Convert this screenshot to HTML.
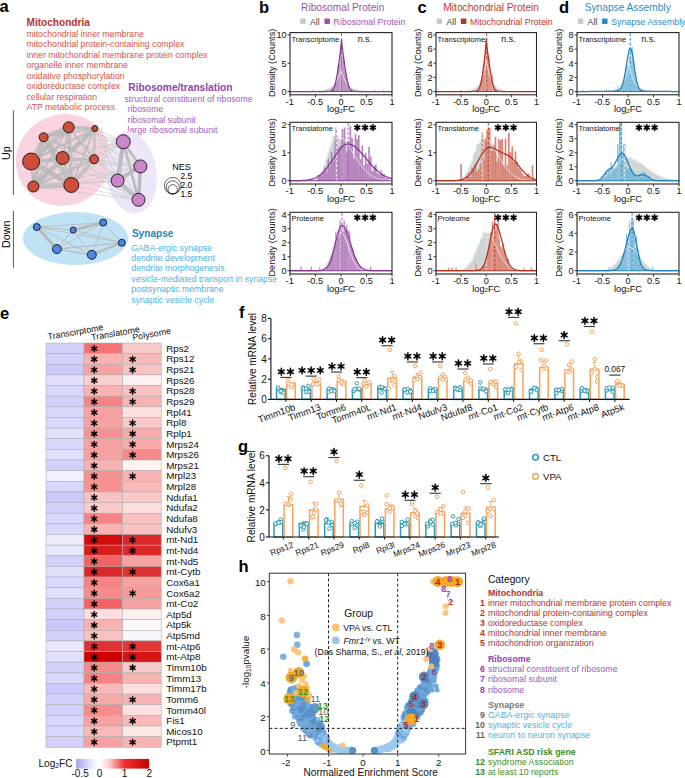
<!DOCTYPE html><html><head><meta charset="utf-8"><style>html,body{margin:0;padding:0;background:#fff;}svg{display:block;font-family:"Liberation Sans",sans-serif;}</style></head><body>
<svg width="685" height="778" viewBox="0 0 685 778">
<text x="-0.50" y="12.30" font-size="16.5" fill="#000" font-weight="bold" text-anchor="start" >a</text>
<text x="26.50" y="26.00" font-size="10.1" fill="#b5352a" font-weight="bold" text-anchor="start" >Mitochondria</text>
<text x="26.50" y="37.00" font-size="8.7" fill="#d4553f" font-weight="normal" text-anchor="start" >mitochondrial inner membrane</text>
<text x="26.50" y="47.47" font-size="8.7" fill="#d4553f" font-weight="normal" text-anchor="start" >mitochondrial protein-containing complex</text>
<text x="26.50" y="57.94" font-size="8.7" fill="#d4553f" font-weight="normal" text-anchor="start" >inner mitochondrial membrane protein complex</text>
<text x="26.50" y="68.41" font-size="8.7" fill="#d4553f" font-weight="normal" text-anchor="start" >organelle inner membrane</text>
<text x="26.50" y="78.88" font-size="8.7" fill="#d4553f" font-weight="normal" text-anchor="start" >oxidative phosphorylation</text>
<text x="26.50" y="89.35" font-size="8.7" fill="#d4553f" font-weight="normal" text-anchor="start" >oxidoreductase complex</text>
<text x="26.50" y="99.82" font-size="8.7" fill="#d4553f" font-weight="normal" text-anchor="start" >cellular respiration</text>
<text x="26.50" y="110.29" font-size="8.7" fill="#d4553f" font-weight="normal" text-anchor="start" >ATP metabolic process</text>
<text x="128.30" y="91.00" font-size="10.2" fill="#8e44a8" font-weight="bold" text-anchor="start" >Ribosome/translation</text>
<text x="124.50" y="101.70" font-size="8.7" fill="#a35bbf" font-weight="normal" text-anchor="start" >structural constituent of ribosome</text>
<text x="127.50" y="112.17" font-size="8.7" fill="#a35bbf" font-weight="normal" text-anchor="start" >ribosome</text>
<text x="127.50" y="122.64" font-size="8.7" fill="#a35bbf" font-weight="normal" text-anchor="start" >ribosomal subunit</text>
<text x="127.50" y="133.11" font-size="8.7" fill="#a35bbf" font-weight="normal" text-anchor="start" >large ribosomal subunit</text>
<text x="0.00" y="0.00" font-size="10.7" fill="#000" font-weight="normal" text-anchor="middle" transform="translate(10.3,153.2) rotate(-90)">Up</text>
<line x1="13.40" y1="110.40" x2="13.40" y2="194.90" stroke="#444" stroke-width="0.9" />
<text x="0.00" y="0.00" font-size="10.7" fill="#000" font-weight="normal" text-anchor="middle" transform="translate(10.3,234.3) rotate(-90)">Down</text>
<line x1="13.40" y1="211.00" x2="13.40" y2="267.80" stroke="#444" stroke-width="0.9" />
<ellipse cx="63.50" cy="160.00" rx="48.00" ry="45.50" fill="#f9d3e0" transform="rotate(-25 63.5 160)"/>
<ellipse cx="131.00" cy="172.50" rx="25.50" ry="41.50" fill="#ede6f9" transform="rotate(-8 131 172.5)"/>
<ellipse cx="75.50" cy="238.50" rx="52.50" ry="26.50" fill="#c0e2f5" />
<line x1="68.70" y1="127.30" x2="43.60" y2="137.20" stroke="#b9b9b9" stroke-width="4" stroke-opacity="0.85"/>
<line x1="68.70" y1="127.30" x2="94.90" y2="128.50" stroke="#b9b9b9" stroke-width="3" stroke-opacity="0.85"/>
<line x1="68.70" y1="127.30" x2="31.10" y2="161.50" stroke="#b9b9b9" stroke-width="5" stroke-opacity="0.85"/>
<line x1="68.70" y1="127.30" x2="62.60" y2="158.00" stroke="#b9b9b9" stroke-width="2" stroke-opacity="0.85"/>
<line x1="68.70" y1="127.30" x2="94.10" y2="159.20" stroke="#b9b9b9" stroke-width="2" stroke-opacity="0.85"/>
<line x1="68.70" y1="127.30" x2="33.40" y2="186.50" stroke="#b9b9b9" stroke-width="2" stroke-opacity="0.85"/>
<line x1="68.70" y1="127.30" x2="71.30" y2="185.00" stroke="#b9b9b9" stroke-width="4" stroke-opacity="0.85"/>
<line x1="43.60" y1="137.20" x2="94.90" y2="128.50" stroke="#b9b9b9" stroke-width="2" stroke-opacity="0.85"/>
<line x1="43.60" y1="137.20" x2="31.10" y2="161.50" stroke="#b9b9b9" stroke-width="3" stroke-opacity="0.85"/>
<line x1="43.60" y1="137.20" x2="62.60" y2="158.00" stroke="#b9b9b9" stroke-width="2" stroke-opacity="0.85"/>
<line x1="43.60" y1="137.20" x2="94.10" y2="159.20" stroke="#b9b9b9" stroke-width="2" stroke-opacity="0.85"/>
<line x1="43.60" y1="137.20" x2="33.40" y2="186.50" stroke="#b9b9b9" stroke-width="5" stroke-opacity="0.85"/>
<line x1="43.60" y1="137.20" x2="71.30" y2="185.00" stroke="#b9b9b9" stroke-width="5" stroke-opacity="0.85"/>
<line x1="94.90" y1="128.50" x2="31.10" y2="161.50" stroke="#b9b9b9" stroke-width="2" stroke-opacity="0.85"/>
<line x1="94.90" y1="128.50" x2="62.60" y2="158.00" stroke="#b9b9b9" stroke-width="3" stroke-opacity="0.85"/>
<line x1="94.90" y1="128.50" x2="94.10" y2="159.20" stroke="#b9b9b9" stroke-width="2" stroke-opacity="0.85"/>
<line x1="94.90" y1="128.50" x2="33.40" y2="186.50" stroke="#b9b9b9" stroke-width="5" stroke-opacity="0.85"/>
<line x1="94.90" y1="128.50" x2="71.30" y2="185.00" stroke="#b9b9b9" stroke-width="2" stroke-opacity="0.85"/>
<line x1="31.10" y1="161.50" x2="62.60" y2="158.00" stroke="#b9b9b9" stroke-width="2" stroke-opacity="0.85"/>
<line x1="31.10" y1="161.50" x2="94.10" y2="159.20" stroke="#b9b9b9" stroke-width="3" stroke-opacity="0.85"/>
<line x1="31.10" y1="161.50" x2="33.40" y2="186.50" stroke="#b9b9b9" stroke-width="2" stroke-opacity="0.85"/>
<line x1="31.10" y1="161.50" x2="71.30" y2="185.00" stroke="#b9b9b9" stroke-width="5" stroke-opacity="0.85"/>
<line x1="62.60" y1="158.00" x2="94.10" y2="159.20" stroke="#b9b9b9" stroke-width="2" stroke-opacity="0.85"/>
<line x1="62.60" y1="158.00" x2="33.40" y2="186.50" stroke="#b9b9b9" stroke-width="3" stroke-opacity="0.85"/>
<line x1="62.60" y1="158.00" x2="71.30" y2="185.00" stroke="#b9b9b9" stroke-width="2" stroke-opacity="0.85"/>
<line x1="94.10" y1="159.20" x2="33.40" y2="186.50" stroke="#b9b9b9" stroke-width="3" stroke-opacity="0.85"/>
<line x1="94.10" y1="159.20" x2="71.30" y2="185.00" stroke="#b9b9b9" stroke-width="4" stroke-opacity="0.85"/>
<line x1="33.40" y1="186.50" x2="71.30" y2="185.00" stroke="#b9b9b9" stroke-width="5" stroke-opacity="0.85"/>
<line x1="123.30" y1="141.70" x2="140.40" y2="166.40" stroke="#b9b9b9" stroke-width="2.5" />
<line x1="123.30" y1="141.70" x2="117.60" y2="180.50" stroke="#b9b9b9" stroke-width="4" />
<line x1="123.30" y1="141.70" x2="138.50" y2="199.80" stroke="#b9b9b9" stroke-width="2.5" />
<line x1="140.40" y1="166.40" x2="117.60" y2="180.50" stroke="#b9b9b9" stroke-width="4" />
<line x1="140.40" y1="166.40" x2="138.50" y2="199.80" stroke="#b9b9b9" stroke-width="3.5" />
<line x1="117.60" y1="180.50" x2="138.50" y2="199.80" stroke="#b9b9b9" stroke-width="4" />
<line x1="68.70" y1="127.30" x2="123.30" y2="141.70" stroke="#c8c8c8" stroke-width="0.7" />
<line x1="68.70" y1="127.30" x2="140.40" y2="166.40" stroke="#c8c8c8" stroke-width="0.7" />
<line x1="68.70" y1="127.30" x2="117.60" y2="180.50" stroke="#c8c8c8" stroke-width="0.7" />
<line x1="68.70" y1="127.30" x2="138.50" y2="199.80" stroke="#c8c8c8" stroke-width="0.7" />
<line x1="43.60" y1="137.20" x2="123.30" y2="141.70" stroke="#c8c8c8" stroke-width="0.7" />
<line x1="43.60" y1="137.20" x2="140.40" y2="166.40" stroke="#c8c8c8" stroke-width="0.7" />
<line x1="43.60" y1="137.20" x2="117.60" y2="180.50" stroke="#c8c8c8" stroke-width="0.7" />
<line x1="43.60" y1="137.20" x2="138.50" y2="199.80" stroke="#c8c8c8" stroke-width="0.7" />
<line x1="94.90" y1="128.50" x2="123.30" y2="141.70" stroke="#c8c8c8" stroke-width="0.7" />
<line x1="94.90" y1="128.50" x2="140.40" y2="166.40" stroke="#c8c8c8" stroke-width="0.7" />
<line x1="94.90" y1="128.50" x2="117.60" y2="180.50" stroke="#c8c8c8" stroke-width="0.7" />
<line x1="94.90" y1="128.50" x2="138.50" y2="199.80" stroke="#c8c8c8" stroke-width="0.7" />
<line x1="31.10" y1="161.50" x2="123.30" y2="141.70" stroke="#c8c8c8" stroke-width="0.7" />
<line x1="31.10" y1="161.50" x2="140.40" y2="166.40" stroke="#c8c8c8" stroke-width="0.7" />
<line x1="31.10" y1="161.50" x2="117.60" y2="180.50" stroke="#c8c8c8" stroke-width="0.7" />
<line x1="31.10" y1="161.50" x2="138.50" y2="199.80" stroke="#c8c8c8" stroke-width="0.7" />
<line x1="62.60" y1="158.00" x2="123.30" y2="141.70" stroke="#c8c8c8" stroke-width="0.7" />
<line x1="62.60" y1="158.00" x2="140.40" y2="166.40" stroke="#c8c8c8" stroke-width="0.7" />
<line x1="62.60" y1="158.00" x2="117.60" y2="180.50" stroke="#c8c8c8" stroke-width="0.7" />
<line x1="62.60" y1="158.00" x2="138.50" y2="199.80" stroke="#c8c8c8" stroke-width="0.7" />
<line x1="94.10" y1="159.20" x2="123.30" y2="141.70" stroke="#c8c8c8" stroke-width="0.7" />
<line x1="94.10" y1="159.20" x2="140.40" y2="166.40" stroke="#c8c8c8" stroke-width="0.7" />
<line x1="94.10" y1="159.20" x2="117.60" y2="180.50" stroke="#c8c8c8" stroke-width="0.7" />
<line x1="94.10" y1="159.20" x2="138.50" y2="199.80" stroke="#c8c8c8" stroke-width="0.7" />
<line x1="33.40" y1="186.50" x2="123.30" y2="141.70" stroke="#c8c8c8" stroke-width="0.7" />
<line x1="33.40" y1="186.50" x2="140.40" y2="166.40" stroke="#c8c8c8" stroke-width="0.7" />
<line x1="33.40" y1="186.50" x2="117.60" y2="180.50" stroke="#c8c8c8" stroke-width="0.7" />
<line x1="33.40" y1="186.50" x2="138.50" y2="199.80" stroke="#c8c8c8" stroke-width="0.7" />
<line x1="71.30" y1="185.00" x2="123.30" y2="141.70" stroke="#c8c8c8" stroke-width="0.7" />
<line x1="71.30" y1="185.00" x2="140.40" y2="166.40" stroke="#c8c8c8" stroke-width="0.7" />
<line x1="71.30" y1="185.00" x2="117.60" y2="180.50" stroke="#c8c8c8" stroke-width="0.7" />
<line x1="71.30" y1="185.00" x2="138.50" y2="199.80" stroke="#c8c8c8" stroke-width="0.7" />
<circle cx="68.70" cy="127.30" r="5.50" fill="#cd4f39" stroke="#000" stroke-width="0.8" />
<circle cx="43.60" cy="137.20" r="4.50" fill="#cd4f39" stroke="#000" stroke-width="0.8" />
<circle cx="94.90" cy="128.50" r="3.00" fill="#cd4f39" stroke="#000" stroke-width="0.8" />
<circle cx="31.10" cy="161.50" r="8.50" fill="#cd4f39" stroke="#000" stroke-width="0.8" />
<circle cx="62.60" cy="158.00" r="6.50" fill="#cd4f39" stroke="#000" stroke-width="0.8" />
<circle cx="94.10" cy="159.20" r="4.50" fill="#cd4f39" stroke="#000" stroke-width="0.8" />
<circle cx="33.40" cy="186.50" r="5.50" fill="#cd4f39" stroke="#000" stroke-width="0.8" />
<circle cx="71.30" cy="185.00" r="7.50" fill="#cd4f39" stroke="#000" stroke-width="0.8" />
<circle cx="123.30" cy="141.70" r="7.00" fill="#cc85c8" stroke="#000" stroke-width="0.8" />
<circle cx="140.40" cy="166.40" r="6.50" fill="#cc85c8" stroke="#000" stroke-width="0.8" />
<circle cx="117.60" cy="180.50" r="6.50" fill="#cc85c8" stroke="#000" stroke-width="0.8" />
<circle cx="138.50" cy="199.80" r="6.50" fill="#cc85c8" stroke="#000" stroke-width="0.8" />
<line x1="36.80" y1="227.00" x2="73.20" y2="230.00" stroke="#bababa" stroke-width="1.02" />
<line x1="36.80" y1="227.00" x2="103.20" y2="222.60" stroke="#bababa" stroke-width="0.85" />
<line x1="36.80" y1="227.00" x2="121.80" y2="242.70" stroke="#bababa" stroke-width="0.85" />
<line x1="36.80" y1="227.00" x2="56.90" y2="249.10" stroke="#bababa" stroke-width="2.975" />
<line x1="73.20" y1="230.00" x2="103.20" y2="222.60" stroke="#bababa" stroke-width="2.975" />
<line x1="73.20" y1="230.00" x2="121.80" y2="242.70" stroke="#bababa" stroke-width="0.85" />
<line x1="73.20" y1="230.00" x2="56.90" y2="249.10" stroke="#bababa" stroke-width="0.85" />
<line x1="103.20" y1="222.60" x2="121.80" y2="242.70" stroke="#bababa" stroke-width="0.85" />
<line x1="103.20" y1="222.60" x2="56.90" y2="249.10" stroke="#bababa" stroke-width="0.85" />
<line x1="121.80" y1="242.70" x2="56.90" y2="249.10" stroke="#bababa" stroke-width="1.275" />
<line x1="56.90" y1="249.10" x2="91.80" y2="254.80" stroke="#bababa" stroke-width="1.275" />
<line x1="73.20" y1="230.00" x2="91.80" y2="254.80" stroke="#bababa" stroke-width="0.85" />
<line x1="103.20" y1="222.60" x2="91.80" y2="254.80" stroke="#bababa" stroke-width="0.85" />
<line x1="36.80" y1="227.00" x2="91.80" y2="254.80" stroke="#bababa" stroke-width="0.85" />
<line x1="121.80" y1="242.70" x2="91.80" y2="254.80" stroke="#bababa" stroke-width="2.125" />
<circle cx="36.80" cy="227.00" r="3.50" fill="#4f86e6" stroke="#000" stroke-width="0.8" />
<circle cx="73.20" cy="230.00" r="3.00" fill="#4f86e6" stroke="#000" stroke-width="0.8" />
<circle cx="103.20" cy="222.60" r="3.50" fill="#4f86e6" stroke="#000" stroke-width="0.8" />
<circle cx="121.80" cy="242.70" r="3.50" fill="#4f86e6" stroke="#000" stroke-width="0.8" />
<circle cx="56.90" cy="249.10" r="4.50" fill="#4f86e6" stroke="#000" stroke-width="0.8" />
<circle cx="91.80" cy="254.80" r="4.50" fill="#4f86e6" stroke="#000" stroke-width="0.8" />
<text x="181.50" y="169.50" font-size="9" fill="#000" font-weight="normal" text-anchor="middle" >NES</text>
<circle cx="172.70" cy="185.70" r="8.30" fill="none" stroke="#000" stroke-width="0.6" />
<circle cx="172.70" cy="187.40" r="6.60" fill="none" stroke="#000" stroke-width="0.6" />
<circle cx="172.70" cy="189.30" r="4.70" fill="none" stroke="#000" stroke-width="0.6" />
<text x="180.50" y="178.50" font-size="8.5" fill="#000" font-weight="normal" text-anchor="start" >2.5</text>
<text x="180.50" y="187.50" font-size="8.5" fill="#000" font-weight="normal" text-anchor="start" >2.0</text>
<text x="180.50" y="196.50" font-size="8.5" fill="#000" font-weight="normal" text-anchor="start" >1.5</text>
<text x="131.90" y="236.50" font-size="10.1" fill="#2b86b3" font-weight="bold" text-anchor="start" >Synapse</text>
<text x="131.30" y="250.50" font-size="8.7" fill="#4cb2e3" font-weight="normal" text-anchor="start" >GABA-ergic synapse</text>
<text x="131.30" y="260.97" font-size="8.7" fill="#4cb2e3" font-weight="normal" text-anchor="start" >dendrite development</text>
<text x="131.30" y="271.44" font-size="8.7" fill="#4cb2e3" font-weight="normal" text-anchor="start" >dendrite morphogenesis</text>
<text x="131.30" y="281.91" font-size="8.7" fill="#4cb2e3" font-weight="normal" text-anchor="start" >vesicle-mediated transport in synapse</text>
<text x="131.30" y="292.38" font-size="8.7" fill="#4cb2e3" font-weight="normal" text-anchor="start" >postsynaptic membrane</text>
<text x="131.30" y="302.85" font-size="8.7" fill="#4cb2e3" font-weight="normal" text-anchor="start" >synaptic vesicle cycle</text>
<path d="M290.00,91.50h0.85V91.28h-0.85ZM290.85,91.50h0.85V91.27h-0.85ZM291.70,91.50h0.85V91.27h-0.85ZM292.55,91.50h0.85V91.28h-0.85ZM293.40,91.50h0.85V91.27h-0.85ZM294.25,91.50h0.85V91.28h-0.85ZM295.10,91.50h0.85V91.27h-0.85ZM295.95,91.50h0.85V91.27h-0.85ZM296.80,91.50h0.85V91.28h-0.85ZM297.65,91.50h0.85V91.28h-0.85ZM298.50,91.50h0.85V91.27h-0.85ZM299.35,91.50h0.85V91.28h-0.85ZM300.20,91.50h0.85V91.27h-0.85ZM301.05,91.50h0.85V91.29h-0.85ZM301.90,91.50h0.85V91.28h-0.85ZM302.75,91.50h0.85V91.27h-0.85ZM303.60,91.50h0.85V91.28h-0.85ZM304.45,91.50h0.85V91.26h-0.85ZM305.30,91.50h0.85V91.26h-0.85ZM306.15,91.50h0.85V91.28h-0.85ZM307.00,91.50h0.85V91.28h-0.85ZM307.85,91.50h0.85V91.27h-0.85ZM308.70,91.50h0.85V91.26h-0.85ZM309.55,91.50h0.85V91.28h-0.85ZM310.40,91.50h0.85V91.28h-0.85ZM311.25,91.50h0.85V91.28h-0.85ZM312.10,91.50h0.85V91.28h-0.85ZM312.95,91.50h0.85V91.28h-0.85ZM313.80,91.50h0.85V91.28h-0.85ZM314.65,91.50h0.85V91.27h-0.85ZM315.50,91.50h0.85V91.28h-0.85ZM316.35,91.50h0.85V91.28h-0.85ZM317.20,91.50h0.85V90.95h-0.85ZM318.05,91.50h0.85V90.86h-0.85ZM318.90,91.50h0.85V90.78h-0.85ZM319.75,91.50h0.85V90.70h-0.85ZM320.60,91.50h0.85V90.51h-0.85ZM321.45,91.50h0.85V90.41h-0.85ZM322.30,91.50h0.85V90.24h-0.85ZM323.15,91.50h0.85V90.13h-0.85ZM324.00,91.50h0.85V89.82h-0.85ZM324.85,91.50h0.85V89.61h-0.85ZM325.70,91.50h0.85V89.50h-0.85ZM326.55,91.50h0.85V89.17h-0.85ZM327.40,91.50h0.85V88.74h-0.85ZM328.25,91.50h0.85V88.36h-0.85ZM329.10,91.50h0.85V87.84h-0.85ZM329.95,91.50h0.85V87.54h-0.85ZM330.80,91.50h0.85V86.80h-0.85ZM331.65,91.50h0.85V86.23h-0.85ZM332.50,91.50h0.85V85.71h-0.85ZM333.35,91.50h0.85V84.72h-0.85ZM334.20,91.50h0.85V83.55h-0.85ZM335.05,91.50h0.85V82.47h-0.85ZM335.90,91.50h0.85V81.56h-0.85ZM336.75,91.50h0.85V80.08h-0.85ZM337.60,91.50h0.85V79.20h-0.85ZM338.45,91.50h0.85V77.19h-0.85ZM339.30,91.50h0.85V74.27h-0.85ZM340.15,91.50h0.85V72.61h-0.85ZM341.00,91.50h0.85V73.07h-0.85ZM341.85,91.50h0.85V74.69h-0.85ZM342.70,91.50h0.85V76.51h-0.85ZM343.55,91.50h0.85V78.38h-0.85ZM344.40,91.50h0.85V80.32h-0.85ZM345.25,91.50h0.85V81.62h-0.85ZM346.10,91.50h0.85V82.77h-0.85ZM346.95,91.50h0.85V83.63h-0.85ZM347.80,91.50h0.85V84.76h-0.85ZM348.65,91.50h0.85V85.66h-0.85ZM349.50,91.50h0.85V86.32h-0.85ZM350.35,91.50h0.85V87.16h-0.85ZM351.20,91.50h0.85V87.69h-0.85ZM352.05,91.50h0.85V87.92h-0.85ZM352.90,91.50h0.85V88.27h-0.85ZM353.75,91.50h0.85V88.77h-0.85ZM354.60,91.50h0.85V89.15h-0.85ZM355.45,91.50h0.85V89.49h-0.85ZM356.30,91.50h0.85V89.67h-0.85ZM357.15,91.50h0.85V89.82h-0.85ZM358.00,91.50h0.85V90.05h-0.85ZM358.85,91.50h0.85V90.26h-0.85ZM359.70,91.50h0.85V90.37h-0.85ZM360.55,91.50h0.85V90.57h-0.85ZM361.40,91.50h0.85V90.66h-0.85ZM362.25,91.50h0.85V90.73h-0.85ZM363.10,91.50h0.85V90.85h-0.85ZM363.95,91.50h0.85V90.94h-0.85ZM364.80,91.50h0.85V91.28h-0.85ZM365.65,91.50h0.85V91.27h-0.85ZM366.50,91.50h0.85V91.26h-0.85ZM367.35,91.50h0.85V91.29h-0.85ZM368.20,91.50h0.85V91.27h-0.85ZM369.05,91.50h0.85V91.27h-0.85ZM369.90,91.50h0.85V91.27h-0.85ZM370.75,91.50h0.85V91.27h-0.85ZM371.60,91.50h0.85V91.27h-0.85ZM372.45,91.50h0.85V91.27h-0.85ZM373.30,91.50h0.85V91.27h-0.85ZM374.15,91.50h0.85V91.28h-0.85ZM375.00,91.50h0.85V91.28h-0.85ZM375.85,91.50h0.85V91.27h-0.85ZM376.70,91.50h0.85V91.27h-0.85ZM377.55,91.50h0.85V91.28h-0.85ZM378.40,91.50h0.85V91.27h-0.85ZM379.25,91.50h0.85V91.27h-0.85ZM380.10,91.50h0.85V91.28h-0.85ZM380.95,91.50h0.85V91.28h-0.85ZM381.80,91.50h0.85V91.27h-0.85ZM382.65,91.50h0.85V91.27h-0.85ZM383.50,91.50h0.85V91.27h-0.85ZM384.35,91.50h0.85V91.27h-0.85ZM385.20,91.50h0.85V91.28h-0.85ZM386.05,91.50h0.85V91.28h-0.85ZM386.90,91.50h0.85V91.28h-0.85ZM387.75,91.50h0.85V91.27h-0.85ZM388.60,91.50h0.85V91.27h-0.85ZM389.45,91.50h0.85V91.27h-0.85ZM390.30,91.50h0.85V91.27h-0.85ZM391.15,91.50h0.85V91.27h-0.85Z" fill="#cad2d2" stroke="#ffffff" stroke-width="0.08" />
<path d="M332.50,91.50h0.85V89.63h-0.85ZM333.35,91.50h0.85V87.15h-0.85ZM334.20,91.50h0.85V85.07h-0.85ZM335.05,91.50h0.85V84.62h-0.85ZM335.90,91.50h0.85V82.03h-0.85ZM336.75,91.50h0.85V78.48h-0.85ZM337.60,91.50h0.85V64.80h-0.85ZM338.45,91.50h0.85V66.12h-0.85ZM339.30,91.50h0.85V63.33h-0.85ZM340.15,91.50h0.85V45.28h-0.85ZM341.00,91.50h0.85V43.33h-0.85ZM341.85,91.50h0.85V56.86h-0.85ZM342.70,91.50h0.85V60.24h-0.85ZM343.55,91.50h0.85V58.66h-0.85ZM344.40,91.50h0.85V69.96h-0.85ZM345.25,91.50h0.85V73.42h-0.85ZM346.10,91.50h0.85V74.22h-0.85ZM346.95,91.50h0.85V80.76h-0.85ZM347.80,91.50h0.85V84.78h-0.85ZM348.65,91.50h0.85V86.78h-0.85ZM349.50,91.50h0.85V89.35h-0.85ZM312.52,91.50h0.85V89.52h-0.85ZM360.97,91.50h0.85V90.09h-0.85ZM374.75,91.50h0.85V89.81h-0.85ZM382.90,91.50h0.85V89.81h-0.85ZM331.39,91.50h0.85V88.11h-0.85Z" fill="#a866b2" stroke="#ffffff" stroke-width="0.12" fill-opacity="0.85"/>
<line x1="341.00" y1="33.40" x2="341.00" y2="91.50" stroke="#eef2f2" stroke-width="1.0" stroke-dasharray="2.6,2"/>
<line x1="341.51" y1="33.40" x2="341.51" y2="91.50" stroke="#9b59a8" stroke-width="1.0" stroke-dasharray="2.6,2"/>
<path d="M290.00,91.49 L290.51,91.49 L291.02,91.49 L291.53,91.49 L292.04,91.49 L292.55,91.49 L293.06,91.49 L293.57,91.49 L294.08,91.48 L294.59,91.48 L295.10,91.48 L295.61,91.48 L296.12,91.48 L296.63,91.48 L297.14,91.48 L297.65,91.47 L298.16,91.47 L298.67,91.47 L299.18,91.47 L299.69,91.46 L300.20,91.46 L300.71,91.46 L301.22,91.45 L301.73,91.45 L302.24,91.45 L302.75,91.44 L303.26,91.44 L303.77,91.43 L304.28,91.43 L304.79,91.42 L305.30,91.41 L305.81,91.41 L306.32,91.40 L306.83,91.39 L307.34,91.38 L307.85,91.37 L308.36,91.36 L308.87,91.35 L309.38,91.34 L309.89,91.33 L310.40,91.31 L310.91,91.30 L311.42,91.28 L311.93,91.26 L312.44,91.24 L312.95,91.22 L313.46,91.20 L313.97,91.18 L314.48,91.15 L314.99,91.12 L315.50,91.09 L316.01,91.06 L316.52,91.02 L317.03,90.98 L317.54,90.94 L318.05,90.90 L318.56,90.85 L319.07,90.79 L319.58,90.74 L320.09,90.67 L320.60,90.61 L321.11,90.53 L321.62,90.46 L322.13,90.37 L322.64,90.28 L323.15,90.18 L323.66,90.07 L324.17,89.96 L324.68,89.83 L325.19,89.69 L325.70,89.55 L326.21,89.39 L326.72,89.22 L327.23,89.03 L327.74,88.83 L328.25,88.62 L328.76,88.38 L329.27,88.13 L329.78,87.85 L330.29,87.56 L330.80,87.24 L331.31,86.89 L331.82,86.52 L332.33,86.11 L332.84,85.67 L333.35,85.20 L333.86,84.69 L334.37,84.13 L334.88,83.53 L335.39,82.89 L335.90,82.19 L336.41,81.43 L336.92,80.61 L337.43,79.73 L337.94,78.77 L338.45,77.74 L338.96,76.62 L339.47,75.41 L339.98,74.10 L340.49,72.69 L341.00,71.16 L341.51,72.69 L342.02,74.10 L342.53,75.41 L343.04,76.62 L343.55,77.74 L344.06,78.77 L344.57,79.73 L345.08,80.61 L345.59,81.43 L346.10,82.19 L346.61,82.89 L347.12,83.53 L347.63,84.13 L348.14,84.69 L348.65,85.20 L349.16,85.67 L349.67,86.11 L350.18,86.52 L350.69,86.89 L351.20,87.24 L351.71,87.56 L352.22,87.85 L352.73,88.13 L353.24,88.38 L353.75,88.62 L354.26,88.83 L354.77,89.03 L355.28,89.22 L355.79,89.39 L356.30,89.55 L356.81,89.69 L357.32,89.83 L357.83,89.96 L358.34,90.07 L358.85,90.18 L359.36,90.28 L359.87,90.37 L360.38,90.46 L360.89,90.53 L361.40,90.61 L361.91,90.67 L362.42,90.74 L362.93,90.79 L363.44,90.85 L363.95,90.90 L364.46,90.94 L364.97,90.98 L365.48,91.02 L365.99,91.06 L366.50,91.09 L367.01,91.12 L367.52,91.15 L368.03,91.18 L368.54,91.20 L369.05,91.22 L369.56,91.24 L370.07,91.26 L370.58,91.28 L371.09,91.30 L371.60,91.31 L372.11,91.33 L372.62,91.34 L373.13,91.35 L373.64,91.36 L374.15,91.37 L374.66,91.38 L375.17,91.39 L375.68,91.40 L376.19,91.41 L376.70,91.41 L377.21,91.42 L377.72,91.43 L378.23,91.43 L378.74,91.44 L379.25,91.44 L379.76,91.45 L380.27,91.45 L380.78,91.45 L381.29,91.46 L381.80,91.46 L382.31,91.46 L382.82,91.47 L383.33,91.47 L383.84,91.47 L384.35,91.47 L384.86,91.48 L385.37,91.48 L385.88,91.48 L386.39,91.48 L386.90,91.48 L387.41,91.48 L387.92,91.48 L388.43,91.49 L388.94,91.49 L389.45,91.49 L389.96,91.49 L390.47,91.49 L390.98,91.49 L391.49,91.49 L392.00,91.49" fill="none" stroke="#e6eaea" stroke-width="0.9" />
<path d="M290.00,91.50 L290.51,91.50 L291.02,91.50 L291.53,91.50 L292.04,91.50 L292.55,91.50 L293.06,91.50 L293.57,91.50 L294.08,91.50 L294.59,91.50 L295.10,91.50 L295.61,91.50 L296.12,91.50 L296.63,91.50 L297.14,91.50 L297.65,91.50 L298.16,91.50 L298.67,91.50 L299.18,91.50 L299.69,91.50 L300.20,91.50 L300.71,91.50 L301.22,91.50 L301.73,91.50 L302.24,91.50 L302.75,91.50 L303.26,91.50 L303.77,91.50 L304.28,91.50 L304.79,91.50 L305.30,91.50 L305.81,91.50 L306.32,91.50 L306.83,91.50 L307.34,91.50 L307.85,91.50 L308.36,91.50 L308.87,91.50 L309.38,91.50 L309.89,91.50 L310.40,91.50 L310.91,91.50 L311.42,91.50 L311.93,91.50 L312.44,91.50 L312.95,91.50 L313.46,91.50 L313.97,91.50 L314.48,91.50 L314.99,91.50 L315.50,91.50 L316.01,91.50 L316.52,91.50 L317.03,91.50 L317.54,91.50 L318.05,91.50 L318.56,91.50 L319.07,91.50 L319.58,91.50 L320.09,91.50 L320.60,91.50 L321.11,91.50 L321.62,91.50 L322.13,91.50 L322.64,91.50 L323.15,91.50 L323.66,91.50 L324.17,91.50 L324.68,91.50 L325.19,91.50 L325.70,91.50 L326.21,91.49 L326.72,91.49 L327.23,91.48 L327.74,91.47 L328.25,91.46 L328.76,91.43 L329.27,91.38 L329.78,91.31 L330.29,91.21 L330.80,91.06 L331.31,90.84 L331.82,90.53 L332.33,90.10 L332.84,89.53 L333.35,88.77 L333.86,87.79 L334.37,86.56 L334.88,85.05 L335.39,83.22 L335.90,81.07 L336.41,78.60 L336.92,75.83 L337.43,72.78 L337.94,69.52 L338.45,66.07 L338.96,62.49 L339.47,58.77 L339.98,54.86 L340.49,50.60 L341.00,45.67 L341.51,39.55 L342.02,45.27 L342.53,49.82 L343.04,53.74 L343.55,57.38 L344.06,60.90 L344.57,64.36 L345.08,67.75 L345.59,71.04 L346.10,74.16 L346.61,77.05 L347.12,79.68 L347.63,82.01 L348.14,84.01 L348.65,85.71 L349.16,87.10 L349.67,88.22 L350.18,89.10 L350.69,89.78 L351.20,90.29 L351.71,90.66 L352.22,90.93 L352.73,91.12 L353.24,91.26 L353.75,91.34 L354.26,91.40 L354.77,91.44 L355.28,91.46 L355.79,91.48 L356.30,91.49 L356.81,91.49 L357.32,91.50 L357.83,91.50 L358.34,91.50 L358.85,91.50 L359.36,91.50 L359.87,91.50 L360.38,91.50 L360.89,91.50 L361.40,91.50 L361.91,91.50 L362.42,91.50 L362.93,91.50 L363.44,91.50 L363.95,91.50 L364.46,91.50 L364.97,91.50 L365.48,91.50 L365.99,91.50 L366.50,91.50 L367.01,91.50 L367.52,91.50 L368.03,91.50 L368.54,91.50 L369.05,91.50 L369.56,91.50 L370.07,91.50 L370.58,91.50 L371.09,91.50 L371.60,91.50 L372.11,91.50 L372.62,91.50 L373.13,91.50 L373.64,91.50 L374.15,91.50 L374.66,91.50 L375.17,91.50 L375.68,91.50 L376.19,91.50 L376.70,91.50 L377.21,91.50 L377.72,91.50 L378.23,91.50 L378.74,91.50 L379.25,91.50 L379.76,91.50 L380.27,91.50 L380.78,91.50 L381.29,91.50 L381.80,91.50 L382.31,91.50 L382.82,91.50 L383.33,91.50 L383.84,91.50 L384.35,91.50 L384.86,91.50 L385.37,91.50 L385.88,91.50 L386.39,91.50 L386.90,91.50 L387.41,91.50 L387.92,91.50 L388.43,91.50 L388.94,91.50 L389.45,91.50 L389.96,91.50 L390.47,91.50 L390.98,91.50 L391.49,91.50 L392.00,91.50" fill="none" stroke="#84378e" stroke-width="1.25" />
<line x1="290.00" y1="91.50" x2="392.00" y2="91.50" stroke="#84378e" stroke-width="1.1" />
<rect x="290.00" y="32.60" width="102.00" height="62.20" fill="none" stroke="#262626" stroke-width="1.1" />
<line x1="287.50" y1="91.50" x2="290.00" y2="91.50" stroke="#222" stroke-width="0.9" />
<text x="286.70" y="94.80" font-size="9.2" fill="#111" font-weight="normal" text-anchor="end" >0</text>
<line x1="287.50" y1="63.25" x2="290.00" y2="63.25" stroke="#222" stroke-width="0.9" />
<text x="286.70" y="66.55" font-size="9.2" fill="#111" font-weight="normal" text-anchor="end" >5</text>
<line x1="287.50" y1="35.00" x2="290.00" y2="35.00" stroke="#222" stroke-width="0.9" />
<text x="286.70" y="38.30" font-size="9.2" fill="#111" font-weight="normal" text-anchor="end" >10</text>
<line x1="290.00" y1="94.80" x2="290.00" y2="97.30" stroke="#222" stroke-width="0.9" />
<text x="289.70" y="104.80" font-size="9.2" fill="#111" font-weight="normal" text-anchor="middle" >-1</text>
<line x1="315.50" y1="94.80" x2="315.50" y2="97.30" stroke="#222" stroke-width="0.9" />
<text x="315.20" y="104.80" font-size="9.2" fill="#111" font-weight="normal" text-anchor="middle" >-0.5</text>
<line x1="341.00" y1="94.80" x2="341.00" y2="97.30" stroke="#222" stroke-width="0.9" />
<text x="341.00" y="104.80" font-size="9.2" fill="#111" font-weight="normal" text-anchor="middle" >0</text>
<line x1="366.50" y1="94.80" x2="366.50" y2="97.30" stroke="#222" stroke-width="0.9" />
<text x="366.50" y="104.80" font-size="9.2" fill="#111" font-weight="normal" text-anchor="middle" >0.5</text>
<line x1="392.00" y1="94.80" x2="392.00" y2="97.30" stroke="#222" stroke-width="0.9" />
<text x="392.00" y="104.80" font-size="9.2" fill="#111" font-weight="normal" text-anchor="middle" >1</text>
<text x="341.00" y="112.40" font-size="9.4" fill="#111" font-weight="normal" text-anchor="middle" >log<tspan font-size="5.8" dy="0.8">2</tspan><tspan dy="-0.8">FC</tspan></text>
<text x="0.00" y="0.00" font-size="9.2" fill="#111" font-weight="normal" text-anchor="middle" transform="translate(275.2,62.900000000000006) rotate(-90)">Density (Counts)</text>
<text x="291.50" y="41.60" font-size="7.5" fill="#111" font-weight="normal" text-anchor="start" >Transcriptome</text>
<text x="357.70" y="42.40" font-size="8.8" fill="#111" font-weight="normal" text-anchor="start" >n.s.</text>
<path d="M290.00,180.70h1.70V180.46h-1.70ZM291.70,180.70h1.70V180.46h-1.70ZM293.40,180.70h1.70V180.49h-1.70ZM295.10,180.70h1.70V180.49h-1.70ZM296.80,180.70h1.70V180.46h-1.70ZM298.50,180.70h1.70V180.47h-1.70ZM300.20,180.70h1.70V180.47h-1.70ZM301.90,180.70h1.70V180.48h-1.70ZM303.60,180.70h1.70V180.47h-1.70ZM305.30,180.70h1.70V180.47h-1.70ZM307.00,180.70h1.70V180.47h-1.70ZM308.70,180.70h1.70V180.49h-1.70ZM310.40,180.70h1.70V180.48h-1.70ZM312.10,180.70h1.70V179.93h-1.70ZM313.80,180.70h1.70V179.27h-1.70ZM315.50,180.70h1.70V178.18h-1.70ZM317.20,180.70h1.70V176.63h-1.70ZM318.90,180.70h1.70V174.72h-1.70ZM320.60,180.70h1.70V171.93h-1.70ZM322.30,180.70h1.70V168.53h-1.70ZM324.00,180.70h1.70V164.68h-1.70ZM325.70,180.70h1.70V159.77h-1.70ZM327.40,180.70h1.70V152.65h-1.70ZM329.10,180.70h1.70V147.81h-1.70ZM330.80,180.70h1.70V142.59h-1.70ZM332.50,180.70h1.70V135.53h-1.70ZM334.20,180.70h1.70V135.62h-1.70ZM335.90,180.70h1.70V134.95h-1.70ZM337.60,180.70h1.70V137.52h-1.70ZM339.30,180.70h1.70V139.72h-1.70ZM341.00,180.70h1.70V138.94h-1.70ZM342.70,180.70h1.70V141.71h-1.70ZM344.40,180.70h1.70V141.38h-1.70ZM346.10,180.70h1.70V140.93h-1.70ZM347.80,180.70h1.70V145.29h-1.70ZM349.50,180.70h1.70V150.36h-1.70ZM351.20,180.70h1.70V149.86h-1.70ZM352.90,180.70h1.70V153.18h-1.70ZM354.60,180.70h1.70V156.28h-1.70ZM356.30,180.70h1.70V158.51h-1.70ZM358.00,180.70h1.70V161.63h-1.70ZM359.70,180.70h1.70V164.07h-1.70ZM361.40,180.70h1.70V167.30h-1.70ZM363.10,180.70h1.70V168.20h-1.70ZM364.80,180.70h1.70V170.20h-1.70ZM366.50,180.70h1.70V172.93h-1.70ZM368.20,180.70h1.70V173.69h-1.70ZM369.90,180.70h1.70V175.00h-1.70ZM371.60,180.70h1.70V176.26h-1.70ZM373.30,180.70h1.70V177.11h-1.70ZM375.00,180.70h1.70V177.87h-1.70ZM376.70,180.70h1.70V178.34h-1.70ZM378.40,180.70h1.70V178.98h-1.70ZM380.10,180.70h1.70V179.31h-1.70ZM381.80,180.70h1.70V179.72h-1.70ZM383.50,180.70h1.70V179.90h-1.70ZM385.20,180.70h1.70V180.10h-1.70ZM386.90,180.70h1.70V180.48h-1.70ZM388.60,180.70h1.70V180.47h-1.70ZM390.30,180.70h1.70V180.46h-1.70Z" fill="#cad2d2" stroke="#ffffff" stroke-width="0.08" />
<path d="M317.20,180.70h1.70V175.12h-1.70ZM318.90,180.70h1.70V174.95h-1.70ZM320.60,180.70h1.70V175.37h-1.70ZM322.30,180.70h1.70V173.22h-1.70ZM324.00,180.70h1.70V167.61h-1.70ZM325.70,180.70h1.70V171.79h-1.70ZM327.40,180.70h1.70V158.94h-1.70ZM329.10,180.70h1.70V166.60h-1.70ZM330.80,180.70h1.70V151.42h-1.70ZM332.50,180.70h1.70V161.34h-1.70ZM334.20,180.70h1.70V142.36h-1.70ZM335.90,180.70h1.70V145.55h-1.70ZM337.60,180.70h1.70V148.72h-1.70ZM339.30,180.70h1.70V145.98h-1.70ZM341.00,180.70h1.70V139.33h-1.70ZM342.70,180.70h1.70V139.90h-1.70ZM344.40,180.70h1.70V149.13h-1.70ZM346.10,180.70h1.70V152.67h-1.70ZM347.80,180.70h1.70V141.15h-1.70ZM349.50,180.70h1.70V125.67h-1.70ZM351.20,180.70h1.70V138.12h-1.70ZM352.90,180.70h1.70V158.91h-1.70ZM354.60,180.70h1.70V133.83h-1.70ZM356.30,180.70h1.70V138.97h-1.70ZM358.00,180.70h1.70V135.37h-1.70ZM359.70,180.70h1.70V159.28h-1.70ZM361.40,180.70h1.70V145.41h-1.70ZM363.10,180.70h1.70V165.61h-1.70ZM364.80,180.70h1.70V152.92h-1.70ZM366.50,180.70h1.70V163.55h-1.70ZM368.20,180.70h1.70V166.13h-1.70ZM369.90,180.70h1.70V156.53h-1.70ZM371.60,180.70h1.70V170.99h-1.70ZM373.30,180.70h1.70V166.61h-1.70ZM375.00,180.70h1.70V164.56h-1.70ZM376.70,180.70h1.70V172.89h-1.70ZM378.40,180.70h1.70V174.31h-1.70ZM380.10,180.70h1.70V170.37h-1.70ZM381.80,180.70h1.70V174.82h-1.70ZM383.50,180.70h1.70V174.29h-1.70ZM385.20,180.70h1.70V178.31h-1.70ZM386.90,180.70h1.70V177.58h-1.70ZM335.36,180.70h1.70V127.50h-1.70ZM341.68,180.70h1.70V128.90h-1.70ZM343.72,180.70h1.70V127.50h-1.70ZM368.20,180.70h1.70V147.10h-1.70Z" fill="#a866b2" stroke="#ffffff" stroke-width="0.12" fill-opacity="0.85"/>
<line x1="336.56" y1="123.10" x2="336.56" y2="180.70" stroke="#eef2f2" stroke-width="1.0" stroke-dasharray="2.6,2"/>
<line x1="348.14" y1="123.10" x2="348.14" y2="180.70" stroke="#9b59a8" stroke-width="1.0" stroke-dasharray="2.6,2"/>
<path d="M290.00,180.70 L290.51,180.70 L291.02,180.70 L291.53,180.70 L292.04,180.70 L292.55,180.70 L293.06,180.70 L293.57,180.70 L294.08,180.70 L294.59,180.70 L295.10,180.70 L295.61,180.70 L296.12,180.70 L296.63,180.70 L297.14,180.70 L297.65,180.70 L298.16,180.70 L298.67,180.70 L299.18,180.70 L299.69,180.70 L300.20,180.70 L300.71,180.70 L301.22,180.70 L301.73,180.69 L302.24,180.69 L302.75,180.69 L303.26,180.69 L303.77,180.68 L304.28,180.68 L304.79,180.67 L305.30,180.67 L305.81,180.66 L306.32,180.64 L306.83,180.63 L307.34,180.61 L307.85,180.59 L308.36,180.57 L308.87,180.53 L309.38,180.50 L309.89,180.45 L310.40,180.39 L310.91,180.33 L311.42,180.25 L311.93,180.16 L312.44,180.05 L312.95,179.92 L313.46,179.77 L313.97,179.59 L314.48,179.39 L314.99,179.16 L315.50,178.89 L316.01,178.58 L316.52,178.23 L317.03,177.83 L317.54,177.39 L318.05,176.88 L318.56,176.32 L319.07,175.70 L319.58,175.01 L320.09,174.25 L320.60,173.42 L321.11,172.51 L321.62,171.52 L322.13,170.45 L322.64,169.31 L323.15,168.09 L323.66,166.79 L324.17,165.42 L324.68,163.97 L325.19,162.46 L325.70,160.90 L326.21,159.28 L326.72,157.62 L327.23,155.93 L327.74,154.22 L328.25,152.50 L328.76,150.79 L329.27,149.09 L329.78,147.43 L330.29,145.82 L330.80,144.28 L331.31,142.81 L331.82,141.44 L332.33,140.18 L332.84,139.04 L333.35,138.03 L333.86,137.18 L334.37,136.47 L334.88,135.93 L335.39,135.57 L335.90,135.37 L336.41,135.34 L336.92,135.38 L337.43,135.46 L337.94,135.58 L338.45,135.74 L338.96,135.94 L339.47,136.19 L339.98,136.47 L340.49,136.79 L341.00,137.14 L341.51,137.54 L342.02,137.97 L342.53,138.43 L343.04,138.93 L343.55,139.46 L344.06,140.02 L344.57,140.61 L345.08,141.23 L345.59,141.87 L346.10,142.54 L346.61,143.23 L347.12,143.94 L347.63,144.67 L348.14,145.42 L348.65,146.19 L349.16,146.97 L349.67,147.76 L350.18,148.57 L350.69,149.38 L351.20,150.20 L351.71,151.02 L352.22,151.85 L352.73,152.69 L353.24,153.52 L353.75,154.35 L354.26,155.19 L354.77,156.01 L355.28,156.84 L355.79,157.65 L356.30,158.46 L356.81,159.26 L357.32,160.05 L357.83,160.83 L358.34,161.60 L358.85,162.35 L359.36,163.09 L359.87,163.82 L360.38,164.53 L360.89,165.23 L361.40,165.91 L361.91,166.57 L362.42,167.21 L362.93,167.84 L363.44,168.45 L363.95,169.04 L364.46,169.62 L364.97,170.17 L365.48,170.71 L365.99,171.22 L366.50,171.72 L367.01,172.20 L367.52,172.67 L368.03,173.11 L368.54,173.54 L369.05,173.94 L369.56,174.33 L370.07,174.71 L370.58,175.07 L371.09,175.41 L371.60,175.73 L372.11,176.04 L372.62,176.33 L373.13,176.61 L373.64,176.88 L374.15,177.13 L374.66,177.37 L375.17,177.59 L375.68,177.80 L376.19,178.00 L376.70,178.19 L377.21,178.37 L377.72,178.54 L378.23,178.69 L378.74,178.84 L379.25,178.98 L379.76,179.11 L380.27,179.23 L380.78,179.34 L381.29,179.45 L381.80,179.54 L382.31,179.64 L382.82,179.72 L383.33,179.80 L383.84,179.87 L384.35,179.94 L384.86,180.01 L385.37,180.06 L385.88,180.12 L386.39,180.17 L386.90,180.21 L387.41,180.26 L387.92,180.30 L388.43,180.33 L388.94,180.37 L389.45,180.40 L389.96,180.42 L390.47,180.45 L390.98,180.47 L391.49,180.49 L392.00,180.51" fill="none" stroke="#e6eaea" stroke-width="0.9" />
<path d="M290.00,180.69 L290.51,180.69 L291.02,180.69 L291.53,180.68 L292.04,180.68 L292.55,180.68 L293.06,180.68 L293.57,180.67 L294.08,180.67 L294.59,180.66 L295.10,180.66 L295.61,180.65 L296.12,180.65 L296.63,180.64 L297.14,180.63 L297.65,180.62 L298.16,180.61 L298.67,180.60 L299.18,180.58 L299.69,180.57 L300.20,180.55 L300.71,180.53 L301.22,180.51 L301.73,180.49 L302.24,180.47 L302.75,180.44 L303.26,180.41 L303.77,180.37 L304.28,180.33 L304.79,180.29 L305.30,180.25 L305.81,180.20 L306.32,180.14 L306.83,180.08 L307.34,180.01 L307.85,179.94 L308.36,179.86 L308.87,179.78 L309.38,179.69 L309.89,179.58 L310.40,179.47 L310.91,179.36 L311.42,179.23 L311.93,179.09 L312.44,178.94 L312.95,178.78 L313.46,178.61 L313.97,178.42 L314.48,178.22 L314.99,178.01 L315.50,177.78 L316.01,177.54 L316.52,177.28 L317.03,177.01 L317.54,176.72 L318.05,176.41 L318.56,176.08 L319.07,175.74 L319.58,175.37 L320.09,174.99 L320.60,174.58 L321.11,174.16 L321.62,173.72 L322.13,173.25 L322.64,172.77 L323.15,172.26 L323.66,171.73 L324.17,171.19 L324.68,170.62 L325.19,170.03 L325.70,169.42 L326.21,168.79 L326.72,168.14 L327.23,167.48 L327.74,166.80 L328.25,166.10 L328.76,165.38 L329.27,164.65 L329.78,163.91 L330.29,163.15 L330.80,162.39 L331.31,161.61 L331.82,160.83 L332.33,160.04 L332.84,159.25 L333.35,158.45 L333.86,157.66 L334.37,156.87 L334.88,156.08 L335.39,155.30 L335.90,154.52 L336.41,153.76 L336.92,153.01 L337.43,152.28 L337.94,151.56 L338.45,150.87 L338.96,150.19 L339.47,149.55 L339.98,148.92 L340.49,148.33 L341.00,147.77 L341.51,147.24 L342.02,146.74 L342.53,146.29 L343.04,145.87 L343.55,145.49 L344.06,145.15 L344.57,144.85 L345.08,144.60 L345.59,144.39 L346.10,144.23 L346.61,144.11 L347.12,144.04 L347.63,144.02 L348.14,144.03 L348.65,144.08 L349.16,144.15 L349.67,144.25 L350.18,144.37 L350.69,144.53 L351.20,144.71 L351.71,144.91 L352.22,145.15 L352.73,145.41 L353.24,145.69 L353.75,146.00 L354.26,146.34 L354.77,146.69 L355.28,147.07 L355.79,147.47 L356.30,147.89 L356.81,148.33 L357.32,148.79 L357.83,149.27 L358.34,149.76 L358.85,150.27 L359.36,150.79 L359.87,151.33 L360.38,151.88 L360.89,152.44 L361.40,153.01 L361.91,153.59 L362.42,154.18 L362.93,154.78 L363.44,155.38 L363.95,155.99 L364.46,156.60 L364.97,157.22 L365.48,157.83 L365.99,158.45 L366.50,159.07 L367.01,159.69 L367.52,160.30 L368.03,160.91 L368.54,161.52 L369.05,162.13 L369.56,162.73 L370.07,163.32 L370.58,163.91 L371.09,164.49 L371.60,165.06 L372.11,165.62 L372.62,166.17 L373.13,166.72 L373.64,167.25 L374.15,167.78 L374.66,168.29 L375.17,168.79 L375.68,169.28 L376.19,169.76 L376.70,170.23 L377.21,170.68 L377.72,171.12 L378.23,171.55 L378.74,171.97 L379.25,172.38 L379.76,172.77 L380.27,173.15 L380.78,173.51 L381.29,173.87 L381.80,174.21 L382.31,174.54 L382.82,174.86 L383.33,175.16 L383.84,175.45 L384.35,175.74 L384.86,176.01 L385.37,176.26 L385.88,176.51 L386.39,176.75 L386.90,176.98 L387.41,177.19 L387.92,177.40 L388.43,177.59 L388.94,177.78 L389.45,177.96 L389.96,178.13 L390.47,178.29 L390.98,178.44 L391.49,178.59 L392.00,178.72" fill="none" stroke="#84378e" stroke-width="1.25" />
<line x1="290.00" y1="180.70" x2="392.00" y2="180.70" stroke="#84378e" stroke-width="1.1" />
<rect x="290.00" y="122.30" width="102.00" height="61.70" fill="none" stroke="#262626" stroke-width="1.1" />
<line x1="287.50" y1="180.70" x2="290.00" y2="180.70" stroke="#222" stroke-width="0.9" />
<text x="286.70" y="184.00" font-size="9.2" fill="#111" font-weight="normal" text-anchor="end" >0</text>
<line x1="287.50" y1="152.70" x2="290.00" y2="152.70" stroke="#222" stroke-width="0.9" />
<text x="286.70" y="156.00" font-size="9.2" fill="#111" font-weight="normal" text-anchor="end" >1</text>
<line x1="287.50" y1="124.70" x2="290.00" y2="124.70" stroke="#222" stroke-width="0.9" />
<text x="286.70" y="128.00" font-size="9.2" fill="#111" font-weight="normal" text-anchor="end" >2</text>
<line x1="290.00" y1="184.00" x2="290.00" y2="186.50" stroke="#222" stroke-width="0.9" />
<text x="289.70" y="194.00" font-size="9.2" fill="#111" font-weight="normal" text-anchor="middle" >-1</text>
<line x1="315.50" y1="184.00" x2="315.50" y2="186.50" stroke="#222" stroke-width="0.9" />
<text x="315.20" y="194.00" font-size="9.2" fill="#111" font-weight="normal" text-anchor="middle" >-0.5</text>
<line x1="341.00" y1="184.00" x2="341.00" y2="186.50" stroke="#222" stroke-width="0.9" />
<text x="341.00" y="194.00" font-size="9.2" fill="#111" font-weight="normal" text-anchor="middle" >0</text>
<line x1="366.50" y1="184.00" x2="366.50" y2="186.50" stroke="#222" stroke-width="0.9" />
<text x="366.50" y="194.00" font-size="9.2" fill="#111" font-weight="normal" text-anchor="middle" >0.5</text>
<line x1="392.00" y1="184.00" x2="392.00" y2="186.50" stroke="#222" stroke-width="0.9" />
<text x="392.00" y="194.00" font-size="9.2" fill="#111" font-weight="normal" text-anchor="middle" >1</text>
<text x="341.00" y="201.60" font-size="9.4" fill="#111" font-weight="normal" text-anchor="middle" >log<tspan font-size="5.8" dy="0.8">2</tspan><tspan dy="-0.8">FC</tspan></text>
<text x="0.00" y="0.00" font-size="9.2" fill="#111" font-weight="normal" text-anchor="middle" transform="translate(275.2,152.35) rotate(-90)">Density (Counts)</text>
<text x="291.50" y="131.30" font-size="7.5" fill="#111" font-weight="normal" text-anchor="start" >Translatome</text>
<path d="M358.23,127.60 L357.93,124.20 L356.67,124.20 L356.37,127.60ZM357.76,128.41 L360.56,126.45 L359.93,125.35 L356.84,126.79ZM356.84,128.41 L359.93,129.85 L360.56,128.75 L357.76,126.79ZM356.37,127.60 L356.67,131.00 L357.93,131.00 L358.23,127.60ZM356.84,126.79 L354.04,128.75 L354.67,129.85 L357.76,128.41ZM357.76,126.79 L354.67,125.35 L354.04,126.45 L356.84,128.41Z" fill="#000" stroke="#000" stroke-width="0.25" />
<path d="M366.03,127.60 L365.73,124.20 L364.47,124.20 L364.17,127.60ZM365.56,128.41 L368.36,126.45 L367.73,125.35 L364.64,126.79ZM364.64,128.41 L367.73,129.85 L368.36,128.75 L365.56,126.79ZM364.17,127.60 L364.47,131.00 L365.73,131.00 L366.03,127.60ZM364.64,126.79 L361.84,128.75 L362.47,129.85 L365.56,128.41ZM365.56,126.79 L362.47,125.35 L361.84,126.45 L364.64,128.41Z" fill="#000" stroke="#000" stroke-width="0.25" />
<path d="M373.83,127.60 L373.53,124.20 L372.27,124.20 L371.97,127.60ZM373.37,128.41 L376.16,126.45 L375.53,125.35 L372.44,126.79ZM372.44,128.41 L375.53,129.85 L376.16,128.75 L373.37,126.79ZM371.97,127.60 L372.27,131.00 L373.53,131.00 L373.83,127.60ZM372.44,126.79 L369.64,128.75 L370.27,129.85 L373.37,128.41ZM373.37,126.79 L370.27,125.35 L369.64,126.45 L372.44,128.41Z" fill="#000" stroke="#000" stroke-width="0.25" />
<path d="M290.00,270.70h1.27V270.48h-1.27ZM291.28,270.70h1.27V270.47h-1.27ZM292.55,270.70h1.27V270.48h-1.27ZM293.82,270.70h1.27V270.47h-1.27ZM295.10,270.70h1.27V270.47h-1.27ZM296.38,270.70h1.27V270.49h-1.27ZM297.65,270.70h1.27V270.49h-1.27ZM298.93,270.70h1.27V270.46h-1.27ZM300.20,270.70h1.27V270.48h-1.27ZM301.48,270.70h1.27V270.48h-1.27ZM302.75,270.70h1.27V270.46h-1.27ZM304.03,270.70h1.27V270.48h-1.27ZM305.30,270.70h1.27V270.46h-1.27ZM306.57,270.70h1.27V270.48h-1.27ZM307.85,270.70h1.27V270.47h-1.27ZM309.12,270.70h1.27V270.49h-1.27ZM310.40,270.70h1.27V270.47h-1.27ZM311.68,270.70h1.27V270.46h-1.27ZM312.95,270.70h1.27V270.48h-1.27ZM314.23,270.70h1.27V270.47h-1.27ZM315.50,270.70h1.27V270.47h-1.27ZM316.78,270.70h1.27V270.49h-1.27ZM318.05,270.70h1.27V270.47h-1.27ZM319.32,270.70h1.27V269.83h-1.27ZM320.60,270.70h1.27V269.40h-1.27ZM321.88,270.70h1.27V268.80h-1.27ZM323.15,270.70h1.27V267.53h-1.27ZM324.43,270.70h1.27V266.40h-1.27ZM325.70,270.70h1.27V264.48h-1.27ZM326.98,270.70h1.27V262.06h-1.27ZM328.25,270.70h1.27V259.56h-1.27ZM329.53,270.70h1.27V255.97h-1.27ZM330.80,270.70h1.27V253.67h-1.27ZM332.07,270.70h1.27V248.73h-1.27ZM333.35,270.70h1.27V246.07h-1.27ZM334.62,270.70h1.27V240.30h-1.27ZM335.90,270.70h1.27V237.00h-1.27ZM337.18,270.70h1.27V238.14h-1.27ZM338.45,270.70h1.27V236.06h-1.27ZM339.73,270.70h1.27V234.63h-1.27ZM341.00,270.70h1.27V230.40h-1.27ZM342.28,270.70h1.27V234.41h-1.27ZM343.55,270.70h1.27V235.38h-1.27ZM344.82,270.70h1.27V239.77h-1.27ZM346.10,270.70h1.27V242.14h-1.27ZM347.38,270.70h1.27V246.29h-1.27ZM348.65,270.70h1.27V250.15h-1.27ZM349.93,270.70h1.27V253.17h-1.27ZM351.20,270.70h1.27V256.67h-1.27ZM352.48,270.70h1.27V259.25h-1.27ZM353.75,270.70h1.27V262.30h-1.27ZM355.03,270.70h1.27V264.29h-1.27ZM356.30,270.70h1.27V266.15h-1.27ZM357.57,270.70h1.27V267.47h-1.27ZM358.85,270.70h1.27V268.61h-1.27ZM360.12,270.70h1.27V269.42h-1.27ZM361.40,270.70h1.27V269.79h-1.27ZM362.68,270.70h1.27V270.46h-1.27ZM363.95,270.70h1.27V270.46h-1.27ZM365.23,270.70h1.27V270.47h-1.27ZM366.50,270.70h1.27V270.47h-1.27ZM367.78,270.70h1.27V270.49h-1.27ZM369.05,270.70h1.27V270.46h-1.27ZM370.32,270.70h1.27V270.47h-1.27ZM371.60,270.70h1.27V270.48h-1.27ZM372.88,270.70h1.27V270.49h-1.27ZM374.15,270.70h1.27V270.46h-1.27ZM375.43,270.70h1.27V270.46h-1.27ZM376.70,270.70h1.27V270.49h-1.27ZM377.98,270.70h1.27V270.47h-1.27ZM379.25,270.70h1.27V270.48h-1.27ZM380.53,270.70h1.27V270.49h-1.27ZM381.80,270.70h1.27V270.48h-1.27ZM383.07,270.70h1.27V270.47h-1.27ZM384.35,270.70h1.27V270.46h-1.27ZM385.62,270.70h1.27V270.49h-1.27ZM386.90,270.70h1.27V270.47h-1.27ZM388.18,270.70h1.27V270.49h-1.27ZM389.45,270.70h1.27V270.47h-1.27ZM390.73,270.70h1.27V270.48h-1.27Z" fill="#cad2d2" stroke="#ffffff" stroke-width="0.08" />
<path d="M326.98,270.70h1.27V265.78h-1.27ZM328.25,270.70h1.27V263.14h-1.27ZM329.53,270.70h1.27V261.34h-1.27ZM330.80,270.70h1.27V255.59h-1.27ZM332.07,270.70h1.27V254.55h-1.27ZM333.35,270.70h1.27V251.67h-1.27ZM334.62,270.70h1.27V242.27h-1.27ZM335.90,270.70h1.27V243.05h-1.27ZM337.18,270.70h1.27V236.76h-1.27ZM338.45,270.70h1.27V230.07h-1.27ZM339.73,270.70h1.27V224.21h-1.27ZM341.00,270.70h1.27V229.89h-1.27ZM342.28,270.70h1.27V231.82h-1.27ZM343.55,270.70h1.27V220.42h-1.27ZM344.82,270.70h1.27V230.85h-1.27ZM346.10,270.70h1.27V225.07h-1.27ZM347.38,270.70h1.27V230.02h-1.27ZM348.65,270.70h1.27V240.17h-1.27ZM349.93,270.70h1.27V243.45h-1.27ZM351.20,270.70h1.27V247.13h-1.27ZM352.48,270.70h1.27V250.36h-1.27ZM353.75,270.70h1.27V254.49h-1.27ZM355.03,270.70h1.27V258.03h-1.27ZM356.30,270.70h1.27V260.70h-1.27ZM357.57,270.70h1.27V262.36h-1.27ZM358.85,270.70h1.27V265.32h-1.27ZM360.12,270.70h1.27V266.92h-1.27ZM300.58,270.70h1.27V266.78h-1.27ZM310.78,270.70h1.27V266.78h-1.27ZM318.94,270.70h1.27V267.20h-1.27ZM369.94,270.70h1.27V266.78h-1.27ZM339.34,270.70h1.27V220.30h-1.27ZM335.26,270.70h1.27V231.50h-1.27ZM349.03,270.70h1.27V231.50h-1.27ZM355.66,270.70h1.27V258.10h-1.27Z" fill="#a866b2" stroke="#ffffff" stroke-width="0.12" fill-opacity="0.85"/>
<line x1="341.00" y1="213.10" x2="341.00" y2="270.70" stroke="#eef2f2" stroke-width="1.0" stroke-dasharray="2.6,2"/>
<line x1="342.02" y1="213.10" x2="342.02" y2="270.70" stroke="#9b59a8" stroke-width="1.0" stroke-dasharray="2.6,2"/>
<path d="M290.00,270.70 L290.51,270.70 L291.02,270.70 L291.53,270.70 L292.04,270.70 L292.55,270.70 L293.06,270.70 L293.57,270.70 L294.08,270.70 L294.59,270.70 L295.10,270.70 L295.61,270.70 L296.12,270.70 L296.63,270.70 L297.14,270.70 L297.65,270.70 L298.16,270.70 L298.67,270.70 L299.18,270.70 L299.69,270.70 L300.20,270.70 L300.71,270.70 L301.22,270.70 L301.73,270.70 L302.24,270.70 L302.75,270.70 L303.26,270.70 L303.77,270.70 L304.28,270.70 L304.79,270.70 L305.30,270.70 L305.81,270.70 L306.32,270.70 L306.83,270.70 L307.34,270.70 L307.85,270.70 L308.36,270.70 L308.87,270.69 L309.38,270.69 L309.89,270.69 L310.40,270.69 L310.91,270.68 L311.42,270.68 L311.93,270.67 L312.44,270.66 L312.95,270.65 L313.46,270.64 L313.97,270.63 L314.48,270.61 L314.99,270.58 L315.50,270.55 L316.01,270.52 L316.52,270.47 L317.03,270.42 L317.54,270.36 L318.05,270.28 L318.56,270.19 L319.07,270.08 L319.58,269.95 L320.09,269.80 L320.60,269.62 L321.11,269.41 L321.62,269.17 L322.13,268.90 L322.64,268.58 L323.15,268.22 L323.66,267.80 L324.17,267.34 L324.68,266.82 L325.19,266.23 L325.70,265.58 L326.21,264.87 L326.72,264.08 L327.23,263.22 L327.74,262.28 L328.25,261.27 L328.76,260.19 L329.27,259.03 L329.78,257.81 L330.29,256.51 L330.80,255.16 L331.31,253.75 L331.82,252.30 L332.33,250.81 L332.84,249.30 L333.35,247.77 L333.86,246.25 L334.37,244.73 L334.88,243.25 L335.39,241.81 L335.90,240.43 L336.41,239.13 L336.92,237.91 L337.43,236.80 L337.94,235.81 L338.45,234.94 L338.96,234.22 L339.47,233.65 L339.98,233.23 L340.49,232.98 L341.00,232.90 L341.51,232.98 L342.02,233.23 L342.53,233.65 L343.04,234.22 L343.55,234.94 L344.06,235.81 L344.57,236.80 L345.08,237.91 L345.59,239.13 L346.10,240.43 L346.61,241.81 L347.12,243.25 L347.63,244.73 L348.14,246.25 L348.65,247.77 L349.16,249.30 L349.67,250.81 L350.18,252.30 L350.69,253.75 L351.20,255.16 L351.71,256.51 L352.22,257.81 L352.73,259.03 L353.24,260.19 L353.75,261.27 L354.26,262.28 L354.77,263.22 L355.28,264.08 L355.79,264.87 L356.30,265.58 L356.81,266.23 L357.32,266.82 L357.83,267.34 L358.34,267.80 L358.85,268.22 L359.36,268.58 L359.87,268.90 L360.38,269.17 L360.89,269.41 L361.40,269.62 L361.91,269.80 L362.42,269.95 L362.93,270.08 L363.44,270.19 L363.95,270.28 L364.46,270.36 L364.97,270.42 L365.48,270.47 L365.99,270.52 L366.50,270.55 L367.01,270.58 L367.52,270.61 L368.03,270.63 L368.54,270.64 L369.05,270.65 L369.56,270.66 L370.07,270.67 L370.58,270.68 L371.09,270.68 L371.60,270.69 L372.11,270.69 L372.62,270.69 L373.13,270.69 L373.64,270.70 L374.15,270.70 L374.66,270.70 L375.17,270.70 L375.68,270.70 L376.19,270.70 L376.70,270.70 L377.21,270.70 L377.72,270.70 L378.23,270.70 L378.74,270.70 L379.25,270.70 L379.76,270.70 L380.27,270.70 L380.78,270.70 L381.29,270.70 L381.80,270.70 L382.31,270.70 L382.82,270.70 L383.33,270.70 L383.84,270.70 L384.35,270.70 L384.86,270.70 L385.37,270.70 L385.88,270.70 L386.39,270.70 L386.90,270.70 L387.41,270.70 L387.92,270.70 L388.43,270.70 L388.94,270.70 L389.45,270.70 L389.96,270.70 L390.47,270.70 L390.98,270.70 L391.49,270.70 L392.00,270.70" fill="none" stroke="#e6eaea" stroke-width="0.9" />
<path d="M290.00,270.70 L290.51,270.70 L291.02,270.70 L291.53,270.70 L292.04,270.70 L292.55,270.70 L293.06,270.70 L293.57,270.70 L294.08,270.70 L294.59,270.70 L295.10,270.70 L295.61,270.70 L296.12,270.70 L296.63,270.70 L297.14,270.70 L297.65,270.70 L298.16,270.70 L298.67,270.70 L299.18,270.70 L299.69,270.70 L300.20,270.70 L300.71,270.70 L301.22,270.70 L301.73,270.70 L302.24,270.70 L302.75,270.70 L303.26,270.70 L303.77,270.70 L304.28,270.70 L304.79,270.70 L305.30,270.70 L305.81,270.70 L306.32,270.70 L306.83,270.70 L307.34,270.70 L307.85,270.70 L308.36,270.70 L308.87,270.70 L309.38,270.70 L309.89,270.70 L310.40,270.70 L310.91,270.70 L311.42,270.70 L311.93,270.70 L312.44,270.70 L312.95,270.70 L313.46,270.70 L313.97,270.69 L314.48,270.69 L314.99,270.69 L315.50,270.68 L316.01,270.68 L316.52,270.67 L317.03,270.66 L317.54,270.65 L318.05,270.63 L318.56,270.61 L319.07,270.59 L319.58,270.55 L320.09,270.51 L320.60,270.46 L321.11,270.39 L321.62,270.30 L322.13,270.20 L322.64,270.07 L323.15,269.91 L323.66,269.72 L324.17,269.49 L324.68,269.22 L325.19,268.90 L325.70,268.51 L326.21,268.07 L326.72,267.55 L327.23,266.94 L327.74,266.25 L328.25,265.47 L328.76,264.58 L329.27,263.58 L329.78,262.47 L330.29,261.25 L330.80,259.90 L331.31,258.43 L331.82,256.85 L332.33,255.16 L332.84,253.36 L333.35,251.47 L333.86,249.50 L334.37,247.46 L334.88,245.38 L335.39,243.27 L335.90,241.17 L336.41,239.09 L336.92,237.06 L337.43,235.12 L337.94,233.28 L338.45,231.58 L338.96,230.05 L339.47,228.70 L339.98,227.57 L340.49,226.67 L341.00,226.01 L341.51,225.61 L342.02,225.48 L342.53,225.56 L343.04,225.81 L343.55,226.22 L344.06,226.79 L344.57,227.51 L345.08,228.37 L345.59,229.37 L346.10,230.49 L346.61,231.73 L347.12,233.07 L347.63,234.49 L348.14,235.99 L348.65,237.55 L349.16,239.15 L349.67,240.79 L350.18,242.44 L350.69,244.10 L351.20,245.76 L351.71,247.40 L352.22,249.01 L352.73,250.58 L353.24,252.11 L353.75,253.58 L354.26,255.00 L354.77,256.35 L355.28,257.63 L355.79,258.85 L356.30,259.98 L356.81,261.05 L357.32,262.04 L357.83,262.96 L358.34,263.80 L358.85,264.58 L359.36,265.29 L359.87,265.93 L360.38,266.52 L360.89,267.04 L361.40,267.51 L361.91,267.93 L362.42,268.31 L362.93,268.64 L363.44,268.93 L363.95,269.18 L364.46,269.41 L364.97,269.60 L365.48,269.77 L365.99,269.92 L366.50,270.04 L367.01,270.15 L367.52,270.24 L368.03,270.32 L368.54,270.38 L369.05,270.44 L369.56,270.49 L370.07,270.53 L370.58,270.56 L371.09,270.58 L371.60,270.61 L372.11,270.62 L372.62,270.64 L373.13,270.65 L373.64,270.66 L374.15,270.67 L374.66,270.68 L375.17,270.68 L375.68,270.68 L376.19,270.69 L376.70,270.69 L377.21,270.69 L377.72,270.69 L378.23,270.70 L378.74,270.70 L379.25,270.70 L379.76,270.70 L380.27,270.70 L380.78,270.70 L381.29,270.70 L381.80,270.70 L382.31,270.70 L382.82,270.70 L383.33,270.70 L383.84,270.70 L384.35,270.70 L384.86,270.70 L385.37,270.70 L385.88,270.70 L386.39,270.70 L386.90,270.70 L387.41,270.70 L387.92,270.70 L388.43,270.70 L388.94,270.70 L389.45,270.70 L389.96,270.70 L390.47,270.70 L390.98,270.70 L391.49,270.70 L392.00,270.70" fill="none" stroke="#84378e" stroke-width="1.25" />
<line x1="290.00" y1="270.70" x2="392.00" y2="270.70" stroke="#84378e" stroke-width="1.1" />
<rect x="290.00" y="212.30" width="102.00" height="61.70" fill="none" stroke="#262626" stroke-width="1.1" />
<line x1="287.50" y1="270.70" x2="290.00" y2="270.70" stroke="#222" stroke-width="0.9" />
<text x="286.70" y="274.00" font-size="9.2" fill="#111" font-weight="normal" text-anchor="end" >0</text>
<line x1="287.50" y1="256.70" x2="290.00" y2="256.70" stroke="#222" stroke-width="0.9" />
<text x="286.70" y="260.00" font-size="9.2" fill="#111" font-weight="normal" text-anchor="end" >1</text>
<line x1="287.50" y1="242.70" x2="290.00" y2="242.70" stroke="#222" stroke-width="0.9" />
<text x="286.70" y="246.00" font-size="9.2" fill="#111" font-weight="normal" text-anchor="end" >2</text>
<line x1="287.50" y1="228.70" x2="290.00" y2="228.70" stroke="#222" stroke-width="0.9" />
<text x="286.70" y="232.00" font-size="9.2" fill="#111" font-weight="normal" text-anchor="end" >3</text>
<line x1="287.50" y1="214.70" x2="290.00" y2="214.70" stroke="#222" stroke-width="0.9" />
<text x="286.70" y="218.00" font-size="9.2" fill="#111" font-weight="normal" text-anchor="end" >4</text>
<line x1="290.00" y1="274.00" x2="290.00" y2="276.50" stroke="#222" stroke-width="0.9" />
<text x="289.70" y="284.00" font-size="9.2" fill="#111" font-weight="normal" text-anchor="middle" >-1</text>
<line x1="315.50" y1="274.00" x2="315.50" y2="276.50" stroke="#222" stroke-width="0.9" />
<text x="315.20" y="284.00" font-size="9.2" fill="#111" font-weight="normal" text-anchor="middle" >-0.5</text>
<line x1="341.00" y1="274.00" x2="341.00" y2="276.50" stroke="#222" stroke-width="0.9" />
<text x="341.00" y="284.00" font-size="9.2" fill="#111" font-weight="normal" text-anchor="middle" >0</text>
<line x1="366.50" y1="274.00" x2="366.50" y2="276.50" stroke="#222" stroke-width="0.9" />
<text x="366.50" y="284.00" font-size="9.2" fill="#111" font-weight="normal" text-anchor="middle" >0.5</text>
<line x1="392.00" y1="274.00" x2="392.00" y2="276.50" stroke="#222" stroke-width="0.9" />
<text x="392.00" y="284.00" font-size="9.2" fill="#111" font-weight="normal" text-anchor="middle" >1</text>
<text x="341.00" y="291.60" font-size="9.4" fill="#111" font-weight="normal" text-anchor="middle" >log<tspan font-size="5.8" dy="0.8">2</tspan><tspan dy="-0.8">FC</tspan></text>
<text x="0.00" y="0.00" font-size="9.2" fill="#111" font-weight="normal" text-anchor="middle" transform="translate(275.2,242.35) rotate(-90)">Density (Counts)</text>
<text x="291.50" y="221.30" font-size="7.5" fill="#111" font-weight="normal" text-anchor="start" >Proteome</text>
<path d="M358.23,217.60 L357.93,214.20 L356.67,214.20 L356.37,217.60ZM357.76,218.41 L360.56,216.45 L359.93,215.35 L356.84,216.79ZM356.84,218.41 L359.93,219.85 L360.56,218.75 L357.76,216.79ZM356.37,217.60 L356.67,221.00 L357.93,221.00 L358.23,217.60ZM356.84,216.79 L354.04,218.75 L354.67,219.85 L357.76,218.41ZM357.76,216.79 L354.67,215.35 L354.04,216.45 L356.84,218.41Z" fill="#000" stroke="#000" stroke-width="0.25" />
<path d="M366.03,217.60 L365.73,214.20 L364.47,214.20 L364.17,217.60ZM365.56,218.41 L368.36,216.45 L367.73,215.35 L364.64,216.79ZM364.64,218.41 L367.73,219.85 L368.36,218.75 L365.56,216.79ZM364.17,217.60 L364.47,221.00 L365.73,221.00 L366.03,217.60ZM364.64,216.79 L361.84,218.75 L362.47,219.85 L365.56,218.41ZM365.56,216.79 L362.47,215.35 L361.84,216.45 L364.64,218.41Z" fill="#000" stroke="#000" stroke-width="0.25" />
<path d="M373.83,217.60 L373.53,214.20 L372.27,214.20 L371.97,217.60ZM373.37,218.41 L376.16,216.45 L375.53,215.35 L372.44,216.79ZM372.44,218.41 L375.53,219.85 L376.16,218.75 L373.37,216.79ZM371.97,217.60 L372.27,221.00 L373.53,221.00 L373.83,217.60ZM372.44,216.79 L369.64,218.75 L370.27,219.85 L373.37,218.41ZM373.37,216.79 L370.27,215.35 L369.64,216.45 L372.44,218.41Z" fill="#000" stroke="#000" stroke-width="0.25" />
<path d="M436.00,91.50h0.84V91.28h-0.84ZM436.84,91.50h0.84V91.28h-0.84ZM437.68,91.50h0.84V91.28h-0.84ZM438.51,91.50h0.84V91.28h-0.84ZM439.35,91.50h0.84V91.28h-0.84ZM440.19,91.50h0.84V91.28h-0.84ZM441.03,91.50h0.84V91.26h-0.84ZM441.86,91.50h0.84V91.27h-0.84ZM442.70,91.50h0.84V91.27h-0.84ZM443.54,91.50h0.84V91.28h-0.84ZM444.38,91.50h0.84V91.27h-0.84ZM445.21,91.50h0.84V91.28h-0.84ZM446.05,91.50h0.84V91.28h-0.84ZM446.89,91.50h0.84V91.28h-0.84ZM447.73,91.50h0.84V91.28h-0.84ZM448.56,91.50h0.84V91.26h-0.84ZM449.40,91.50h0.84V91.27h-0.84ZM450.24,91.50h0.84V91.27h-0.84ZM451.07,91.50h0.84V91.27h-0.84ZM451.91,91.50h0.84V91.28h-0.84ZM452.75,91.50h0.84V91.28h-0.84ZM453.59,91.50h0.84V91.27h-0.84ZM454.43,91.50h0.84V91.27h-0.84ZM455.26,91.50h0.84V91.27h-0.84ZM456.10,91.50h0.84V91.27h-0.84ZM456.94,91.50h0.84V91.28h-0.84ZM457.78,91.50h0.84V91.27h-0.84ZM458.61,91.50h0.84V91.27h-0.84ZM459.45,91.50h0.84V91.27h-0.84ZM460.29,91.50h0.84V91.28h-0.84ZM461.12,91.50h0.84V91.27h-0.84ZM461.96,91.50h0.84V91.28h-0.84ZM462.80,91.50h0.84V91.26h-0.84ZM463.64,91.50h0.84V91.27h-0.84ZM464.48,91.50h0.84V91.27h-0.84ZM465.31,91.50h0.84V90.88h-0.84ZM466.15,91.50h0.84V90.73h-0.84ZM466.99,91.50h0.84V90.63h-0.84ZM467.82,91.50h0.84V90.45h-0.84ZM468.66,91.50h0.84V90.27h-0.84ZM469.50,91.50h0.84V90.11h-0.84ZM470.34,91.50h0.84V89.88h-0.84ZM471.18,91.50h0.84V89.57h-0.84ZM472.01,91.50h0.84V89.28h-0.84ZM472.85,91.50h0.84V88.96h-0.84ZM473.69,91.50h0.84V88.48h-0.84ZM474.53,91.50h0.84V87.78h-0.84ZM475.36,91.50h0.84V87.47h-0.84ZM476.20,91.50h0.84V86.77h-0.84ZM477.04,91.50h0.84V85.62h-0.84ZM477.88,91.50h0.84V84.85h-0.84ZM478.71,91.50h0.84V83.50h-0.84ZM479.55,91.50h0.84V82.19h-0.84ZM480.39,91.50h0.84V80.72h-0.84ZM481.23,91.50h0.84V78.03h-0.84ZM482.06,91.50h0.84V76.92h-0.84ZM482.90,91.50h0.84V74.03h-0.84ZM483.74,91.50h0.84V71.46h-0.84ZM484.57,91.50h0.84V66.97h-0.84ZM485.41,91.50h0.84V63.76h-0.84ZM486.25,91.50h0.84V63.53h-0.84ZM487.09,91.50h0.84V66.69h-0.84ZM487.93,91.50h0.84V71.21h-0.84ZM488.76,91.50h0.84V73.77h-0.84ZM489.60,91.50h0.84V75.85h-0.84ZM490.44,91.50h0.84V79.18h-0.84ZM491.28,91.50h0.84V81.03h-0.84ZM492.11,91.50h0.84V82.41h-0.84ZM492.95,91.50h0.84V83.32h-0.84ZM493.79,91.50h0.84V84.62h-0.84ZM494.62,91.50h0.84V85.85h-0.84ZM495.46,91.50h0.84V86.63h-0.84ZM496.30,91.50h0.84V87.41h-0.84ZM497.14,91.50h0.84V87.91h-0.84ZM497.98,91.50h0.84V88.57h-0.84ZM498.81,91.50h0.84V88.82h-0.84ZM499.65,91.50h0.84V89.17h-0.84ZM500.49,91.50h0.84V89.50h-0.84ZM501.32,91.50h0.84V89.83h-0.84ZM502.16,91.50h0.84V90.05h-0.84ZM503.00,91.50h0.84V90.37h-0.84ZM503.84,91.50h0.84V90.51h-0.84ZM504.68,91.50h0.84V90.60h-0.84ZM505.51,91.50h0.84V90.74h-0.84ZM506.35,91.50h0.84V90.88h-0.84ZM507.19,91.50h0.84V91.26h-0.84ZM508.03,91.50h0.84V91.27h-0.84ZM508.86,91.50h0.84V91.27h-0.84ZM509.70,91.50h0.84V91.28h-0.84ZM510.54,91.50h0.84V91.28h-0.84ZM511.38,91.50h0.84V91.28h-0.84ZM512.21,91.50h0.84V91.28h-0.84ZM513.05,91.50h0.84V91.28h-0.84ZM513.89,91.50h0.84V91.26h-0.84ZM514.72,91.50h0.84V91.28h-0.84ZM515.56,91.50h0.84V91.29h-0.84ZM516.40,91.50h0.84V91.28h-0.84ZM517.24,91.50h0.84V91.28h-0.84ZM518.07,91.50h0.84V91.27h-0.84ZM518.91,91.50h0.84V91.28h-0.84ZM519.75,91.50h0.84V91.28h-0.84ZM520.59,91.50h0.84V91.28h-0.84ZM521.42,91.50h0.84V91.26h-0.84ZM522.26,91.50h0.84V91.28h-0.84ZM523.10,91.50h0.84V91.28h-0.84ZM523.94,91.50h0.84V91.28h-0.84ZM524.77,91.50h0.84V91.28h-0.84ZM525.61,91.50h0.84V91.28h-0.84ZM526.45,91.50h0.84V91.27h-0.84ZM527.29,91.50h0.84V91.28h-0.84ZM528.12,91.50h0.84V91.28h-0.84ZM528.96,91.50h0.84V91.27h-0.84ZM529.80,91.50h0.84V91.28h-0.84ZM530.64,91.50h0.84V91.26h-0.84ZM531.47,91.50h0.84V91.28h-0.84ZM532.31,91.50h0.84V91.27h-0.84ZM533.15,91.50h0.84V91.27h-0.84ZM533.99,91.50h0.84V91.28h-0.84ZM534.82,91.50h0.84V91.26h-0.84ZM535.66,91.50h0.84V91.27h-0.84Z" fill="#cad2d2" stroke="#ffffff" stroke-width="0.08" />
<path d="M477.88,91.50h0.84V89.79h-0.84ZM478.71,91.50h0.84V88.31h-0.84ZM479.55,91.50h0.84V87.19h-0.84ZM480.39,91.50h0.84V83.36h-0.84ZM481.23,91.50h0.84V80.47h-0.84ZM482.06,91.50h0.84V71.01h-0.84ZM482.90,91.50h0.84V64.58h-0.84ZM483.74,91.50h0.84V61.15h-0.84ZM484.57,91.50h0.84V61.15h-0.84ZM485.41,91.50h0.84V48.62h-0.84ZM486.25,91.50h0.84V47.91h-0.84ZM487.09,91.50h0.84V55.43h-0.84ZM487.93,91.50h0.84V60.70h-0.84ZM488.76,91.50h0.84V57.81h-0.84ZM489.60,91.50h0.84V72.13h-0.84ZM490.44,91.50h0.84V77.43h-0.84ZM491.28,91.50h0.84V76.26h-0.84ZM492.11,91.50h0.84V82.41h-0.84ZM492.95,91.50h0.84V84.46h-0.84ZM493.79,91.50h0.84V88.08h-0.84ZM494.62,91.50h0.84V89.03h-0.84ZM459.70,91.50h0.84V90.09h-0.84ZM461.21,91.50h0.84V90.23h-0.84ZM504.93,91.50h0.84V90.65h-0.84ZM508.44,91.50h0.84V90.65h-0.84ZM491.86,91.50h0.84V74.55h-0.84Z" fill="#d16a56" stroke="#ffffff" stroke-width="0.12" fill-opacity="0.85"/>
<line x1="486.25" y1="33.40" x2="486.25" y2="91.50" stroke="#eef2f2" stroke-width="1.0" stroke-dasharray="2.6,2"/>
<line x1="486.75" y1="33.40" x2="486.75" y2="91.50" stroke="#c0392b" stroke-width="1.0" stroke-dasharray="2.6,2"/>
<path d="M436.00,91.50 L436.50,91.50 L437.00,91.50 L437.51,91.50 L438.01,91.50 L438.51,91.50 L439.01,91.50 L439.52,91.50 L440.02,91.50 L440.52,91.49 L441.02,91.49 L441.53,91.49 L442.03,91.49 L442.53,91.49 L443.04,91.49 L443.54,91.49 L444.04,91.49 L444.54,91.49 L445.05,91.49 L445.55,91.49 L446.05,91.48 L446.55,91.48 L447.06,91.48 L447.56,91.48 L448.06,91.48 L448.56,91.48 L449.06,91.47 L449.57,91.47 L450.07,91.47 L450.57,91.46 L451.07,91.46 L451.58,91.46 L452.08,91.45 L452.58,91.45 L453.08,91.44 L453.59,91.44 L454.09,91.43 L454.59,91.42 L455.10,91.42 L455.60,91.41 L456.10,91.40 L456.60,91.39 L457.11,91.38 L457.61,91.37 L458.11,91.35 L458.61,91.34 L459.12,91.32 L459.62,91.30 L460.12,91.28 L460.62,91.26 L461.12,91.24 L461.63,91.21 L462.13,91.18 L462.63,91.15 L463.13,91.12 L463.64,91.08 L464.14,91.03 L464.64,90.99 L465.14,90.94 L465.65,90.88 L466.15,90.82 L466.65,90.75 L467.15,90.68 L467.66,90.59 L468.16,90.50 L468.66,90.40 L469.17,90.29 L469.67,90.17 L470.17,90.04 L470.67,89.90 L471.18,89.74 L471.68,89.56 L472.18,89.37 L472.68,89.15 L473.19,88.92 L473.69,88.66 L474.19,88.38 L474.69,88.06 L475.19,87.72 L475.70,87.34 L476.20,86.93 L476.70,86.47 L477.20,85.97 L477.71,85.41 L478.21,84.81 L478.71,84.14 L479.21,83.40 L479.72,82.59 L480.22,81.70 L480.72,80.72 L481.23,79.65 L481.73,78.46 L482.23,77.16 L482.73,75.73 L483.24,74.15 L483.74,72.42 L484.24,70.51 L484.74,68.41 L485.25,66.11 L485.75,63.57 L486.25,60.78 L486.75,63.57 L487.25,66.11 L487.76,68.41 L488.26,70.51 L488.76,72.42 L489.26,74.15 L489.77,75.73 L490.27,77.16 L490.77,78.46 L491.27,79.65 L491.78,80.72 L492.28,81.70 L492.78,82.59 L493.28,83.40 L493.79,84.14 L494.29,84.81 L494.79,85.41 L495.30,85.97 L495.80,86.47 L496.30,86.93 L496.80,87.34 L497.31,87.72 L497.81,88.06 L498.31,88.38 L498.81,88.66 L499.31,88.92 L499.82,89.15 L500.32,89.37 L500.82,89.56 L501.32,89.74 L501.83,89.90 L502.33,90.04 L502.83,90.17 L503.34,90.29 L503.84,90.40 L504.34,90.50 L504.84,90.59 L505.35,90.68 L505.85,90.75 L506.35,90.82 L506.85,90.88 L507.36,90.94 L507.86,90.99 L508.36,91.03 L508.86,91.08 L509.37,91.12 L509.87,91.15 L510.37,91.18 L510.87,91.21 L511.38,91.24 L511.88,91.26 L512.38,91.28 L512.88,91.30 L513.38,91.32 L513.89,91.34 L514.39,91.35 L514.89,91.37 L515.39,91.38 L515.90,91.39 L516.40,91.40 L516.90,91.41 L517.40,91.42 L517.91,91.42 L518.41,91.43 L518.91,91.44 L519.41,91.44 L519.92,91.45 L520.42,91.45 L520.92,91.46 L521.42,91.46 L521.93,91.46 L522.43,91.47 L522.93,91.47 L523.43,91.47 L523.94,91.48 L524.44,91.48 L524.94,91.48 L525.45,91.48 L525.95,91.48 L526.45,91.48 L526.95,91.49 L527.46,91.49 L527.96,91.49 L528.46,91.49 L528.96,91.49 L529.47,91.49 L529.97,91.49 L530.47,91.49 L530.97,91.49 L531.48,91.49 L531.98,91.49 L532.48,91.50 L532.98,91.50 L533.49,91.50 L533.99,91.50 L534.49,91.50 L534.99,91.50 L535.50,91.50 L536.00,91.50 L536.50,91.50" fill="none" stroke="#e6eaea" stroke-width="0.9" />
<path d="M436.00,91.50 L436.50,91.50 L437.00,91.50 L437.51,91.50 L438.01,91.50 L438.51,91.50 L439.01,91.50 L439.52,91.50 L440.02,91.50 L440.52,91.50 L441.02,91.50 L441.53,91.50 L442.03,91.50 L442.53,91.50 L443.04,91.50 L443.54,91.50 L444.04,91.50 L444.54,91.50 L445.05,91.50 L445.55,91.50 L446.05,91.50 L446.55,91.50 L447.06,91.50 L447.56,91.50 L448.06,91.50 L448.56,91.50 L449.06,91.50 L449.57,91.50 L450.07,91.50 L450.57,91.50 L451.07,91.50 L451.58,91.50 L452.08,91.50 L452.58,91.50 L453.08,91.50 L453.59,91.50 L454.09,91.50 L454.59,91.50 L455.10,91.50 L455.60,91.50 L456.10,91.50 L456.60,91.50 L457.11,91.50 L457.61,91.50 L458.11,91.50 L458.61,91.50 L459.12,91.50 L459.62,91.50 L460.12,91.50 L460.62,91.50 L461.12,91.50 L461.63,91.50 L462.13,91.50 L462.63,91.50 L463.13,91.50 L463.64,91.50 L464.14,91.50 L464.64,91.50 L465.14,91.50 L465.65,91.50 L466.15,91.50 L466.65,91.50 L467.15,91.50 L467.66,91.50 L468.16,91.50 L468.66,91.50 L469.17,91.50 L469.67,91.50 L470.17,91.50 L470.67,91.50 L471.18,91.50 L471.68,91.50 L472.18,91.49 L472.68,91.49 L473.19,91.48 L473.69,91.46 L474.19,91.44 L474.69,91.40 L475.19,91.34 L475.70,91.25 L476.20,91.12 L476.70,90.93 L477.20,90.65 L477.71,90.26 L478.21,89.73 L478.71,89.03 L479.21,88.10 L479.72,86.92 L480.22,85.45 L480.72,83.65 L481.23,81.50 L481.73,78.99 L482.23,76.12 L482.73,72.90 L483.24,69.36 L483.74,65.49 L484.24,61.29 L484.74,56.71 L485.25,51.63 L485.75,45.81 L486.25,38.85 L486.75,44.54 L487.25,49.16 L487.76,53.20 L488.26,56.92 L488.76,60.50 L489.26,64.01 L489.77,67.43 L490.27,70.75 L490.77,73.90 L491.27,76.84 L491.78,79.50 L492.28,81.87 L492.78,83.91 L493.28,85.64 L493.79,87.06 L494.29,88.20 L494.79,89.09 L495.30,89.78 L495.80,90.30 L496.30,90.67 L496.80,90.94 L497.31,91.13 L497.81,91.26 L498.31,91.35 L498.81,91.41 L499.31,91.44 L499.82,91.47 L500.32,91.48 L500.82,91.49 L501.32,91.49 L501.83,91.50 L502.33,91.50 L502.83,91.50 L503.34,91.50 L503.84,91.50 L504.34,91.50 L504.84,91.50 L505.35,91.50 L505.85,91.50 L506.35,91.50 L506.85,91.50 L507.36,91.50 L507.86,91.50 L508.36,91.50 L508.86,91.50 L509.37,91.50 L509.87,91.50 L510.37,91.50 L510.87,91.50 L511.38,91.50 L511.88,91.50 L512.38,91.50 L512.88,91.50 L513.38,91.50 L513.89,91.50 L514.39,91.50 L514.89,91.50 L515.39,91.50 L515.90,91.50 L516.40,91.50 L516.90,91.50 L517.40,91.50 L517.91,91.50 L518.41,91.50 L518.91,91.50 L519.41,91.50 L519.92,91.50 L520.42,91.50 L520.92,91.50 L521.42,91.50 L521.93,91.50 L522.43,91.50 L522.93,91.50 L523.43,91.50 L523.94,91.50 L524.44,91.50 L524.94,91.50 L525.45,91.50 L525.95,91.50 L526.45,91.50 L526.95,91.50 L527.46,91.50 L527.96,91.50 L528.46,91.50 L528.96,91.50 L529.47,91.50 L529.97,91.50 L530.47,91.50 L530.97,91.50 L531.48,91.50 L531.98,91.50 L532.48,91.50 L532.98,91.50 L533.49,91.50 L533.99,91.50 L534.49,91.50 L534.99,91.50 L535.50,91.50 L536.00,91.50 L536.50,91.50" fill="none" stroke="#b3301e" stroke-width="1.25" />
<line x1="436.00" y1="91.50" x2="536.50" y2="91.50" stroke="#b3301e" stroke-width="1.1" />
<rect x="436.00" y="32.60" width="100.50" height="62.20" fill="none" stroke="#262626" stroke-width="1.1" />
<line x1="433.50" y1="91.50" x2="436.00" y2="91.50" stroke="#222" stroke-width="0.9" />
<text x="432.70" y="94.80" font-size="9.2" fill="#111" font-weight="normal" text-anchor="end" >0</text>
<line x1="433.50" y1="77.38" x2="436.00" y2="77.38" stroke="#222" stroke-width="0.9" />
<text x="432.70" y="80.67" font-size="9.2" fill="#111" font-weight="normal" text-anchor="end" >2</text>
<line x1="433.50" y1="63.25" x2="436.00" y2="63.25" stroke="#222" stroke-width="0.9" />
<text x="432.70" y="66.55" font-size="9.2" fill="#111" font-weight="normal" text-anchor="end" >4</text>
<line x1="433.50" y1="49.12" x2="436.00" y2="49.12" stroke="#222" stroke-width="0.9" />
<text x="432.70" y="52.42" font-size="9.2" fill="#111" font-weight="normal" text-anchor="end" >6</text>
<line x1="433.50" y1="35.00" x2="436.00" y2="35.00" stroke="#222" stroke-width="0.9" />
<text x="432.70" y="38.30" font-size="9.2" fill="#111" font-weight="normal" text-anchor="end" >8</text>
<line x1="436.00" y1="94.80" x2="436.00" y2="97.30" stroke="#222" stroke-width="0.9" />
<text x="435.70" y="104.80" font-size="9.2" fill="#111" font-weight="normal" text-anchor="middle" >-1</text>
<line x1="461.12" y1="94.80" x2="461.12" y2="97.30" stroke="#222" stroke-width="0.9" />
<text x="460.82" y="104.80" font-size="9.2" fill="#111" font-weight="normal" text-anchor="middle" >-0.5</text>
<line x1="486.25" y1="94.80" x2="486.25" y2="97.30" stroke="#222" stroke-width="0.9" />
<text x="486.25" y="104.80" font-size="9.2" fill="#111" font-weight="normal" text-anchor="middle" >0</text>
<line x1="511.38" y1="94.80" x2="511.38" y2="97.30" stroke="#222" stroke-width="0.9" />
<text x="511.38" y="104.80" font-size="9.2" fill="#111" font-weight="normal" text-anchor="middle" >0.5</text>
<line x1="536.50" y1="94.80" x2="536.50" y2="97.30" stroke="#222" stroke-width="0.9" />
<text x="536.50" y="104.80" font-size="9.2" fill="#111" font-weight="normal" text-anchor="middle" >1</text>
<text x="486.25" y="112.40" font-size="9.4" fill="#111" font-weight="normal" text-anchor="middle" >log<tspan font-size="5.8" dy="0.8">2</tspan><tspan dy="-0.8">FC</tspan></text>
<text x="0.00" y="0.00" font-size="9.2" fill="#111" font-weight="normal" text-anchor="middle" transform="translate(421.2,62.900000000000006) rotate(-90)">Density (Counts)</text>
<text x="437.50" y="41.60" font-size="7.5" fill="#111" font-weight="normal" text-anchor="start" >Transcriptome</text>
<text x="501.30" y="42.40" font-size="8.8" fill="#111" font-weight="normal" text-anchor="start" >n.s.</text>
<path d="M436.00,180.70h1.68V180.47h-1.68ZM437.68,180.70h1.68V180.47h-1.68ZM439.35,180.70h1.68V180.47h-1.68ZM441.03,180.70h1.68V180.46h-1.68ZM442.70,180.70h1.68V180.47h-1.68ZM444.38,180.70h1.68V180.46h-1.68ZM446.05,180.70h1.68V180.49h-1.68ZM447.73,180.70h1.68V180.48h-1.68ZM449.40,180.70h1.68V180.46h-1.68ZM451.08,180.70h1.68V180.47h-1.68ZM452.75,180.70h1.68V180.46h-1.68ZM454.43,180.70h1.68V180.49h-1.68ZM456.10,180.70h1.68V180.48h-1.68ZM457.78,180.70h1.68V179.86h-1.68ZM459.45,180.70h1.68V179.21h-1.68ZM461.12,180.70h1.68V178.26h-1.68ZM462.80,180.70h1.68V177.19h-1.68ZM464.48,180.70h1.68V175.22h-1.68ZM466.15,180.70h1.68V172.65h-1.68ZM467.83,180.70h1.68V168.32h-1.68ZM469.50,180.70h1.68V164.38h-1.68ZM471.18,180.70h1.68V161.39h-1.68ZM472.85,180.70h1.68V154.18h-1.68ZM474.53,180.70h1.68V151.88h-1.68ZM476.20,180.70h1.68V144.88h-1.68ZM477.88,180.70h1.68V143.77h-1.68ZM479.55,180.70h1.68V141.98h-1.68ZM481.23,180.70h1.68V135.23h-1.68ZM482.90,180.70h1.68V139.60h-1.68ZM484.58,180.70h1.68V140.19h-1.68ZM486.25,180.70h1.68V136.57h-1.68ZM487.93,180.70h1.68V138.96h-1.68ZM489.60,180.70h1.68V144.37h-1.68ZM491.28,180.70h1.68V143.11h-1.68ZM492.95,180.70h1.68V147.96h-1.68ZM494.62,180.70h1.68V150.14h-1.68ZM496.30,180.70h1.68V155.01h-1.68ZM497.98,180.70h1.68V155.13h-1.68ZM499.65,180.70h1.68V158.97h-1.68ZM501.33,180.70h1.68V161.02h-1.68ZM503.00,180.70h1.68V163.96h-1.68ZM504.68,180.70h1.68V167.68h-1.68ZM506.35,180.70h1.68V169.68h-1.68ZM508.03,180.70h1.68V171.84h-1.68ZM509.70,180.70h1.68V173.48h-1.68ZM511.38,180.70h1.68V174.94h-1.68ZM513.05,180.70h1.68V175.92h-1.68ZM514.73,180.70h1.68V176.76h-1.68ZM516.40,180.70h1.68V177.90h-1.68ZM518.08,180.70h1.68V178.31h-1.68ZM519.75,180.70h1.68V178.98h-1.68ZM521.43,180.70h1.68V179.41h-1.68ZM523.10,180.70h1.68V179.67h-1.68ZM524.77,180.70h1.68V179.98h-1.68ZM526.45,180.70h1.68V180.48h-1.68ZM528.12,180.70h1.68V180.48h-1.68ZM529.80,180.70h1.68V180.47h-1.68ZM531.48,180.70h1.68V180.49h-1.68ZM533.15,180.70h1.68V180.46h-1.68ZM534.83,180.70h1.68V180.49h-1.68Z" fill="#cad2d2" stroke="#ffffff" stroke-width="0.08" />
<path d="M466.15,180.70h1.68V175.44h-1.68ZM467.83,180.70h1.68V172.84h-1.68ZM469.50,180.70h1.68V176.96h-1.68ZM471.18,180.70h1.68V167.50h-1.68ZM472.85,180.70h1.68V169.69h-1.68ZM474.53,180.70h1.68V163.43h-1.68ZM476.20,180.70h1.68V171.57h-1.68ZM477.88,180.70h1.68V169.06h-1.68ZM479.55,180.70h1.68V163.66h-1.68ZM481.23,180.70h1.68V137.73h-1.68ZM482.90,180.70h1.68V159.43h-1.68ZM484.58,180.70h1.68V137.97h-1.68ZM486.25,180.70h1.68V129.65h-1.68ZM487.93,180.70h1.68V128.05h-1.68ZM489.60,180.70h1.68V150.77h-1.68ZM491.28,180.70h1.68V150.65h-1.68ZM492.95,180.70h1.68V144.93h-1.68ZM494.62,180.70h1.68V136.80h-1.68ZM496.30,180.70h1.68V161.61h-1.68ZM497.98,180.70h1.68V140.39h-1.68ZM499.65,180.70h1.68V139.97h-1.68ZM501.33,180.70h1.68V139.08h-1.68ZM503.00,180.70h1.68V165.94h-1.68ZM504.68,180.70h1.68V138.62h-1.68ZM506.35,180.70h1.68V165.15h-1.68ZM508.03,180.70h1.68V158.62h-1.68ZM509.70,180.70h1.68V152.32h-1.68ZM511.38,180.70h1.68V146.15h-1.68ZM513.05,180.70h1.68V162.37h-1.68ZM514.73,180.70h1.68V151.42h-1.68ZM516.40,180.70h1.68V161.84h-1.68ZM518.08,180.70h1.68V168.11h-1.68ZM519.75,180.70h1.68V169.84h-1.68ZM521.43,180.70h1.68V173.28h-1.68ZM523.10,180.70h1.68V175.59h-1.68ZM524.77,180.70h1.68V176.03h-1.68ZM526.45,180.70h1.68V173.65h-1.68ZM528.12,180.70h1.68V173.81h-1.68ZM529.80,180.70h1.68V178.55h-1.68ZM460.29,180.70h1.68V163.90h-1.68ZM531.64,180.70h1.68V165.30h-1.68ZM481.64,180.70h1.68V131.98h-1.68ZM488.93,180.70h1.68V127.50h-1.68ZM497.98,180.70h1.68V138.70h-1.68ZM508.03,180.70h1.68V133.10h-1.68Z" fill="#d16a56" stroke="#ffffff" stroke-width="0.12" fill-opacity="0.85"/>
<line x1="482.23" y1="123.10" x2="482.23" y2="180.70" stroke="#eef2f2" stroke-width="1.0" stroke-dasharray="2.6,2"/>
<line x1="488.26" y1="123.10" x2="488.26" y2="180.70" stroke="#c0392b" stroke-width="1.0" stroke-dasharray="2.6,2"/>
<path d="M436.00,180.70 L436.50,180.70 L437.00,180.70 L437.51,180.70 L438.01,180.70 L438.51,180.70 L439.01,180.70 L439.52,180.70 L440.02,180.70 L440.52,180.70 L441.02,180.70 L441.53,180.70 L442.03,180.70 L442.53,180.70 L443.04,180.70 L443.54,180.70 L444.04,180.70 L444.54,180.70 L445.05,180.70 L445.55,180.70 L446.05,180.70 L446.55,180.69 L447.06,180.69 L447.56,180.69 L448.06,180.69 L448.56,180.68 L449.06,180.68 L449.57,180.67 L450.07,180.67 L450.57,180.66 L451.07,180.65 L451.58,180.64 L452.08,180.62 L452.58,180.61 L453.08,180.58 L453.59,180.56 L454.09,180.53 L454.59,180.49 L455.10,180.45 L455.60,180.40 L456.10,180.33 L456.60,180.26 L457.11,180.18 L457.61,180.08 L458.11,179.96 L458.61,179.83 L459.12,179.68 L459.62,179.50 L460.12,179.30 L460.62,179.07 L461.12,178.81 L461.63,178.51 L462.13,178.18 L462.63,177.80 L463.13,177.38 L463.64,176.92 L464.14,176.40 L464.64,175.83 L465.14,175.20 L465.65,174.51 L466.15,173.77 L466.65,172.95 L467.15,172.08 L467.66,171.13 L468.16,170.12 L468.66,169.05 L469.17,167.91 L469.67,166.70 L470.17,165.44 L470.67,164.11 L471.18,162.74 L471.68,161.32 L472.18,159.86 L472.68,158.37 L473.19,156.85 L473.69,155.32 L474.19,153.78 L474.69,152.24 L475.19,150.73 L475.70,149.24 L476.20,147.79 L476.70,146.40 L477.20,145.07 L477.71,143.81 L478.21,142.65 L478.71,141.58 L479.21,140.62 L479.72,139.78 L480.22,139.06 L480.72,138.48 L481.23,138.04 L481.73,137.75 L482.23,137.60 L482.73,137.59 L483.24,137.63 L483.74,137.73 L484.24,137.87 L484.74,138.06 L485.25,138.30 L485.75,138.58 L486.25,138.91 L486.75,139.28 L487.25,139.69 L487.76,140.14 L488.26,140.63 L488.76,141.17 L489.26,141.73 L489.77,142.33 L490.27,142.97 L490.77,143.63 L491.27,144.33 L491.78,145.05 L492.28,145.79 L492.78,146.56 L493.28,147.35 L493.79,148.15 L494.29,148.97 L494.79,149.81 L495.30,150.65 L495.80,151.51 L496.30,152.37 L496.80,153.24 L497.31,154.11 L497.81,154.98 L498.31,155.85 L498.81,156.72 L499.31,157.58 L499.82,158.44 L500.32,159.29 L500.82,160.13 L501.32,160.96 L501.83,161.77 L502.33,162.58 L502.83,163.36 L503.34,164.14 L503.84,164.89 L504.34,165.63 L504.84,166.35 L505.35,167.05 L505.85,167.73 L506.35,168.39 L506.85,169.03 L507.36,169.65 L507.86,170.24 L508.36,170.82 L508.86,171.37 L509.37,171.91 L509.87,172.42 L510.37,172.91 L510.87,173.38 L511.38,173.83 L511.88,174.26 L512.38,174.67 L512.88,175.06 L513.38,175.43 L513.89,175.78 L514.39,176.11 L514.89,176.43 L515.39,176.72 L515.90,177.00 L516.40,177.27 L516.90,177.52 L517.40,177.75 L517.91,177.97 L518.41,178.18 L518.91,178.37 L519.41,178.56 L519.92,178.73 L520.42,178.88 L520.92,179.03 L521.42,179.17 L521.93,179.29 L522.43,179.41 L522.93,179.52 L523.43,179.62 L523.94,179.72 L524.44,179.80 L524.94,179.88 L525.45,179.96 L525.95,180.02 L526.45,180.09 L526.95,180.14 L527.46,180.20 L527.96,180.24 L528.46,180.29 L528.96,180.33 L529.47,180.36 L529.97,180.40 L530.47,180.43 L530.97,180.46 L531.48,180.48 L531.98,180.50 L532.48,180.52 L532.98,180.54 L533.49,180.56 L533.99,180.57 L534.49,180.59 L534.99,180.60 L535.50,180.61 L536.00,180.62 L536.50,180.63" fill="none" stroke="#e6eaea" stroke-width="0.9" />
<path d="M436.00,180.70 L436.50,180.70 L437.00,180.70 L437.51,180.70 L438.01,180.70 L438.51,180.70 L439.01,180.70 L439.52,180.70 L440.02,180.70 L440.52,180.70 L441.02,180.70 L441.53,180.70 L442.03,180.70 L442.53,180.70 L443.04,180.70 L443.54,180.70 L444.04,180.70 L444.54,180.70 L445.05,180.70 L445.55,180.69 L446.05,180.69 L446.55,180.69 L447.06,180.69 L447.56,180.69 L448.06,180.69 L448.56,180.68 L449.06,180.68 L449.57,180.67 L450.07,180.67 L450.57,180.66 L451.07,180.65 L451.58,180.65 L452.08,180.64 L452.58,180.62 L453.08,180.61 L453.59,180.59 L454.09,180.57 L454.59,180.55 L455.10,180.52 L455.60,180.49 L456.10,180.46 L456.60,180.42 L457.11,180.37 L457.61,180.32 L458.11,180.26 L458.61,180.19 L459.12,180.12 L459.62,180.03 L460.12,179.93 L460.62,179.82 L461.12,179.70 L461.63,179.56 L462.13,179.41 L462.63,179.23 L463.13,179.05 L463.64,178.84 L464.14,178.61 L464.64,178.35 L465.14,178.08 L465.65,177.77 L466.15,177.45 L466.65,177.09 L467.15,176.70 L467.66,176.29 L468.16,175.84 L468.66,175.36 L469.17,174.85 L469.67,174.30 L470.17,173.72 L470.67,173.11 L471.18,172.46 L471.68,171.78 L472.18,171.07 L472.68,170.32 L473.19,169.55 L473.69,168.74 L474.19,167.91 L474.69,167.06 L475.19,166.18 L475.70,165.28 L476.20,164.37 L476.70,163.44 L477.20,162.51 L477.71,161.57 L478.21,160.62 L478.71,159.68 L479.21,158.75 L479.72,157.83 L480.22,156.93 L480.72,156.04 L481.23,155.18 L481.73,154.35 L482.23,153.56 L482.73,152.79 L483.24,152.07 L483.74,151.40 L484.24,150.77 L484.74,150.18 L485.25,149.65 L485.75,149.17 L486.25,148.75 L486.75,148.38 L487.25,148.07 L487.76,147.81 L488.26,147.60 L488.76,147.45 L489.26,147.34 L489.77,147.29 L490.27,147.28 L490.77,147.32 L491.27,147.40 L491.78,147.51 L492.28,147.66 L492.78,147.84 L493.28,148.05 L493.79,148.28 L494.29,148.53 L494.79,148.79 L495.30,149.07 L495.80,149.35 L496.30,149.64 L496.80,149.93 L497.31,150.22 L497.81,150.51 L498.31,150.80 L498.81,151.08 L499.31,151.35 L499.82,151.61 L500.32,151.87 L500.82,152.12 L501.32,152.36 L501.83,152.59 L502.33,152.81 L502.83,153.03 L503.34,153.25 L503.84,153.47 L504.34,153.68 L504.84,153.90 L505.35,154.12 L505.85,154.35 L506.35,154.58 L506.85,154.83 L507.36,155.08 L507.86,155.35 L508.36,155.64 L508.86,155.95 L509.37,156.27 L509.87,156.61 L510.37,156.97 L510.87,157.36 L511.38,157.77 L511.88,158.20 L512.38,158.65 L512.88,159.12 L513.38,159.61 L513.89,160.13 L514.39,160.66 L514.89,161.21 L515.39,161.78 L515.90,162.36 L516.40,162.95 L516.90,163.56 L517.40,164.17 L517.91,164.79 L518.41,165.42 L518.91,166.05 L519.41,166.68 L519.92,167.30 L520.42,167.93 L520.92,168.55 L521.42,169.16 L521.93,169.76 L522.43,170.35 L522.93,170.93 L523.43,171.49 L523.94,172.04 L524.44,172.58 L524.94,173.09 L525.45,173.59 L525.95,174.07 L526.45,174.52 L526.95,174.96 L527.46,175.38 L527.96,175.78 L528.46,176.16 L528.96,176.51 L529.47,176.85 L529.97,177.17 L530.47,177.46 L530.97,177.74 L531.48,178.00 L531.98,178.24 L532.48,178.47 L532.98,178.68 L533.49,178.87 L533.99,179.05 L534.49,179.21 L534.99,179.36 L535.50,179.50 L536.00,179.63 L536.50,179.74" fill="none" stroke="#b3301e" stroke-width="1.25" />
<line x1="436.00" y1="180.70" x2="536.50" y2="180.70" stroke="#b3301e" stroke-width="1.1" />
<rect x="436.00" y="122.30" width="100.50" height="61.70" fill="none" stroke="#262626" stroke-width="1.1" />
<line x1="433.50" y1="180.70" x2="436.00" y2="180.70" stroke="#222" stroke-width="0.9" />
<text x="432.70" y="184.00" font-size="9.2" fill="#111" font-weight="normal" text-anchor="end" >0</text>
<line x1="433.50" y1="152.70" x2="436.00" y2="152.70" stroke="#222" stroke-width="0.9" />
<text x="432.70" y="156.00" font-size="9.2" fill="#111" font-weight="normal" text-anchor="end" >1</text>
<line x1="433.50" y1="124.70" x2="436.00" y2="124.70" stroke="#222" stroke-width="0.9" />
<text x="432.70" y="128.00" font-size="9.2" fill="#111" font-weight="normal" text-anchor="end" >2</text>
<line x1="436.00" y1="184.00" x2="436.00" y2="186.50" stroke="#222" stroke-width="0.9" />
<text x="435.70" y="194.00" font-size="9.2" fill="#111" font-weight="normal" text-anchor="middle" >-1</text>
<line x1="461.12" y1="184.00" x2="461.12" y2="186.50" stroke="#222" stroke-width="0.9" />
<text x="460.82" y="194.00" font-size="9.2" fill="#111" font-weight="normal" text-anchor="middle" >-0.5</text>
<line x1="486.25" y1="184.00" x2="486.25" y2="186.50" stroke="#222" stroke-width="0.9" />
<text x="486.25" y="194.00" font-size="9.2" fill="#111" font-weight="normal" text-anchor="middle" >0</text>
<line x1="511.38" y1="184.00" x2="511.38" y2="186.50" stroke="#222" stroke-width="0.9" />
<text x="511.38" y="194.00" font-size="9.2" fill="#111" font-weight="normal" text-anchor="middle" >0.5</text>
<line x1="536.50" y1="184.00" x2="536.50" y2="186.50" stroke="#222" stroke-width="0.9" />
<text x="536.50" y="194.00" font-size="9.2" fill="#111" font-weight="normal" text-anchor="middle" >1</text>
<text x="486.25" y="201.60" font-size="9.4" fill="#111" font-weight="normal" text-anchor="middle" >log<tspan font-size="5.8" dy="0.8">2</tspan><tspan dy="-0.8">FC</tspan></text>
<text x="0.00" y="0.00" font-size="9.2" fill="#111" font-weight="normal" text-anchor="middle" transform="translate(421.2,152.35) rotate(-90)">Density (Counts)</text>
<text x="437.50" y="131.30" font-size="7.5" fill="#111" font-weight="normal" text-anchor="start" >Translatome</text>
<path d="M498.93,127.60 L498.63,124.20 L497.37,124.20 L497.07,127.60ZM498.46,128.41 L501.26,126.45 L500.63,125.35 L497.54,126.79ZM497.54,128.41 L500.63,129.85 L501.26,128.75 L498.46,126.79ZM497.07,127.60 L497.37,131.00 L498.63,131.00 L498.93,127.60ZM497.54,126.79 L494.74,128.75 L495.37,129.85 L498.46,128.41ZM498.46,126.79 L495.37,125.35 L494.74,126.45 L497.54,128.41Z" fill="#000" stroke="#000" stroke-width="0.25" />
<path d="M506.73,127.60 L506.43,124.20 L505.17,124.20 L504.87,127.60ZM506.26,128.41 L509.06,126.45 L508.43,125.35 L505.34,126.79ZM505.34,128.41 L508.43,129.85 L509.06,128.75 L506.26,126.79ZM504.87,127.60 L505.17,131.00 L506.43,131.00 L506.73,127.60ZM505.34,126.79 L502.54,128.75 L503.17,129.85 L506.26,128.41ZM506.26,126.79 L503.17,125.35 L502.54,126.45 L505.34,128.41Z" fill="#000" stroke="#000" stroke-width="0.25" />
<path d="M514.53,127.60 L514.23,124.20 L512.97,124.20 L512.67,127.60ZM514.07,128.41 L516.86,126.45 L516.23,125.35 L513.13,126.79ZM513.13,128.41 L516.23,129.85 L516.86,128.75 L514.07,126.79ZM512.67,127.60 L512.97,131.00 L514.23,131.00 L514.53,127.60ZM513.13,126.79 L510.34,128.75 L510.97,129.85 L514.07,128.41ZM514.07,126.79 L510.97,125.35 L510.34,126.45 L513.13,128.41Z" fill="#000" stroke="#000" stroke-width="0.25" />
<path d="M436.00,270.70h1.26V270.47h-1.26ZM437.26,270.70h1.26V270.47h-1.26ZM438.51,270.70h1.26V270.48h-1.26ZM439.77,270.70h1.26V270.48h-1.26ZM441.02,270.70h1.26V270.49h-1.26ZM442.28,270.70h1.26V270.47h-1.26ZM443.54,270.70h1.26V270.48h-1.26ZM444.79,270.70h1.26V270.47h-1.26ZM446.05,270.70h1.26V270.48h-1.26ZM447.31,270.70h1.26V270.47h-1.26ZM448.56,270.70h1.26V270.48h-1.26ZM449.82,270.70h1.26V270.47h-1.26ZM451.07,270.70h1.26V270.47h-1.26ZM452.33,270.70h1.26V270.48h-1.26ZM453.59,270.70h1.26V270.47h-1.26ZM454.84,270.70h1.26V270.47h-1.26ZM456.10,270.70h1.26V270.49h-1.26ZM457.36,270.70h1.26V270.47h-1.26ZM458.61,270.70h1.26V270.47h-1.26ZM459.87,270.70h1.26V270.07h-1.26ZM461.12,270.70h1.26V269.70h-1.26ZM462.38,270.70h1.26V269.28h-1.26ZM463.64,270.70h1.26V268.65h-1.26ZM464.89,270.70h1.26V268.06h-1.26ZM466.15,270.70h1.26V267.24h-1.26ZM467.41,270.70h1.26V265.56h-1.26ZM468.66,270.70h1.26V263.96h-1.26ZM469.92,270.70h1.26V262.49h-1.26ZM471.18,270.70h1.26V260.90h-1.26ZM472.43,270.70h1.26V258.38h-1.26ZM473.69,270.70h1.26V254.73h-1.26ZM474.94,270.70h1.26V252.66h-1.26ZM476.20,270.70h1.26V247.50h-1.26ZM477.46,270.70h1.26V245.50h-1.26ZM478.71,270.70h1.26V244.03h-1.26ZM479.97,270.70h1.26V239.24h-1.26ZM481.22,270.70h1.26V238.18h-1.26ZM482.48,270.70h1.26V233.22h-1.26ZM483.74,270.70h1.26V231.88h-1.26ZM484.99,270.70h1.26V233.33h-1.26ZM486.25,270.70h1.26V232.58h-1.26ZM487.51,270.70h1.26V232.82h-1.26ZM488.76,270.70h1.26V233.30h-1.26ZM490.02,270.70h1.26V233.98h-1.26ZM491.27,270.70h1.26V240.61h-1.26ZM492.53,270.70h1.26V241.16h-1.26ZM493.79,270.70h1.26V242.57h-1.26ZM495.04,270.70h1.26V246.34h-1.26ZM496.30,270.70h1.26V248.00h-1.26ZM497.56,270.70h1.26V252.19h-1.26ZM498.81,270.70h1.26V252.61h-1.26ZM500.07,270.70h1.26V256.00h-1.26ZM501.32,270.70h1.26V259.06h-1.26ZM502.58,270.70h1.26V260.17h-1.26ZM503.84,270.70h1.26V262.51h-1.26ZM505.09,270.70h1.26V264.20h-1.26ZM506.35,270.70h1.26V265.28h-1.26ZM507.61,270.70h1.26V266.66h-1.26ZM508.86,270.70h1.26V267.54h-1.26ZM510.12,270.70h1.26V268.04h-1.26ZM511.37,270.70h1.26V268.74h-1.26ZM512.63,270.70h1.26V269.39h-1.26ZM513.89,270.70h1.26V269.62h-1.26ZM515.14,270.70h1.26V270.01h-1.26ZM516.40,270.70h1.26V270.48h-1.26ZM517.66,270.70h1.26V270.46h-1.26ZM518.91,270.70h1.26V270.47h-1.26ZM520.17,270.70h1.26V270.48h-1.26ZM521.43,270.70h1.26V270.48h-1.26ZM522.68,270.70h1.26V270.48h-1.26ZM523.94,270.70h1.26V270.49h-1.26ZM525.19,270.70h1.26V270.46h-1.26ZM526.45,270.70h1.26V270.49h-1.26ZM527.71,270.70h1.26V270.48h-1.26ZM528.96,270.70h1.26V270.47h-1.26ZM530.22,270.70h1.26V270.48h-1.26ZM531.48,270.70h1.26V270.46h-1.26ZM532.73,270.70h1.26V270.48h-1.26ZM533.99,270.70h1.26V270.46h-1.26ZM535.24,270.70h1.26V270.46h-1.26Z" fill="#cad2d2" stroke="#ffffff" stroke-width="0.08" />
<path d="M481.22,270.70h1.26V267.64h-1.26ZM482.48,270.70h1.26V265.06h-1.26ZM483.74,270.70h1.26V263.89h-1.26ZM484.99,270.70h1.26V257.75h-1.26ZM486.25,270.70h1.26V252.45h-1.26ZM487.51,270.70h1.26V249.56h-1.26ZM488.76,270.70h1.26V243.97h-1.26ZM490.02,270.70h1.26V232.30h-1.26ZM491.27,270.70h1.26V233.21h-1.26ZM492.53,270.70h1.26V238.18h-1.26ZM493.79,270.70h1.26V215.13h-1.26ZM495.04,270.70h1.26V229.60h-1.26ZM496.30,270.70h1.26V223.64h-1.26ZM497.56,270.70h1.26V217.73h-1.26ZM498.81,270.70h1.26V238.83h-1.26ZM500.07,270.70h1.26V246.08h-1.26ZM501.32,270.70h1.26V247.51h-1.26ZM502.58,270.70h1.26V243.52h-1.26ZM503.84,270.70h1.26V251.90h-1.26ZM505.09,270.70h1.26V257.12h-1.26ZM506.35,270.70h1.26V258.81h-1.26ZM507.61,270.70h1.26V259.10h-1.26ZM508.86,270.70h1.26V265.27h-1.26ZM510.12,270.70h1.26V266.46h-1.26ZM511.37,270.70h1.26V266.88h-1.26ZM447.93,270.70h1.26V267.62h-1.26ZM451.45,270.70h1.26V267.62h-1.26ZM455.47,270.70h1.26V267.62h-1.26ZM523.31,270.70h1.26V267.62h-1.26ZM530.85,270.70h1.26V267.62h-1.26ZM491.65,270.70h1.26V221.70h-1.26ZM475.57,270.70h1.26V263.70h-1.26Z" fill="#d16a56" stroke="#ffffff" stroke-width="0.12" fill-opacity="0.85"/>
<line x1="486.25" y1="213.10" x2="486.25" y2="270.70" stroke="#eef2f2" stroke-width="1.0" stroke-dasharray="2.6,2"/>
<line x1="494.79" y1="213.10" x2="494.79" y2="270.70" stroke="#c0392b" stroke-width="1.0" stroke-dasharray="2.6,2"/>
<path d="M436.00,270.70 L436.50,270.70 L437.00,270.70 L437.51,270.70 L438.01,270.70 L438.51,270.70 L439.01,270.70 L439.52,270.70 L440.02,270.70 L440.52,270.70 L441.02,270.70 L441.53,270.70 L442.03,270.70 L442.53,270.70 L443.04,270.70 L443.54,270.70 L444.04,270.70 L444.54,270.70 L445.05,270.70 L445.55,270.70 L446.05,270.70 L446.55,270.70 L447.06,270.70 L447.56,270.70 L448.06,270.69 L448.56,270.69 L449.06,270.69 L449.57,270.69 L450.07,270.69 L450.57,270.68 L451.07,270.68 L451.58,270.68 L452.08,270.67 L452.58,270.66 L453.08,270.65 L453.59,270.64 L454.09,270.63 L454.59,270.62 L455.10,270.60 L455.60,270.58 L456.10,270.56 L456.60,270.53 L457.11,270.49 L457.61,270.45 L458.11,270.40 L458.61,270.35 L459.12,270.28 L459.62,270.21 L460.12,270.12 L460.62,270.02 L461.12,269.91 L461.63,269.78 L462.13,269.63 L462.63,269.46 L463.13,269.27 L463.64,269.06 L464.14,268.82 L464.64,268.55 L465.14,268.24 L465.65,267.91 L466.15,267.54 L466.65,267.13 L467.15,266.67 L467.66,266.18 L468.16,265.64 L468.66,265.06 L469.17,264.42 L469.67,263.74 L470.17,263.00 L470.67,262.22 L471.18,261.38 L471.68,260.49 L472.18,259.55 L472.68,258.56 L473.19,257.53 L473.69,256.45 L474.19,255.33 L474.69,254.18 L475.19,252.99 L475.70,251.77 L476.20,250.54 L476.70,249.29 L477.20,248.03 L477.71,246.77 L478.21,245.52 L478.71,244.29 L479.21,243.08 L479.72,241.90 L480.22,240.77 L480.72,239.69 L481.23,238.67 L481.73,237.71 L482.23,236.84 L482.73,236.04 L483.24,235.34 L483.74,234.73 L484.24,234.23 L484.74,233.84 L485.25,233.55 L485.75,233.38 L486.25,233.32 L486.75,233.36 L487.25,233.49 L487.76,233.70 L488.26,233.99 L488.76,234.36 L489.26,234.81 L489.77,235.34 L490.27,235.94 L490.77,236.60 L491.27,237.33 L491.78,238.11 L492.28,238.95 L492.78,239.84 L493.28,240.77 L493.79,241.74 L494.29,242.74 L494.79,243.76 L495.30,244.81 L495.80,245.88 L496.30,246.95 L496.80,248.03 L497.31,249.11 L497.81,250.18 L498.31,251.25 L498.81,252.30 L499.31,253.33 L499.82,254.34 L500.32,255.33 L500.82,256.29 L501.32,257.23 L501.83,258.13 L502.33,258.99 L502.83,259.83 L503.34,260.62 L503.84,261.38 L504.34,262.10 L504.84,262.78 L505.35,263.43 L505.85,264.04 L506.35,264.61 L506.85,265.14 L507.36,265.64 L507.86,266.11 L508.36,266.54 L508.86,266.94 L509.37,267.31 L509.87,267.65 L510.37,267.96 L510.87,268.24 L511.38,268.50 L511.88,268.74 L512.38,268.96 L512.88,269.15 L513.38,269.33 L513.89,269.49 L514.39,269.63 L514.89,269.76 L515.39,269.88 L515.90,269.98 L516.40,270.07 L516.90,270.15 L517.40,270.22 L517.91,270.28 L518.41,270.34 L518.91,270.39 L519.41,270.43 L519.92,270.47 L520.42,270.50 L520.92,270.53 L521.42,270.56 L521.93,270.58 L522.43,270.60 L522.93,270.61 L523.43,270.62 L523.94,270.64 L524.44,270.65 L524.94,270.65 L525.45,270.66 L525.95,270.67 L526.45,270.67 L526.95,270.68 L527.46,270.68 L527.96,270.68 L528.46,270.69 L528.96,270.69 L529.47,270.69 L529.97,270.69 L530.47,270.69 L530.97,270.70 L531.48,270.70 L531.98,270.70 L532.48,270.70 L532.98,270.70 L533.49,270.70 L533.99,270.70 L534.49,270.70 L534.99,270.70 L535.50,270.70 L536.00,270.70 L536.50,270.70" fill="none" stroke="#e6eaea" stroke-width="0.9" />
<path d="M436.00,270.70 L436.50,270.70 L437.00,270.70 L437.51,270.70 L438.01,270.70 L438.51,270.70 L439.01,270.70 L439.52,270.70 L440.02,270.70 L440.52,270.70 L441.02,270.70 L441.53,270.70 L442.03,270.70 L442.53,270.70 L443.04,270.70 L443.54,270.70 L444.04,270.70 L444.54,270.70 L445.05,270.70 L445.55,270.70 L446.05,270.70 L446.55,270.70 L447.06,270.70 L447.56,270.70 L448.06,270.70 L448.56,270.70 L449.06,270.70 L449.57,270.70 L450.07,270.70 L450.57,270.70 L451.07,270.69 L451.58,270.69 L452.08,270.69 L452.58,270.69 L453.08,270.69 L453.59,270.69 L454.09,270.69 L454.59,270.69 L455.10,270.69 L455.60,270.69 L456.10,270.69 L456.60,270.69 L457.11,270.69 L457.61,270.69 L458.11,270.69 L458.61,270.69 L459.12,270.68 L459.62,270.68 L460.12,270.68 L460.62,270.68 L461.12,270.68 L461.63,270.68 L462.13,270.68 L462.63,270.68 L463.13,270.67 L463.64,270.67 L464.14,270.67 L464.64,270.67 L465.14,270.67 L465.65,270.66 L466.15,270.66 L466.65,270.66 L467.15,270.66 L467.66,270.65 L468.16,270.65 L468.66,270.65 L469.17,270.64 L469.67,270.64 L470.17,270.63 L470.67,270.63 L471.18,270.62 L471.68,270.62 L472.18,270.61 L472.68,270.60 L473.19,270.59 L473.69,270.57 L474.19,270.56 L474.69,270.54 L475.19,270.51 L475.70,270.48 L476.20,270.44 L476.70,270.39 L477.20,270.32 L477.71,270.24 L478.21,270.13 L478.71,270.00 L479.21,269.83 L479.72,269.63 L480.22,269.37 L480.72,269.05 L481.23,268.67 L481.73,268.20 L482.23,267.64 L482.73,266.98 L483.24,266.20 L483.74,265.28 L484.24,264.23 L484.74,263.03 L485.25,261.66 L485.75,260.13 L486.25,258.44 L486.75,256.58 L487.25,254.56 L487.76,252.40 L488.26,250.11 L488.76,247.71 L489.26,245.24 L489.77,242.73 L490.27,240.21 L490.77,237.74 L491.27,235.34 L491.78,233.07 L492.28,230.98 L492.78,229.11 L493.28,227.49 L493.79,226.17 L494.29,225.16 L494.79,224.50 L495.30,224.20 L495.80,224.19 L496.30,224.39 L496.80,225.09 L497.31,225.99 L497.81,227.08 L498.31,228.35 L498.81,229.78 L499.31,231.36 L499.82,233.06 L500.32,234.86 L500.82,236.75 L501.32,238.69 L501.83,240.67 L502.33,242.67 L502.83,244.66 L503.34,246.63 L503.84,248.56 L504.34,250.44 L504.84,252.24 L505.35,253.97 L505.85,255.61 L506.35,257.15 L506.85,258.60 L507.36,259.94 L507.86,261.18 L508.36,262.31 L508.86,263.35 L509.37,264.28 L509.87,265.13 L510.37,265.88 L510.87,266.55 L511.38,267.14 L511.88,267.66 L512.38,268.11 L512.88,268.51 L513.38,268.85 L513.89,269.14 L514.39,269.39 L514.89,269.60 L515.39,269.78 L515.90,269.93 L516.40,270.06 L516.90,270.16 L517.40,270.25 L517.91,270.33 L518.41,270.39 L518.91,270.44 L519.41,270.48 L519.92,270.51 L520.42,270.54 L520.92,270.56 L521.42,270.58 L521.93,270.60 L522.43,270.61 L522.93,270.62 L523.43,270.63 L523.94,270.64 L524.44,270.64 L524.94,270.65 L525.45,270.65 L525.95,270.66 L526.45,270.66 L526.95,270.66 L527.46,270.67 L527.96,270.67 L528.46,270.67 L528.96,270.67 L529.47,270.67 L529.97,270.68 L530.47,270.68 L530.97,270.68 L531.48,270.68 L531.98,270.68 L532.48,270.68 L532.98,270.68 L533.49,270.68 L533.99,270.69 L534.49,270.69 L534.99,270.69 L535.50,270.69 L536.00,270.69 L536.50,270.69" fill="none" stroke="#b3301e" stroke-width="1.25" />
<line x1="436.00" y1="270.70" x2="536.50" y2="270.70" stroke="#b3301e" stroke-width="1.1" />
<rect x="436.00" y="212.30" width="100.50" height="61.70" fill="none" stroke="#262626" stroke-width="1.1" />
<line x1="433.50" y1="270.70" x2="436.00" y2="270.70" stroke="#222" stroke-width="0.9" />
<text x="432.70" y="274.00" font-size="9.2" fill="#111" font-weight="normal" text-anchor="end" >0</text>
<line x1="433.50" y1="256.70" x2="436.00" y2="256.70" stroke="#222" stroke-width="0.9" />
<text x="432.70" y="260.00" font-size="9.2" fill="#111" font-weight="normal" text-anchor="end" >1</text>
<line x1="433.50" y1="242.70" x2="436.00" y2="242.70" stroke="#222" stroke-width="0.9" />
<text x="432.70" y="246.00" font-size="9.2" fill="#111" font-weight="normal" text-anchor="end" >2</text>
<line x1="433.50" y1="228.70" x2="436.00" y2="228.70" stroke="#222" stroke-width="0.9" />
<text x="432.70" y="232.00" font-size="9.2" fill="#111" font-weight="normal" text-anchor="end" >3</text>
<line x1="433.50" y1="214.70" x2="436.00" y2="214.70" stroke="#222" stroke-width="0.9" />
<text x="432.70" y="218.00" font-size="9.2" fill="#111" font-weight="normal" text-anchor="end" >4</text>
<line x1="436.00" y1="274.00" x2="436.00" y2="276.50" stroke="#222" stroke-width="0.9" />
<text x="435.70" y="284.00" font-size="9.2" fill="#111" font-weight="normal" text-anchor="middle" >-1</text>
<line x1="461.12" y1="274.00" x2="461.12" y2="276.50" stroke="#222" stroke-width="0.9" />
<text x="460.82" y="284.00" font-size="9.2" fill="#111" font-weight="normal" text-anchor="middle" >-0.5</text>
<line x1="486.25" y1="274.00" x2="486.25" y2="276.50" stroke="#222" stroke-width="0.9" />
<text x="486.25" y="284.00" font-size="9.2" fill="#111" font-weight="normal" text-anchor="middle" >0</text>
<line x1="511.38" y1="274.00" x2="511.38" y2="276.50" stroke="#222" stroke-width="0.9" />
<text x="511.38" y="284.00" font-size="9.2" fill="#111" font-weight="normal" text-anchor="middle" >0.5</text>
<line x1="536.50" y1="274.00" x2="536.50" y2="276.50" stroke="#222" stroke-width="0.9" />
<text x="536.50" y="284.00" font-size="9.2" fill="#111" font-weight="normal" text-anchor="middle" >1</text>
<text x="486.25" y="291.60" font-size="9.4" fill="#111" font-weight="normal" text-anchor="middle" >log<tspan font-size="5.8" dy="0.8">2</tspan><tspan dy="-0.8">FC</tspan></text>
<text x="0.00" y="0.00" font-size="9.2" fill="#111" font-weight="normal" text-anchor="middle" transform="translate(421.2,242.35) rotate(-90)">Density (Counts)</text>
<text x="437.50" y="221.30" font-size="7.5" fill="#111" font-weight="normal" text-anchor="start" >Proteome</text>
<path d="M498.93,217.60 L498.63,214.20 L497.37,214.20 L497.07,217.60ZM498.46,218.41 L501.26,216.45 L500.63,215.35 L497.54,216.79ZM497.54,218.41 L500.63,219.85 L501.26,218.75 L498.46,216.79ZM497.07,217.60 L497.37,221.00 L498.63,221.00 L498.93,217.60ZM497.54,216.79 L494.74,218.75 L495.37,219.85 L498.46,218.41ZM498.46,216.79 L495.37,215.35 L494.74,216.45 L497.54,218.41Z" fill="#000" stroke="#000" stroke-width="0.25" />
<path d="M506.73,217.60 L506.43,214.20 L505.17,214.20 L504.87,217.60ZM506.26,218.41 L509.06,216.45 L508.43,215.35 L505.34,216.79ZM505.34,218.41 L508.43,219.85 L509.06,218.75 L506.26,216.79ZM504.87,217.60 L505.17,221.00 L506.43,221.00 L506.73,217.60ZM505.34,216.79 L502.54,218.75 L503.17,219.85 L506.26,218.41ZM506.26,216.79 L503.17,215.35 L502.54,216.45 L505.34,218.41Z" fill="#000" stroke="#000" stroke-width="0.25" />
<path d="M514.53,217.60 L514.23,214.20 L512.97,214.20 L512.67,217.60ZM514.07,218.41 L516.86,216.45 L516.23,215.35 L513.13,216.79ZM513.13,218.41 L516.23,219.85 L516.86,218.75 L514.07,216.79ZM512.67,217.60 L512.97,221.00 L514.23,221.00 L514.53,217.60ZM513.13,216.79 L510.34,218.75 L510.97,219.85 L514.07,218.41ZM514.07,216.79 L510.97,215.35 L510.34,216.45 L513.13,218.41Z" fill="#000" stroke="#000" stroke-width="0.25" />
<path d="M577.00,91.50h0.85V91.28h-0.85ZM577.85,91.50h0.85V91.28h-0.85ZM578.70,91.50h0.85V91.27h-0.85ZM579.55,91.50h0.85V91.28h-0.85ZM580.40,91.50h0.85V91.27h-0.85ZM581.25,91.50h0.85V91.28h-0.85ZM582.10,91.50h0.85V91.28h-0.85ZM582.95,91.50h0.85V91.27h-0.85ZM583.80,91.50h0.85V91.28h-0.85ZM584.65,91.50h0.85V91.28h-0.85ZM585.50,91.50h0.85V91.28h-0.85ZM586.35,91.50h0.85V91.28h-0.85ZM587.20,91.50h0.85V91.28h-0.85ZM588.05,91.50h0.85V91.27h-0.85ZM588.90,91.50h0.85V91.28h-0.85ZM589.75,91.50h0.85V91.28h-0.85ZM590.60,91.50h0.85V91.27h-0.85ZM591.45,91.50h0.85V91.26h-0.85ZM592.30,91.50h0.85V91.27h-0.85ZM593.15,91.50h0.85V91.28h-0.85ZM594.00,91.50h0.85V91.26h-0.85ZM594.85,91.50h0.85V91.28h-0.85ZM595.70,91.50h0.85V91.27h-0.85ZM596.55,91.50h0.85V91.28h-0.85ZM597.40,91.50h0.85V91.28h-0.85ZM598.25,91.50h0.85V91.28h-0.85ZM599.10,91.50h0.85V91.28h-0.85ZM599.95,91.50h0.85V91.27h-0.85ZM600.80,91.50h0.85V91.28h-0.85ZM601.65,91.50h0.85V91.27h-0.85ZM602.50,91.50h0.85V91.27h-0.85ZM603.35,91.50h0.85V91.28h-0.85ZM604.20,91.50h0.85V91.27h-0.85ZM605.05,91.50h0.85V91.28h-0.85ZM605.90,91.50h0.85V91.28h-0.85ZM606.75,91.50h0.85V91.28h-0.85ZM607.60,91.50h0.85V91.27h-0.85ZM608.45,91.50h0.85V91.28h-0.85ZM609.30,91.50h0.85V90.87h-0.85ZM610.15,91.50h0.85V90.73h-0.85ZM611.00,91.50h0.85V90.61h-0.85ZM611.85,91.50h0.85V90.46h-0.85ZM612.70,91.50h0.85V90.21h-0.85ZM613.55,91.50h0.85V89.99h-0.85ZM614.40,91.50h0.85V89.80h-0.85ZM615.25,91.50h0.85V89.42h-0.85ZM616.10,91.50h0.85V89.06h-0.85ZM616.95,91.50h0.85V88.51h-0.85ZM617.80,91.50h0.85V88.02h-0.85ZM618.65,91.50h0.85V87.57h-0.85ZM619.50,91.50h0.85V86.52h-0.85ZM620.35,91.50h0.85V86.10h-0.85ZM621.20,91.50h0.85V84.93h-0.85ZM622.05,91.50h0.85V83.47h-0.85ZM622.90,91.50h0.85V82.57h-0.85ZM623.75,91.50h0.85V80.59h-0.85ZM624.60,91.50h0.85V79.19h-0.85ZM625.45,91.50h0.85V76.00h-0.85ZM626.30,91.50h0.85V73.01h-0.85ZM627.15,91.50h0.85V70.06h-0.85ZM628.00,91.50h0.85V65.42h-0.85ZM628.85,91.50h0.85V65.13h-0.85ZM629.70,91.50h0.85V68.31h-0.85ZM630.55,91.50h0.85V72.06h-0.85ZM631.40,91.50h0.85V75.07h-0.85ZM632.25,91.50h0.85V77.76h-0.85ZM633.10,91.50h0.85V79.42h-0.85ZM633.95,91.50h0.85V81.17h-0.85ZM634.80,91.50h0.85V83.15h-0.85ZM635.65,91.50h0.85V84.30h-0.85ZM636.50,91.50h0.85V85.77h-0.85ZM637.35,91.50h0.85V86.32h-0.85ZM638.20,91.50h0.85V87.14h-0.85ZM639.05,91.50h0.85V87.68h-0.85ZM639.90,91.50h0.85V88.32h-0.85ZM640.75,91.50h0.85V88.95h-0.85ZM641.60,91.50h0.85V89.32h-0.85ZM642.45,91.50h0.85V89.60h-0.85ZM643.30,91.50h0.85V89.99h-0.85ZM644.15,91.50h0.85V90.17h-0.85ZM645.00,91.50h0.85V90.41h-0.85ZM645.85,91.50h0.85V90.58h-0.85ZM646.70,91.50h0.85V90.72h-0.85ZM647.55,91.50h0.85V90.79h-0.85ZM648.40,91.50h0.85V90.94h-0.85ZM649.25,91.50h0.85V91.28h-0.85ZM650.10,91.50h0.85V91.28h-0.85ZM650.95,91.50h0.85V91.27h-0.85ZM651.80,91.50h0.85V91.28h-0.85ZM652.65,91.50h0.85V91.28h-0.85ZM653.50,91.50h0.85V91.27h-0.85ZM654.35,91.50h0.85V91.27h-0.85ZM655.20,91.50h0.85V91.27h-0.85ZM656.05,91.50h0.85V91.27h-0.85ZM656.90,91.50h0.85V91.28h-0.85ZM657.75,91.50h0.85V91.28h-0.85ZM658.60,91.50h0.85V91.28h-0.85ZM659.45,91.50h0.85V91.27h-0.85ZM660.30,91.50h0.85V91.26h-0.85ZM661.15,91.50h0.85V91.28h-0.85ZM662.00,91.50h0.85V91.28h-0.85ZM662.85,91.50h0.85V91.28h-0.85ZM663.70,91.50h0.85V91.28h-0.85ZM664.55,91.50h0.85V91.27h-0.85ZM665.40,91.50h0.85V91.27h-0.85ZM666.25,91.50h0.85V91.28h-0.85ZM667.10,91.50h0.85V91.29h-0.85ZM667.95,91.50h0.85V91.28h-0.85ZM668.80,91.50h0.85V91.28h-0.85ZM669.65,91.50h0.85V91.27h-0.85ZM670.50,91.50h0.85V91.26h-0.85ZM671.35,91.50h0.85V91.27h-0.85ZM672.20,91.50h0.85V91.27h-0.85ZM673.05,91.50h0.85V91.27h-0.85ZM673.90,91.50h0.85V91.27h-0.85ZM674.75,91.50h0.85V91.28h-0.85ZM675.60,91.50h0.85V91.26h-0.85ZM676.45,91.50h0.85V91.27h-0.85ZM677.30,91.50h0.85V91.27h-0.85ZM678.15,91.50h0.85V91.27h-0.85Z" fill="#cad2d2" stroke="#ffffff" stroke-width="0.08" />
<path d="M619.50,91.50h0.85V89.34h-0.85ZM620.35,91.50h0.85V88.31h-0.85ZM621.20,91.50h0.85V87.63h-0.85ZM622.05,91.50h0.85V83.79h-0.85ZM622.90,91.50h0.85V83.81h-0.85ZM623.75,91.50h0.85V80.90h-0.85ZM624.60,91.50h0.85V75.98h-0.85ZM625.45,91.50h0.85V72.23h-0.85ZM626.30,91.50h0.85V64.87h-0.85ZM627.15,91.50h0.85V65.44h-0.85ZM628.00,91.50h0.85V62.94h-0.85ZM628.85,91.50h0.85V56.57h-0.85ZM629.70,91.50h0.85V56.60h-0.85ZM630.55,91.50h0.85V50.63h-0.85ZM631.40,91.50h0.85V60.90h-0.85ZM632.25,91.50h0.85V46.82h-0.85ZM633.10,91.50h0.85V58.24h-0.85ZM633.95,91.50h0.85V71.28h-0.85ZM634.80,91.50h0.85V74.99h-0.85ZM635.65,91.50h0.85V78.78h-0.85ZM636.50,91.50h0.85V82.58h-0.85ZM637.35,91.50h0.85V86.41h-0.85ZM638.20,91.50h0.85V86.52h-0.85ZM639.05,91.50h0.85V88.10h-0.85ZM582.70,91.50h0.85V89.03h-0.85ZM606.16,91.50h0.85V89.03h-0.85ZM608.20,91.50h0.85V89.38h-0.85ZM617.38,91.50h0.85V85.85h-0.85ZM641.35,91.50h0.85V88.32h-0.85ZM649.00,91.50h0.85V89.38h-0.85ZM637.78,91.50h0.85V87.26h-0.85ZM630.12,91.50h0.85V49.12h-0.85Z" fill="#52a9d8" stroke="#ffffff" stroke-width="0.12" fill-opacity="0.85"/>
<line x1="630.04" y1="33.40" x2="630.04" y2="91.50" stroke="#eef2f2" stroke-width="1.0" stroke-dasharray="2.6,2"/>
<line x1="630.29" y1="33.40" x2="630.29" y2="91.50" stroke="#2b8cc4" stroke-width="1.0" stroke-dasharray="2.6,2"/>
<path d="M577.00,91.50 L577.51,91.50 L578.02,91.50 L578.53,91.50 L579.04,91.50 L579.55,91.50 L580.06,91.50 L580.57,91.50 L581.08,91.50 L581.59,91.50 L582.10,91.50 L582.61,91.50 L583.12,91.50 L583.63,91.50 L584.14,91.50 L584.65,91.50 L585.16,91.49 L585.67,91.49 L586.18,91.49 L586.69,91.49 L587.20,91.49 L587.71,91.49 L588.22,91.49 L588.73,91.49 L589.24,91.49 L589.75,91.49 L590.26,91.49 L590.77,91.48 L591.28,91.48 L591.79,91.48 L592.30,91.48 L592.81,91.48 L593.32,91.47 L593.83,91.47 L594.34,91.47 L594.85,91.47 L595.36,91.46 L595.87,91.46 L596.38,91.45 L596.89,91.45 L597.40,91.44 L597.91,91.44 L598.42,91.43 L598.93,91.42 L599.44,91.41 L599.95,91.41 L600.46,91.40 L600.97,91.38 L601.48,91.37 L601.99,91.36 L602.50,91.34 L603.01,91.33 L603.52,91.31 L604.03,91.29 L604.54,91.27 L605.05,91.24 L605.56,91.22 L606.07,91.19 L606.58,91.15 L607.09,91.12 L607.60,91.08 L608.11,91.03 L608.62,90.98 L609.13,90.93 L609.64,90.87 L610.15,90.80 L610.66,90.73 L611.17,90.65 L611.68,90.56 L612.19,90.46 L612.70,90.35 L613.21,90.23 L613.72,90.09 L614.23,89.95 L614.74,89.78 L615.25,89.60 L615.76,89.40 L616.27,89.18 L616.78,88.94 L617.29,88.67 L617.80,88.37 L618.31,88.04 L618.82,87.68 L619.33,87.27 L619.84,86.83 L620.35,86.34 L620.86,85.80 L621.37,85.20 L621.88,84.53 L622.39,83.80 L622.90,82.99 L623.41,82.10 L623.92,81.11 L624.43,80.01 L624.94,78.81 L625.45,77.47 L625.96,76.00 L626.47,74.37 L626.98,72.56 L627.49,70.57 L628.00,68.37 L628.51,65.94 L629.02,63.25 L629.53,65.94 L630.04,68.37 L630.55,70.57 L631.06,72.56 L631.57,74.37 L632.08,76.00 L632.59,77.47 L633.10,78.81 L633.61,80.01 L634.12,81.11 L634.63,82.10 L635.14,82.99 L635.65,83.80 L636.16,84.53 L636.67,85.20 L637.18,85.80 L637.69,86.34 L638.20,86.83 L638.71,87.27 L639.22,87.68 L639.73,88.04 L640.24,88.37 L640.75,88.67 L641.26,88.94 L641.77,89.18 L642.28,89.40 L642.79,89.60 L643.30,89.78 L643.81,89.95 L644.32,90.09 L644.83,90.23 L645.34,90.35 L645.85,90.46 L646.36,90.56 L646.87,90.65 L647.38,90.73 L647.89,90.80 L648.40,90.87 L648.91,90.93 L649.42,90.98 L649.93,91.03 L650.44,91.08 L650.95,91.12 L651.46,91.15 L651.97,91.19 L652.48,91.22 L652.99,91.24 L653.50,91.27 L654.01,91.29 L654.52,91.31 L655.03,91.33 L655.54,91.34 L656.05,91.36 L656.56,91.37 L657.07,91.38 L657.58,91.40 L658.09,91.41 L658.60,91.41 L659.11,91.42 L659.62,91.43 L660.13,91.44 L660.64,91.44 L661.15,91.45 L661.66,91.45 L662.17,91.46 L662.68,91.46 L663.19,91.47 L663.70,91.47 L664.21,91.47 L664.72,91.47 L665.23,91.48 L665.74,91.48 L666.25,91.48 L666.76,91.48 L667.27,91.48 L667.78,91.49 L668.29,91.49 L668.80,91.49 L669.31,91.49 L669.82,91.49 L670.33,91.49 L670.84,91.49 L671.35,91.49 L671.86,91.49 L672.37,91.49 L672.88,91.49 L673.39,91.50 L673.90,91.50 L674.41,91.50 L674.92,91.50 L675.43,91.50 L675.94,91.50 L676.45,91.50 L676.96,91.50 L677.47,91.50 L677.98,91.50 L678.49,91.50 L679.00,91.50" fill="none" stroke="#e6eaea" stroke-width="0.9" />
<path d="M577.00,91.50 L577.51,91.50 L578.02,91.50 L578.53,91.50 L579.04,91.50 L579.55,91.50 L580.06,91.50 L580.57,91.50 L581.08,91.50 L581.59,91.50 L582.10,91.50 L582.61,91.50 L583.12,91.50 L583.63,91.50 L584.14,91.50 L584.65,91.50 L585.16,91.50 L585.67,91.50 L586.18,91.50 L586.69,91.50 L587.20,91.50 L587.71,91.50 L588.22,91.50 L588.73,91.49 L589.24,91.49 L589.75,91.49 L590.26,91.49 L590.77,91.49 L591.28,91.49 L591.79,91.49 L592.30,91.49 L592.81,91.49 L593.32,91.49 L593.83,91.49 L594.34,91.49 L594.85,91.49 L595.36,91.48 L595.87,91.48 L596.38,91.48 L596.89,91.48 L597.40,91.48 L597.91,91.48 L598.42,91.47 L598.93,91.47 L599.44,91.47 L599.95,91.47 L600.46,91.46 L600.97,91.46 L601.48,91.46 L601.99,91.45 L602.50,91.45 L603.01,91.44 L603.52,91.44 L604.03,91.43 L604.54,91.43 L605.05,91.42 L605.56,91.42 L606.07,91.41 L606.58,91.40 L607.09,91.39 L607.60,91.38 L608.11,91.37 L608.62,91.36 L609.13,91.35 L609.64,91.34 L610.15,91.32 L610.66,91.31 L611.17,91.29 L611.68,91.27 L612.19,91.25 L612.70,91.23 L613.21,91.20 L613.72,91.17 L614.23,91.14 L614.74,91.10 L615.25,91.05 L615.76,91.00 L616.27,90.93 L616.78,90.84 L617.29,90.73 L617.80,90.58 L618.31,90.38 L618.82,90.13 L619.33,89.80 L619.84,89.37 L620.35,88.82 L620.86,88.12 L621.37,87.24 L621.88,86.15 L622.39,84.83 L622.90,83.25 L623.41,81.39 L623.92,79.24 L624.43,76.82 L624.94,74.13 L625.45,71.22 L625.96,68.13 L626.47,64.94 L626.98,61.74 L627.49,58.61 L628.00,55.67 L628.51,53.01 L629.02,50.74 L629.53,48.93 L630.04,48.36 L630.55,48.36 L631.06,49.05 L631.57,50.50 L632.08,52.63 L632.59,55.34 L633.10,58.49 L633.61,61.93 L634.12,65.51 L634.63,69.07 L635.14,72.50 L635.65,75.69 L636.16,78.56 L636.67,81.08 L637.18,83.24 L637.69,85.03 L638.20,86.49 L638.71,87.65 L639.22,88.56 L639.73,89.25 L640.24,89.77 L640.75,90.15 L641.26,90.44 L641.77,90.64 L642.28,90.79 L642.79,90.90 L643.30,90.99 L643.81,91.05 L644.32,91.10 L644.83,91.14 L645.34,91.17 L645.85,91.20 L646.36,91.23 L646.87,91.25 L647.38,91.27 L647.89,91.29 L648.40,91.31 L648.91,91.32 L649.42,91.34 L649.93,91.35 L650.44,91.36 L650.95,91.37 L651.46,91.38 L651.97,91.39 L652.48,91.40 L652.99,91.41 L653.50,91.42 L654.01,91.42 L654.52,91.43 L655.03,91.43 L655.54,91.44 L656.05,91.44 L656.56,91.45 L657.07,91.45 L657.58,91.46 L658.09,91.46 L658.60,91.46 L659.11,91.47 L659.62,91.47 L660.13,91.47 L660.64,91.47 L661.15,91.48 L661.66,91.48 L662.17,91.48 L662.68,91.48 L663.19,91.48 L663.70,91.48 L664.21,91.49 L664.72,91.49 L665.23,91.49 L665.74,91.49 L666.25,91.49 L666.76,91.49 L667.27,91.49 L667.78,91.49 L668.29,91.49 L668.80,91.49 L669.31,91.49 L669.82,91.49 L670.33,91.49 L670.84,91.50 L671.35,91.50 L671.86,91.50 L672.37,91.50 L672.88,91.50 L673.39,91.50 L673.90,91.50 L674.41,91.50 L674.92,91.50 L675.43,91.50 L675.94,91.50 L676.45,91.50 L676.96,91.50 L677.47,91.50 L677.98,91.50 L678.49,91.50 L679.00,91.50" fill="none" stroke="#1d7fb6" stroke-width="1.25" />
<line x1="577.00" y1="91.50" x2="679.00" y2="91.50" stroke="#1d7fb6" stroke-width="1.1" />
<rect x="577.00" y="32.60" width="102.00" height="62.20" fill="none" stroke="#262626" stroke-width="1.1" />
<line x1="574.50" y1="91.50" x2="577.00" y2="91.50" stroke="#222" stroke-width="0.9" />
<text x="573.70" y="94.80" font-size="9.2" fill="#111" font-weight="normal" text-anchor="end" >0</text>
<line x1="574.50" y1="77.38" x2="577.00" y2="77.38" stroke="#222" stroke-width="0.9" />
<text x="573.70" y="80.67" font-size="9.2" fill="#111" font-weight="normal" text-anchor="end" >2</text>
<line x1="574.50" y1="63.25" x2="577.00" y2="63.25" stroke="#222" stroke-width="0.9" />
<text x="573.70" y="66.55" font-size="9.2" fill="#111" font-weight="normal" text-anchor="end" >4</text>
<line x1="574.50" y1="49.12" x2="577.00" y2="49.12" stroke="#222" stroke-width="0.9" />
<text x="573.70" y="52.42" font-size="9.2" fill="#111" font-weight="normal" text-anchor="end" >6</text>
<line x1="574.50" y1="35.00" x2="577.00" y2="35.00" stroke="#222" stroke-width="0.9" />
<text x="573.70" y="38.30" font-size="9.2" fill="#111" font-weight="normal" text-anchor="end" >8</text>
<line x1="577.00" y1="94.80" x2="577.00" y2="97.30" stroke="#222" stroke-width="0.9" />
<text x="576.70" y="104.80" font-size="9.2" fill="#111" font-weight="normal" text-anchor="middle" >-1</text>
<line x1="602.50" y1="94.80" x2="602.50" y2="97.30" stroke="#222" stroke-width="0.9" />
<text x="602.20" y="104.80" font-size="9.2" fill="#111" font-weight="normal" text-anchor="middle" >-0.5</text>
<line x1="628.00" y1="94.80" x2="628.00" y2="97.30" stroke="#222" stroke-width="0.9" />
<text x="628.00" y="104.80" font-size="9.2" fill="#111" font-weight="normal" text-anchor="middle" >0</text>
<line x1="653.50" y1="94.80" x2="653.50" y2="97.30" stroke="#222" stroke-width="0.9" />
<text x="653.50" y="104.80" font-size="9.2" fill="#111" font-weight="normal" text-anchor="middle" >0.5</text>
<line x1="679.00" y1="94.80" x2="679.00" y2="97.30" stroke="#222" stroke-width="0.9" />
<text x="679.00" y="104.80" font-size="9.2" fill="#111" font-weight="normal" text-anchor="middle" >1</text>
<text x="628.00" y="112.40" font-size="9.4" fill="#111" font-weight="normal" text-anchor="middle" >log<tspan font-size="5.8" dy="0.8">2</tspan><tspan dy="-0.8">FC</tspan></text>
<text x="0.00" y="0.00" font-size="9.2" fill="#111" font-weight="normal" text-anchor="middle" transform="translate(562.2,62.900000000000006) rotate(-90)">Density (Counts)</text>
<text x="578.50" y="41.60" font-size="7.5" fill="#111" font-weight="normal" text-anchor="start" >Transcriptome</text>
<text x="641.30" y="42.40" font-size="8.8" fill="#111" font-weight="normal" text-anchor="start" >n.s.</text>
<path d="M577.00,180.70h1.27V180.48h-1.27ZM578.27,180.70h1.27V180.46h-1.27ZM579.55,180.70h1.27V180.49h-1.27ZM580.82,180.70h1.27V180.47h-1.27ZM582.10,180.70h1.27V180.49h-1.27ZM583.38,180.70h1.27V180.48h-1.27ZM584.65,180.70h1.27V180.46h-1.27ZM585.92,180.70h1.27V180.48h-1.27ZM587.20,180.70h1.27V180.47h-1.27ZM588.47,180.70h1.27V180.48h-1.27ZM589.75,180.70h1.27V180.48h-1.27ZM591.02,180.70h1.27V180.48h-1.27ZM592.30,180.70h1.27V180.48h-1.27ZM593.57,180.70h1.27V180.47h-1.27ZM594.85,180.70h1.27V180.14h-1.27ZM596.12,180.70h1.27V179.94h-1.27ZM597.40,180.70h1.27V179.73h-1.27ZM598.67,180.70h1.27V179.40h-1.27ZM599.95,180.70h1.27V178.99h-1.27ZM601.22,180.70h1.27V178.39h-1.27ZM602.50,180.70h1.27V177.97h-1.27ZM603.77,180.70h1.27V177.42h-1.27ZM605.05,180.70h1.27V176.60h-1.27ZM606.32,180.70h1.27V175.27h-1.27ZM607.60,180.70h1.27V174.87h-1.27ZM608.88,180.70h1.27V173.31h-1.27ZM610.15,180.70h1.27V172.29h-1.27ZM611.42,180.70h1.27V170.62h-1.27ZM612.70,180.70h1.27V169.61h-1.27ZM613.97,180.70h1.27V167.62h-1.27ZM615.25,180.70h1.27V166.41h-1.27ZM616.52,180.70h1.27V164.63h-1.27ZM617.80,180.70h1.27V162.64h-1.27ZM619.07,180.70h1.27V161.94h-1.27ZM620.35,180.70h1.27V161.75h-1.27ZM621.62,180.70h1.27V160.93h-1.27ZM622.90,180.70h1.27V157.82h-1.27ZM624.17,180.70h1.27V158.39h-1.27ZM625.45,180.70h1.27V158.82h-1.27ZM626.72,180.70h1.27V156.66h-1.27ZM628.00,180.70h1.27V157.73h-1.27ZM629.27,180.70h1.27V157.50h-1.27ZM630.55,180.70h1.27V157.38h-1.27ZM631.82,180.70h1.27V159.35h-1.27ZM633.10,180.70h1.27V159.64h-1.27ZM634.38,180.70h1.27V158.89h-1.27ZM635.65,180.70h1.27V161.38h-1.27ZM636.92,180.70h1.27V160.60h-1.27ZM638.20,180.70h1.27V162.91h-1.27ZM639.47,180.70h1.27V162.45h-1.27ZM640.75,180.70h1.27V163.33h-1.27ZM642.02,180.70h1.27V163.80h-1.27ZM643.30,180.70h1.27V164.99h-1.27ZM644.57,180.70h1.27V166.56h-1.27ZM645.85,180.70h1.27V168.01h-1.27ZM647.12,180.70h1.27V169.00h-1.27ZM648.40,180.70h1.27V169.39h-1.27ZM649.67,180.70h1.27V170.33h-1.27ZM650.95,180.70h1.27V171.72h-1.27ZM652.22,180.70h1.27V171.67h-1.27ZM653.50,180.70h1.27V172.89h-1.27ZM654.77,180.70h1.27V173.50h-1.27ZM656.05,180.70h1.27V174.61h-1.27ZM657.32,180.70h1.27V175.25h-1.27ZM658.60,180.70h1.27V176.00h-1.27ZM659.88,180.70h1.27V176.37h-1.27ZM661.15,180.70h1.27V176.92h-1.27ZM662.42,180.70h1.27V177.33h-1.27ZM663.70,180.70h1.27V177.78h-1.27ZM664.97,180.70h1.27V178.03h-1.27ZM666.25,180.70h1.27V178.38h-1.27ZM667.52,180.70h1.27V178.87h-1.27ZM668.80,180.70h1.27V179.09h-1.27ZM670.07,180.70h1.27V179.37h-1.27ZM671.35,180.70h1.27V179.51h-1.27ZM672.62,180.70h1.27V179.66h-1.27ZM673.90,180.70h1.27V179.90h-1.27ZM675.17,180.70h1.27V179.99h-1.27ZM676.45,180.70h1.27V180.14h-1.27ZM677.72,180.70h1.27V180.49h-1.27Z" fill="#cad2d2" stroke="#ffffff" stroke-width="0.08" />
<path d="M601.22,180.70h1.27V176.59h-1.27ZM602.50,180.70h1.27V176.37h-1.27ZM603.77,180.70h1.27V175.76h-1.27ZM605.05,180.70h1.27V172.41h-1.27ZM606.32,180.70h1.27V172.75h-1.27ZM607.60,180.70h1.27V170.05h-1.27ZM608.88,180.70h1.27V168.89h-1.27ZM610.15,180.70h1.27V168.48h-1.27ZM611.42,180.70h1.27V165.46h-1.27ZM612.70,180.70h1.27V167.92h-1.27ZM613.97,180.70h1.27V169.20h-1.27ZM615.25,180.70h1.27V167.73h-1.27ZM616.52,180.70h1.27V165.56h-1.27ZM617.80,180.70h1.27V154.71h-1.27ZM619.07,180.70h1.27V156.51h-1.27ZM620.35,180.70h1.27V144.32h-1.27ZM621.62,180.70h1.27V151.67h-1.27ZM622.90,180.70h1.27V147.58h-1.27ZM624.17,180.70h1.27V143.51h-1.27ZM625.45,180.70h1.27V166.00h-1.27ZM626.72,180.70h1.27V168.73h-1.27ZM628.00,180.70h1.27V168.79h-1.27ZM629.27,180.70h1.27V168.00h-1.27ZM630.55,180.70h1.27V168.81h-1.27ZM631.82,180.70h1.27V170.10h-1.27ZM633.10,180.70h1.27V174.67h-1.27ZM634.38,180.70h1.27V172.65h-1.27ZM635.65,180.70h1.27V177.77h-1.27ZM636.92,180.70h1.27V174.15h-1.27ZM638.20,180.70h1.27V176.70h-1.27ZM639.47,180.70h1.27V173.03h-1.27ZM640.75,180.70h1.27V177.02h-1.27ZM642.02,180.70h1.27V171.72h-1.27ZM643.30,180.70h1.27V172.98h-1.27ZM644.57,180.70h1.27V172.33h-1.27ZM645.85,180.70h1.27V175.19h-1.27ZM647.12,180.70h1.27V177.63h-1.27ZM648.40,180.70h1.27V176.03h-1.27ZM649.67,180.70h1.27V178.40h-1.27ZM618.95,180.70h1.27V121.90h-1.27ZM620.22,180.70h1.27V121.90h-1.27ZM617.16,180.70h1.27V144.30h-1.27ZM622.77,180.70h1.27V144.30h-1.27ZM610.53,180.70h1.27V162.50h-1.27Z" fill="#52a9d8" stroke="#ffffff" stroke-width="0.12" fill-opacity="0.85"/>
<line x1="624.43" y1="123.10" x2="624.43" y2="180.70" stroke="#eef2f2" stroke-width="1.0" stroke-dasharray="2.6,2"/>
<line x1="621.37" y1="123.10" x2="621.37" y2="180.70" stroke="#2b8cc4" stroke-width="1.0" stroke-dasharray="2.6,2"/>
<path d="M577.00,180.70 L577.51,180.70 L578.02,180.70 L578.53,180.70 L579.04,180.70 L579.55,180.69 L580.06,180.69 L580.57,180.69 L581.08,180.69 L581.59,180.69 L582.10,180.69 L582.61,180.68 L583.12,180.68 L583.63,180.68 L584.14,180.67 L584.65,180.67 L585.16,180.66 L585.67,180.66 L586.18,180.65 L586.69,180.64 L587.20,180.63 L587.71,180.62 L588.22,180.61 L588.73,180.60 L589.24,180.58 L589.75,180.56 L590.26,180.54 L590.77,180.52 L591.28,180.49 L591.79,180.46 L592.30,180.43 L592.81,180.39 L593.32,180.35 L593.83,180.30 L594.34,180.25 L594.85,180.20 L595.36,180.13 L595.87,180.06 L596.38,179.98 L596.89,179.90 L597.40,179.80 L597.91,179.70 L598.42,179.58 L598.93,179.46 L599.44,179.32 L599.95,179.17 L600.46,179.01 L600.97,178.84 L601.48,178.65 L601.99,178.45 L602.50,178.23 L603.01,178.00 L603.52,177.74 L604.03,177.48 L604.54,177.19 L605.05,176.88 L605.56,176.56 L606.07,176.22 L606.58,175.86 L607.09,175.48 L607.60,175.08 L608.11,174.66 L608.62,174.22 L609.13,173.77 L609.64,173.29 L610.15,172.80 L610.66,172.29 L611.17,171.77 L611.68,171.23 L612.19,170.67 L612.70,170.11 L613.21,169.53 L613.72,168.95 L614.23,168.36 L614.74,167.76 L615.25,167.16 L615.76,166.56 L616.27,165.96 L616.78,165.36 L617.29,164.77 L617.80,164.19 L618.31,163.62 L618.82,163.06 L619.33,162.52 L619.84,161.99 L620.35,161.49 L620.86,161.01 L621.37,160.56 L621.88,160.14 L622.39,159.75 L622.90,159.39 L623.41,159.06 L623.92,158.77 L624.43,158.52 L624.94,158.31 L625.45,158.14 L625.96,158.01 L626.47,157.93 L626.98,157.89 L627.49,157.88 L628.00,157.90 L628.51,157.93 L629.02,157.99 L629.53,158.06 L630.04,158.14 L630.55,158.25 L631.06,158.37 L631.57,158.51 L632.08,158.66 L632.59,158.83 L633.10,159.02 L633.61,159.21 L634.12,159.43 L634.63,159.66 L635.14,159.90 L635.65,160.16 L636.16,160.42 L636.67,160.70 L637.18,160.99 L637.69,161.30 L638.20,161.61 L638.71,161.93 L639.22,162.26 L639.73,162.60 L640.24,162.94 L640.75,163.30 L641.26,163.65 L641.77,164.02 L642.28,164.39 L642.79,164.76 L643.30,165.14 L643.81,165.52 L644.32,165.90 L644.83,166.28 L645.34,166.67 L645.85,167.05 L646.36,167.44 L646.87,167.82 L647.38,168.20 L647.89,168.58 L648.40,168.96 L648.91,169.33 L649.42,169.70 L649.93,170.07 L650.44,170.43 L650.95,170.79 L651.46,171.14 L651.97,171.49 L652.48,171.83 L652.99,172.17 L653.50,172.50 L654.01,172.82 L654.52,173.14 L655.03,173.44 L655.54,173.75 L656.05,174.04 L656.56,174.33 L657.07,174.61 L657.58,174.88 L658.09,175.14 L658.60,175.40 L659.11,175.64 L659.62,175.88 L660.13,176.12 L660.64,176.34 L661.15,176.56 L661.66,176.77 L662.17,176.97 L662.68,177.16 L663.19,177.35 L663.70,177.52 L664.21,177.70 L664.72,177.86 L665.23,178.02 L665.74,178.17 L666.25,178.31 L666.76,178.45 L667.27,178.58 L667.78,178.71 L668.29,178.83 L668.80,178.94 L669.31,179.05 L669.82,179.15 L670.33,179.25 L670.84,179.34 L671.35,179.43 L671.86,179.51 L672.37,179.59 L672.88,179.66 L673.39,179.73 L673.90,179.80 L674.41,179.86 L674.92,179.92 L675.43,179.97 L675.94,180.02 L676.45,180.07 L676.96,180.12 L677.47,180.16 L677.98,180.20 L678.49,180.24 L679.00,180.27" fill="none" stroke="#e6eaea" stroke-width="0.9" />
<path d="M577.00,180.70 L577.51,180.70 L578.02,180.70 L578.53,180.70 L579.04,180.70 L579.55,180.70 L580.06,180.70 L580.57,180.70 L581.08,180.70 L581.59,180.70 L582.10,180.70 L582.61,180.70 L583.12,180.70 L583.63,180.70 L584.14,180.70 L584.65,180.70 L585.16,180.70 L585.67,180.70 L586.18,180.70 L586.69,180.70 L587.20,180.70 L587.71,180.70 L588.22,180.70 L588.73,180.70 L589.24,180.70 L589.75,180.70 L590.26,180.70 L590.77,180.70 L591.28,180.70 L591.79,180.69 L592.30,180.69 L592.81,180.69 L593.32,180.68 L593.83,180.67 L594.34,180.66 L594.85,180.63 L595.36,180.61 L595.87,180.56 L596.38,180.51 L596.89,180.43 L597.40,180.33 L597.91,180.20 L598.42,180.04 L598.93,179.83 L599.44,179.57 L599.95,179.26 L600.46,178.89 L600.97,178.45 L601.48,177.96 L601.99,177.40 L602.50,176.79 L603.01,176.14 L603.52,175.44 L604.03,174.72 L604.54,173.99 L605.05,173.28 L605.56,172.59 L606.07,171.93 L606.58,171.33 L607.09,170.79 L607.60,170.32 L608.11,169.90 L608.62,169.54 L609.13,169.23 L609.64,168.94 L610.15,168.66 L610.66,168.37 L611.17,168.04 L611.68,167.67 L612.19,167.23 L612.70,166.71 L613.21,166.10 L613.72,165.40 L614.23,164.61 L614.74,163.75 L615.25,162.81 L615.76,161.83 L616.27,160.81 L616.78,159.78 L617.29,158.76 L617.80,157.77 L618.31,156.84 L618.82,155.98 L619.33,155.22 L619.84,154.58 L620.35,154.06 L620.86,153.68 L621.37,153.45 L621.88,153.38 L622.39,153.47 L622.90,153.71 L623.41,154.11 L623.92,154.66 L624.43,155.34 L624.94,156.15 L625.45,157.07 L625.96,158.09 L626.47,159.19 L626.98,160.36 L627.49,161.57 L628.00,162.81 L628.51,164.05 L629.02,165.30 L629.53,166.52 L630.04,167.70 L630.55,168.83 L631.06,169.90 L631.57,170.90 L632.08,171.82 L632.59,172.65 L633.10,173.38 L633.61,174.03 L634.12,174.57 L634.63,175.02 L635.14,175.37 L635.65,175.63 L636.16,175.81 L636.67,175.91 L637.18,175.93 L637.69,175.90 L638.20,175.81 L638.71,175.69 L639.22,175.54 L639.73,175.37 L640.24,175.20 L640.75,175.04 L641.26,174.89 L641.77,174.78 L642.28,174.70 L642.79,174.66 L643.30,174.67 L643.81,174.73 L644.32,174.85 L644.83,175.01 L645.34,175.22 L645.85,175.47 L646.36,175.76 L646.87,176.08 L647.38,176.41 L647.89,176.77 L648.40,177.12 L648.91,177.48 L649.42,177.83 L649.93,178.17 L650.44,178.49 L650.95,178.79 L651.46,179.06 L651.97,179.31 L652.48,179.54 L652.99,179.73 L653.50,179.90 L654.01,180.05 L654.52,180.18 L655.03,180.28 L655.54,180.37 L656.05,180.44 L656.56,180.50 L657.07,180.55 L657.58,180.58 L658.09,180.61 L658.60,180.63 L659.11,180.65 L659.62,180.66 L660.13,180.67 L660.64,180.68 L661.15,180.69 L661.66,180.69 L662.17,180.69 L662.68,180.70 L663.19,180.70 L663.70,180.70 L664.21,180.70 L664.72,180.70 L665.23,180.70 L665.74,180.70 L666.25,180.70 L666.76,180.70 L667.27,180.70 L667.78,180.70 L668.29,180.70 L668.80,180.70 L669.31,180.70 L669.82,180.70 L670.33,180.70 L670.84,180.70 L671.35,180.70 L671.86,180.70 L672.37,180.70 L672.88,180.70 L673.39,180.70 L673.90,180.70 L674.41,180.70 L674.92,180.70 L675.43,180.70 L675.94,180.70 L676.45,180.70 L676.96,180.70 L677.47,180.70 L677.98,180.70 L678.49,180.70 L679.00,180.70" fill="none" stroke="#1d7fb6" stroke-width="1.25" />
<line x1="577.00" y1="180.70" x2="679.00" y2="180.70" stroke="#1d7fb6" stroke-width="1.1" />
<rect x="577.00" y="122.30" width="102.00" height="61.70" fill="none" stroke="#262626" stroke-width="1.1" />
<line x1="574.50" y1="180.70" x2="577.00" y2="180.70" stroke="#222" stroke-width="0.9" />
<text x="573.70" y="184.00" font-size="9.2" fill="#111" font-weight="normal" text-anchor="end" >0</text>
<line x1="574.50" y1="166.70" x2="577.00" y2="166.70" stroke="#222" stroke-width="0.9" />
<text x="573.70" y="170.00" font-size="9.2" fill="#111" font-weight="normal" text-anchor="end" >1</text>
<line x1="574.50" y1="152.70" x2="577.00" y2="152.70" stroke="#222" stroke-width="0.9" />
<text x="573.70" y="156.00" font-size="9.2" fill="#111" font-weight="normal" text-anchor="end" >2</text>
<line x1="574.50" y1="138.70" x2="577.00" y2="138.70" stroke="#222" stroke-width="0.9" />
<text x="573.70" y="142.00" font-size="9.2" fill="#111" font-weight="normal" text-anchor="end" >3</text>
<line x1="574.50" y1="124.70" x2="577.00" y2="124.70" stroke="#222" stroke-width="0.9" />
<text x="573.70" y="128.00" font-size="9.2" fill="#111" font-weight="normal" text-anchor="end" >4</text>
<line x1="577.00" y1="184.00" x2="577.00" y2="186.50" stroke="#222" stroke-width="0.9" />
<text x="576.70" y="194.00" font-size="9.2" fill="#111" font-weight="normal" text-anchor="middle" >-1</text>
<line x1="602.50" y1="184.00" x2="602.50" y2="186.50" stroke="#222" stroke-width="0.9" />
<text x="602.20" y="194.00" font-size="9.2" fill="#111" font-weight="normal" text-anchor="middle" >-0.5</text>
<line x1="628.00" y1="184.00" x2="628.00" y2="186.50" stroke="#222" stroke-width="0.9" />
<text x="628.00" y="194.00" font-size="9.2" fill="#111" font-weight="normal" text-anchor="middle" >0</text>
<line x1="653.50" y1="184.00" x2="653.50" y2="186.50" stroke="#222" stroke-width="0.9" />
<text x="653.50" y="194.00" font-size="9.2" fill="#111" font-weight="normal" text-anchor="middle" >0.5</text>
<line x1="679.00" y1="184.00" x2="679.00" y2="186.50" stroke="#222" stroke-width="0.9" />
<text x="679.00" y="194.00" font-size="9.2" fill="#111" font-weight="normal" text-anchor="middle" >1</text>
<text x="628.00" y="201.60" font-size="9.4" fill="#111" font-weight="normal" text-anchor="middle" >log<tspan font-size="5.8" dy="0.8">2</tspan><tspan dy="-0.8">FC</tspan></text>
<text x="0.00" y="0.00" font-size="9.2" fill="#111" font-weight="normal" text-anchor="middle" transform="translate(562.2,152.35) rotate(-90)">Density (Counts)</text>
<text x="578.50" y="131.30" font-size="7.5" fill="#111" font-weight="normal" text-anchor="start" >Translatome</text>
<path d="M639.93,127.60 L639.63,124.20 L638.37,124.20 L638.07,127.60ZM639.47,128.41 L642.26,126.45 L641.63,125.35 L638.53,126.79ZM638.53,128.41 L641.63,129.85 L642.26,128.75 L639.47,126.79ZM638.07,127.60 L638.37,131.00 L639.63,131.00 L639.93,127.60ZM638.53,126.79 L635.74,128.75 L636.37,129.85 L639.47,128.41ZM639.47,126.79 L636.37,125.35 L635.74,126.45 L638.53,128.41Z" fill="#000" stroke="#000" stroke-width="0.25" />
<path d="M647.73,127.60 L647.43,124.20 L646.17,124.20 L645.87,127.60ZM647.26,128.41 L650.06,126.45 L649.43,125.35 L646.33,126.79ZM646.33,128.41 L649.43,129.85 L650.06,128.75 L647.26,126.79ZM645.87,127.60 L646.17,131.00 L647.43,131.00 L647.73,127.60ZM646.33,126.79 L643.54,128.75 L644.17,129.85 L647.26,128.41ZM647.26,126.79 L644.17,125.35 L643.54,126.45 L646.33,128.41Z" fill="#000" stroke="#000" stroke-width="0.25" />
<path d="M655.53,127.60 L655.23,124.20 L653.97,124.20 L653.67,127.60ZM655.07,128.41 L657.86,126.45 L657.23,125.35 L654.13,126.79ZM654.13,128.41 L657.23,129.85 L657.86,128.75 L655.07,126.79ZM653.67,127.60 L653.97,131.00 L655.23,131.00 L655.53,127.60ZM654.13,126.79 L651.34,128.75 L651.97,129.85 L655.07,128.41ZM655.07,126.79 L651.97,125.35 L651.34,126.45 L654.13,128.41Z" fill="#000" stroke="#000" stroke-width="0.25" />
<path d="M577.00,270.70h1.02V270.48h-1.02ZM578.02,270.70h1.02V270.48h-1.02ZM579.04,270.70h1.02V270.49h-1.02ZM580.06,270.70h1.02V270.47h-1.02ZM581.08,270.70h1.02V270.49h-1.02ZM582.10,270.70h1.02V270.48h-1.02ZM583.12,270.70h1.02V270.47h-1.02ZM584.14,270.70h1.02V270.49h-1.02ZM585.16,270.70h1.02V270.47h-1.02ZM586.18,270.70h1.02V270.47h-1.02ZM587.20,270.70h1.02V270.49h-1.02ZM588.22,270.70h1.02V270.48h-1.02ZM589.24,270.70h1.02V270.47h-1.02ZM590.26,270.70h1.02V270.48h-1.02ZM591.28,270.70h1.02V270.47h-1.02ZM592.30,270.70h1.02V270.49h-1.02ZM593.32,270.70h1.02V270.48h-1.02ZM594.34,270.70h1.02V270.49h-1.02ZM595.36,270.70h1.02V270.48h-1.02ZM596.38,270.70h1.02V270.46h-1.02ZM597.40,270.70h1.02V270.47h-1.02ZM598.42,270.70h1.02V270.47h-1.02ZM599.44,270.70h1.02V270.48h-1.02ZM600.46,270.70h1.02V270.47h-1.02ZM601.48,270.70h1.02V270.49h-1.02ZM602.50,270.70h1.02V270.48h-1.02ZM603.52,270.70h1.02V270.06h-1.02ZM604.54,270.70h1.02V269.85h-1.02ZM605.56,270.70h1.02V269.62h-1.02ZM606.58,270.70h1.02V269.37h-1.02ZM607.60,270.70h1.02V268.96h-1.02ZM608.62,270.70h1.02V268.52h-1.02ZM609.64,270.70h1.02V267.96h-1.02ZM610.66,270.70h1.02V267.10h-1.02ZM611.68,270.70h1.02V266.61h-1.02ZM612.70,270.70h1.02V265.34h-1.02ZM613.72,270.70h1.02V264.31h-1.02ZM614.74,270.70h1.02V263.86h-1.02ZM615.76,270.70h1.02V262.39h-1.02ZM616.78,270.70h1.02V260.97h-1.02ZM617.80,270.70h1.02V260.21h-1.02ZM618.82,270.70h1.02V258.25h-1.02ZM619.84,270.70h1.02V255.98h-1.02ZM620.86,270.70h1.02V255.91h-1.02ZM621.88,270.70h1.02V253.55h-1.02ZM622.90,270.70h1.02V253.22h-1.02ZM623.92,270.70h1.02V250.94h-1.02ZM624.94,270.70h1.02V249.03h-1.02ZM625.96,270.70h1.02V249.84h-1.02ZM626.98,270.70h1.02V249.66h-1.02ZM628.00,270.70h1.02V248.98h-1.02ZM629.02,270.70h1.02V247.48h-1.02ZM630.04,270.70h1.02V248.92h-1.02ZM631.06,270.70h1.02V248.98h-1.02ZM632.08,270.70h1.02V248.35h-1.02ZM633.10,270.70h1.02V247.98h-1.02ZM634.12,270.70h1.02V250.21h-1.02ZM635.14,270.70h1.02V251.36h-1.02ZM636.16,270.70h1.02V252.08h-1.02ZM637.18,270.70h1.02V254.58h-1.02ZM638.20,270.70h1.02V255.04h-1.02ZM639.22,270.70h1.02V257.21h-1.02ZM640.24,270.70h1.02V257.97h-1.02ZM641.26,270.70h1.02V258.96h-1.02ZM642.28,270.70h1.02V261.48h-1.02ZM643.30,270.70h1.02V262.21h-1.02ZM644.32,270.70h1.02V263.39h-1.02ZM645.34,270.70h1.02V264.84h-1.02ZM646.36,270.70h1.02V265.72h-1.02ZM647.38,270.70h1.02V266.21h-1.02ZM648.40,270.70h1.02V267.02h-1.02ZM649.42,270.70h1.02V268.01h-1.02ZM650.44,270.70h1.02V268.39h-1.02ZM651.46,270.70h1.02V268.82h-1.02ZM652.48,270.70h1.02V269.34h-1.02ZM653.50,270.70h1.02V269.60h-1.02ZM654.52,270.70h1.02V269.91h-1.02ZM655.54,270.70h1.02V270.08h-1.02ZM656.56,270.70h1.02V270.47h-1.02ZM657.58,270.70h1.02V270.47h-1.02ZM658.60,270.70h1.02V270.47h-1.02ZM659.62,270.70h1.02V270.49h-1.02ZM660.64,270.70h1.02V270.48h-1.02ZM661.66,270.70h1.02V270.47h-1.02ZM662.68,270.70h1.02V270.47h-1.02ZM663.70,270.70h1.02V270.48h-1.02ZM664.72,270.70h1.02V270.48h-1.02ZM665.74,270.70h1.02V270.46h-1.02ZM666.76,270.70h1.02V270.47h-1.02ZM667.78,270.70h1.02V270.49h-1.02ZM668.80,270.70h1.02V270.47h-1.02ZM669.82,270.70h1.02V270.48h-1.02ZM670.84,270.70h1.02V270.48h-1.02ZM671.86,270.70h1.02V270.48h-1.02ZM672.88,270.70h1.02V270.48h-1.02ZM673.90,270.70h1.02V270.48h-1.02ZM674.92,270.70h1.02V270.49h-1.02ZM675.94,270.70h1.02V270.47h-1.02ZM676.96,270.70h1.02V270.49h-1.02ZM677.98,270.70h1.02V270.47h-1.02Z" fill="#cad2d2" stroke="#ffffff" stroke-width="0.08" />
<path d="M616.78,270.70h1.02V268.96h-1.02ZM617.80,270.70h1.02V266.39h-1.02ZM618.82,270.70h1.02V264.54h-1.02ZM619.84,270.70h1.02V263.67h-1.02ZM620.86,270.70h1.02V259.94h-1.02ZM621.88,270.70h1.02V260.37h-1.02ZM622.90,270.70h1.02V252.40h-1.02ZM623.92,270.70h1.02V251.98h-1.02ZM624.94,270.70h1.02V251.06h-1.02ZM625.96,270.70h1.02V233.84h-1.02ZM626.98,270.70h1.02V240.35h-1.02ZM628.00,270.70h1.02V237.35h-1.02ZM629.02,270.70h1.02V221.48h-1.02ZM630.04,270.70h1.02V231.99h-1.02ZM631.06,270.70h1.02V221.81h-1.02ZM632.08,270.70h1.02V236.32h-1.02ZM633.10,270.70h1.02V219.89h-1.02ZM634.12,270.70h1.02V239.30h-1.02ZM635.14,270.70h1.02V248.08h-1.02ZM636.16,270.70h1.02V235.95h-1.02ZM637.18,270.70h1.02V254.41h-1.02ZM638.20,270.70h1.02V250.48h-1.02ZM639.22,270.70h1.02V255.86h-1.02ZM640.24,270.70h1.02V262.39h-1.02ZM641.26,270.70h1.02V267.20h-1.02ZM642.28,270.70h1.02V268.32h-1.02ZM643.30,270.70h1.02V268.99h-1.02ZM608.62,270.70h1.02V266.97h-1.02ZM651.97,270.70h1.02V266.50h-1.02ZM631.57,270.70h1.02V217.50h-1.02ZM632.59,270.70h1.02V225.90h-1.02ZM625.96,270.70h1.02V242.70h-1.02Z" fill="#52a9d8" stroke="#ffffff" stroke-width="0.12" fill-opacity="0.85"/>
<line x1="628.76" y1="213.10" x2="628.76" y2="270.70" stroke="#eef2f2" stroke-width="1.0" stroke-dasharray="2.6,2"/>
<line x1="632.08" y1="213.10" x2="632.08" y2="270.70" stroke="#2b8cc4" stroke-width="1.0" stroke-dasharray="2.6,2"/>
<path d="M577.00,270.70 L577.51,270.70 L578.02,270.70 L578.53,270.70 L579.04,270.70 L579.55,270.70 L580.06,270.70 L580.57,270.70 L581.08,270.70 L581.59,270.70 L582.10,270.70 L582.61,270.70 L583.12,270.70 L583.63,270.70 L584.14,270.70 L584.65,270.70 L585.16,270.70 L585.67,270.70 L586.18,270.70 L586.69,270.70 L587.20,270.70 L587.71,270.70 L588.22,270.70 L588.73,270.70 L589.24,270.70 L589.75,270.70 L590.26,270.69 L590.77,270.69 L591.28,270.69 L591.79,270.69 L592.30,270.69 L592.81,270.69 L593.32,270.68 L593.83,270.68 L594.34,270.67 L594.85,270.67 L595.36,270.66 L595.87,270.65 L596.38,270.64 L596.89,270.63 L597.40,270.62 L597.91,270.61 L598.42,270.59 L598.93,270.57 L599.44,270.54 L599.95,270.51 L600.46,270.48 L600.97,270.44 L601.48,270.40 L601.99,270.35 L602.50,270.29 L603.01,270.23 L603.52,270.15 L604.03,270.07 L604.54,269.97 L605.05,269.87 L605.56,269.75 L606.07,269.61 L606.58,269.46 L607.09,269.30 L607.60,269.12 L608.11,268.91 L608.62,268.69 L609.13,268.44 L609.64,268.18 L610.15,267.88 L610.66,267.57 L611.17,267.22 L611.68,266.85 L612.19,266.46 L612.70,266.03 L613.21,265.58 L613.72,265.10 L614.23,264.58 L614.74,264.05 L615.25,263.48 L615.76,262.89 L616.27,262.27 L616.78,261.62 L617.29,260.96 L617.80,260.28 L618.31,259.58 L618.82,258.86 L619.33,258.13 L619.84,257.40 L620.35,256.66 L620.86,255.92 L621.37,255.19 L621.88,254.46 L622.39,253.75 L622.90,253.06 L623.41,252.38 L623.92,251.74 L624.43,251.12 L624.94,250.55 L625.45,250.01 L625.96,249.52 L626.47,249.07 L626.98,248.68 L627.49,248.34 L628.00,248.06 L628.51,247.84 L629.02,247.68 L629.53,247.59 L630.04,247.55 L630.55,247.59 L631.06,247.68 L631.57,247.84 L632.08,248.06 L632.59,248.34 L633.10,248.68 L633.61,249.07 L634.12,249.52 L634.63,250.01 L635.14,250.55 L635.65,251.12 L636.16,251.74 L636.67,252.38 L637.18,253.06 L637.69,253.75 L638.20,254.46 L638.71,255.19 L639.22,255.92 L639.73,256.66 L640.24,257.40 L640.75,258.13 L641.26,258.86 L641.77,259.58 L642.28,260.28 L642.79,260.96 L643.30,261.62 L643.81,262.27 L644.32,262.89 L644.83,263.48 L645.34,264.05 L645.85,264.58 L646.36,265.10 L646.87,265.58 L647.38,266.03 L647.89,266.46 L648.40,266.85 L648.91,267.22 L649.42,267.57 L649.93,267.88 L650.44,268.18 L650.95,268.44 L651.46,268.69 L651.97,268.91 L652.48,269.12 L652.99,269.30 L653.50,269.46 L654.01,269.61 L654.52,269.75 L655.03,269.87 L655.54,269.97 L656.05,270.07 L656.56,270.15 L657.07,270.23 L657.58,270.29 L658.09,270.35 L658.60,270.40 L659.11,270.44 L659.62,270.48 L660.13,270.51 L660.64,270.54 L661.15,270.57 L661.66,270.59 L662.17,270.61 L662.68,270.62 L663.19,270.63 L663.70,270.64 L664.21,270.65 L664.72,270.66 L665.23,270.67 L665.74,270.67 L666.25,270.68 L666.76,270.68 L667.27,270.69 L667.78,270.69 L668.29,270.69 L668.80,270.69 L669.31,270.69 L669.82,270.69 L670.33,270.70 L670.84,270.70 L671.35,270.70 L671.86,270.70 L672.37,270.70 L672.88,270.70 L673.39,270.70 L673.90,270.70 L674.41,270.70 L674.92,270.70 L675.43,270.70 L675.94,270.70 L676.45,270.70 L676.96,270.70 L677.47,270.70 L677.98,270.70 L678.49,270.70 L679.00,270.70" fill="none" stroke="#e6eaea" stroke-width="0.9" />
<path d="M577.00,270.70 L577.51,270.70 L578.02,270.70 L578.53,270.70 L579.04,270.70 L579.55,270.70 L580.06,270.70 L580.57,270.70 L581.08,270.70 L581.59,270.70 L582.10,270.70 L582.61,270.70 L583.12,270.70 L583.63,270.70 L584.14,270.70 L584.65,270.70 L585.16,270.70 L585.67,270.70 L586.18,270.70 L586.69,270.70 L587.20,270.70 L587.71,270.70 L588.22,270.70 L588.73,270.70 L589.24,270.70 L589.75,270.70 L590.26,270.70 L590.77,270.70 L591.28,270.70 L591.79,270.69 L592.30,270.69 L592.81,270.69 L593.32,270.69 L593.83,270.69 L594.34,270.69 L594.85,270.69 L595.36,270.69 L595.87,270.69 L596.38,270.69 L596.89,270.69 L597.40,270.69 L597.91,270.69 L598.42,270.68 L598.93,270.68 L599.44,270.68 L599.95,270.68 L600.46,270.68 L600.97,270.68 L601.48,270.67 L601.99,270.67 L602.50,270.67 L603.01,270.67 L603.52,270.66 L604.03,270.66 L604.54,270.66 L605.05,270.65 L605.56,270.65 L606.07,270.64 L606.58,270.64 L607.09,270.63 L607.60,270.62 L608.11,270.61 L608.62,270.59 L609.13,270.58 L609.64,270.56 L610.15,270.53 L610.66,270.50 L611.17,270.46 L611.68,270.42 L612.19,270.36 L612.70,270.28 L613.21,270.19 L613.72,270.08 L614.23,269.95 L614.74,269.78 L615.25,269.58 L615.76,269.33 L616.27,269.04 L616.78,268.69 L617.29,268.27 L617.80,267.79 L618.31,267.22 L618.82,266.56 L619.33,265.80 L619.84,264.94 L620.35,263.96 L620.86,262.87 L621.37,261.65 L621.88,260.31 L622.39,258.85 L622.90,257.26 L623.41,255.56 L623.92,253.75 L624.43,251.85 L624.94,249.88 L625.45,247.84 L625.96,245.78 L626.47,243.70 L626.98,241.64 L627.49,239.63 L628.00,237.69 L628.51,235.86 L629.02,234.17 L629.53,232.64 L630.04,231.30 L630.55,230.16 L631.06,229.25 L631.57,228.57 L632.08,228.14 L632.59,228.68 L633.10,229.66 L633.61,231.06 L634.12,232.85 L634.63,234.96 L635.14,237.35 L635.65,239.92 L636.16,242.63 L636.67,245.39 L637.18,248.13 L637.69,250.81 L638.20,253.36 L638.71,255.76 L639.22,257.96 L639.73,259.95 L640.24,261.72 L640.75,263.27 L641.26,264.61 L641.77,265.75 L642.28,266.71 L642.79,267.50 L643.30,268.15 L643.81,268.67 L644.32,269.09 L644.83,269.42 L645.34,269.67 L645.85,269.88 L646.36,270.03 L646.87,270.15 L647.38,270.24 L647.89,270.32 L648.40,270.37 L648.91,270.41 L649.42,270.45 L649.93,270.48 L650.44,270.50 L650.95,270.52 L651.46,270.54 L651.97,270.55 L652.48,270.56 L652.99,270.58 L653.50,270.59 L654.01,270.60 L654.52,270.60 L655.03,270.61 L655.54,270.62 L656.05,270.63 L656.56,270.63 L657.07,270.64 L657.58,270.64 L658.09,270.65 L658.60,270.65 L659.11,270.65 L659.62,270.66 L660.13,270.66 L660.64,270.66 L661.15,270.67 L661.66,270.67 L662.17,270.67 L662.68,270.67 L663.19,270.68 L663.70,270.68 L664.21,270.68 L664.72,270.68 L665.23,270.68 L665.74,270.68 L666.25,270.69 L666.76,270.69 L667.27,270.69 L667.78,270.69 L668.29,270.69 L668.80,270.69 L669.31,270.69 L669.82,270.69 L670.33,270.69 L670.84,270.69 L671.35,270.69 L671.86,270.69 L672.37,270.69 L672.88,270.70 L673.39,270.70 L673.90,270.70 L674.41,270.70 L674.92,270.70 L675.43,270.70 L675.94,270.70 L676.45,270.70 L676.96,270.70 L677.47,270.70 L677.98,270.70 L678.49,270.70 L679.00,270.70" fill="none" stroke="#1d7fb6" stroke-width="1.25" />
<line x1="577.00" y1="270.70" x2="679.00" y2="270.70" stroke="#1d7fb6" stroke-width="1.1" />
<rect x="577.00" y="212.30" width="102.00" height="61.70" fill="none" stroke="#262626" stroke-width="1.1" />
<line x1="574.50" y1="270.70" x2="577.00" y2="270.70" stroke="#222" stroke-width="0.9" />
<text x="573.70" y="274.00" font-size="9.2" fill="#111" font-weight="normal" text-anchor="end" >0</text>
<line x1="574.50" y1="252.03" x2="577.00" y2="252.03" stroke="#222" stroke-width="0.9" />
<text x="573.70" y="255.33" font-size="9.2" fill="#111" font-weight="normal" text-anchor="end" >2</text>
<line x1="574.50" y1="233.37" x2="577.00" y2="233.37" stroke="#222" stroke-width="0.9" />
<text x="573.70" y="236.67" font-size="9.2" fill="#111" font-weight="normal" text-anchor="end" >4</text>
<line x1="574.50" y1="214.70" x2="577.00" y2="214.70" stroke="#222" stroke-width="0.9" />
<text x="573.70" y="218.00" font-size="9.2" fill="#111" font-weight="normal" text-anchor="end" >6</text>
<line x1="577.00" y1="274.00" x2="577.00" y2="276.50" stroke="#222" stroke-width="0.9" />
<text x="576.70" y="284.00" font-size="9.2" fill="#111" font-weight="normal" text-anchor="middle" >-1</text>
<line x1="602.50" y1="274.00" x2="602.50" y2="276.50" stroke="#222" stroke-width="0.9" />
<text x="602.20" y="284.00" font-size="9.2" fill="#111" font-weight="normal" text-anchor="middle" >-0.5</text>
<line x1="628.00" y1="274.00" x2="628.00" y2="276.50" stroke="#222" stroke-width="0.9" />
<text x="628.00" y="284.00" font-size="9.2" fill="#111" font-weight="normal" text-anchor="middle" >0</text>
<line x1="653.50" y1="274.00" x2="653.50" y2="276.50" stroke="#222" stroke-width="0.9" />
<text x="653.50" y="284.00" font-size="9.2" fill="#111" font-weight="normal" text-anchor="middle" >0.5</text>
<line x1="679.00" y1="274.00" x2="679.00" y2="276.50" stroke="#222" stroke-width="0.9" />
<text x="679.00" y="284.00" font-size="9.2" fill="#111" font-weight="normal" text-anchor="middle" >1</text>
<text x="628.00" y="291.60" font-size="9.4" fill="#111" font-weight="normal" text-anchor="middle" >log<tspan font-size="5.8" dy="0.8">2</tspan><tspan dy="-0.8">FC</tspan></text>
<text x="0.00" y="0.00" font-size="9.2" fill="#111" font-weight="normal" text-anchor="middle" transform="translate(562.2,242.35) rotate(-90)">Density (Counts)</text>
<text x="578.50" y="221.30" font-size="7.5" fill="#111" font-weight="normal" text-anchor="start" >Proteome</text>
<path d="M639.93,217.60 L639.63,214.20 L638.37,214.20 L638.07,217.60ZM639.47,218.41 L642.26,216.45 L641.63,215.35 L638.53,216.79ZM638.53,218.41 L641.63,219.85 L642.26,218.75 L639.47,216.79ZM638.07,217.60 L638.37,221.00 L639.63,221.00 L639.93,217.60ZM638.53,216.79 L635.74,218.75 L636.37,219.85 L639.47,218.41ZM639.47,216.79 L636.37,215.35 L635.74,216.45 L638.53,218.41Z" fill="#000" stroke="#000" stroke-width="0.25" />
<path d="M647.73,217.60 L647.43,214.20 L646.17,214.20 L645.87,217.60ZM647.26,218.41 L650.06,216.45 L649.43,215.35 L646.33,216.79ZM646.33,218.41 L649.43,219.85 L650.06,218.75 L647.26,216.79ZM645.87,217.60 L646.17,221.00 L647.43,221.00 L647.73,217.60ZM646.33,216.79 L643.54,218.75 L644.17,219.85 L647.26,218.41ZM647.26,216.79 L644.17,215.35 L643.54,216.45 L646.33,218.41Z" fill="#000" stroke="#000" stroke-width="0.25" />
<path d="M655.53,217.60 L655.23,214.20 L653.97,214.20 L653.67,217.60ZM655.07,218.41 L657.86,216.45 L657.23,215.35 L654.13,216.79ZM654.13,218.41 L657.23,219.85 L657.86,218.75 L655.07,216.79ZM653.67,217.60 L653.97,221.00 L655.23,221.00 L655.53,217.60ZM654.13,216.79 L651.34,218.75 L651.97,219.85 L655.07,218.41ZM655.07,216.79 L651.97,215.35 L651.34,216.45 L654.13,218.41Z" fill="#000" stroke="#000" stroke-width="0.25" />
<text x="259.00" y="12.80" font-size="16.5" fill="#000" font-weight="bold" text-anchor="start" >b</text>
<text x="417.50" y="12.80" font-size="16.5" fill="#000" font-weight="bold" text-anchor="start" >c</text>
<text x="559.00" y="12.80" font-size="16.5" fill="#000" font-weight="bold" text-anchor="start" >d</text>
<text x="342.70" y="10.80" font-size="10.2" fill="#9b4fb0" font-weight="normal" text-anchor="middle" >Ribosomal Protein</text>
<text x="491.20" y="11.00" font-size="10.2" fill="#c0392b" font-weight="normal" text-anchor="middle" >Mitochondrial Protein</text>
<text x="627.70" y="10.80" font-size="10.2" fill="#2b8cc4" font-weight="normal" text-anchor="middle" >Synapse Assembly</text>
<rect x="300.20" y="18.60" width="5.60" height="5.40" fill="#c4cccc" stroke="none" stroke-width="0" rx="0.8"/>
<text x="310.00" y="24.60" font-size="8.8" fill="#444" font-weight="normal" text-anchor="start" >All</text>
<rect x="324.40" y="18.60" width="5.60" height="5.40" fill="#a050a8" stroke="none" stroke-width="0" rx="0.8"/>
<text x="333.60" y="24.60" font-size="8.8" fill="#a455b5" font-weight="normal" text-anchor="start" >Ribosomal Protein</text>
<rect x="436.60" y="18.60" width="5.60" height="5.40" fill="#c4cccc" stroke="none" stroke-width="0" rx="0.8"/>
<text x="446.40" y="24.60" font-size="8.8" fill="#444" font-weight="normal" text-anchor="start" >All</text>
<rect x="460.80" y="18.60" width="5.60" height="5.40" fill="#b8342a" stroke="none" stroke-width="0" rx="0.8"/>
<text x="470.00" y="24.60" font-size="8.8" fill="#c0392b" font-weight="normal" text-anchor="start" >Mitochondrial Protein</text>
<rect x="577.80" y="18.60" width="5.60" height="5.40" fill="#c4cccc" stroke="none" stroke-width="0" rx="0.8"/>
<text x="587.60" y="24.60" font-size="8.8" fill="#444" font-weight="normal" text-anchor="start" >All</text>
<rect x="602.00" y="18.60" width="5.60" height="5.40" fill="#2b8cc4" stroke="none" stroke-width="0" rx="0.8"/>
<text x="611.20" y="24.60" font-size="8.8" fill="#2b8cc4" font-weight="normal" text-anchor="start" >Synapse Assembly</text>
<text x="0.00" y="319.00" font-size="16.5" fill="#000" font-weight="bold" text-anchor="start" >e</text>
<rect x="46.00" y="343.00" width="38.00" height="10.64" fill="#d1d1fc" stroke="#adadad" stroke-width="0.55" />
<rect x="84.00" y="343.00" width="38.60" height="10.64" fill="#f37474" stroke="#adadad" stroke-width="0.55" />
<rect x="122.60" y="343.00" width="38.60" height="10.64" fill="#fac9c9" stroke="#adadad" stroke-width="0.55" />
<text x="166.20" y="351.82" font-size="9.8" fill="#111" font-weight="normal" text-anchor="start" >Rps2</text>
<rect x="46.00" y="353.64" width="38.00" height="10.64" fill="#d1d1fc" stroke="#adadad" stroke-width="0.55" />
<rect x="84.00" y="353.64" width="38.60" height="10.64" fill="#f8b2b2" stroke="#adadad" stroke-width="0.55" />
<rect x="122.60" y="353.64" width="38.60" height="10.64" fill="#f9b9b9" stroke="#adadad" stroke-width="0.55" />
<text x="166.20" y="362.46" font-size="9.8" fill="#111" font-weight="normal" text-anchor="start" >Rps12</text>
<rect x="46.00" y="364.28" width="38.00" height="10.64" fill="#c9c9fc" stroke="#adadad" stroke-width="0.55" />
<rect x="84.00" y="364.28" width="38.60" height="10.64" fill="#f7a2a2" stroke="#adadad" stroke-width="0.55" />
<rect x="122.60" y="364.28" width="38.60" height="10.64" fill="#fac1c1" stroke="#adadad" stroke-width="0.55" />
<text x="166.20" y="373.10" font-size="9.8" fill="#111" font-weight="normal" text-anchor="start" >Rps21</text>
<rect x="46.00" y="374.92" width="38.00" height="10.64" fill="#e0e0fd" stroke="#adadad" stroke-width="0.55" />
<rect x="84.00" y="374.92" width="38.60" height="10.64" fill="#fbd0d0" stroke="#adadad" stroke-width="0.55" />
<rect x="122.60" y="374.92" width="38.60" height="10.64" fill="#fef0f0" stroke="#adadad" stroke-width="0.55" />
<text x="166.20" y="383.74" font-size="9.8" fill="#111" font-weight="normal" text-anchor="start" >Rps26</text>
<rect x="46.00" y="385.56" width="38.00" height="10.64" fill="#d8d8fc" stroke="#adadad" stroke-width="0.55" />
<rect x="84.00" y="385.56" width="38.60" height="10.64" fill="#f8b2b2" stroke="#adadad" stroke-width="0.55" />
<rect x="122.60" y="385.56" width="38.60" height="10.64" fill="#fac1c1" stroke="#adadad" stroke-width="0.55" />
<text x="166.20" y="394.38" font-size="9.8" fill="#111" font-weight="normal" text-anchor="start" >Rps28</text>
<rect x="46.00" y="396.20" width="38.00" height="10.64" fill="#d1d1fc" stroke="#adadad" stroke-width="0.55" />
<rect x="84.00" y="396.20" width="38.60" height="10.64" fill="#f58383" stroke="#adadad" stroke-width="0.55" />
<rect x="122.60" y="396.20" width="38.60" height="10.64" fill="#f8b2b2" stroke="#adadad" stroke-width="0.55" />
<text x="166.20" y="405.02" font-size="9.8" fill="#111" font-weight="normal" text-anchor="start" >Rps29</text>
<rect x="46.00" y="406.84" width="38.00" height="10.64" fill="#d8d8fc" stroke="#adadad" stroke-width="0.55" />
<rect x="84.00" y="406.84" width="38.60" height="10.64" fill="#f7a2a2" stroke="#adadad" stroke-width="0.55" />
<rect x="122.60" y="406.84" width="38.60" height="10.64" fill="#fce0e0" stroke="#adadad" stroke-width="0.55" />
<text x="166.20" y="415.66" font-size="9.8" fill="#111" font-weight="normal" text-anchor="start" >Rpl41</text>
<rect x="46.00" y="417.48" width="38.00" height="10.64" fill="#d8d8fc" stroke="#adadad" stroke-width="0.55" />
<rect x="84.00" y="417.48" width="38.60" height="10.64" fill="#f7a2a2" stroke="#adadad" stroke-width="0.55" />
<rect x="122.60" y="417.48" width="38.60" height="10.64" fill="#fac9c9" stroke="#adadad" stroke-width="0.55" />
<text x="166.20" y="426.30" font-size="9.8" fill="#111" font-weight="normal" text-anchor="start" >Rpl8</text>
<rect x="46.00" y="428.12" width="38.00" height="10.64" fill="#e0e0fd" stroke="#adadad" stroke-width="0.55" />
<rect x="84.00" y="428.12" width="38.60" height="10.64" fill="#f69292" stroke="#adadad" stroke-width="0.55" />
<rect x="122.60" y="428.12" width="38.60" height="10.64" fill="#f8aaaa" stroke="#adadad" stroke-width="0.55" />
<text x="166.20" y="436.94" font-size="9.8" fill="#111" font-weight="normal" text-anchor="start" >Rplp1</text>
<rect x="46.00" y="438.76" width="38.00" height="10.64" fill="#d8d8fc" stroke="#adadad" stroke-width="0.55" />
<rect x="84.00" y="438.76" width="38.60" height="10.64" fill="#f7a2a2" stroke="#adadad" stroke-width="0.55" />
<rect x="122.60" y="438.76" width="38.60" height="10.64" fill="#f8aaaa" stroke="#adadad" stroke-width="0.55" />
<text x="166.20" y="447.57" font-size="9.8" fill="#111" font-weight="normal" text-anchor="start" >Mrps24</text>
<rect x="46.00" y="449.39" width="38.00" height="10.64" fill="#e0e0fd" stroke="#adadad" stroke-width="0.55" />
<rect x="84.00" y="449.39" width="38.60" height="10.64" fill="#f7a2a2" stroke="#adadad" stroke-width="0.55" />
<rect x="122.60" y="449.39" width="38.60" height="10.64" fill="#f58b8b" stroke="#adadad" stroke-width="0.55" />
<text x="166.20" y="458.21" font-size="9.8" fill="#111" font-weight="normal" text-anchor="start" >Mrps26</text>
<rect x="46.00" y="460.03" width="38.00" height="10.64" fill="#d1d1fc" stroke="#adadad" stroke-width="0.55" />
<rect x="84.00" y="460.03" width="38.60" height="10.64" fill="#f8b2b2" stroke="#adadad" stroke-width="0.55" />
<rect x="122.60" y="460.03" width="38.60" height="10.64" fill="#fef3f3" stroke="#adadad" stroke-width="0.55" />
<text x="166.20" y="468.85" font-size="9.8" fill="#111" font-weight="normal" text-anchor="start" >Mrps21</text>
<rect x="46.00" y="470.67" width="38.00" height="10.64" fill="#f0f0fe" stroke="#adadad" stroke-width="0.55" />
<rect x="84.00" y="470.67" width="38.60" height="10.64" fill="#f69292" stroke="#adadad" stroke-width="0.55" />
<rect x="122.60" y="470.67" width="38.60" height="10.64" fill="#f8b2b2" stroke="#adadad" stroke-width="0.55" />
<text x="166.20" y="479.49" font-size="9.8" fill="#111" font-weight="normal" text-anchor="start" >Mrpl23</text>
<rect x="46.00" y="481.31" width="38.00" height="10.64" fill="#d8d8fc" stroke="#adadad" stroke-width="0.55" />
<rect x="84.00" y="481.31" width="38.60" height="10.64" fill="#f69292" stroke="#adadad" stroke-width="0.55" />
<rect x="122.60" y="481.31" width="38.60" height="10.64" fill="#f9b9b9" stroke="#adadad" stroke-width="0.55" />
<text x="166.20" y="490.13" font-size="9.8" fill="#111" font-weight="normal" text-anchor="start" >Mrpl28</text>
<rect x="46.00" y="491.95" width="38.00" height="10.64" fill="#c9c9fc" stroke="#adadad" stroke-width="0.55" />
<rect x="84.00" y="491.95" width="38.60" height="10.64" fill="#fac1c1" stroke="#adadad" stroke-width="0.55" />
<rect x="122.60" y="491.95" width="38.60" height="10.64" fill="#fac9c9" stroke="#adadad" stroke-width="0.55" />
<text x="166.20" y="500.77" font-size="9.8" fill="#111" font-weight="normal" text-anchor="start" >Ndufa1</text>
<rect x="46.00" y="502.59" width="38.00" height="10.64" fill="#d1d1fc" stroke="#adadad" stroke-width="0.55" />
<rect x="84.00" y="502.59" width="38.60" height="10.64" fill="#fac9c9" stroke="#adadad" stroke-width="0.55" />
<rect x="122.60" y="502.59" width="38.60" height="10.64" fill="#fce0e0" stroke="#adadad" stroke-width="0.55" />
<text x="166.20" y="511.41" font-size="9.8" fill="#111" font-weight="normal" text-anchor="start" >Ndufa2</text>
<rect x="46.00" y="513.23" width="38.00" height="10.64" fill="#d8d8fc" stroke="#adadad" stroke-width="0.55" />
<rect x="84.00" y="513.23" width="38.60" height="10.64" fill="#f58383" stroke="#adadad" stroke-width="0.55" />
<rect x="122.60" y="513.23" width="38.60" height="10.64" fill="#fac1c1" stroke="#adadad" stroke-width="0.55" />
<text x="166.20" y="522.05" font-size="9.8" fill="#111" font-weight="normal" text-anchor="start" >Ndufa8</text>
<rect x="46.00" y="523.87" width="38.00" height="10.64" fill="#d8d8fc" stroke="#adadad" stroke-width="0.55" />
<rect x="84.00" y="523.87" width="38.60" height="10.64" fill="#f8b2b2" stroke="#adadad" stroke-width="0.55" />
<rect x="122.60" y="523.87" width="38.60" height="10.64" fill="#fac1c1" stroke="#adadad" stroke-width="0.55" />
<text x="166.20" y="532.69" font-size="9.8" fill="#111" font-weight="normal" text-anchor="start" >Ndufv3</text>
<rect x="46.00" y="534.51" width="38.00" height="10.64" fill="#ededfe" stroke="#adadad" stroke-width="0.55" />
<rect x="84.00" y="534.51" width="38.60" height="10.64" fill="#d20a0a" stroke="#adadad" stroke-width="0.55" />
<rect x="122.60" y="534.51" width="38.60" height="10.64" fill="#dc2828" stroke="#adadad" stroke-width="0.55" />
<text x="166.20" y="543.33" font-size="9.8" fill="#111" font-weight="normal" text-anchor="start" >mt-Nd1</text>
<rect x="46.00" y="545.15" width="38.00" height="10.64" fill="#e8e8fe" stroke="#adadad" stroke-width="0.55" />
<rect x="84.00" y="545.15" width="38.60" height="10.64" fill="#d91e1e" stroke="#adadad" stroke-width="0.55" />
<rect x="122.60" y="545.15" width="38.60" height="10.64" fill="#dc2828" stroke="#adadad" stroke-width="0.55" />
<text x="166.20" y="553.97" font-size="9.8" fill="#111" font-weight="normal" text-anchor="start" >mt-Nd4</text>
<rect x="46.00" y="555.79" width="38.00" height="10.64" fill="#d1d1fc" stroke="#adadad" stroke-width="0.55" />
<rect x="84.00" y="555.79" width="38.60" height="10.64" fill="#f26464" stroke="#adadad" stroke-width="0.55" />
<rect x="122.60" y="555.79" width="38.60" height="10.64" fill="#f7a2a2" stroke="#adadad" stroke-width="0.55" />
<text x="166.20" y="564.61" font-size="9.8" fill="#111" font-weight="normal" text-anchor="start" >mt-Nd5</text>
<rect x="46.00" y="566.43" width="38.00" height="10.64" fill="#e0e0fd" stroke="#adadad" stroke-width="0.55" />
<rect x="84.00" y="566.43" width="38.60" height="10.64" fill="#dc2828" stroke="#adadad" stroke-width="0.55" />
<rect x="122.60" y="566.43" width="38.60" height="10.64" fill="#e03232" stroke="#adadad" stroke-width="0.55" />
<text x="166.20" y="575.25" font-size="9.8" fill="#111" font-weight="normal" text-anchor="start" >mt-Cytb</text>
<rect x="46.00" y="577.07" width="38.00" height="10.64" fill="#d8d8fc" stroke="#adadad" stroke-width="0.55" />
<rect x="84.00" y="577.07" width="38.60" height="10.64" fill="#f58383" stroke="#adadad" stroke-width="0.55" />
<rect x="122.60" y="577.07" width="38.60" height="10.64" fill="#f7a2a2" stroke="#adadad" stroke-width="0.55" />
<text x="166.20" y="585.89" font-size="9.8" fill="#111" font-weight="normal" text-anchor="start" >Cox6a1</text>
<rect x="46.00" y="587.71" width="38.00" height="10.64" fill="#e0e0fd" stroke="#adadad" stroke-width="0.55" />
<rect x="84.00" y="587.71" width="38.60" height="10.64" fill="#f58b8b" stroke="#adadad" stroke-width="0.55" />
<rect x="122.60" y="587.71" width="38.60" height="10.64" fill="#f79a9a" stroke="#adadad" stroke-width="0.55" />
<text x="166.20" y="596.53" font-size="9.8" fill="#111" font-weight="normal" text-anchor="start" >Cox6a2</text>
<rect x="46.00" y="598.35" width="38.00" height="10.64" fill="#d1d1fc" stroke="#adadad" stroke-width="0.55" />
<rect x="84.00" y="598.35" width="38.60" height="10.64" fill="#f26464" stroke="#adadad" stroke-width="0.55" />
<rect x="122.60" y="598.35" width="38.60" height="10.64" fill="#f7a2a2" stroke="#adadad" stroke-width="0.55" />
<text x="166.20" y="607.17" font-size="9.8" fill="#111" font-weight="normal" text-anchor="start" >mt-Co2</text>
<rect x="46.00" y="608.99" width="38.00" height="10.64" fill="#d1d1fc" stroke="#adadad" stroke-width="0.55" />
<rect x="84.00" y="608.99" width="38.60" height="10.64" fill="#fce0e0" stroke="#adadad" stroke-width="0.55" />
<rect x="122.60" y="608.99" width="38.60" height="10.64" fill="#fef0f0" stroke="#adadad" stroke-width="0.55" />
<text x="166.20" y="617.81" font-size="9.8" fill="#111" font-weight="normal" text-anchor="start" >Atp5d</text>
<rect x="46.00" y="619.63" width="38.00" height="10.64" fill="#c9c9fc" stroke="#adadad" stroke-width="0.55" />
<rect x="84.00" y="619.63" width="38.60" height="10.64" fill="#f8b2b2" stroke="#adadad" stroke-width="0.55" />
<rect x="122.60" y="619.63" width="38.60" height="10.64" fill="#fef7f7" stroke="#adadad" stroke-width="0.55" />
<text x="166.20" y="628.45" font-size="9.8" fill="#111" font-weight="normal" text-anchor="start" >Atp5k</text>
<rect x="46.00" y="630.27" width="38.00" height="10.64" fill="#d1d1fc" stroke="#adadad" stroke-width="0.55" />
<rect x="84.00" y="630.27" width="38.60" height="10.64" fill="#fac1c1" stroke="#adadad" stroke-width="0.55" />
<rect x="122.60" y="630.27" width="38.60" height="10.64" fill="#f7f7fe" stroke="#adadad" stroke-width="0.55" />
<text x="166.20" y="639.09" font-size="9.8" fill="#111" font-weight="normal" text-anchor="start" >Atp5md</text>
<rect x="46.00" y="640.91" width="38.00" height="10.64" fill="#e8e8fe" stroke="#adadad" stroke-width="0.55" />
<rect x="84.00" y="640.91" width="38.60" height="10.64" fill="#e03232" stroke="#adadad" stroke-width="0.55" />
<rect x="122.60" y="640.91" width="38.60" height="10.64" fill="#e23737" stroke="#adadad" stroke-width="0.55" />
<text x="166.20" y="649.73" font-size="9.8" fill="#111" font-weight="normal" text-anchor="start" >mt-Atp6</text>
<rect x="46.00" y="651.54" width="38.00" height="10.64" fill="#e0e0fd" stroke="#adadad" stroke-width="0.55" />
<rect x="84.00" y="651.54" width="38.60" height="10.64" fill="#ce0000" stroke="#adadad" stroke-width="0.55" />
<rect x="122.60" y="651.54" width="38.60" height="10.64" fill="#d51414" stroke="#adadad" stroke-width="0.55" />
<text x="166.20" y="660.36" font-size="9.8" fill="#111" font-weight="normal" text-anchor="start" >mt-Atp8</text>
<rect x="46.00" y="662.18" width="38.00" height="10.64" fill="#d1d1fc" stroke="#adadad" stroke-width="0.55" />
<rect x="84.00" y="662.18" width="38.60" height="10.64" fill="#f58b8b" stroke="#adadad" stroke-width="0.55" />
<rect x="122.60" y="662.18" width="38.60" height="10.64" fill="#fac9c9" stroke="#adadad" stroke-width="0.55" />
<text x="166.20" y="671.00" font-size="9.8" fill="#111" font-weight="normal" text-anchor="start" >Timm10b</text>
<rect x="46.00" y="672.82" width="38.00" height="10.64" fill="#d8d8fc" stroke="#adadad" stroke-width="0.55" />
<rect x="84.00" y="672.82" width="38.60" height="10.64" fill="#f58383" stroke="#adadad" stroke-width="0.55" />
<rect x="122.60" y="672.82" width="38.60" height="10.64" fill="#f8b2b2" stroke="#adadad" stroke-width="0.55" />
<text x="166.20" y="681.64" font-size="9.8" fill="#111" font-weight="normal" text-anchor="start" >Timm13</text>
<rect x="46.00" y="683.46" width="38.00" height="10.64" fill="#c9c9fc" stroke="#adadad" stroke-width="0.55" />
<rect x="84.00" y="683.46" width="38.60" height="10.64" fill="#f9b9b9" stroke="#adadad" stroke-width="0.55" />
<rect x="122.60" y="683.46" width="38.60" height="10.64" fill="#fce0e0" stroke="#adadad" stroke-width="0.55" />
<text x="166.20" y="692.28" font-size="9.8" fill="#111" font-weight="normal" text-anchor="start" >Timm17b</text>
<rect x="46.00" y="694.10" width="38.00" height="10.64" fill="#d1d1fc" stroke="#adadad" stroke-width="0.55" />
<rect x="84.00" y="694.10" width="38.60" height="10.64" fill="#f8aaaa" stroke="#adadad" stroke-width="0.55" />
<rect x="122.60" y="694.10" width="38.60" height="10.64" fill="#f8b2b2" stroke="#adadad" stroke-width="0.55" />
<text x="166.20" y="702.92" font-size="9.8" fill="#111" font-weight="normal" text-anchor="start" >Tomm6</text>
<rect x="46.00" y="704.74" width="38.00" height="10.64" fill="#d1d1fc" stroke="#adadad" stroke-width="0.55" />
<rect x="84.00" y="704.74" width="38.60" height="10.64" fill="#f58b8b" stroke="#adadad" stroke-width="0.55" />
<rect x="122.60" y="704.74" width="38.60" height="10.64" fill="#fce0e0" stroke="#adadad" stroke-width="0.55" />
<text x="166.20" y="713.56" font-size="9.8" fill="#111" font-weight="normal" text-anchor="start" >Tomm40l</text>
<rect x="46.00" y="715.38" width="38.00" height="10.64" fill="#d8d8fc" stroke="#adadad" stroke-width="0.55" />
<rect x="84.00" y="715.38" width="38.60" height="10.64" fill="#f7a2a2" stroke="#adadad" stroke-width="0.55" />
<rect x="122.60" y="715.38" width="38.60" height="10.64" fill="#f9b9b9" stroke="#adadad" stroke-width="0.55" />
<text x="166.20" y="724.20" font-size="9.8" fill="#111" font-weight="normal" text-anchor="start" >Fis1</text>
<rect x="46.00" y="726.02" width="38.00" height="10.64" fill="#d8d8fc" stroke="#adadad" stroke-width="0.55" />
<rect x="84.00" y="726.02" width="38.60" height="10.64" fill="#f9b9b9" stroke="#adadad" stroke-width="0.55" />
<rect x="122.60" y="726.02" width="38.60" height="10.64" fill="#fde8e8" stroke="#adadad" stroke-width="0.55" />
<text x="166.20" y="734.84" font-size="9.8" fill="#111" font-weight="normal" text-anchor="start" >Micos10</text>
<rect x="46.00" y="736.66" width="38.00" height="10.64" fill="#d1d1fc" stroke="#adadad" stroke-width="0.55" />
<rect x="84.00" y="736.66" width="38.60" height="10.64" fill="#f7a2a2" stroke="#adadad" stroke-width="0.55" />
<rect x="122.60" y="736.66" width="38.60" height="10.64" fill="#f8b2b2" stroke="#adadad" stroke-width="0.55" />
<text x="166.20" y="745.48" font-size="9.8" fill="#111" font-weight="normal" text-anchor="start" >Ptpmt1</text>
<path d="M94.94,348.62 L94.70,345.12 L93.70,345.12 L93.46,348.62ZM94.57,349.26 L97.48,347.31 L96.98,346.43 L93.83,347.98ZM93.83,349.26 L96.98,350.81 L97.48,349.93 L94.57,347.98ZM93.46,348.62 L93.70,352.12 L94.70,352.12 L94.94,348.62ZM93.83,347.98 L90.92,349.93 L91.42,350.81 L94.57,349.26ZM94.57,347.98 L91.42,346.43 L90.92,347.31 L93.83,349.26Z" fill="#000" stroke="#000" stroke-width="0.25" />
<path d="M94.94,359.26 L94.70,355.76 L93.70,355.76 L93.46,359.26ZM94.57,359.90 L97.48,357.95 L96.98,357.07 L93.83,358.61ZM93.83,359.90 L96.98,361.45 L97.48,360.57 L94.57,358.61ZM93.46,359.26 L93.70,362.76 L94.70,362.76 L94.94,359.26ZM93.83,358.61 L90.92,360.57 L91.42,361.45 L94.57,359.90ZM94.57,358.61 L91.42,357.07 L90.92,357.95 L93.83,359.90Z" fill="#000" stroke="#000" stroke-width="0.25" />
<path d="M133.34,359.26 L133.10,355.76 L132.10,355.76 L131.86,359.26ZM132.97,359.90 L135.88,357.95 L135.38,357.07 L132.23,358.61ZM132.23,359.90 L135.38,361.45 L135.88,360.57 L132.97,358.61ZM131.86,359.26 L132.10,362.76 L133.10,362.76 L133.34,359.26ZM132.23,358.61 L129.32,360.57 L129.82,361.45 L132.97,359.90ZM132.97,358.61 L129.82,357.07 L129.32,357.95 L132.23,359.90Z" fill="#000" stroke="#000" stroke-width="0.25" />
<path d="M94.94,369.90 L94.70,366.40 L93.70,366.40 L93.46,369.90ZM94.57,370.54 L97.48,368.59 L96.98,367.71 L93.83,369.25ZM93.83,370.54 L96.98,372.09 L97.48,371.21 L94.57,369.25ZM93.46,369.90 L93.70,373.40 L94.70,373.40 L94.94,369.90ZM93.83,369.25 L90.92,371.21 L91.42,372.09 L94.57,370.54ZM94.57,369.25 L91.42,367.71 L90.92,368.59 L93.83,370.54Z" fill="#000" stroke="#000" stroke-width="0.25" />
<path d="M133.34,369.90 L133.10,366.40 L132.10,366.40 L131.86,369.90ZM132.97,370.54 L135.88,368.59 L135.38,367.71 L132.23,369.25ZM132.23,370.54 L135.38,372.09 L135.88,371.21 L132.97,369.25ZM131.86,369.90 L132.10,373.40 L133.10,373.40 L133.34,369.90ZM132.23,369.25 L129.32,371.21 L129.82,372.09 L132.97,370.54ZM132.97,369.25 L129.82,367.71 L129.32,368.59 L132.23,370.54Z" fill="#000" stroke="#000" stroke-width="0.25" />
<path d="M94.94,380.54 L94.70,377.04 L93.70,377.04 L93.46,380.54ZM94.57,381.18 L97.48,379.22 L96.98,378.35 L93.83,379.89ZM93.83,381.18 L96.98,382.72 L97.48,381.85 L94.57,379.89ZM93.46,380.54 L93.70,384.04 L94.70,384.04 L94.94,380.54ZM93.83,379.89 L90.92,381.85 L91.42,382.72 L94.57,381.18ZM94.57,379.89 L91.42,378.35 L90.92,379.22 L93.83,381.18Z" fill="#000" stroke="#000" stroke-width="0.25" />
<path d="M94.94,391.18 L94.70,387.68 L93.70,387.68 L93.46,391.18ZM94.57,391.82 L97.48,389.86 L96.98,388.99 L93.83,390.53ZM93.83,391.82 L96.98,393.36 L97.48,392.49 L94.57,390.53ZM93.46,391.18 L93.70,394.68 L94.70,394.68 L94.94,391.18ZM93.83,390.53 L90.92,392.49 L91.42,393.36 L94.57,391.82ZM94.57,390.53 L91.42,388.99 L90.92,389.86 L93.83,391.82Z" fill="#000" stroke="#000" stroke-width="0.25" />
<path d="M133.34,391.18 L133.10,387.68 L132.10,387.68 L131.86,391.18ZM132.97,391.82 L135.88,389.86 L135.38,388.99 L132.23,390.53ZM132.23,391.82 L135.38,393.36 L135.88,392.49 L132.97,390.53ZM131.86,391.18 L132.10,394.68 L133.10,394.68 L133.34,391.18ZM132.23,390.53 L129.32,392.49 L129.82,393.36 L132.97,391.82ZM132.97,390.53 L129.82,388.99 L129.32,389.86 L132.23,391.82Z" fill="#000" stroke="#000" stroke-width="0.25" />
<path d="M94.94,401.82 L94.70,398.32 L93.70,398.32 L93.46,401.82ZM94.57,402.46 L97.48,400.50 L96.98,399.63 L93.83,401.17ZM93.83,402.46 L96.98,404.00 L97.48,403.13 L94.57,401.17ZM93.46,401.82 L93.70,405.32 L94.70,405.32 L94.94,401.82ZM93.83,401.17 L90.92,403.13 L91.42,404.00 L94.57,402.46ZM94.57,401.17 L91.42,399.63 L90.92,400.50 L93.83,402.46Z" fill="#000" stroke="#000" stroke-width="0.25" />
<path d="M133.34,401.82 L133.10,398.32 L132.10,398.32 L131.86,401.82ZM132.97,402.46 L135.88,400.50 L135.38,399.63 L132.23,401.17ZM132.23,402.46 L135.38,404.00 L135.88,403.13 L132.97,401.17ZM131.86,401.82 L132.10,405.32 L133.10,405.32 L133.34,401.82ZM132.23,401.17 L129.32,403.13 L129.82,404.00 L132.97,402.46ZM132.97,401.17 L129.82,399.63 L129.32,400.50 L132.23,402.46Z" fill="#000" stroke="#000" stroke-width="0.25" />
<path d="M94.94,412.46 L94.70,408.96 L93.70,408.96 L93.46,412.46ZM94.57,413.10 L97.48,411.14 L96.98,410.27 L93.83,411.81ZM93.83,413.10 L96.98,414.64 L97.48,413.77 L94.57,411.81ZM93.46,412.46 L93.70,415.96 L94.70,415.96 L94.94,412.46ZM93.83,411.81 L90.92,413.77 L91.42,414.64 L94.57,413.10ZM94.57,411.81 L91.42,410.27 L90.92,411.14 L93.83,413.10Z" fill="#000" stroke="#000" stroke-width="0.25" />
<path d="M94.94,423.10 L94.70,419.60 L93.70,419.60 L93.46,423.10ZM94.57,423.74 L97.48,421.78 L96.98,420.91 L93.83,422.45ZM93.83,423.74 L96.98,425.28 L97.48,424.41 L94.57,422.45ZM93.46,423.10 L93.70,426.60 L94.70,426.60 L94.94,423.10ZM93.83,422.45 L90.92,424.41 L91.42,425.28 L94.57,423.74ZM94.57,422.45 L91.42,420.91 L90.92,421.78 L93.83,423.74Z" fill="#000" stroke="#000" stroke-width="0.25" />
<path d="M133.34,423.10 L133.10,419.60 L132.10,419.60 L131.86,423.10ZM132.97,423.74 L135.88,421.78 L135.38,420.91 L132.23,422.45ZM132.23,423.74 L135.38,425.28 L135.88,424.41 L132.97,422.45ZM131.86,423.10 L132.10,426.60 L133.10,426.60 L133.34,423.10ZM132.23,422.45 L129.32,424.41 L129.82,425.28 L132.97,423.74ZM132.97,422.45 L129.82,420.91 L129.32,421.78 L132.23,423.74Z" fill="#000" stroke="#000" stroke-width="0.25" />
<path d="M94.94,433.74 L94.70,430.24 L93.70,430.24 L93.46,433.74ZM94.57,434.38 L97.48,432.42 L96.98,431.55 L93.83,433.09ZM93.83,434.38 L96.98,435.92 L97.48,435.05 L94.57,433.09ZM93.46,433.74 L93.70,437.24 L94.70,437.24 L94.94,433.74ZM93.83,433.09 L90.92,435.05 L91.42,435.92 L94.57,434.38ZM94.57,433.09 L91.42,431.55 L90.92,432.42 L93.83,434.38Z" fill="#000" stroke="#000" stroke-width="0.25" />
<path d="M133.34,433.74 L133.10,430.24 L132.10,430.24 L131.86,433.74ZM132.97,434.38 L135.88,432.42 L135.38,431.55 L132.23,433.09ZM132.23,434.38 L135.38,435.92 L135.88,435.05 L132.97,433.09ZM131.86,433.74 L132.10,437.24 L133.10,437.24 L133.34,433.74ZM132.23,433.09 L129.32,435.05 L129.82,435.92 L132.97,434.38ZM132.97,433.09 L129.82,431.55 L129.32,432.42 L132.23,434.38Z" fill="#000" stroke="#000" stroke-width="0.25" />
<path d="M94.94,444.38 L94.70,440.88 L93.70,440.88 L93.46,444.38ZM94.57,445.02 L97.48,443.06 L96.98,442.19 L93.83,443.73ZM93.83,445.02 L96.98,446.56 L97.48,445.69 L94.57,443.73ZM93.46,444.38 L93.70,447.88 L94.70,447.88 L94.94,444.38ZM93.83,443.73 L90.92,445.69 L91.42,446.56 L94.57,445.02ZM94.57,443.73 L91.42,442.19 L90.92,443.06 L93.83,445.02Z" fill="#000" stroke="#000" stroke-width="0.25" />
<path d="M133.34,444.38 L133.10,440.88 L132.10,440.88 L131.86,444.38ZM132.97,445.02 L135.88,443.06 L135.38,442.19 L132.23,443.73ZM132.23,445.02 L135.38,446.56 L135.88,445.69 L132.97,443.73ZM131.86,444.38 L132.10,447.88 L133.10,447.88 L133.34,444.38ZM132.23,443.73 L129.32,445.69 L129.82,446.56 L132.97,445.02ZM132.97,443.73 L129.82,442.19 L129.32,443.06 L132.23,445.02Z" fill="#000" stroke="#000" stroke-width="0.25" />
<path d="M94.94,455.01 L94.70,451.51 L93.70,451.51 L93.46,455.01ZM94.57,455.66 L97.48,453.70 L96.98,452.83 L93.83,454.37ZM93.83,455.66 L96.98,457.20 L97.48,456.33 L94.57,454.37ZM93.46,455.01 L93.70,458.51 L94.70,458.51 L94.94,455.01ZM93.83,454.37 L90.92,456.33 L91.42,457.20 L94.57,455.66ZM94.57,454.37 L91.42,452.83 L90.92,453.70 L93.83,455.66Z" fill="#000" stroke="#000" stroke-width="0.25" />
<path d="M133.34,455.01 L133.10,451.51 L132.10,451.51 L131.86,455.01ZM132.97,455.66 L135.88,453.70 L135.38,452.83 L132.23,454.37ZM132.23,455.66 L135.38,457.20 L135.88,456.33 L132.97,454.37ZM131.86,455.01 L132.10,458.51 L133.10,458.51 L133.34,455.01ZM132.23,454.37 L129.32,456.33 L129.82,457.20 L132.97,455.66ZM132.97,454.37 L129.82,452.83 L129.32,453.70 L132.23,455.66Z" fill="#000" stroke="#000" stroke-width="0.25" />
<path d="M94.94,465.65 L94.70,462.15 L93.70,462.15 L93.46,465.65ZM94.57,466.30 L97.48,464.34 L96.98,463.47 L93.83,465.01ZM93.83,466.30 L96.98,467.84 L97.48,466.97 L94.57,465.01ZM93.46,465.65 L93.70,469.15 L94.70,469.15 L94.94,465.65ZM93.83,465.01 L90.92,466.97 L91.42,467.84 L94.57,466.30ZM94.57,465.01 L91.42,463.47 L90.92,464.34 L93.83,466.30Z" fill="#000" stroke="#000" stroke-width="0.25" />
<path d="M94.94,476.29 L94.70,472.79 L93.70,472.79 L93.46,476.29ZM94.57,476.94 L97.48,474.98 L96.98,474.11 L93.83,475.65ZM93.83,476.94 L96.98,478.48 L97.48,477.61 L94.57,475.65ZM93.46,476.29 L93.70,479.79 L94.70,479.79 L94.94,476.29ZM93.83,475.65 L90.92,477.61 L91.42,478.48 L94.57,476.94ZM94.57,475.65 L91.42,474.11 L90.92,474.98 L93.83,476.94Z" fill="#000" stroke="#000" stroke-width="0.25" />
<path d="M133.34,476.29 L133.10,472.79 L132.10,472.79 L131.86,476.29ZM132.97,476.94 L135.88,474.98 L135.38,474.11 L132.23,475.65ZM132.23,476.94 L135.38,478.48 L135.88,477.61 L132.97,475.65ZM131.86,476.29 L132.10,479.79 L133.10,479.79 L133.34,476.29ZM132.23,475.65 L129.32,477.61 L129.82,478.48 L132.97,476.94ZM132.97,475.65 L129.82,474.11 L129.32,474.98 L132.23,476.94Z" fill="#000" stroke="#000" stroke-width="0.25" />
<path d="M94.94,486.93 L94.70,483.43 L93.70,483.43 L93.46,486.93ZM94.57,487.58 L97.48,485.62 L96.98,484.75 L93.83,486.29ZM93.83,487.58 L96.98,489.12 L97.48,488.25 L94.57,486.29ZM93.46,486.93 L93.70,490.43 L94.70,490.43 L94.94,486.93ZM93.83,486.29 L90.92,488.25 L91.42,489.12 L94.57,487.58ZM94.57,486.29 L91.42,484.75 L90.92,485.62 L93.83,487.58Z" fill="#000" stroke="#000" stroke-width="0.25" />
<path d="M94.94,497.57 L94.70,494.07 L93.70,494.07 L93.46,497.57ZM94.57,498.22 L97.48,496.26 L96.98,495.39 L93.83,496.93ZM93.83,498.22 L96.98,499.76 L97.48,498.89 L94.57,496.93ZM93.46,497.57 L93.70,501.07 L94.70,501.07 L94.94,497.57ZM93.83,496.93 L90.92,498.89 L91.42,499.76 L94.57,498.22ZM94.57,496.93 L91.42,495.39 L90.92,496.26 L93.83,498.22Z" fill="#000" stroke="#000" stroke-width="0.25" />
<path d="M94.94,508.21 L94.70,504.71 L93.70,504.71 L93.46,508.21ZM94.57,508.86 L97.48,506.90 L96.98,506.03 L93.83,507.57ZM93.83,508.86 L96.98,510.40 L97.48,509.53 L94.57,507.57ZM93.46,508.21 L93.70,511.71 L94.70,511.71 L94.94,508.21ZM93.83,507.57 L90.92,509.53 L91.42,510.40 L94.57,508.86ZM94.57,507.57 L91.42,506.03 L90.92,506.90 L93.83,508.86Z" fill="#000" stroke="#000" stroke-width="0.25" />
<path d="M94.94,518.85 L94.70,515.35 L93.70,515.35 L93.46,518.85ZM94.57,519.50 L97.48,517.54 L96.98,516.66 L93.83,518.21ZM93.83,519.50 L96.98,521.04 L97.48,520.16 L94.57,518.21ZM93.46,518.85 L93.70,522.35 L94.70,522.35 L94.94,518.85ZM93.83,518.21 L90.92,520.16 L91.42,521.04 L94.57,519.50ZM94.57,518.21 L91.42,516.66 L90.92,517.54 L93.83,519.50Z" fill="#000" stroke="#000" stroke-width="0.25" />
<path d="M94.94,529.49 L94.70,525.99 L93.70,525.99 L93.46,529.49ZM94.57,530.14 L97.48,528.18 L96.98,527.30 L93.83,528.85ZM93.83,530.14 L96.98,531.68 L97.48,530.80 L94.57,528.85ZM93.46,529.49 L93.70,532.99 L94.70,532.99 L94.94,529.49ZM93.83,528.85 L90.92,530.80 L91.42,531.68 L94.57,530.14ZM94.57,528.85 L91.42,527.30 L90.92,528.18 L93.83,530.14Z" fill="#000" stroke="#000" stroke-width="0.25" />
<path d="M94.94,540.13 L94.70,536.63 L93.70,536.63 L93.46,540.13ZM94.57,540.77 L97.48,538.82 L96.98,537.94 L93.83,539.49ZM93.83,540.77 L96.98,542.32 L97.48,541.44 L94.57,539.49ZM93.46,540.13 L93.70,543.63 L94.70,543.63 L94.94,540.13ZM93.83,539.49 L90.92,541.44 L91.42,542.32 L94.57,540.77ZM94.57,539.49 L91.42,537.94 L90.92,538.82 L93.83,540.77Z" fill="#000" stroke="#000" stroke-width="0.25" />
<path d="M133.34,540.13 L133.10,536.63 L132.10,536.63 L131.86,540.13ZM132.97,540.77 L135.88,538.82 L135.38,537.94 L132.23,539.49ZM132.23,540.77 L135.38,542.32 L135.88,541.44 L132.97,539.49ZM131.86,540.13 L132.10,543.63 L133.10,543.63 L133.34,540.13ZM132.23,539.49 L129.32,541.44 L129.82,542.32 L132.97,540.77ZM132.97,539.49 L129.82,537.94 L129.32,538.82 L132.23,540.77Z" fill="#000" stroke="#000" stroke-width="0.25" />
<path d="M94.94,550.77 L94.70,547.27 L93.70,547.27 L93.46,550.77ZM94.57,551.41 L97.48,549.46 L96.98,548.58 L93.83,550.13ZM93.83,551.41 L96.98,552.96 L97.48,552.08 L94.57,550.13ZM93.46,550.77 L93.70,554.27 L94.70,554.27 L94.94,550.77ZM93.83,550.13 L90.92,552.08 L91.42,552.96 L94.57,551.41ZM94.57,550.13 L91.42,548.58 L90.92,549.46 L93.83,551.41Z" fill="#000" stroke="#000" stroke-width="0.25" />
<path d="M133.34,550.77 L133.10,547.27 L132.10,547.27 L131.86,550.77ZM132.97,551.41 L135.88,549.46 L135.38,548.58 L132.23,550.13ZM132.23,551.41 L135.38,552.96 L135.88,552.08 L132.97,550.13ZM131.86,550.77 L132.10,554.27 L133.10,554.27 L133.34,550.77ZM132.23,550.13 L129.32,552.08 L129.82,552.96 L132.97,551.41ZM132.97,550.13 L129.82,548.58 L129.32,549.46 L132.23,551.41Z" fill="#000" stroke="#000" stroke-width="0.25" />
<path d="M94.94,561.41 L94.70,557.91 L93.70,557.91 L93.46,561.41ZM94.57,562.05 L97.48,560.10 L96.98,559.22 L93.83,560.76ZM93.83,562.05 L96.98,563.60 L97.48,562.72 L94.57,560.76ZM93.46,561.41 L93.70,564.91 L94.70,564.91 L94.94,561.41ZM93.83,560.76 L90.92,562.72 L91.42,563.60 L94.57,562.05ZM94.57,560.76 L91.42,559.22 L90.92,560.10 L93.83,562.05Z" fill="#000" stroke="#000" stroke-width="0.25" />
<path d="M94.94,572.05 L94.70,568.55 L93.70,568.55 L93.46,572.05ZM94.57,572.69 L97.48,570.74 L96.98,569.86 L93.83,571.40ZM93.83,572.69 L96.98,574.24 L97.48,573.36 L94.57,571.40ZM93.46,572.05 L93.70,575.55 L94.70,575.55 L94.94,572.05ZM93.83,571.40 L90.92,573.36 L91.42,574.24 L94.57,572.69ZM94.57,571.40 L91.42,569.86 L90.92,570.74 L93.83,572.69Z" fill="#000" stroke="#000" stroke-width="0.25" />
<path d="M133.34,572.05 L133.10,568.55 L132.10,568.55 L131.86,572.05ZM132.97,572.69 L135.88,570.74 L135.38,569.86 L132.23,571.40ZM132.23,572.69 L135.38,574.24 L135.88,573.36 L132.97,571.40ZM131.86,572.05 L132.10,575.55 L133.10,575.55 L133.34,572.05ZM132.23,571.40 L129.32,573.36 L129.82,574.24 L132.97,572.69ZM132.97,571.40 L129.82,569.86 L129.32,570.74 L132.23,572.69Z" fill="#000" stroke="#000" stroke-width="0.25" />
<path d="M94.94,582.69 L94.70,579.19 L93.70,579.19 L93.46,582.69ZM94.57,583.33 L97.48,581.37 L96.98,580.50 L93.83,582.04ZM93.83,583.33 L96.98,584.87 L97.48,584.00 L94.57,582.04ZM93.46,582.69 L93.70,586.19 L94.70,586.19 L94.94,582.69ZM93.83,582.04 L90.92,584.00 L91.42,584.87 L94.57,583.33ZM94.57,582.04 L91.42,580.50 L90.92,581.37 L93.83,583.33Z" fill="#000" stroke="#000" stroke-width="0.25" />
<path d="M94.94,593.33 L94.70,589.83 L93.70,589.83 L93.46,593.33ZM94.57,593.97 L97.48,592.01 L96.98,591.14 L93.83,592.68ZM93.83,593.97 L96.98,595.51 L97.48,594.64 L94.57,592.68ZM93.46,593.33 L93.70,596.83 L94.70,596.83 L94.94,593.33ZM93.83,592.68 L90.92,594.64 L91.42,595.51 L94.57,593.97ZM94.57,592.68 L91.42,591.14 L90.92,592.01 L93.83,593.97Z" fill="#000" stroke="#000" stroke-width="0.25" />
<path d="M133.34,593.33 L133.10,589.83 L132.10,589.83 L131.86,593.33ZM132.97,593.97 L135.88,592.01 L135.38,591.14 L132.23,592.68ZM132.23,593.97 L135.38,595.51 L135.88,594.64 L132.97,592.68ZM131.86,593.33 L132.10,596.83 L133.10,596.83 L133.34,593.33ZM132.23,592.68 L129.32,594.64 L129.82,595.51 L132.97,593.97ZM132.97,592.68 L129.82,591.14 L129.32,592.01 L132.23,593.97Z" fill="#000" stroke="#000" stroke-width="0.25" />
<path d="M94.94,603.97 L94.70,600.47 L93.70,600.47 L93.46,603.97ZM94.57,604.61 L97.48,602.65 L96.98,601.78 L93.83,603.32ZM93.83,604.61 L96.98,606.15 L97.48,605.28 L94.57,603.32ZM93.46,603.97 L93.70,607.47 L94.70,607.47 L94.94,603.97ZM93.83,603.32 L90.92,605.28 L91.42,606.15 L94.57,604.61ZM94.57,603.32 L91.42,601.78 L90.92,602.65 L93.83,604.61Z" fill="#000" stroke="#000" stroke-width="0.25" />
<path d="M94.94,614.61 L94.70,611.11 L93.70,611.11 L93.46,614.61ZM94.57,615.25 L97.48,613.29 L96.98,612.42 L93.83,613.96ZM93.83,615.25 L96.98,616.79 L97.48,615.92 L94.57,613.96ZM93.46,614.61 L93.70,618.11 L94.70,618.11 L94.94,614.61ZM93.83,613.96 L90.92,615.92 L91.42,616.79 L94.57,615.25ZM94.57,613.96 L91.42,612.42 L90.92,613.29 L93.83,615.25Z" fill="#000" stroke="#000" stroke-width="0.25" />
<path d="M94.94,625.25 L94.70,621.75 L93.70,621.75 L93.46,625.25ZM94.57,625.89 L97.48,623.93 L96.98,623.06 L93.83,624.60ZM93.83,625.89 L96.98,627.43 L97.48,626.56 L94.57,624.60ZM93.46,625.25 L93.70,628.75 L94.70,628.75 L94.94,625.25ZM93.83,624.60 L90.92,626.56 L91.42,627.43 L94.57,625.89ZM94.57,624.60 L91.42,623.06 L90.92,623.93 L93.83,625.89Z" fill="#000" stroke="#000" stroke-width="0.25" />
<path d="M94.94,635.89 L94.70,632.39 L93.70,632.39 L93.46,635.89ZM94.57,636.53 L97.48,634.57 L96.98,633.70 L93.83,635.24ZM93.83,636.53 L96.98,638.07 L97.48,637.20 L94.57,635.24ZM93.46,635.89 L93.70,639.39 L94.70,639.39 L94.94,635.89ZM93.83,635.24 L90.92,637.20 L91.42,638.07 L94.57,636.53ZM94.57,635.24 L91.42,633.70 L90.92,634.57 L93.83,636.53Z" fill="#000" stroke="#000" stroke-width="0.25" />
<path d="M94.94,646.52 L94.70,643.02 L93.70,643.02 L93.46,646.52ZM94.57,647.17 L97.48,645.21 L96.98,644.34 L93.83,645.88ZM93.83,647.17 L96.98,648.71 L97.48,647.84 L94.57,645.88ZM93.46,646.52 L93.70,650.02 L94.70,650.02 L94.94,646.52ZM93.83,645.88 L90.92,647.84 L91.42,648.71 L94.57,647.17ZM94.57,645.88 L91.42,644.34 L90.92,645.21 L93.83,647.17Z" fill="#000" stroke="#000" stroke-width="0.25" />
<path d="M133.34,646.52 L133.10,643.02 L132.10,643.02 L131.86,646.52ZM132.97,647.17 L135.88,645.21 L135.38,644.34 L132.23,645.88ZM132.23,647.17 L135.38,648.71 L135.88,647.84 L132.97,645.88ZM131.86,646.52 L132.10,650.02 L133.10,650.02 L133.34,646.52ZM132.23,645.88 L129.32,647.84 L129.82,648.71 L132.97,647.17ZM132.97,645.88 L129.82,644.34 L129.32,645.21 L132.23,647.17Z" fill="#000" stroke="#000" stroke-width="0.25" />
<path d="M94.94,657.16 L94.70,653.66 L93.70,653.66 L93.46,657.16ZM94.57,657.81 L97.48,655.85 L96.98,654.98 L93.83,656.52ZM93.83,657.81 L96.98,659.35 L97.48,658.48 L94.57,656.52ZM93.46,657.16 L93.70,660.66 L94.70,660.66 L94.94,657.16ZM93.83,656.52 L90.92,658.48 L91.42,659.35 L94.57,657.81ZM94.57,656.52 L91.42,654.98 L90.92,655.85 L93.83,657.81Z" fill="#000" stroke="#000" stroke-width="0.25" />
<path d="M133.34,657.16 L133.10,653.66 L132.10,653.66 L131.86,657.16ZM132.97,657.81 L135.88,655.85 L135.38,654.98 L132.23,656.52ZM132.23,657.81 L135.38,659.35 L135.88,658.48 L132.97,656.52ZM131.86,657.16 L132.10,660.66 L133.10,660.66 L133.34,657.16ZM132.23,656.52 L129.32,658.48 L129.82,659.35 L132.97,657.81ZM132.97,656.52 L129.82,654.98 L129.32,655.85 L132.23,657.81Z" fill="#000" stroke="#000" stroke-width="0.25" />
<path d="M94.94,667.80 L94.70,664.30 L93.70,664.30 L93.46,667.80ZM94.57,668.45 L97.48,666.49 L96.98,665.62 L93.83,667.16ZM93.83,668.45 L96.98,669.99 L97.48,669.12 L94.57,667.16ZM93.46,667.80 L93.70,671.30 L94.70,671.30 L94.94,667.80ZM93.83,667.16 L90.92,669.12 L91.42,669.99 L94.57,668.45ZM94.57,667.16 L91.42,665.62 L90.92,666.49 L93.83,668.45Z" fill="#000" stroke="#000" stroke-width="0.25" />
<path d="M133.34,667.80 L133.10,664.30 L132.10,664.30 L131.86,667.80ZM132.97,668.45 L135.88,666.49 L135.38,665.62 L132.23,667.16ZM132.23,668.45 L135.38,669.99 L135.88,669.12 L132.97,667.16ZM131.86,667.80 L132.10,671.30 L133.10,671.30 L133.34,667.80ZM132.23,667.16 L129.32,669.12 L129.82,669.99 L132.97,668.45ZM132.97,667.16 L129.82,665.62 L129.32,666.49 L132.23,668.45Z" fill="#000" stroke="#000" stroke-width="0.25" />
<path d="M94.94,678.44 L94.70,674.94 L93.70,674.94 L93.46,678.44ZM94.57,679.09 L97.48,677.13 L96.98,676.26 L93.83,677.80ZM93.83,679.09 L96.98,680.63 L97.48,679.76 L94.57,677.80ZM93.46,678.44 L93.70,681.94 L94.70,681.94 L94.94,678.44ZM93.83,677.80 L90.92,679.76 L91.42,680.63 L94.57,679.09ZM94.57,677.80 L91.42,676.26 L90.92,677.13 L93.83,679.09Z" fill="#000" stroke="#000" stroke-width="0.25" />
<path d="M94.94,689.08 L94.70,685.58 L93.70,685.58 L93.46,689.08ZM94.57,689.73 L97.48,687.77 L96.98,686.90 L93.83,688.44ZM93.83,689.73 L96.98,691.27 L97.48,690.40 L94.57,688.44ZM93.46,689.08 L93.70,692.58 L94.70,692.58 L94.94,689.08ZM93.83,688.44 L90.92,690.40 L91.42,691.27 L94.57,689.73ZM94.57,688.44 L91.42,686.90 L90.92,687.77 L93.83,689.73Z" fill="#000" stroke="#000" stroke-width="0.25" />
<path d="M94.94,699.72 L94.70,696.22 L93.70,696.22 L93.46,699.72ZM94.57,700.37 L97.48,698.41 L96.98,697.54 L93.83,699.08ZM93.83,700.37 L96.98,701.91 L97.48,701.04 L94.57,699.08ZM93.46,699.72 L93.70,703.22 L94.70,703.22 L94.94,699.72ZM93.83,699.08 L90.92,701.04 L91.42,701.91 L94.57,700.37ZM94.57,699.08 L91.42,697.54 L90.92,698.41 L93.83,700.37Z" fill="#000" stroke="#000" stroke-width="0.25" />
<path d="M133.34,699.72 L133.10,696.22 L132.10,696.22 L131.86,699.72ZM132.97,700.37 L135.88,698.41 L135.38,697.54 L132.23,699.08ZM132.23,700.37 L135.38,701.91 L135.88,701.04 L132.97,699.08ZM131.86,699.72 L132.10,703.22 L133.10,703.22 L133.34,699.72ZM132.23,699.08 L129.32,701.04 L129.82,701.91 L132.97,700.37ZM132.97,699.08 L129.82,697.54 L129.32,698.41 L132.23,700.37Z" fill="#000" stroke="#000" stroke-width="0.25" />
<path d="M94.94,710.36 L94.70,706.86 L93.70,706.86 L93.46,710.36ZM94.57,711.01 L97.48,709.05 L96.98,708.18 L93.83,709.72ZM93.83,711.01 L96.98,712.55 L97.48,711.68 L94.57,709.72ZM93.46,710.36 L93.70,713.86 L94.70,713.86 L94.94,710.36ZM93.83,709.72 L90.92,711.68 L91.42,712.55 L94.57,711.01ZM94.57,709.72 L91.42,708.18 L90.92,709.05 L93.83,711.01Z" fill="#000" stroke="#000" stroke-width="0.25" />
<path d="M94.94,721.00 L94.70,717.50 L93.70,717.50 L93.46,721.00ZM94.57,721.65 L97.48,719.69 L96.98,718.81 L93.83,720.36ZM93.83,721.65 L96.98,723.19 L97.48,722.31 L94.57,720.36ZM93.46,721.00 L93.70,724.50 L94.70,724.50 L94.94,721.00ZM93.83,720.36 L90.92,722.31 L91.42,723.19 L94.57,721.65ZM94.57,720.36 L91.42,718.81 L90.92,719.69 L93.83,721.65Z" fill="#000" stroke="#000" stroke-width="0.25" />
<path d="M133.34,721.00 L133.10,717.50 L132.10,717.50 L131.86,721.00ZM132.97,721.65 L135.88,719.69 L135.38,718.81 L132.23,720.36ZM132.23,721.65 L135.38,723.19 L135.88,722.31 L132.97,720.36ZM131.86,721.00 L132.10,724.50 L133.10,724.50 L133.34,721.00ZM132.23,720.36 L129.32,722.31 L129.82,723.19 L132.97,721.65ZM132.97,720.36 L129.82,718.81 L129.32,719.69 L132.23,721.65Z" fill="#000" stroke="#000" stroke-width="0.25" />
<path d="M94.94,731.64 L94.70,728.14 L93.70,728.14 L93.46,731.64ZM94.57,732.29 L97.48,730.33 L96.98,729.45 L93.83,731.00ZM93.83,732.29 L96.98,733.83 L97.48,732.95 L94.57,731.00ZM93.46,731.64 L93.70,735.14 L94.70,735.14 L94.94,731.64ZM93.83,731.00 L90.92,732.95 L91.42,733.83 L94.57,732.29ZM94.57,731.00 L91.42,729.45 L90.92,730.33 L93.83,732.29Z" fill="#000" stroke="#000" stroke-width="0.25" />
<path d="M94.94,742.28 L94.70,738.78 L93.70,738.78 L93.46,742.28ZM94.57,742.92 L97.48,740.97 L96.98,740.09 L93.83,741.64ZM93.83,742.92 L96.98,744.47 L97.48,743.59 L94.57,741.64ZM93.46,742.28 L93.70,745.78 L94.70,745.78 L94.94,742.28ZM93.83,741.64 L90.92,743.59 L91.42,744.47 L94.57,742.92ZM94.57,741.64 L91.42,740.09 L90.92,740.97 L93.83,742.92Z" fill="#000" stroke="#000" stroke-width="0.25" />
<path d="M133.34,742.28 L133.10,738.78 L132.10,738.78 L131.86,742.28ZM132.97,742.92 L135.88,740.97 L135.38,740.09 L132.23,741.64ZM132.23,742.92 L135.38,744.47 L135.88,743.59 L132.97,741.64ZM131.86,742.28 L132.10,745.78 L133.10,745.78 L133.34,742.28ZM132.23,741.64 L129.32,743.59 L129.82,744.47 L132.97,742.92ZM132.97,741.64 L129.82,740.09 L129.32,740.97 L132.23,742.92Z" fill="#000" stroke="#000" stroke-width="0.25" />
<text x="0.00" y="0.00" font-size="8.9" fill="#111" font-weight="normal" text-anchor="start" transform="translate(48.2,339.8) rotate(-10)">Transcirptome</text>
<text x="0.00" y="0.00" font-size="8.9" fill="#111" font-weight="normal" text-anchor="start" transform="translate(91.8,340.5) rotate(-10)">Translatome</text>
<text x="0.00" y="0.00" font-size="8.9" fill="#111" font-weight="normal" text-anchor="start" transform="translate(133,340.5) rotate(-10)">Polysome</text>
<defs><linearGradient id="cb" x1="0" x2="1" y1="0" y2="0"><stop offset="0" stop-color="#a4a4f6"/><stop offset="0.25" stop-color="#f4f4fe"/><stop offset="0.32" stop-color="#ffffff"/><stop offset="0.45" stop-color="#fcd0d0"/><stop offset="0.66" stop-color="#f03232"/><stop offset="1" stop-color="#c60000"/></linearGradient></defs>
<rect x="76.10" y="758.90" width="72.90" height="9.70" fill="url(#cb)" stroke="none" stroke-width="1" />
<text x="38.50" y="766.70" font-size="10.1" fill="#111" font-weight="normal" text-anchor="start" >Log<tspan font-size="6.5" dy="1.5">2</tspan><tspan dy="-1.5">FC</tspan></text>
<text x="80.10" y="776.60" font-size="10" fill="#111" font-weight="normal" text-anchor="middle" >-0.5</text>
<text x="99.50" y="776.60" font-size="10" fill="#111" font-weight="normal" text-anchor="middle" >0</text>
<text x="124.60" y="776.60" font-size="10" fill="#111" font-weight="normal" text-anchor="middle" >1</text>
<text x="149.20" y="776.60" font-size="10" fill="#111" font-weight="normal" text-anchor="middle" >2</text>
<text x="239.00" y="318.00" font-size="16.5" fill="#000" font-weight="bold" text-anchor="start" >f</text>
<rect x="276.55" y="389.28" width="8.60" height="10.12" fill="none" stroke="#2a9cb6" stroke-width="1.5" />
<rect x="286.65" y="384.73" width="8.60" height="14.67" fill="none" stroke="#f5a45c" stroke-width="1.5" />
<line x1="280.85" y1="389.28" x2="280.85" y2="388.27" stroke="#2a9cb6" stroke-width="0.9" />
<line x1="278.65" y1="388.27" x2="283.05" y2="388.27" stroke="#2a9cb6" stroke-width="0.9" />
<line x1="290.95" y1="384.73" x2="290.95" y2="383.21" stroke="#f5a45c" stroke-width="0.9" />
<line x1="288.75" y1="383.21" x2="293.15" y2="383.21" stroke="#f5a45c" stroke-width="0.9" />
<circle cx="278.49" cy="389.18" r="1.80" fill="#fff" stroke="#2a9cb6" stroke-width="1.0" />
<circle cx="283.31" cy="391.18" r="1.80" fill="#fff" stroke="#2a9cb6" stroke-width="1.0" />
<circle cx="280.86" cy="391.92" r="1.80" fill="#fff" stroke="#2a9cb6" stroke-width="1.0" />
<circle cx="277.95" cy="387.49" r="1.80" fill="#fff" stroke="#2a9cb6" stroke-width="1.0" />
<circle cx="283.53" cy="392.73" r="1.80" fill="#fff" stroke="#2a9cb6" stroke-width="1.0" />
<circle cx="280.85" cy="391.27" r="1.80" fill="#fff" stroke="#2a9cb6" stroke-width="1.0" />
<circle cx="287.90" cy="380.17" r="1.80" fill="#fff" stroke="#f5a45c" stroke-width="1.0" />
<circle cx="293.86" cy="384.00" r="1.80" fill="#fff" stroke="#f5a45c" stroke-width="1.0" />
<circle cx="291.18" cy="387.22" r="1.80" fill="#fff" stroke="#f5a45c" stroke-width="1.0" />
<circle cx="288.28" cy="383.62" r="1.80" fill="#fff" stroke="#f5a45c" stroke-width="1.0" />
<circle cx="293.23" cy="385.18" r="1.80" fill="#fff" stroke="#f5a45c" stroke-width="1.0" />
<circle cx="291.38" cy="384.60" r="1.80" fill="#fff" stroke="#f5a45c" stroke-width="1.0" />
<line x1="285.90" y1="399.40" x2="285.90" y2="401.90" stroke="#111" stroke-width="1" />
<text x="0.00" y="0.00" font-size="9.4" fill="#111" font-weight="normal" text-anchor="end" transform="translate(296.00,409.70) rotate(-20)">Timm10b</text>
<line x1="280.30" y1="377.44" x2="291.50" y2="377.44" stroke="#444" stroke-width="1.2" />
<path d="M282.19,371.74 L281.92,367.84 L280.78,367.84 L280.51,371.74ZM281.77,372.46 L285.01,370.28 L284.44,369.30 L280.93,371.01ZM280.93,372.46 L284.44,374.18 L285.01,373.20 L281.77,371.01ZM280.51,371.74 L280.78,375.64 L281.92,375.64 L282.19,371.74ZM280.93,371.01 L277.69,373.20 L278.26,374.18 L281.77,372.46ZM281.77,371.01 L278.26,369.30 L277.69,370.28 L280.93,372.46Z" fill="#000" stroke="#000" stroke-width="0.25" />
<path d="M291.29,371.74 L291.02,367.84 L289.88,367.84 L289.61,371.74ZM290.87,372.46 L294.11,370.28 L293.54,369.30 L290.03,371.01ZM290.03,372.46 L293.54,374.18 L294.11,373.20 L290.87,371.01ZM289.61,371.74 L289.88,375.64 L291.02,375.64 L291.29,371.74ZM290.03,371.01 L286.79,373.20 L287.36,374.18 L290.87,372.46ZM290.87,371.01 L287.36,369.30 L286.79,370.28 L290.03,372.46Z" fill="#000" stroke="#000" stroke-width="0.25" />
<rect x="301.85" y="389.28" width="8.60" height="10.12" fill="none" stroke="#2a9cb6" stroke-width="1.5" />
<rect x="311.95" y="383.21" width="8.60" height="16.19" fill="none" stroke="#f5a45c" stroke-width="1.5" />
<line x1="306.15" y1="389.28" x2="306.15" y2="388.27" stroke="#2a9cb6" stroke-width="0.9" />
<line x1="303.95" y1="388.27" x2="308.35" y2="388.27" stroke="#2a9cb6" stroke-width="0.9" />
<line x1="316.25" y1="383.21" x2="316.25" y2="381.69" stroke="#f5a45c" stroke-width="0.9" />
<line x1="314.05" y1="381.69" x2="318.45" y2="381.69" stroke="#f5a45c" stroke-width="0.9" />
<circle cx="303.08" cy="387.50" r="1.80" fill="#fff" stroke="#2a9cb6" stroke-width="1.0" />
<circle cx="308.61" cy="391.81" r="1.80" fill="#fff" stroke="#2a9cb6" stroke-width="1.0" />
<circle cx="306.15" cy="391.79" r="1.80" fill="#fff" stroke="#2a9cb6" stroke-width="1.0" />
<circle cx="303.74" cy="388.45" r="1.80" fill="#fff" stroke="#2a9cb6" stroke-width="1.0" />
<circle cx="308.44" cy="385.87" r="1.80" fill="#fff" stroke="#2a9cb6" stroke-width="1.0" />
<circle cx="306.08" cy="388.67" r="1.80" fill="#fff" stroke="#2a9cb6" stroke-width="1.0" />
<circle cx="313.63" cy="379.16" r="1.80" fill="#fff" stroke="#f5a45c" stroke-width="1.0" />
<circle cx="319.37" cy="379.51" r="1.80" fill="#fff" stroke="#f5a45c" stroke-width="1.0" />
<circle cx="316.22" cy="383.75" r="1.80" fill="#fff" stroke="#f5a45c" stroke-width="1.0" />
<circle cx="313.27" cy="384.11" r="1.80" fill="#fff" stroke="#f5a45c" stroke-width="1.0" />
<circle cx="318.74" cy="383.58" r="1.80" fill="#fff" stroke="#f5a45c" stroke-width="1.0" />
<circle cx="316.72" cy="384.19" r="1.80" fill="#fff" stroke="#f5a45c" stroke-width="1.0" />
<line x1="311.20" y1="399.40" x2="311.20" y2="401.90" stroke="#111" stroke-width="1" />
<text x="0.00" y="0.00" font-size="9.4" fill="#111" font-weight="normal" text-anchor="end" transform="translate(321.30,409.70) rotate(-20)">Timm13</text>
<line x1="305.60" y1="376.12" x2="316.80" y2="376.12" stroke="#444" stroke-width="1.2" />
<path d="M302.94,370.42 L302.67,366.52 L301.53,366.52 L301.26,370.42ZM302.52,371.15 L305.76,368.97 L305.19,367.98 L301.68,369.70ZM301.68,371.15 L305.19,372.87 L305.76,371.88 L302.52,369.70ZM301.26,370.42 L301.53,374.32 L302.67,374.32 L302.94,370.42ZM301.68,369.70 L298.44,371.88 L299.01,372.87 L302.52,371.15ZM302.52,369.70 L299.01,367.98 L298.44,368.97 L301.68,371.15Z" fill="#000" stroke="#000" stroke-width="0.25" />
<path d="M312.04,370.42 L311.77,366.52 L310.63,366.52 L310.36,370.42ZM311.62,371.15 L314.86,368.97 L314.29,367.98 L310.78,369.70ZM310.78,371.15 L314.29,372.87 L314.86,371.88 L311.62,369.70ZM310.36,370.42 L310.63,374.32 L311.77,374.32 L312.04,370.42ZM310.78,369.70 L307.54,371.88 L308.11,372.87 L311.62,371.15ZM311.62,369.70 L308.11,367.98 L307.54,368.97 L310.78,371.15Z" fill="#000" stroke="#000" stroke-width="0.25" />
<path d="M321.14,370.42 L320.87,366.52 L319.73,366.52 L319.46,370.42ZM320.72,371.15 L323.96,368.97 L323.39,367.98 L319.88,369.70ZM319.88,371.15 L323.39,372.87 L323.96,371.88 L320.72,369.70ZM319.46,370.42 L319.73,374.32 L320.87,374.32 L321.14,370.42ZM319.88,369.70 L316.64,371.88 L317.21,372.87 L320.72,371.15ZM320.72,369.70 L317.21,367.98 L316.64,368.97 L319.88,371.15Z" fill="#000" stroke="#000" stroke-width="0.25" />
<rect x="327.15" y="389.28" width="8.60" height="10.12" fill="none" stroke="#2a9cb6" stroke-width="1.5" />
<rect x="337.25" y="381.69" width="8.60" height="17.71" fill="none" stroke="#f5a45c" stroke-width="1.5" />
<line x1="331.45" y1="389.28" x2="331.45" y2="388.27" stroke="#2a9cb6" stroke-width="0.9" />
<line x1="329.25" y1="388.27" x2="333.65" y2="388.27" stroke="#2a9cb6" stroke-width="0.9" />
<line x1="341.55" y1="381.69" x2="341.55" y2="379.67" stroke="#f5a45c" stroke-width="0.9" />
<line x1="339.35" y1="379.67" x2="343.75" y2="379.67" stroke="#f5a45c" stroke-width="0.9" />
<circle cx="329.21" cy="388.69" r="1.80" fill="#fff" stroke="#2a9cb6" stroke-width="1.0" />
<circle cx="333.73" cy="389.48" r="1.80" fill="#fff" stroke="#2a9cb6" stroke-width="1.0" />
<circle cx="331.79" cy="389.52" r="1.80" fill="#fff" stroke="#2a9cb6" stroke-width="1.0" />
<circle cx="328.56" cy="391.98" r="1.80" fill="#fff" stroke="#2a9cb6" stroke-width="1.0" />
<circle cx="334.26" cy="391.16" r="1.80" fill="#fff" stroke="#2a9cb6" stroke-width="1.0" />
<circle cx="331.11" cy="390.77" r="1.80" fill="#fff" stroke="#2a9cb6" stroke-width="1.0" />
<circle cx="338.50" cy="376.12" r="1.80" fill="#fff" stroke="#f5a45c" stroke-width="1.0" />
<circle cx="344.46" cy="382.43" r="1.80" fill="#fff" stroke="#f5a45c" stroke-width="1.0" />
<circle cx="341.66" cy="383.58" r="1.80" fill="#fff" stroke="#f5a45c" stroke-width="1.0" />
<circle cx="338.92" cy="380.01" r="1.80" fill="#fff" stroke="#f5a45c" stroke-width="1.0" />
<circle cx="343.79" cy="384.18" r="1.80" fill="#fff" stroke="#f5a45c" stroke-width="1.0" />
<circle cx="341.57" cy="382.17" r="1.80" fill="#fff" stroke="#f5a45c" stroke-width="1.0" />
<line x1="336.50" y1="399.40" x2="336.50" y2="401.90" stroke="#111" stroke-width="1" />
<text x="0.00" y="0.00" font-size="9.4" fill="#111" font-weight="normal" text-anchor="end" transform="translate(346.60,409.70) rotate(-20)">Tomm6</text>
<line x1="330.90" y1="372.08" x2="342.10" y2="372.08" stroke="#444" stroke-width="1.2" />
<path d="M332.79,366.38 L332.52,362.48 L331.38,362.48 L331.11,366.38ZM332.37,367.10 L335.61,364.92 L335.04,363.93 L331.53,365.65ZM331.53,367.10 L335.04,368.82 L335.61,367.83 L332.37,365.65ZM331.11,366.38 L331.38,370.28 L332.52,370.28 L332.79,366.38ZM331.53,365.65 L328.29,367.83 L328.86,368.82 L332.37,367.10ZM332.37,365.65 L328.86,363.93 L328.29,364.92 L331.53,367.10Z" fill="#000" stroke="#000" stroke-width="0.25" />
<path d="M341.89,366.38 L341.62,362.48 L340.48,362.48 L340.21,366.38ZM341.47,367.10 L344.71,364.92 L344.14,363.93 L340.63,365.65ZM340.63,367.10 L344.14,368.82 L344.71,367.83 L341.47,365.65ZM340.21,366.38 L340.48,370.28 L341.62,370.28 L341.89,366.38ZM340.63,365.65 L337.39,367.83 L337.96,368.82 L341.47,367.10ZM341.47,365.65 L337.96,363.93 L337.39,364.92 L340.63,367.10Z" fill="#000" stroke="#000" stroke-width="0.25" />
<rect x="352.45" y="389.28" width="8.60" height="10.12" fill="none" stroke="#2a9cb6" stroke-width="1.5" />
<rect x="362.55" y="384.73" width="8.60" height="14.67" fill="none" stroke="#f5a45c" stroke-width="1.5" />
<line x1="356.75" y1="389.28" x2="356.75" y2="388.27" stroke="#2a9cb6" stroke-width="0.9" />
<line x1="354.55" y1="388.27" x2="358.95" y2="388.27" stroke="#2a9cb6" stroke-width="0.9" />
<line x1="366.85" y1="384.73" x2="366.85" y2="383.21" stroke="#f5a45c" stroke-width="0.9" />
<line x1="364.65" y1="383.21" x2="369.05" y2="383.21" stroke="#f5a45c" stroke-width="0.9" />
<circle cx="353.79" cy="390.96" r="1.80" fill="#fff" stroke="#2a9cb6" stroke-width="1.0" />
<circle cx="359.55" cy="389.76" r="1.80" fill="#fff" stroke="#2a9cb6" stroke-width="1.0" />
<circle cx="356.88" cy="389.01" r="1.80" fill="#fff" stroke="#2a9cb6" stroke-width="1.0" />
<circle cx="354.39" cy="389.16" r="1.80" fill="#fff" stroke="#2a9cb6" stroke-width="1.0" />
<circle cx="359.21" cy="388.69" r="1.80" fill="#fff" stroke="#2a9cb6" stroke-width="1.0" />
<circle cx="356.72" cy="383.30" r="1.80" fill="#fff" stroke="#2a9cb6" stroke-width="1.0" />
<circle cx="364.63" cy="380.17" r="1.80" fill="#fff" stroke="#f5a45c" stroke-width="1.0" />
<circle cx="369.78" cy="384.07" r="1.80" fill="#fff" stroke="#f5a45c" stroke-width="1.0" />
<circle cx="366.56" cy="382.91" r="1.80" fill="#fff" stroke="#f5a45c" stroke-width="1.0" />
<circle cx="363.77" cy="383.75" r="1.80" fill="#fff" stroke="#f5a45c" stroke-width="1.0" />
<circle cx="369.43" cy="382.36" r="1.80" fill="#fff" stroke="#f5a45c" stroke-width="1.0" />
<circle cx="366.47" cy="386.69" r="1.80" fill="#fff" stroke="#f5a45c" stroke-width="1.0" />
<line x1="361.80" y1="399.40" x2="361.80" y2="401.90" stroke="#111" stroke-width="1" />
<text x="0.00" y="0.00" font-size="9.4" fill="#111" font-weight="normal" text-anchor="end" transform="translate(371.90,409.70) rotate(-20)">Tomm40L</text>
<line x1="356.20" y1="377.64" x2="367.40" y2="377.64" stroke="#444" stroke-width="1.2" />
<path d="M358.09,371.94 L357.82,368.04 L356.68,368.04 L356.41,371.94ZM357.67,372.67 L360.91,370.48 L360.34,369.50 L356.83,371.22ZM356.83,372.67 L360.34,374.38 L360.91,373.40 L357.67,371.22ZM356.41,371.94 L356.68,375.84 L357.82,375.84 L358.09,371.94ZM356.83,371.22 L353.59,373.40 L354.16,374.38 L357.67,372.67ZM357.67,371.22 L354.16,369.50 L353.59,370.48 L356.83,372.67Z" fill="#000" stroke="#000" stroke-width="0.25" />
<path d="M367.19,371.94 L366.92,368.04 L365.78,368.04 L365.51,371.94ZM366.77,372.67 L370.01,370.48 L369.44,369.50 L365.93,371.22ZM365.93,372.67 L369.44,374.38 L370.01,373.40 L366.77,371.22ZM365.51,371.94 L365.78,375.84 L366.92,375.84 L367.19,371.94ZM365.93,371.22 L362.69,373.40 L363.26,374.38 L366.77,372.67ZM366.77,371.22 L363.26,369.50 L362.69,370.48 L365.93,372.67Z" fill="#000" stroke="#000" stroke-width="0.25" />
<rect x="377.75" y="389.28" width="8.60" height="10.12" fill="none" stroke="#2a9cb6" stroke-width="1.5" />
<rect x="387.85" y="378.15" width="8.60" height="21.25" fill="none" stroke="#f5a45c" stroke-width="1.5" />
<line x1="382.05" y1="389.28" x2="382.05" y2="388.27" stroke="#2a9cb6" stroke-width="0.9" />
<line x1="379.85" y1="388.27" x2="384.25" y2="388.27" stroke="#2a9cb6" stroke-width="0.9" />
<line x1="392.15" y1="378.15" x2="392.15" y2="371.57" stroke="#f5a45c" stroke-width="0.9" />
<line x1="389.95" y1="371.57" x2="394.35" y2="371.57" stroke="#f5a45c" stroke-width="0.9" />
<circle cx="379.09" cy="387.82" r="1.80" fill="#fff" stroke="#2a9cb6" stroke-width="1.0" />
<circle cx="384.40" cy="388.18" r="1.80" fill="#fff" stroke="#2a9cb6" stroke-width="1.0" />
<circle cx="381.62" cy="392.60" r="1.80" fill="#fff" stroke="#2a9cb6" stroke-width="1.0" />
<circle cx="379.65" cy="386.92" r="1.80" fill="#fff" stroke="#2a9cb6" stroke-width="1.0" />
<circle cx="385.02" cy="388.88" r="1.80" fill="#fff" stroke="#2a9cb6" stroke-width="1.0" />
<circle cx="381.83" cy="387.06" r="1.80" fill="#fff" stroke="#2a9cb6" stroke-width="1.0" />
<circle cx="389.91" cy="349.81" r="1.80" fill="#fff" stroke="#f5a45c" stroke-width="1.0" />
<circle cx="394.58" cy="385.07" r="1.80" fill="#fff" stroke="#f5a45c" stroke-width="1.0" />
<circle cx="391.98" cy="380.57" r="1.80" fill="#fff" stroke="#f5a45c" stroke-width="1.0" />
<circle cx="388.97" cy="388.61" r="1.80" fill="#fff" stroke="#f5a45c" stroke-width="1.0" />
<circle cx="394.52" cy="375.80" r="1.80" fill="#fff" stroke="#f5a45c" stroke-width="1.0" />
<circle cx="392.31" cy="379.96" r="1.80" fill="#fff" stroke="#f5a45c" stroke-width="1.0" />
<line x1="387.10" y1="399.40" x2="387.10" y2="401.90" stroke="#111" stroke-width="1" />
<text x="0.00" y="0.00" font-size="9.4" fill="#111" font-weight="normal" text-anchor="end" transform="translate(397.20,409.70) rotate(-20)">mt-Nd1</text>
<line x1="381.50" y1="345.76" x2="392.70" y2="345.76" stroke="#444" stroke-width="1.2" />
<path d="M383.39,340.06 L383.12,336.16 L381.98,336.16 L381.71,340.06ZM382.97,340.79 L386.21,338.61 L385.64,337.62 L382.13,339.34ZM382.13,340.79 L385.64,342.51 L386.21,341.52 L382.97,339.34ZM381.71,340.06 L381.98,343.96 L383.12,343.96 L383.39,340.06ZM382.13,339.34 L378.89,341.52 L379.46,342.51 L382.97,340.79ZM382.97,339.34 L379.46,337.62 L378.89,338.61 L382.13,340.79Z" fill="#000" stroke="#000" stroke-width="0.25" />
<path d="M392.49,340.06 L392.22,336.16 L391.08,336.16 L390.81,340.06ZM392.07,340.79 L395.31,338.61 L394.74,337.62 L391.23,339.34ZM391.23,340.79 L394.74,342.51 L395.31,341.52 L392.07,339.34ZM390.81,340.06 L391.08,343.96 L392.22,343.96 L392.49,340.06ZM391.23,339.34 L387.99,341.52 L388.56,342.51 L392.07,340.79ZM392.07,339.34 L388.56,337.62 L387.99,338.61 L391.23,340.79Z" fill="#000" stroke="#000" stroke-width="0.25" />
<rect x="403.05" y="389.28" width="8.60" height="10.12" fill="none" stroke="#2a9cb6" stroke-width="1.5" />
<rect x="413.15" y="377.14" width="8.60" height="22.26" fill="none" stroke="#f5a45c" stroke-width="1.5" />
<line x1="407.35" y1="389.28" x2="407.35" y2="388.27" stroke="#2a9cb6" stroke-width="0.9" />
<line x1="405.15" y1="388.27" x2="409.55" y2="388.27" stroke="#2a9cb6" stroke-width="0.9" />
<line x1="417.45" y1="377.14" x2="417.45" y2="373.59" stroke="#f5a45c" stroke-width="0.9" />
<line x1="415.25" y1="373.59" x2="419.65" y2="373.59" stroke="#f5a45c" stroke-width="0.9" />
<circle cx="404.77" cy="389.45" r="1.80" fill="#fff" stroke="#2a9cb6" stroke-width="1.0" />
<circle cx="410.49" cy="392.52" r="1.80" fill="#fff" stroke="#2a9cb6" stroke-width="1.0" />
<circle cx="407.59" cy="388.89" r="1.80" fill="#fff" stroke="#2a9cb6" stroke-width="1.0" />
<circle cx="404.62" cy="389.49" r="1.80" fill="#fff" stroke="#2a9cb6" stroke-width="1.0" />
<circle cx="410.49" cy="391.60" r="1.80" fill="#fff" stroke="#2a9cb6" stroke-width="1.0" />
<circle cx="406.96" cy="392.43" r="1.80" fill="#fff" stroke="#2a9cb6" stroke-width="1.0" />
<circle cx="415.13" cy="366.00" r="1.80" fill="#fff" stroke="#f5a45c" stroke-width="1.0" />
<circle cx="420.60" cy="372.56" r="1.80" fill="#fff" stroke="#f5a45c" stroke-width="1.0" />
<circle cx="417.26" cy="376.81" r="1.80" fill="#fff" stroke="#f5a45c" stroke-width="1.0" />
<circle cx="414.41" cy="379.99" r="1.80" fill="#fff" stroke="#f5a45c" stroke-width="1.0" />
<circle cx="420.00" cy="377.12" r="1.80" fill="#fff" stroke="#f5a45c" stroke-width="1.0" />
<circle cx="417.61" cy="378.94" r="1.80" fill="#fff" stroke="#f5a45c" stroke-width="1.0" />
<line x1="412.40" y1="399.40" x2="412.40" y2="401.90" stroke="#111" stroke-width="1" />
<text x="0.00" y="0.00" font-size="9.4" fill="#111" font-weight="normal" text-anchor="end" transform="translate(422.50,409.70) rotate(-20)">mt-Nd4</text>
<line x1="406.80" y1="361.96" x2="418.00" y2="361.96" stroke="#444" stroke-width="1.2" />
<path d="M408.69,356.26 L408.42,352.36 L407.28,352.36 L407.01,356.26ZM408.27,356.98 L411.51,354.80 L410.94,353.81 L407.43,355.53ZM407.43,356.98 L410.94,358.70 L411.51,357.71 L408.27,355.53ZM407.01,356.26 L407.28,360.16 L408.42,360.16 L408.69,356.26ZM407.43,355.53 L404.19,357.71 L404.76,358.70 L408.27,356.98ZM408.27,355.53 L404.76,353.81 L404.19,354.80 L407.43,356.98Z" fill="#000" stroke="#000" stroke-width="0.25" />
<path d="M417.79,356.26 L417.52,352.36 L416.38,352.36 L416.11,356.26ZM417.37,356.98 L420.61,354.80 L420.04,353.81 L416.53,355.53ZM416.53,356.98 L420.04,358.70 L420.61,357.71 L417.37,355.53ZM416.11,356.26 L416.38,360.16 L417.52,360.16 L417.79,356.26ZM416.53,355.53 L413.29,357.71 L413.86,358.70 L417.37,356.98ZM417.37,355.53 L413.86,353.81 L413.29,354.80 L416.53,356.98Z" fill="#000" stroke="#000" stroke-width="0.25" />
<rect x="428.35" y="389.28" width="8.60" height="10.12" fill="none" stroke="#2a9cb6" stroke-width="1.5" />
<rect x="438.45" y="379.16" width="8.60" height="20.24" fill="none" stroke="#f5a45c" stroke-width="1.5" />
<line x1="432.65" y1="389.28" x2="432.65" y2="388.27" stroke="#2a9cb6" stroke-width="0.9" />
<line x1="430.45" y1="388.27" x2="434.85" y2="388.27" stroke="#2a9cb6" stroke-width="0.9" />
<line x1="442.75" y1="379.16" x2="442.75" y2="376.12" stroke="#f5a45c" stroke-width="0.9" />
<line x1="440.55" y1="376.12" x2="444.95" y2="376.12" stroke="#f5a45c" stroke-width="0.9" />
<circle cx="430.24" cy="388.36" r="1.80" fill="#fff" stroke="#2a9cb6" stroke-width="1.0" />
<circle cx="435.11" cy="391.17" r="1.80" fill="#fff" stroke="#2a9cb6" stroke-width="1.0" />
<circle cx="432.15" cy="390.35" r="1.80" fill="#fff" stroke="#2a9cb6" stroke-width="1.0" />
<circle cx="430.21" cy="391.03" r="1.80" fill="#fff" stroke="#2a9cb6" stroke-width="1.0" />
<circle cx="435.22" cy="389.10" r="1.80" fill="#fff" stroke="#2a9cb6" stroke-width="1.0" />
<circle cx="432.95" cy="390.72" r="1.80" fill="#fff" stroke="#2a9cb6" stroke-width="1.0" />
<circle cx="440.26" cy="366.00" r="1.80" fill="#fff" stroke="#f5a45c" stroke-width="1.0" />
<circle cx="445.89" cy="379.45" r="1.80" fill="#fff" stroke="#f5a45c" stroke-width="1.0" />
<circle cx="443.07" cy="374.52" r="1.80" fill="#fff" stroke="#f5a45c" stroke-width="1.0" />
<circle cx="440.35" cy="377.43" r="1.80" fill="#fff" stroke="#f5a45c" stroke-width="1.0" />
<circle cx="445.14" cy="376.60" r="1.80" fill="#fff" stroke="#f5a45c" stroke-width="1.0" />
<circle cx="442.70" cy="379.63" r="1.80" fill="#fff" stroke="#f5a45c" stroke-width="1.0" />
<line x1="437.70" y1="399.40" x2="437.70" y2="401.90" stroke="#111" stroke-width="1" />
<text x="0.00" y="0.00" font-size="9.4" fill="#111" font-weight="normal" text-anchor="end" transform="translate(447.80,409.70) rotate(-20)">Ndufv3</text>
<line x1="432.10" y1="361.96" x2="443.30" y2="361.96" stroke="#444" stroke-width="1.2" />
<path d="M433.99,356.26 L433.72,352.36 L432.58,352.36 L432.31,356.26ZM433.57,356.98 L436.81,354.80 L436.24,353.81 L432.73,355.53ZM432.73,356.98 L436.24,358.70 L436.81,357.71 L433.57,355.53ZM432.31,356.26 L432.58,360.16 L433.72,360.16 L433.99,356.26ZM432.73,355.53 L429.49,357.71 L430.06,358.70 L433.57,356.98ZM433.57,355.53 L430.06,353.81 L429.49,354.80 L432.73,356.98Z" fill="#000" stroke="#000" stroke-width="0.25" />
<path d="M443.09,356.26 L442.82,352.36 L441.68,352.36 L441.41,356.26ZM442.67,356.98 L445.91,354.80 L445.34,353.81 L441.83,355.53ZM441.83,356.98 L445.34,358.70 L445.91,357.71 L442.67,355.53ZM441.41,356.26 L441.68,360.16 L442.82,360.16 L443.09,356.26ZM441.83,355.53 L438.59,357.71 L439.16,358.70 L442.67,356.98ZM442.67,355.53 L439.16,353.81 L438.59,354.80 L441.83,356.98Z" fill="#000" stroke="#000" stroke-width="0.25" />
<rect x="453.65" y="389.28" width="8.60" height="10.12" fill="none" stroke="#2a9cb6" stroke-width="1.5" />
<rect x="463.75" y="380.68" width="8.60" height="18.72" fill="none" stroke="#f5a45c" stroke-width="1.5" />
<line x1="457.95" y1="389.28" x2="457.95" y2="388.27" stroke="#2a9cb6" stroke-width="0.9" />
<line x1="455.75" y1="388.27" x2="460.15" y2="388.27" stroke="#2a9cb6" stroke-width="0.9" />
<line x1="468.05" y1="380.68" x2="468.05" y2="378.15" stroke="#f5a45c" stroke-width="0.9" />
<line x1="465.85" y1="378.15" x2="470.25" y2="378.15" stroke="#f5a45c" stroke-width="0.9" />
<circle cx="455.07" cy="387.74" r="1.80" fill="#fff" stroke="#2a9cb6" stroke-width="1.0" />
<circle cx="460.22" cy="387.13" r="1.80" fill="#fff" stroke="#2a9cb6" stroke-width="1.0" />
<circle cx="457.99" cy="389.70" r="1.80" fill="#fff" stroke="#2a9cb6" stroke-width="1.0" />
<circle cx="455.26" cy="388.81" r="1.80" fill="#fff" stroke="#2a9cb6" stroke-width="1.0" />
<circle cx="460.19" cy="389.91" r="1.80" fill="#fff" stroke="#2a9cb6" stroke-width="1.0" />
<circle cx="457.54" cy="389.00" r="1.80" fill="#fff" stroke="#2a9cb6" stroke-width="1.0" />
<circle cx="465.10" cy="373.09" r="1.80" fill="#fff" stroke="#f5a45c" stroke-width="1.0" />
<circle cx="470.91" cy="383.66" r="1.80" fill="#fff" stroke="#f5a45c" stroke-width="1.0" />
<circle cx="468.03" cy="381.13" r="1.80" fill="#fff" stroke="#f5a45c" stroke-width="1.0" />
<circle cx="465.85" cy="379.52" r="1.80" fill="#fff" stroke="#f5a45c" stroke-width="1.0" />
<circle cx="471.00" cy="380.68" r="1.80" fill="#fff" stroke="#f5a45c" stroke-width="1.0" />
<circle cx="468.26" cy="377.62" r="1.80" fill="#fff" stroke="#f5a45c" stroke-width="1.0" />
<line x1="463.00" y1="399.40" x2="463.00" y2="401.90" stroke="#111" stroke-width="1" />
<text x="0.00" y="0.00" font-size="9.4" fill="#111" font-weight="normal" text-anchor="end" transform="translate(473.10,409.70) rotate(-20)">Ndufaf8</text>
<line x1="457.40" y1="369.04" x2="468.60" y2="369.04" stroke="#444" stroke-width="1.2" />
<path d="M459.29,363.34 L459.02,359.44 L457.88,359.44 L457.61,363.34ZM458.87,364.06 L462.11,361.88 L461.54,360.90 L458.03,362.62ZM458.03,364.06 L461.54,365.78 L462.11,364.80 L458.87,362.62ZM457.61,363.34 L457.88,367.24 L459.02,367.24 L459.29,363.34ZM458.03,362.62 L454.79,364.80 L455.36,365.78 L458.87,364.06ZM458.87,362.62 L455.36,360.90 L454.79,361.88 L458.03,364.06Z" fill="#000" stroke="#000" stroke-width="0.25" />
<path d="M468.39,363.34 L468.12,359.44 L466.98,359.44 L466.71,363.34ZM467.97,364.06 L471.21,361.88 L470.64,360.90 L467.13,362.62ZM467.13,364.06 L470.64,365.78 L471.21,364.80 L467.97,362.62ZM466.71,363.34 L466.98,367.24 L468.12,367.24 L468.39,363.34ZM467.13,362.62 L463.89,364.80 L464.46,365.78 L467.97,364.06ZM467.97,362.62 L464.46,360.90 L463.89,361.88 L467.13,364.06Z" fill="#000" stroke="#000" stroke-width="0.25" />
<rect x="478.95" y="389.28" width="8.60" height="10.12" fill="none" stroke="#2a9cb6" stroke-width="1.5" />
<rect x="489.05" y="382.70" width="8.60" height="16.70" fill="none" stroke="#f5a45c" stroke-width="1.5" />
<line x1="483.25" y1="389.28" x2="483.25" y2="388.27" stroke="#2a9cb6" stroke-width="0.9" />
<line x1="481.05" y1="388.27" x2="485.45" y2="388.27" stroke="#2a9cb6" stroke-width="0.9" />
<line x1="493.35" y1="382.70" x2="493.35" y2="380.17" stroke="#f5a45c" stroke-width="0.9" />
<line x1="491.15" y1="380.17" x2="495.55" y2="380.17" stroke="#f5a45c" stroke-width="0.9" />
<circle cx="480.28" cy="388.36" r="1.80" fill="#fff" stroke="#2a9cb6" stroke-width="1.0" />
<circle cx="486.15" cy="389.50" r="1.80" fill="#fff" stroke="#2a9cb6" stroke-width="1.0" />
<circle cx="482.84" cy="389.17" r="1.80" fill="#fff" stroke="#2a9cb6" stroke-width="1.0" />
<circle cx="480.26" cy="382.44" r="1.80" fill="#fff" stroke="#2a9cb6" stroke-width="1.0" />
<circle cx="486.09" cy="391.22" r="1.80" fill="#fff" stroke="#2a9cb6" stroke-width="1.0" />
<circle cx="483.24" cy="388.77" r="1.80" fill="#fff" stroke="#2a9cb6" stroke-width="1.0" />
<circle cx="490.28" cy="369.04" r="1.80" fill="#fff" stroke="#f5a45c" stroke-width="1.0" />
<circle cx="495.94" cy="387.00" r="1.80" fill="#fff" stroke="#f5a45c" stroke-width="1.0" />
<circle cx="493.13" cy="382.39" r="1.80" fill="#fff" stroke="#f5a45c" stroke-width="1.0" />
<circle cx="490.36" cy="381.82" r="1.80" fill="#fff" stroke="#f5a45c" stroke-width="1.0" />
<circle cx="495.75" cy="381.80" r="1.80" fill="#fff" stroke="#f5a45c" stroke-width="1.0" />
<circle cx="493.04" cy="383.88" r="1.80" fill="#fff" stroke="#f5a45c" stroke-width="1.0" />
<line x1="488.30" y1="399.40" x2="488.30" y2="401.90" stroke="#111" stroke-width="1" />
<text x="0.00" y="0.00" font-size="9.4" fill="#111" font-weight="normal" text-anchor="end" transform="translate(498.40,409.70) rotate(-20)">mt-Co1</text>
<line x1="482.70" y1="363.98" x2="493.90" y2="363.98" stroke="#444" stroke-width="1.2" />
<path d="M484.59,358.28 L484.32,354.38 L483.18,354.38 L482.91,358.28ZM484.17,359.00 L487.41,356.82 L486.84,355.84 L483.33,357.56ZM483.33,359.00 L486.84,360.72 L487.41,359.74 L484.17,357.56ZM482.91,358.28 L483.18,362.18 L484.32,362.18 L484.59,358.28ZM483.33,357.56 L480.09,359.74 L480.66,360.72 L484.17,359.00ZM484.17,357.56 L480.66,355.84 L480.09,356.82 L483.33,359.00Z" fill="#000" stroke="#000" stroke-width="0.25" />
<path d="M493.69,358.28 L493.42,354.38 L492.28,354.38 L492.01,358.28ZM493.27,359.00 L496.51,356.82 L495.94,355.84 L492.43,357.56ZM492.43,359.00 L495.94,360.72 L496.51,359.74 L493.27,357.56ZM492.01,358.28 L492.28,362.18 L493.42,362.18 L493.69,358.28ZM492.43,357.56 L489.19,359.74 L489.76,360.72 L493.27,359.00ZM493.27,357.56 L489.76,355.84 L489.19,356.82 L492.43,359.00Z" fill="#000" stroke="#000" stroke-width="0.25" />
<rect x="504.25" y="389.28" width="8.60" height="10.12" fill="none" stroke="#2a9cb6" stroke-width="1.5" />
<rect x="514.35" y="363.98" width="8.60" height="35.42" fill="none" stroke="#f5a45c" stroke-width="1.5" />
<line x1="508.55" y1="389.28" x2="508.55" y2="388.27" stroke="#2a9cb6" stroke-width="0.9" />
<line x1="506.35" y1="388.27" x2="510.75" y2="388.27" stroke="#2a9cb6" stroke-width="0.9" />
<line x1="518.65" y1="363.98" x2="518.65" y2="354.87" stroke="#f5a45c" stroke-width="0.9" />
<line x1="516.45" y1="354.87" x2="520.85" y2="354.87" stroke="#f5a45c" stroke-width="0.9" />
<circle cx="505.81" cy="389.98" r="1.80" fill="#fff" stroke="#2a9cb6" stroke-width="1.0" />
<circle cx="511.62" cy="388.57" r="1.80" fill="#fff" stroke="#2a9cb6" stroke-width="1.0" />
<circle cx="508.06" cy="393.17" r="1.80" fill="#fff" stroke="#2a9cb6" stroke-width="1.0" />
<circle cx="505.43" cy="389.35" r="1.80" fill="#fff" stroke="#2a9cb6" stroke-width="1.0" />
<circle cx="511.30" cy="389.67" r="1.80" fill="#fff" stroke="#2a9cb6" stroke-width="1.0" />
<circle cx="508.43" cy="389.63" r="1.80" fill="#fff" stroke="#2a9cb6" stroke-width="1.0" />
<circle cx="515.73" cy="323.50" r="1.80" fill="#fff" stroke="#f5a45c" stroke-width="1.0" />
<circle cx="520.95" cy="361.37" r="1.80" fill="#fff" stroke="#f5a45c" stroke-width="1.0" />
<circle cx="518.65" cy="353.83" r="1.80" fill="#fff" stroke="#f5a45c" stroke-width="1.0" />
<circle cx="515.97" cy="366.83" r="1.80" fill="#fff" stroke="#f5a45c" stroke-width="1.0" />
<circle cx="521.64" cy="370.25" r="1.80" fill="#fff" stroke="#f5a45c" stroke-width="1.0" />
<circle cx="518.99" cy="361.99" r="1.80" fill="#fff" stroke="#f5a45c" stroke-width="1.0" />
<line x1="513.60" y1="399.40" x2="513.60" y2="401.90" stroke="#111" stroke-width="1" />
<text x="0.00" y="0.00" font-size="9.4" fill="#111" font-weight="normal" text-anchor="end" transform="translate(523.70,409.70) rotate(-20)">mt-Co2</text>
<line x1="508.00" y1="317.43" x2="519.20" y2="317.43" stroke="#444" stroke-width="1.2" />
<path d="M509.89,311.73 L509.62,307.83 L508.48,307.83 L508.21,311.73ZM509.47,312.45 L512.71,310.27 L512.14,309.29 L508.63,311.00ZM508.63,312.45 L512.14,314.17 L512.71,313.19 L509.47,311.00ZM508.21,311.73 L508.48,315.63 L509.62,315.63 L509.89,311.73ZM508.63,311.00 L505.39,313.19 L505.96,314.17 L509.47,312.45ZM509.47,311.00 L505.96,309.29 L505.39,310.27 L508.63,312.45Z" fill="#000" stroke="#000" stroke-width="0.25" />
<path d="M518.99,311.73 L518.72,307.83 L517.58,307.83 L517.31,311.73ZM518.57,312.45 L521.81,310.27 L521.24,309.29 L517.73,311.00ZM517.73,312.45 L521.24,314.17 L521.81,313.19 L518.57,311.00ZM517.31,311.73 L517.58,315.63 L518.72,315.63 L518.99,311.73ZM517.73,311.00 L514.49,313.19 L515.06,314.17 L518.57,312.45ZM518.57,311.00 L515.06,309.29 L514.49,310.27 L517.73,312.45Z" fill="#000" stroke="#000" stroke-width="0.25" />
<rect x="529.55" y="389.28" width="8.60" height="10.12" fill="none" stroke="#2a9cb6" stroke-width="1.5" />
<rect x="539.65" y="367.52" width="8.60" height="31.88" fill="none" stroke="#f5a45c" stroke-width="1.5" />
<line x1="533.85" y1="389.28" x2="533.85" y2="388.27" stroke="#2a9cb6" stroke-width="0.9" />
<line x1="531.65" y1="388.27" x2="536.05" y2="388.27" stroke="#2a9cb6" stroke-width="0.9" />
<line x1="543.95" y1="367.52" x2="543.95" y2="360.94" stroke="#f5a45c" stroke-width="0.9" />
<line x1="541.75" y1="360.94" x2="546.15" y2="360.94" stroke="#f5a45c" stroke-width="0.9" />
<circle cx="531.22" cy="391.44" r="1.80" fill="#fff" stroke="#2a9cb6" stroke-width="1.0" />
<circle cx="536.26" cy="388.25" r="1.80" fill="#fff" stroke="#2a9cb6" stroke-width="1.0" />
<circle cx="534.16" cy="388.10" r="1.80" fill="#fff" stroke="#2a9cb6" stroke-width="1.0" />
<circle cx="530.81" cy="391.65" r="1.80" fill="#fff" stroke="#2a9cb6" stroke-width="1.0" />
<circle cx="536.57" cy="389.93" r="1.80" fill="#fff" stroke="#2a9cb6" stroke-width="1.0" />
<circle cx="534.30" cy="388.06" r="1.80" fill="#fff" stroke="#2a9cb6" stroke-width="1.0" />
<circle cx="541.68" cy="349.81" r="1.80" fill="#fff" stroke="#f5a45c" stroke-width="1.0" />
<circle cx="546.40" cy="360.41" r="1.80" fill="#fff" stroke="#f5a45c" stroke-width="1.0" />
<circle cx="543.93" cy="368.62" r="1.80" fill="#fff" stroke="#f5a45c" stroke-width="1.0" />
<circle cx="540.82" cy="360.20" r="1.80" fill="#fff" stroke="#f5a45c" stroke-width="1.0" />
<circle cx="546.57" cy="368.20" r="1.80" fill="#fff" stroke="#f5a45c" stroke-width="1.0" />
<circle cx="544.27" cy="365.97" r="1.80" fill="#fff" stroke="#f5a45c" stroke-width="1.0" />
<line x1="538.90" y1="399.40" x2="538.90" y2="401.90" stroke="#111" stroke-width="1" />
<text x="0.00" y="0.00" font-size="9.4" fill="#111" font-weight="normal" text-anchor="end" transform="translate(549.00,409.70) rotate(-20)">mt-Cytb</text>
<line x1="533.30" y1="343.74" x2="544.50" y2="343.74" stroke="#444" stroke-width="1.2" />
<path d="M535.19,338.04 L534.92,334.14 L533.78,334.14 L533.51,338.04ZM534.77,338.76 L538.01,336.58 L537.44,335.60 L533.93,337.32ZM533.93,338.76 L537.44,340.48 L538.01,339.50 L534.77,337.32ZM533.51,338.04 L533.78,341.94 L534.92,341.94 L535.19,338.04ZM533.93,337.32 L530.69,339.50 L531.26,340.48 L534.77,338.76ZM534.77,337.32 L531.26,335.60 L530.69,336.58 L533.93,338.76Z" fill="#000" stroke="#000" stroke-width="0.25" />
<path d="M544.29,338.04 L544.02,334.14 L542.88,334.14 L542.61,338.04ZM543.87,338.76 L547.11,336.58 L546.54,335.60 L543.03,337.32ZM543.03,338.76 L546.54,340.48 L547.11,339.50 L543.87,337.32ZM542.61,338.04 L542.88,341.94 L544.02,341.94 L544.29,338.04ZM543.03,337.32 L539.79,339.50 L540.36,340.48 L543.87,338.76ZM543.87,337.32 L540.36,335.60 L539.79,336.58 L543.03,338.76Z" fill="#000" stroke="#000" stroke-width="0.25" />
<rect x="554.85" y="389.28" width="8.60" height="10.12" fill="none" stroke="#2a9cb6" stroke-width="1.5" />
<rect x="564.95" y="370.05" width="8.60" height="29.35" fill="none" stroke="#f5a45c" stroke-width="1.5" />
<line x1="559.15" y1="389.28" x2="559.15" y2="388.27" stroke="#2a9cb6" stroke-width="0.9" />
<line x1="556.95" y1="388.27" x2="561.35" y2="388.27" stroke="#2a9cb6" stroke-width="0.9" />
<line x1="569.25" y1="370.05" x2="569.25" y2="366.00" stroke="#f5a45c" stroke-width="0.9" />
<line x1="567.05" y1="366.00" x2="571.45" y2="366.00" stroke="#f5a45c" stroke-width="0.9" />
<circle cx="556.40" cy="393.13" r="1.80" fill="#fff" stroke="#2a9cb6" stroke-width="1.0" />
<circle cx="561.82" cy="390.80" r="1.80" fill="#fff" stroke="#2a9cb6" stroke-width="1.0" />
<circle cx="559.16" cy="390.27" r="1.80" fill="#fff" stroke="#2a9cb6" stroke-width="1.0" />
<circle cx="556.46" cy="389.89" r="1.80" fill="#fff" stroke="#2a9cb6" stroke-width="1.0" />
<circle cx="561.98" cy="389.06" r="1.80" fill="#fff" stroke="#2a9cb6" stroke-width="1.0" />
<circle cx="558.95" cy="390.06" r="1.80" fill="#fff" stroke="#2a9cb6" stroke-width="1.0" />
<circle cx="566.88" cy="344.25" r="1.80" fill="#fff" stroke="#f5a45c" stroke-width="1.0" />
<circle cx="571.94" cy="361.58" r="1.80" fill="#fff" stroke="#f5a45c" stroke-width="1.0" />
<circle cx="569.15" cy="371.70" r="1.80" fill="#fff" stroke="#f5a45c" stroke-width="1.0" />
<circle cx="566.24" cy="371.54" r="1.80" fill="#fff" stroke="#f5a45c" stroke-width="1.0" />
<circle cx="571.87" cy="369.36" r="1.80" fill="#fff" stroke="#f5a45c" stroke-width="1.0" />
<circle cx="569.17" cy="364.67" r="1.80" fill="#fff" stroke="#f5a45c" stroke-width="1.0" />
<line x1="564.20" y1="399.40" x2="564.20" y2="401.90" stroke="#111" stroke-width="1" />
<text x="0.00" y="0.00" font-size="9.4" fill="#111" font-weight="normal" text-anchor="end" transform="translate(574.30,409.70) rotate(-20)">mt-Atp6</text>
<line x1="558.60" y1="340.70" x2="569.80" y2="340.70" stroke="#444" stroke-width="1.2" />
<path d="M565.04,335.00 L564.77,331.10 L563.63,331.10 L563.36,335.00ZM564.62,335.73 L567.86,333.55 L567.29,332.56 L563.78,334.28ZM563.78,335.73 L567.29,337.45 L567.86,336.46 L564.62,334.28ZM563.36,335.00 L563.63,338.90 L564.77,338.90 L565.04,335.00ZM563.78,334.28 L560.54,336.46 L561.11,337.45 L564.62,335.73ZM564.62,334.28 L561.11,332.56 L560.54,333.55 L563.78,335.73Z" fill="#000" stroke="#000" stroke-width="0.25" />
<rect x="580.15" y="389.28" width="8.60" height="10.12" fill="none" stroke="#2a9cb6" stroke-width="1.5" />
<rect x="590.25" y="369.34" width="8.60" height="30.06" fill="none" stroke="#f5a45c" stroke-width="1.5" />
<line x1="584.45" y1="389.28" x2="584.45" y2="388.27" stroke="#2a9cb6" stroke-width="0.9" />
<line x1="582.25" y1="388.27" x2="586.65" y2="388.27" stroke="#2a9cb6" stroke-width="0.9" />
<line x1="594.55" y1="369.34" x2="594.55" y2="362.26" stroke="#f5a45c" stroke-width="0.9" />
<line x1="592.35" y1="362.26" x2="596.75" y2="362.26" stroke="#f5a45c" stroke-width="0.9" />
<circle cx="581.72" cy="390.76" r="1.80" fill="#fff" stroke="#2a9cb6" stroke-width="1.0" />
<circle cx="586.79" cy="391.54" r="1.80" fill="#fff" stroke="#2a9cb6" stroke-width="1.0" />
<circle cx="583.96" cy="390.31" r="1.80" fill="#fff" stroke="#2a9cb6" stroke-width="1.0" />
<circle cx="582.06" cy="388.25" r="1.80" fill="#fff" stroke="#2a9cb6" stroke-width="1.0" />
<circle cx="587.34" cy="391.15" r="1.80" fill="#fff" stroke="#2a9cb6" stroke-width="1.0" />
<circle cx="584.61" cy="390.67" r="1.80" fill="#fff" stroke="#2a9cb6" stroke-width="1.0" />
<circle cx="591.83" cy="331.60" r="1.80" fill="#fff" stroke="#f5a45c" stroke-width="1.0" />
<circle cx="597.45" cy="377.01" r="1.80" fill="#fff" stroke="#f5a45c" stroke-width="1.0" />
<circle cx="594.95" cy="369.30" r="1.80" fill="#fff" stroke="#f5a45c" stroke-width="1.0" />
<circle cx="591.57" cy="373.14" r="1.80" fill="#fff" stroke="#f5a45c" stroke-width="1.0" />
<circle cx="597.20" cy="381.96" r="1.80" fill="#fff" stroke="#f5a45c" stroke-width="1.0" />
<circle cx="594.78" cy="358.92" r="1.80" fill="#fff" stroke="#f5a45c" stroke-width="1.0" />
<line x1="589.50" y1="399.40" x2="589.50" y2="401.90" stroke="#111" stroke-width="1" />
<text x="0.00" y="0.00" font-size="9.4" fill="#111" font-weight="normal" text-anchor="end" transform="translate(599.60,409.70) rotate(-20)">mt-Atp8</text>
<line x1="583.90" y1="326.54" x2="595.10" y2="326.54" stroke="#444" stroke-width="1.2" />
<path d="M585.79,320.84 L585.52,316.94 L584.38,316.94 L584.11,320.84ZM585.37,321.56 L588.61,319.38 L588.04,318.39 L584.53,320.11ZM584.53,321.56 L588.04,323.28 L588.61,322.29 L585.37,320.11ZM584.11,320.84 L584.38,324.74 L585.52,324.74 L585.79,320.84ZM584.53,320.11 L581.29,322.29 L581.86,323.28 L585.37,321.56ZM585.37,320.11 L581.86,318.39 L581.29,319.38 L584.53,321.56Z" fill="#000" stroke="#000" stroke-width="0.25" />
<path d="M594.89,320.84 L594.62,316.94 L593.48,316.94 L593.21,320.84ZM594.47,321.56 L597.71,319.38 L597.14,318.39 L593.63,320.11ZM593.63,321.56 L597.14,323.28 L597.71,322.29 L594.47,320.11ZM593.21,320.84 L593.48,324.74 L594.62,324.74 L594.89,320.84ZM593.63,320.11 L590.39,322.29 L590.96,323.28 L594.47,321.56ZM594.47,320.11 L590.96,318.39 L590.39,319.38 L593.63,321.56Z" fill="#000" stroke="#000" stroke-width="0.25" />
<rect x="605.45" y="389.28" width="8.60" height="10.12" fill="none" stroke="#2a9cb6" stroke-width="1.5" />
<rect x="615.55" y="384.22" width="8.60" height="15.18" fill="none" stroke="#f5a45c" stroke-width="1.5" />
<line x1="609.75" y1="389.28" x2="609.75" y2="388.27" stroke="#2a9cb6" stroke-width="0.9" />
<line x1="607.55" y1="388.27" x2="611.95" y2="388.27" stroke="#2a9cb6" stroke-width="0.9" />
<line x1="619.85" y1="384.22" x2="619.85" y2="383.01" stroke="#f5a45c" stroke-width="0.9" />
<line x1="617.65" y1="383.01" x2="622.05" y2="383.01" stroke="#f5a45c" stroke-width="0.9" />
<circle cx="606.81" cy="390.37" r="1.80" fill="#fff" stroke="#2a9cb6" stroke-width="1.0" />
<circle cx="612.80" cy="391.82" r="1.80" fill="#fff" stroke="#2a9cb6" stroke-width="1.0" />
<circle cx="609.44" cy="389.15" r="1.80" fill="#fff" stroke="#2a9cb6" stroke-width="1.0" />
<circle cx="606.78" cy="388.26" r="1.80" fill="#fff" stroke="#2a9cb6" stroke-width="1.0" />
<circle cx="612.68" cy="387.75" r="1.80" fill="#fff" stroke="#2a9cb6" stroke-width="1.0" />
<circle cx="609.46" cy="387.64" r="1.80" fill="#fff" stroke="#2a9cb6" stroke-width="1.0" />
<circle cx="616.68" cy="381.69" r="1.80" fill="#fff" stroke="#f5a45c" stroke-width="1.0" />
<circle cx="622.07" cy="386.02" r="1.80" fill="#fff" stroke="#f5a45c" stroke-width="1.0" />
<circle cx="619.90" cy="384.00" r="1.80" fill="#fff" stroke="#f5a45c" stroke-width="1.0" />
<circle cx="617.50" cy="381.09" r="1.80" fill="#fff" stroke="#f5a45c" stroke-width="1.0" />
<circle cx="622.35" cy="385.67" r="1.80" fill="#fff" stroke="#f5a45c" stroke-width="1.0" />
<circle cx="619.63" cy="385.25" r="1.80" fill="#fff" stroke="#f5a45c" stroke-width="1.0" />
<line x1="614.80" y1="399.40" x2="614.80" y2="401.90" stroke="#111" stroke-width="1" />
<text x="0.00" y="0.00" font-size="9.4" fill="#111" font-weight="normal" text-anchor="end" transform="translate(624.90,409.70) rotate(-20)">Atp5k</text>
<line x1="609.20" y1="375.11" x2="620.40" y2="375.11" stroke="#444" stroke-width="1.2" />
<text x="614.80" y="372.31" font-size="8.3" fill="#111" font-weight="normal" text-anchor="middle" >0.067</text>
<line x1="270.90" y1="318.44" x2="270.90" y2="399.40" stroke="#111" stroke-width="1.1" />
<line x1="270.90" y1="399.40" x2="629.60" y2="399.40" stroke="#111" stroke-width="1.1" />
<line x1="267.90" y1="399.40" x2="270.90" y2="399.40" stroke="#111" stroke-width="1.1" />
<text x="266.70" y="403.10" font-size="10" fill="#111" font-weight="normal" text-anchor="end" >0</text>
<line x1="267.90" y1="379.16" x2="270.90" y2="379.16" stroke="#111" stroke-width="1.1" />
<text x="266.70" y="382.86" font-size="10" fill="#111" font-weight="normal" text-anchor="end" >2</text>
<line x1="267.90" y1="358.92" x2="270.90" y2="358.92" stroke="#111" stroke-width="1.1" />
<text x="266.70" y="362.62" font-size="10" fill="#111" font-weight="normal" text-anchor="end" >4</text>
<line x1="267.90" y1="338.68" x2="270.90" y2="338.68" stroke="#111" stroke-width="1.1" />
<text x="266.70" y="342.38" font-size="10" fill="#111" font-weight="normal" text-anchor="end" >6</text>
<line x1="267.90" y1="318.44" x2="270.90" y2="318.44" stroke="#111" stroke-width="1.1" />
<text x="266.70" y="322.14" font-size="10" fill="#111" font-weight="normal" text-anchor="end" >8</text>
<text x="0.00" y="0.00" font-size="10.1" fill="#111" font-weight="normal" text-anchor="middle" transform="translate(256,358.91999999999996) rotate(-90)">Relative mRNA level</text>
<text x="238.00" y="452.00" font-size="16.5" fill="#000" font-weight="bold" text-anchor="start" >g</text>
<rect x="274.05" y="523.46" width="8.60" height="13.54" fill="none" stroke="#2a9cb6" stroke-width="1.5" />
<rect x="284.15" y="504.77" width="8.60" height="32.23" fill="none" stroke="#f5a45c" stroke-width="1.5" />
<line x1="278.35" y1="523.46" x2="278.35" y2="521.84" stroke="#2a9cb6" stroke-width="0.9" />
<line x1="276.15" y1="521.84" x2="280.55" y2="521.84" stroke="#2a9cb6" stroke-width="0.9" />
<line x1="288.45" y1="504.77" x2="288.45" y2="496.65" stroke="#f5a45c" stroke-width="0.9" />
<line x1="286.25" y1="496.65" x2="290.65" y2="496.65" stroke="#f5a45c" stroke-width="0.9" />
<circle cx="275.65" cy="523.85" r="1.80" fill="#fff" stroke="#2a9cb6" stroke-width="1.0" />
<circle cx="280.79" cy="519.62" r="1.80" fill="#fff" stroke="#2a9cb6" stroke-width="1.0" />
<circle cx="278.32" cy="522.34" r="1.80" fill="#fff" stroke="#2a9cb6" stroke-width="1.0" />
<circle cx="275.47" cy="523.67" r="1.80" fill="#fff" stroke="#2a9cb6" stroke-width="1.0" />
<circle cx="281.23" cy="522.12" r="1.80" fill="#fff" stroke="#2a9cb6" stroke-width="1.0" />
<circle cx="278.68" cy="522.66" r="1.80" fill="#fff" stroke="#2a9cb6" stroke-width="1.0" />
<circle cx="285.30" cy="467.95" r="1.80" fill="#fff" stroke="#f5a45c" stroke-width="1.0" />
<circle cx="290.79" cy="493.77" r="1.80" fill="#fff" stroke="#f5a45c" stroke-width="1.0" />
<circle cx="288.81" cy="504.89" r="1.80" fill="#fff" stroke="#f5a45c" stroke-width="1.0" />
<circle cx="285.69" cy="503.67" r="1.80" fill="#fff" stroke="#f5a45c" stroke-width="1.0" />
<circle cx="290.82" cy="498.90" r="1.80" fill="#fff" stroke="#f5a45c" stroke-width="1.0" />
<circle cx="288.41" cy="504.17" r="1.80" fill="#fff" stroke="#f5a45c" stroke-width="1.0" />
<line x1="283.40" y1="537.00" x2="283.40" y2="539.50" stroke="#111" stroke-width="1" />
<text x="0.00" y="0.00" font-size="8.4" fill="#111" font-weight="normal" text-anchor="end" transform="translate(294.10,547.20) rotate(-21)">Rps12</text>
<line x1="277.80" y1="464.43" x2="289.00" y2="464.43" stroke="#444" stroke-width="1.2" />
<path d="M279.69,458.73 L279.42,454.83 L278.28,454.83 L278.01,458.73ZM279.27,459.45 L282.51,457.27 L281.94,456.28 L278.43,458.00ZM278.43,459.45 L281.94,461.17 L282.51,460.18 L279.27,458.00ZM278.01,458.73 L278.28,462.63 L279.42,462.63 L279.69,458.73ZM278.43,458.00 L275.19,460.18 L275.76,461.17 L279.27,459.45ZM279.27,458.00 L275.76,456.28 L275.19,457.27 L278.43,459.45Z" fill="#000" stroke="#000" stroke-width="0.25" />
<path d="M288.79,458.73 L288.52,454.83 L287.38,454.83 L287.11,458.73ZM288.37,459.45 L291.61,457.27 L291.04,456.28 L287.53,458.00ZM287.53,459.45 L291.04,461.17 L291.61,460.18 L288.37,458.00ZM287.11,458.73 L287.38,462.63 L288.52,462.63 L288.79,458.73ZM287.53,458.00 L284.29,460.18 L284.86,461.17 L288.37,459.45ZM288.37,458.00 L284.86,456.28 L284.29,457.27 L287.53,459.45Z" fill="#000" stroke="#000" stroke-width="0.25" />
<rect x="299.35" y="523.46" width="8.60" height="13.54" fill="none" stroke="#2a9cb6" stroke-width="1.5" />
<rect x="309.45" y="509.92" width="8.60" height="27.08" fill="none" stroke="#f5a45c" stroke-width="1.5" />
<line x1="303.65" y1="523.46" x2="303.65" y2="521.84" stroke="#2a9cb6" stroke-width="0.9" />
<line x1="301.45" y1="521.84" x2="305.85" y2="521.84" stroke="#2a9cb6" stroke-width="0.9" />
<line x1="313.75" y1="509.92" x2="313.75" y2="502.34" stroke="#f5a45c" stroke-width="0.9" />
<line x1="311.55" y1="502.34" x2="315.95" y2="502.34" stroke="#f5a45c" stroke-width="0.9" />
<circle cx="300.69" cy="525.07" r="1.80" fill="#fff" stroke="#2a9cb6" stroke-width="1.0" />
<circle cx="306.67" cy="523.48" r="1.80" fill="#fff" stroke="#2a9cb6" stroke-width="1.0" />
<circle cx="303.38" cy="529.31" r="1.80" fill="#fff" stroke="#2a9cb6" stroke-width="1.0" />
<circle cx="300.85" cy="525.46" r="1.80" fill="#fff" stroke="#2a9cb6" stroke-width="1.0" />
<circle cx="306.82" cy="523.86" r="1.80" fill="#fff" stroke="#2a9cb6" stroke-width="1.0" />
<circle cx="303.78" cy="526.85" r="1.80" fill="#fff" stroke="#2a9cb6" stroke-width="1.0" />
<circle cx="310.62" cy="481.89" r="1.80" fill="#fff" stroke="#f5a45c" stroke-width="1.0" />
<circle cx="316.23" cy="509.40" r="1.80" fill="#fff" stroke="#f5a45c" stroke-width="1.0" />
<circle cx="314.00" cy="512.58" r="1.80" fill="#fff" stroke="#f5a45c" stroke-width="1.0" />
<circle cx="311.30" cy="517.14" r="1.80" fill="#fff" stroke="#f5a45c" stroke-width="1.0" />
<circle cx="316.40" cy="503.74" r="1.80" fill="#fff" stroke="#f5a45c" stroke-width="1.0" />
<circle cx="313.39" cy="516.96" r="1.80" fill="#fff" stroke="#f5a45c" stroke-width="1.0" />
<line x1="308.70" y1="537.00" x2="308.70" y2="539.50" stroke="#111" stroke-width="1" />
<text x="0.00" y="0.00" font-size="8.4" fill="#111" font-weight="normal" text-anchor="end" transform="translate(319.40,547.20) rotate(-21)">Rps21</text>
<line x1="303.10" y1="476.75" x2="314.30" y2="476.75" stroke="#444" stroke-width="1.2" />
<path d="M304.99,471.05 L304.72,467.15 L303.58,467.15 L303.31,471.05ZM304.57,471.77 L307.81,469.59 L307.24,468.61 L303.73,470.32ZM303.73,471.77 L307.24,473.49 L307.81,472.51 L304.57,470.32ZM303.31,471.05 L303.58,474.95 L304.72,474.95 L304.99,471.05ZM303.73,470.32 L300.49,472.51 L301.06,473.49 L304.57,471.77ZM304.57,470.32 L301.06,468.61 L300.49,469.59 L303.73,471.77Z" fill="#000" stroke="#000" stroke-width="0.25" />
<path d="M314.09,471.05 L313.82,467.15 L312.68,467.15 L312.41,471.05ZM313.67,471.77 L316.91,469.59 L316.34,468.61 L312.83,470.32ZM312.83,471.77 L316.34,473.49 L316.91,472.51 L313.67,470.32ZM312.41,471.05 L312.68,474.95 L313.82,474.95 L314.09,471.05ZM312.83,470.32 L309.59,472.51 L310.16,473.49 L313.67,471.77ZM313.67,470.32 L310.16,468.61 L309.59,469.59 L312.83,471.77Z" fill="#000" stroke="#000" stroke-width="0.25" />
<rect x="324.65" y="523.46" width="8.60" height="13.54" fill="none" stroke="#2a9cb6" stroke-width="1.5" />
<rect x="334.75" y="499.49" width="8.60" height="37.51" fill="none" stroke="#f5a45c" stroke-width="1.5" />
<line x1="328.95" y1="523.46" x2="328.95" y2="521.84" stroke="#2a9cb6" stroke-width="0.9" />
<line x1="326.75" y1="521.84" x2="331.15" y2="521.84" stroke="#2a9cb6" stroke-width="0.9" />
<line x1="339.05" y1="499.49" x2="339.05" y2="491.91" stroke="#f5a45c" stroke-width="0.9" />
<line x1="336.85" y1="491.91" x2="341.25" y2="491.91" stroke="#f5a45c" stroke-width="0.9" />
<circle cx="326.73" cy="519.36" r="1.80" fill="#fff" stroke="#2a9cb6" stroke-width="1.0" />
<circle cx="331.63" cy="522.00" r="1.80" fill="#fff" stroke="#2a9cb6" stroke-width="1.0" />
<circle cx="329.39" cy="528.52" r="1.80" fill="#fff" stroke="#2a9cb6" stroke-width="1.0" />
<circle cx="325.91" cy="520.10" r="1.80" fill="#fff" stroke="#2a9cb6" stroke-width="1.0" />
<circle cx="332.14" cy="524.93" r="1.80" fill="#fff" stroke="#2a9cb6" stroke-width="1.0" />
<circle cx="328.80" cy="522.56" r="1.80" fill="#fff" stroke="#2a9cb6" stroke-width="1.0" />
<circle cx="336.61" cy="461.18" r="1.80" fill="#fff" stroke="#f5a45c" stroke-width="1.0" />
<circle cx="341.45" cy="505.02" r="1.80" fill="#fff" stroke="#f5a45c" stroke-width="1.0" />
<circle cx="339.23" cy="492.42" r="1.80" fill="#fff" stroke="#f5a45c" stroke-width="1.0" />
<circle cx="336.70" cy="500.88" r="1.80" fill="#fff" stroke="#f5a45c" stroke-width="1.0" />
<circle cx="341.29" cy="504.00" r="1.80" fill="#fff" stroke="#f5a45c" stroke-width="1.0" />
<circle cx="339.04" cy="500.29" r="1.80" fill="#fff" stroke="#f5a45c" stroke-width="1.0" />
<line x1="334.00" y1="537.00" x2="334.00" y2="539.50" stroke="#111" stroke-width="1" />
<text x="0.00" y="0.00" font-size="8.4" fill="#111" font-weight="normal" text-anchor="end" transform="translate(344.70,547.20) rotate(-21)">Rps29</text>
<line x1="328.40" y1="457.52" x2="339.60" y2="457.52" stroke="#444" stroke-width="1.2" />
<path d="M334.84,451.82 L334.57,447.92 L333.43,447.92 L333.16,451.82ZM334.42,452.55 L337.66,450.36 L337.09,449.38 L333.58,451.10ZM333.58,452.55 L337.09,454.26 L337.66,453.28 L334.42,451.10ZM333.16,451.82 L333.43,455.72 L334.57,455.72 L334.84,451.82ZM333.58,451.10 L330.34,453.28 L330.91,454.26 L334.42,452.55ZM334.42,451.10 L330.91,449.38 L330.34,450.36 L333.58,452.55Z" fill="#000" stroke="#000" stroke-width="0.25" />
<rect x="349.95" y="523.46" width="8.60" height="13.54" fill="none" stroke="#2a9cb6" stroke-width="1.5" />
<rect x="360.05" y="506.40" width="8.60" height="30.60" fill="none" stroke="#f5a45c" stroke-width="1.5" />
<line x1="354.25" y1="523.46" x2="354.25" y2="521.84" stroke="#2a9cb6" stroke-width="0.9" />
<line x1="352.05" y1="521.84" x2="356.45" y2="521.84" stroke="#2a9cb6" stroke-width="0.9" />
<line x1="364.35" y1="506.40" x2="364.35" y2="500.31" stroke="#f5a45c" stroke-width="0.9" />
<line x1="362.15" y1="500.31" x2="366.55" y2="500.31" stroke="#f5a45c" stroke-width="0.9" />
<circle cx="351.67" cy="521.15" r="1.80" fill="#fff" stroke="#2a9cb6" stroke-width="1.0" />
<circle cx="357.16" cy="525.36" r="1.80" fill="#fff" stroke="#2a9cb6" stroke-width="1.0" />
<circle cx="354.69" cy="527.83" r="1.80" fill="#fff" stroke="#2a9cb6" stroke-width="1.0" />
<circle cx="351.78" cy="524.03" r="1.80" fill="#fff" stroke="#2a9cb6" stroke-width="1.0" />
<circle cx="357.31" cy="521.85" r="1.80" fill="#fff" stroke="#2a9cb6" stroke-width="1.0" />
<circle cx="354.75" cy="523.08" r="1.80" fill="#fff" stroke="#2a9cb6" stroke-width="1.0" />
<circle cx="361.24" cy="485.55" r="1.80" fill="#fff" stroke="#f5a45c" stroke-width="1.0" />
<circle cx="366.76" cy="512.62" r="1.80" fill="#fff" stroke="#f5a45c" stroke-width="1.0" />
<circle cx="364.63" cy="514.92" r="1.80" fill="#fff" stroke="#f5a45c" stroke-width="1.0" />
<circle cx="361.76" cy="512.16" r="1.80" fill="#fff" stroke="#f5a45c" stroke-width="1.0" />
<circle cx="367.27" cy="505.61" r="1.80" fill="#fff" stroke="#f5a45c" stroke-width="1.0" />
<circle cx="363.95" cy="511.37" r="1.80" fill="#fff" stroke="#f5a45c" stroke-width="1.0" />
<line x1="359.30" y1="537.00" x2="359.30" y2="539.50" stroke="#111" stroke-width="1" />
<text x="0.00" y="0.00" font-size="8.4" fill="#111" font-weight="normal" text-anchor="end" transform="translate(370.00,547.20) rotate(-21)">Rpl8</text>
<line x1="353.70" y1="480.27" x2="364.90" y2="480.27" stroke="#444" stroke-width="1.2" />
<path d="M360.14,474.57 L359.87,470.67 L358.73,470.67 L358.46,474.57ZM359.72,475.29 L362.96,473.11 L362.39,472.13 L358.88,473.84ZM358.88,475.29 L362.39,477.01 L362.96,476.03 L359.72,473.84ZM358.46,474.57 L358.73,478.47 L359.87,478.47 L360.14,474.57ZM358.88,473.84 L355.64,476.03 L356.21,477.01 L359.72,475.29ZM359.72,473.84 L356.21,472.13 L355.64,473.11 L358.88,475.29Z" fill="#000" stroke="#000" stroke-width="0.25" />
<rect x="375.25" y="523.46" width="8.60" height="13.54" fill="none" stroke="#2a9cb6" stroke-width="1.5" />
<rect x="385.35" y="508.97" width="8.60" height="28.03" fill="none" stroke="#f5a45c" stroke-width="1.5" />
<line x1="379.55" y1="523.46" x2="379.55" y2="521.84" stroke="#2a9cb6" stroke-width="0.9" />
<line x1="377.35" y1="521.84" x2="381.75" y2="521.84" stroke="#2a9cb6" stroke-width="0.9" />
<line x1="389.65" y1="508.97" x2="389.65" y2="504.91" stroke="#f5a45c" stroke-width="0.9" />
<line x1="387.45" y1="504.91" x2="391.85" y2="504.91" stroke="#f5a45c" stroke-width="0.9" />
<circle cx="377.26" cy="521.22" r="1.80" fill="#fff" stroke="#2a9cb6" stroke-width="1.0" />
<circle cx="382.23" cy="520.84" r="1.80" fill="#fff" stroke="#2a9cb6" stroke-width="1.0" />
<circle cx="380.01" cy="525.61" r="1.80" fill="#fff" stroke="#2a9cb6" stroke-width="1.0" />
<circle cx="376.93" cy="521.45" r="1.80" fill="#fff" stroke="#2a9cb6" stroke-width="1.0" />
<circle cx="382.13" cy="518.73" r="1.80" fill="#fff" stroke="#2a9cb6" stroke-width="1.0" />
<circle cx="379.77" cy="526.38" r="1.80" fill="#fff" stroke="#2a9cb6" stroke-width="1.0" />
<circle cx="386.85" cy="495.30" r="1.80" fill="#fff" stroke="#f5a45c" stroke-width="1.0" />
<circle cx="391.98" cy="506.50" r="1.80" fill="#fff" stroke="#f5a45c" stroke-width="1.0" />
<circle cx="389.63" cy="511.76" r="1.80" fill="#fff" stroke="#f5a45c" stroke-width="1.0" />
<circle cx="386.61" cy="504.06" r="1.80" fill="#fff" stroke="#f5a45c" stroke-width="1.0" />
<circle cx="392.82" cy="507.74" r="1.80" fill="#fff" stroke="#f5a45c" stroke-width="1.0" />
<circle cx="389.82" cy="508.37" r="1.80" fill="#fff" stroke="#f5a45c" stroke-width="1.0" />
<line x1="384.60" y1="537.00" x2="384.60" y2="539.50" stroke="#111" stroke-width="1" />
<text x="0.00" y="0.00" font-size="8.4" fill="#111" font-weight="normal" text-anchor="end" transform="translate(395.30,547.20) rotate(-21)">Rpl3l</text>
<rect x="400.55" y="523.46" width="8.60" height="13.54" fill="none" stroke="#2a9cb6" stroke-width="1.5" />
<rect x="410.65" y="512.90" width="8.60" height="24.10" fill="none" stroke="#f5a45c" stroke-width="1.5" />
<line x1="404.85" y1="523.46" x2="404.85" y2="521.84" stroke="#2a9cb6" stroke-width="0.9" />
<line x1="402.65" y1="521.84" x2="407.05" y2="521.84" stroke="#2a9cb6" stroke-width="0.9" />
<line x1="414.95" y1="512.90" x2="414.95" y2="508.16" stroke="#f5a45c" stroke-width="0.9" />
<line x1="412.75" y1="508.16" x2="417.15" y2="508.16" stroke="#f5a45c" stroke-width="0.9" />
<circle cx="401.74" cy="521.99" r="1.80" fill="#fff" stroke="#2a9cb6" stroke-width="1.0" />
<circle cx="407.79" cy="523.93" r="1.80" fill="#fff" stroke="#2a9cb6" stroke-width="1.0" />
<circle cx="405.19" cy="523.50" r="1.80" fill="#fff" stroke="#2a9cb6" stroke-width="1.0" />
<circle cx="402.00" cy="525.76" r="1.80" fill="#fff" stroke="#2a9cb6" stroke-width="1.0" />
<circle cx="407.77" cy="519.56" r="1.80" fill="#fff" stroke="#2a9cb6" stroke-width="1.0" />
<circle cx="404.89" cy="524.32" r="1.80" fill="#fff" stroke="#2a9cb6" stroke-width="1.0" />
<circle cx="412.18" cy="503.96" r="1.80" fill="#fff" stroke="#f5a45c" stroke-width="1.0" />
<circle cx="417.65" cy="518.12" r="1.80" fill="#fff" stroke="#f5a45c" stroke-width="1.0" />
<circle cx="415.28" cy="511.08" r="1.80" fill="#fff" stroke="#f5a45c" stroke-width="1.0" />
<circle cx="412.27" cy="501.41" r="1.80" fill="#fff" stroke="#f5a45c" stroke-width="1.0" />
<circle cx="417.25" cy="513.13" r="1.80" fill="#fff" stroke="#f5a45c" stroke-width="1.0" />
<circle cx="415.42" cy="515.96" r="1.80" fill="#fff" stroke="#f5a45c" stroke-width="1.0" />
<line x1="409.90" y1="537.00" x2="409.90" y2="539.50" stroke="#111" stroke-width="1" />
<text x="0.00" y="0.00" font-size="8.4" fill="#111" font-weight="normal" text-anchor="end" transform="translate(420.60,547.20) rotate(-21)">Mrps24</text>
<line x1="404.30" y1="500.31" x2="415.50" y2="500.31" stroke="#444" stroke-width="1.2" />
<path d="M406.19,494.61 L405.92,490.71 L404.78,490.71 L404.51,494.61ZM405.77,495.33 L409.01,493.15 L408.44,492.17 L404.93,493.88ZM404.93,495.33 L408.44,497.05 L409.01,496.07 L405.77,493.88ZM404.51,494.61 L404.78,498.51 L405.92,498.51 L406.19,494.61ZM404.93,493.88 L401.69,496.07 L402.26,497.05 L405.77,495.33ZM405.77,493.88 L402.26,492.17 L401.69,493.15 L404.93,495.33Z" fill="#000" stroke="#000" stroke-width="0.25" />
<path d="M415.29,494.61 L415.02,490.71 L413.88,490.71 L413.61,494.61ZM414.87,495.33 L418.11,493.15 L417.54,492.17 L414.03,493.88ZM414.03,495.33 L417.54,497.05 L418.11,496.07 L414.87,493.88ZM413.61,494.61 L413.88,498.51 L415.02,498.51 L415.29,494.61ZM414.03,493.88 L410.79,496.07 L411.36,497.05 L414.87,495.33ZM414.87,493.88 L411.36,492.17 L410.79,493.15 L414.03,495.33Z" fill="#000" stroke="#000" stroke-width="0.25" />
<rect x="425.85" y="523.46" width="8.60" height="13.54" fill="none" stroke="#2a9cb6" stroke-width="1.5" />
<rect x="435.95" y="511.68" width="8.60" height="25.32" fill="none" stroke="#f5a45c" stroke-width="1.5" />
<line x1="430.15" y1="523.46" x2="430.15" y2="521.84" stroke="#2a9cb6" stroke-width="0.9" />
<line x1="427.95" y1="521.84" x2="432.35" y2="521.84" stroke="#2a9cb6" stroke-width="0.9" />
<line x1="440.25" y1="511.68" x2="440.25" y2="507.62" stroke="#f5a45c" stroke-width="0.9" />
<line x1="438.05" y1="507.62" x2="442.45" y2="507.62" stroke="#f5a45c" stroke-width="0.9" />
<circle cx="427.92" cy="526.31" r="1.80" fill="#fff" stroke="#2a9cb6" stroke-width="1.0" />
<circle cx="432.87" cy="524.59" r="1.80" fill="#fff" stroke="#2a9cb6" stroke-width="1.0" />
<circle cx="430.42" cy="520.64" r="1.80" fill="#fff" stroke="#2a9cb6" stroke-width="1.0" />
<circle cx="427.18" cy="523.66" r="1.80" fill="#fff" stroke="#2a9cb6" stroke-width="1.0" />
<circle cx="432.72" cy="519.92" r="1.80" fill="#fff" stroke="#2a9cb6" stroke-width="1.0" />
<circle cx="430.64" cy="521.86" r="1.80" fill="#fff" stroke="#2a9cb6" stroke-width="1.0" />
<circle cx="437.06" cy="496.79" r="1.80" fill="#fff" stroke="#f5a45c" stroke-width="1.0" />
<circle cx="443.29" cy="506.07" r="1.80" fill="#fff" stroke="#f5a45c" stroke-width="1.0" />
<circle cx="440.65" cy="509.38" r="1.80" fill="#fff" stroke="#f5a45c" stroke-width="1.0" />
<circle cx="437.31" cy="512.09" r="1.80" fill="#fff" stroke="#f5a45c" stroke-width="1.0" />
<circle cx="442.98" cy="513.08" r="1.80" fill="#fff" stroke="#f5a45c" stroke-width="1.0" />
<circle cx="440.49" cy="513.62" r="1.80" fill="#fff" stroke="#f5a45c" stroke-width="1.0" />
<line x1="435.20" y1="537.00" x2="435.20" y2="539.50" stroke="#111" stroke-width="1" />
<text x="0.00" y="0.00" font-size="8.4" fill="#111" font-weight="normal" text-anchor="end" transform="translate(445.90,547.20) rotate(-21)">Mrps26</text>
<line x1="429.60" y1="493.27" x2="440.80" y2="493.27" stroke="#444" stroke-width="1.2" />
<path d="M436.04,487.57 L435.77,483.67 L434.63,483.67 L434.36,487.57ZM435.62,488.29 L438.86,486.11 L438.29,485.12 L434.78,486.84ZM434.78,488.29 L438.29,490.01 L438.86,489.02 L435.62,486.84ZM434.36,487.57 L434.63,491.47 L435.77,491.47 L436.04,487.57ZM434.78,486.84 L431.54,489.02 L432.11,490.01 L435.62,488.29ZM435.62,486.84 L432.11,485.12 L431.54,486.11 L434.78,488.29Z" fill="#000" stroke="#000" stroke-width="0.25" />
<rect x="451.15" y="523.46" width="8.60" height="13.54" fill="none" stroke="#2a9cb6" stroke-width="1.5" />
<rect x="461.25" y="513.30" width="8.60" height="23.70" fill="none" stroke="#f5a45c" stroke-width="1.5" />
<line x1="455.45" y1="523.46" x2="455.45" y2="521.84" stroke="#2a9cb6" stroke-width="0.9" />
<line x1="453.25" y1="521.84" x2="457.65" y2="521.84" stroke="#2a9cb6" stroke-width="0.9" />
<line x1="465.55" y1="513.30" x2="465.55" y2="507.21" stroke="#f5a45c" stroke-width="0.9" />
<line x1="463.35" y1="507.21" x2="467.75" y2="507.21" stroke="#f5a45c" stroke-width="0.9" />
<circle cx="452.29" cy="523.91" r="1.80" fill="#fff" stroke="#2a9cb6" stroke-width="1.0" />
<circle cx="458.16" cy="523.75" r="1.80" fill="#fff" stroke="#2a9cb6" stroke-width="1.0" />
<circle cx="455.93" cy="525.29" r="1.80" fill="#fff" stroke="#2a9cb6" stroke-width="1.0" />
<circle cx="452.89" cy="516.37" r="1.80" fill="#fff" stroke="#2a9cb6" stroke-width="1.0" />
<circle cx="458.53" cy="519.08" r="1.80" fill="#fff" stroke="#2a9cb6" stroke-width="1.0" />
<circle cx="455.47" cy="522.92" r="1.80" fill="#fff" stroke="#2a9cb6" stroke-width="1.0" />
<circle cx="462.86" cy="491.91" r="1.80" fill="#fff" stroke="#f5a45c" stroke-width="1.0" />
<circle cx="467.97" cy="522.69" r="1.80" fill="#fff" stroke="#f5a45c" stroke-width="1.0" />
<circle cx="465.21" cy="515.64" r="1.80" fill="#fff" stroke="#f5a45c" stroke-width="1.0" />
<circle cx="463.04" cy="517.79" r="1.80" fill="#fff" stroke="#f5a45c" stroke-width="1.0" />
<circle cx="468.60" cy="508.42" r="1.80" fill="#fff" stroke="#f5a45c" stroke-width="1.0" />
<circle cx="465.23" cy="511.39" r="1.80" fill="#fff" stroke="#f5a45c" stroke-width="1.0" />
<line x1="460.50" y1="537.00" x2="460.50" y2="539.50" stroke="#111" stroke-width="1" />
<text x="0.00" y="0.00" font-size="8.4" fill="#111" font-weight="normal" text-anchor="end" transform="translate(471.20,547.20) rotate(-21)">Mrpl23</text>
<rect x="476.45" y="523.46" width="8.60" height="13.54" fill="none" stroke="#2a9cb6" stroke-width="1.5" />
<rect x="486.55" y="507.21" width="8.60" height="29.79" fill="none" stroke="#f5a45c" stroke-width="1.5" />
<line x1="480.75" y1="523.46" x2="480.75" y2="521.84" stroke="#2a9cb6" stroke-width="0.9" />
<line x1="478.55" y1="521.84" x2="482.95" y2="521.84" stroke="#2a9cb6" stroke-width="0.9" />
<line x1="490.85" y1="507.21" x2="490.85" y2="501.53" stroke="#f5a45c" stroke-width="0.9" />
<line x1="488.65" y1="501.53" x2="493.05" y2="501.53" stroke="#f5a45c" stroke-width="0.9" />
<circle cx="478.13" cy="522.39" r="1.80" fill="#fff" stroke="#2a9cb6" stroke-width="1.0" />
<circle cx="483.90" cy="519.73" r="1.80" fill="#fff" stroke="#2a9cb6" stroke-width="1.0" />
<circle cx="480.29" cy="525.86" r="1.80" fill="#fff" stroke="#2a9cb6" stroke-width="1.0" />
<circle cx="477.84" cy="522.67" r="1.80" fill="#fff" stroke="#2a9cb6" stroke-width="1.0" />
<circle cx="483.83" cy="518.68" r="1.80" fill="#fff" stroke="#2a9cb6" stroke-width="1.0" />
<circle cx="480.67" cy="524.47" r="1.80" fill="#fff" stroke="#2a9cb6" stroke-width="1.0" />
<circle cx="487.93" cy="487.58" r="1.80" fill="#fff" stroke="#f5a45c" stroke-width="1.0" />
<circle cx="493.85" cy="508.92" r="1.80" fill="#fff" stroke="#f5a45c" stroke-width="1.0" />
<circle cx="490.60" cy="516.02" r="1.80" fill="#fff" stroke="#f5a45c" stroke-width="1.0" />
<circle cx="487.91" cy="511.06" r="1.80" fill="#fff" stroke="#f5a45c" stroke-width="1.0" />
<circle cx="493.73" cy="500.12" r="1.80" fill="#fff" stroke="#f5a45c" stroke-width="1.0" />
<circle cx="490.69" cy="508.66" r="1.80" fill="#fff" stroke="#f5a45c" stroke-width="1.0" />
<line x1="485.80" y1="537.00" x2="485.80" y2="539.50" stroke="#111" stroke-width="1" />
<text x="0.00" y="0.00" font-size="8.4" fill="#111" font-weight="normal" text-anchor="end" transform="translate(496.50,547.20) rotate(-21)">Mrpl28</text>
<line x1="480.20" y1="483.65" x2="491.40" y2="483.65" stroke="#444" stroke-width="1.2" />
<path d="M486.64,477.95 L486.37,474.05 L485.23,474.05 L484.96,477.95ZM486.22,478.68 L489.46,476.49 L488.89,475.51 L485.38,477.23ZM485.38,478.68 L488.89,480.39 L489.46,479.41 L486.22,477.23ZM484.96,477.95 L485.23,481.85 L486.37,481.85 L486.64,477.95ZM485.38,477.23 L482.14,479.41 L482.71,480.39 L486.22,478.68ZM486.22,477.23 L482.71,475.51 L482.14,476.49 L485.38,478.68Z" fill="#000" stroke="#000" stroke-width="0.25" />
<line x1="269.00" y1="455.76" x2="269.00" y2="537.00" stroke="#111" stroke-width="1.1" />
<line x1="269.00" y1="537.00" x2="499.00" y2="537.00" stroke="#111" stroke-width="1.1" />
<line x1="266.00" y1="537.00" x2="269.00" y2="537.00" stroke="#111" stroke-width="1.1" />
<text x="264.80" y="540.70" font-size="10" fill="#111" font-weight="normal" text-anchor="end" >0</text>
<line x1="266.00" y1="509.92" x2="269.00" y2="509.92" stroke="#111" stroke-width="1.1" />
<text x="264.80" y="513.62" font-size="10" fill="#111" font-weight="normal" text-anchor="end" >2</text>
<line x1="266.00" y1="482.84" x2="269.00" y2="482.84" stroke="#111" stroke-width="1.1" />
<text x="264.80" y="486.54" font-size="10" fill="#111" font-weight="normal" text-anchor="end" >4</text>
<line x1="266.00" y1="455.76" x2="269.00" y2="455.76" stroke="#111" stroke-width="1.1" />
<text x="264.80" y="459.46" font-size="10" fill="#111" font-weight="normal" text-anchor="end" >6</text>
<text x="0.00" y="0.00" font-size="10.1" fill="#111" font-weight="normal" text-anchor="middle" transform="translate(254.5,496.38) rotate(-90)">Relative mRNA level</text>
<circle cx="535.50" cy="457.20" r="2.80" fill="none" stroke="#2a9cb6" stroke-width="1.5" />
<text x="543.00" y="461.00" font-size="9.6" fill="#111" font-weight="normal" text-anchor="start" >CTL</text>
<circle cx="535.50" cy="476.50" r="2.80" fill="none" stroke="#f5a45c" stroke-width="1.5" />
<text x="543.00" y="480.30" font-size="9.6" fill="#111" font-weight="normal" text-anchor="start" >VPA</text>
<text x="238.50" y="572.00" font-size="16.5" fill="#000" font-weight="bold" text-anchor="start" >h</text>
<g>
<circle cx="352.62" cy="749.10" r="1.97" fill="#9ccbef" stroke="none" stroke-width="0" fill-opacity="0.8"/>
<circle cx="352.27" cy="749.47" r="2.09" fill="#9ccbef" stroke="none" stroke-width="0" fill-opacity="0.8"/>
<circle cx="352.13" cy="750.27" r="2.57" fill="#9ccbef" stroke="none" stroke-width="0" fill-opacity="0.8"/>
<circle cx="351.99" cy="752.12" r="2.42" fill="#9ccbef" stroke="none" stroke-width="0" fill-opacity="0.8"/>
<circle cx="351.64" cy="751.18" r="2.48" fill="#9ccbef" stroke="none" stroke-width="0" fill-opacity="0.8"/>
<circle cx="351.37" cy="751.50" r="2.02" fill="#9ccbef" stroke="none" stroke-width="0" fill-opacity="0.8"/>
<circle cx="351.06" cy="751.35" r="2.17" fill="#9ccbef" stroke="none" stroke-width="0" fill-opacity="0.8"/>
<circle cx="350.84" cy="748.89" r="2.59" fill="#9ccbef" stroke="none" stroke-width="0" fill-opacity="0.8"/>
<circle cx="350.59" cy="751.15" r="2.16" fill="#9ccbef" stroke="none" stroke-width="0" fill-opacity="0.8"/>
<circle cx="350.05" cy="751.06" r="2.11" fill="#9ccbef" stroke="none" stroke-width="0" fill-opacity="0.8"/>
<circle cx="349.94" cy="752.08" r="1.90" fill="#9ccbef" stroke="none" stroke-width="0" fill-opacity="0.8"/>
<circle cx="349.92" cy="749.43" r="1.84" fill="#9ccbef" stroke="none" stroke-width="0" fill-opacity="0.8"/>
<circle cx="349.13" cy="751.25" r="2.16" fill="#9ccbef" stroke="none" stroke-width="0" fill-opacity="0.8"/>
<circle cx="349.13" cy="751.22" r="2.17" fill="#9ccbef" stroke="none" stroke-width="0" fill-opacity="0.8"/>
<circle cx="349.00" cy="748.70" r="2.18" fill="#9ccbef" stroke="none" stroke-width="0" fill-opacity="0.8"/>
<circle cx="348.61" cy="751.80" r="2.40" fill="#9ccbef" stroke="none" stroke-width="0" fill-opacity="0.8"/>
<circle cx="348.66" cy="750.35" r="1.98" fill="#9ccbef" stroke="none" stroke-width="0" fill-opacity="0.8"/>
<circle cx="348.33" cy="750.22" r="2.02" fill="#9ccbef" stroke="none" stroke-width="0" fill-opacity="0.8"/>
<circle cx="348.00" cy="751.41" r="2.03" fill="#9ccbef" stroke="none" stroke-width="0" fill-opacity="0.8"/>
<circle cx="347.79" cy="748.23" r="1.83" fill="#9ccbef" stroke="none" stroke-width="0" fill-opacity="0.8"/>
<circle cx="347.39" cy="751.65" r="2.05" fill="#9ccbef" stroke="none" stroke-width="0" fill-opacity="0.8"/>
<circle cx="347.38" cy="749.35" r="1.92" fill="#9ccbef" stroke="none" stroke-width="0" fill-opacity="0.8"/>
<circle cx="347.34" cy="748.20" r="1.82" fill="#9ccbef" stroke="none" stroke-width="0" fill-opacity="0.8"/>
<circle cx="347.18" cy="749.83" r="2.39" fill="#9ccbef" stroke="none" stroke-width="0" fill-opacity="0.8"/>
<circle cx="346.83" cy="751.81" r="2.07" fill="#9ccbef" stroke="none" stroke-width="0" fill-opacity="0.8"/>
<circle cx="346.84" cy="751.12" r="2.13" fill="#9ccbef" stroke="none" stroke-width="0" fill-opacity="0.8"/>
<circle cx="346.78" cy="750.18" r="2.47" fill="#9ccbef" stroke="none" stroke-width="0" fill-opacity="0.8"/>
<circle cx="346.71" cy="751.10" r="2.47" fill="#9ccbef" stroke="none" stroke-width="0" fill-opacity="0.8"/>
<circle cx="346.65" cy="749.01" r="2.25" fill="#9ccbef" stroke="none" stroke-width="0" fill-opacity="0.8"/>
<circle cx="346.58" cy="749.34" r="1.87" fill="#9ccbef" stroke="none" stroke-width="0" fill-opacity="0.8"/>
<circle cx="346.25" cy="750.24" r="2.32" fill="#9ccbef" stroke="none" stroke-width="0" fill-opacity="0.8"/>
<circle cx="345.88" cy="749.90" r="1.98" fill="#9ccbef" stroke="none" stroke-width="0" fill-opacity="0.8"/>
<circle cx="345.90" cy="749.33" r="1.99" fill="#9ccbef" stroke="none" stroke-width="0" fill-opacity="0.8"/>
<circle cx="345.82" cy="748.96" r="2.38" fill="#9ccbef" stroke="none" stroke-width="0" fill-opacity="0.8"/>
<circle cx="345.55" cy="750.53" r="2.52" fill="#9ccbef" stroke="none" stroke-width="0" fill-opacity="0.8"/>
<circle cx="345.23" cy="750.23" r="2.39" fill="#9ccbef" stroke="none" stroke-width="0" fill-opacity="0.8"/>
<circle cx="345.07" cy="751.49" r="2.35" fill="#9ccbef" stroke="none" stroke-width="0" fill-opacity="0.8"/>
<circle cx="345.06" cy="750.32" r="2.30" fill="#9ccbef" stroke="none" stroke-width="0" fill-opacity="0.8"/>
<circle cx="344.60" cy="750.38" r="2.23" fill="#9ccbef" stroke="none" stroke-width="0" fill-opacity="0.8"/>
<circle cx="344.26" cy="750.56" r="2.26" fill="#9ccbef" stroke="none" stroke-width="0" fill-opacity="0.8"/>
<circle cx="344.34" cy="748.79" r="2.46" fill="#9ccbef" stroke="none" stroke-width="0" fill-opacity="0.8"/>
<circle cx="343.82" cy="750.54" r="2.45" fill="#9ccbef" stroke="none" stroke-width="0" fill-opacity="0.8"/>
<circle cx="343.66" cy="751.41" r="2.29" fill="#9ccbef" stroke="none" stroke-width="0" fill-opacity="0.8"/>
<circle cx="343.58" cy="749.71" r="2.07" fill="#9ccbef" stroke="none" stroke-width="0" fill-opacity="0.8"/>
<circle cx="343.28" cy="748.94" r="2.52" fill="#9ccbef" stroke="none" stroke-width="0" fill-opacity="0.8"/>
<circle cx="343.00" cy="750.44" r="1.87" fill="#9ccbef" stroke="none" stroke-width="0" fill-opacity="0.8"/>
<circle cx="343.03" cy="747.69" r="1.91" fill="#9ccbef" stroke="none" stroke-width="0" fill-opacity="0.8"/>
<circle cx="342.60" cy="751.75" r="1.97" fill="#9ccbef" stroke="none" stroke-width="0" fill-opacity="0.8"/>
<circle cx="342.84" cy="749.28" r="2.48" fill="#9ccbef" stroke="none" stroke-width="0" fill-opacity="0.8"/>
<circle cx="342.87" cy="748.48" r="2.14" fill="#9ccbef" stroke="none" stroke-width="0" fill-opacity="0.8"/>
<circle cx="342.72" cy="748.71" r="2.39" fill="#9ccbef" stroke="none" stroke-width="0" fill-opacity="0.8"/>
<circle cx="342.60" cy="749.49" r="2.00" fill="#9ccbef" stroke="none" stroke-width="0" fill-opacity="0.8"/>
<circle cx="342.19" cy="750.87" r="2.09" fill="#9ccbef" stroke="none" stroke-width="0" fill-opacity="0.8"/>
<circle cx="342.34" cy="749.53" r="2.29" fill="#9ccbef" stroke="none" stroke-width="0" fill-opacity="0.8"/>
<circle cx="342.22" cy="750.35" r="1.86" fill="#9ccbef" stroke="none" stroke-width="0" fill-opacity="0.8"/>
<circle cx="342.38" cy="747.64" r="2.39" fill="#9ccbef" stroke="none" stroke-width="0" fill-opacity="0.8"/>
<circle cx="341.63" cy="748.72" r="2.29" fill="#9ccbef" stroke="none" stroke-width="0" fill-opacity="0.8"/>
<circle cx="341.30" cy="750.49" r="2.53" fill="#9ccbef" stroke="none" stroke-width="0" fill-opacity="0.8"/>
<circle cx="340.97" cy="751.51" r="2.00" fill="#9ccbef" stroke="none" stroke-width="0" fill-opacity="0.8"/>
<circle cx="340.89" cy="750.99" r="2.59" fill="#9ccbef" stroke="none" stroke-width="0" fill-opacity="0.8"/>
<circle cx="340.97" cy="749.16" r="1.99" fill="#9ccbef" stroke="none" stroke-width="0" fill-opacity="0.8"/>
<circle cx="340.07" cy="751.42" r="1.94" fill="#9ccbef" stroke="none" stroke-width="0" fill-opacity="0.8"/>
<circle cx="340.63" cy="748.45" r="2.56" fill="#9ccbef" stroke="none" stroke-width="0" fill-opacity="0.8"/>
<circle cx="339.48" cy="751.39" r="2.39" fill="#9ccbef" stroke="none" stroke-width="0" fill-opacity="0.8"/>
<circle cx="339.87" cy="748.82" r="1.90" fill="#9ccbef" stroke="none" stroke-width="0" fill-opacity="0.8"/>
<circle cx="339.30" cy="751.35" r="2.55" fill="#9ccbef" stroke="none" stroke-width="0" fill-opacity="0.8"/>
<circle cx="339.72" cy="748.74" r="2.51" fill="#9ccbef" stroke="none" stroke-width="0" fill-opacity="0.8"/>
<circle cx="339.42" cy="749.39" r="2.24" fill="#9ccbef" stroke="none" stroke-width="0" fill-opacity="0.8"/>
<circle cx="339.78" cy="747.15" r="2.01" fill="#9ccbef" stroke="none" stroke-width="0" fill-opacity="0.8"/>
<circle cx="339.04" cy="750.30" r="2.20" fill="#9ccbef" stroke="none" stroke-width="0" fill-opacity="0.8"/>
<circle cx="338.65" cy="751.23" r="1.81" fill="#9ccbef" stroke="none" stroke-width="0" fill-opacity="0.8"/>
<circle cx="339.25" cy="747.92" r="2.14" fill="#9ccbef" stroke="none" stroke-width="0" fill-opacity="0.8"/>
<circle cx="338.87" cy="749.53" r="1.88" fill="#9ccbef" stroke="none" stroke-width="0" fill-opacity="0.8"/>
<circle cx="339.23" cy="747.61" r="2.04" fill="#9ccbef" stroke="none" stroke-width="0" fill-opacity="0.8"/>
<circle cx="338.97" cy="748.67" r="2.13" fill="#9ccbef" stroke="none" stroke-width="0" fill-opacity="0.8"/>
<circle cx="338.37" cy="751.42" r="1.85" fill="#9ccbef" stroke="none" stroke-width="0" fill-opacity="0.8"/>
<circle cx="339.20" cy="747.09" r="2.34" fill="#9ccbef" stroke="none" stroke-width="0" fill-opacity="0.8"/>
<circle cx="338.16" cy="750.66" r="2.10" fill="#9ccbef" stroke="none" stroke-width="0" fill-opacity="0.8"/>
<circle cx="338.91" cy="746.85" r="2.03" fill="#9ccbef" stroke="none" stroke-width="0" fill-opacity="0.8"/>
<circle cx="337.98" cy="749.28" r="2.32" fill="#9ccbef" stroke="none" stroke-width="0" fill-opacity="0.8"/>
<circle cx="338.06" cy="748.42" r="1.83" fill="#9ccbef" stroke="none" stroke-width="0" fill-opacity="0.8"/>
<circle cx="337.50" cy="750.35" r="1.82" fill="#9ccbef" stroke="none" stroke-width="0" fill-opacity="0.8"/>
<circle cx="337.53" cy="750.16" r="2.34" fill="#9ccbef" stroke="none" stroke-width="0" fill-opacity="0.8"/>
<circle cx="337.23" cy="750.56" r="1.85" fill="#9ccbef" stroke="none" stroke-width="0" fill-opacity="0.8"/>
<circle cx="337.97" cy="746.80" r="2.52" fill="#9ccbef" stroke="none" stroke-width="0" fill-opacity="0.8"/>
<circle cx="337.03" cy="750.80" r="2.16" fill="#9ccbef" stroke="none" stroke-width="0" fill-opacity="0.8"/>
<circle cx="337.09" cy="749.94" r="1.85" fill="#9ccbef" stroke="none" stroke-width="0" fill-opacity="0.8"/>
<circle cx="337.11" cy="749.18" r="2.15" fill="#9ccbef" stroke="none" stroke-width="0" fill-opacity="0.8"/>
<circle cx="337.00" cy="747.72" r="2.19" fill="#9ccbef" stroke="none" stroke-width="0" fill-opacity="0.8"/>
<circle cx="336.78" cy="746.51" r="1.96" fill="#9ccbef" stroke="none" stroke-width="0" fill-opacity="0.8"/>
<circle cx="336.00" cy="750.12" r="1.83" fill="#9ccbef" stroke="none" stroke-width="0" fill-opacity="0.8"/>
<circle cx="335.93" cy="749.14" r="2.05" fill="#9ccbef" stroke="none" stroke-width="0" fill-opacity="0.8"/>
<circle cx="335.38" cy="750.82" r="1.89" fill="#9ccbef" stroke="none" stroke-width="0" fill-opacity="0.8"/>
<circle cx="335.14" cy="746.93" r="2.06" fill="#9ccbef" stroke="none" stroke-width="0" fill-opacity="0.8"/>
<circle cx="334.27" cy="750.45" r="2.07" fill="#9ccbef" stroke="none" stroke-width="0" fill-opacity="0.8"/>
<circle cx="334.77" cy="747.36" r="2.38" fill="#9ccbef" stroke="none" stroke-width="0" fill-opacity="0.8"/>
<circle cx="333.92" cy="750.28" r="2.08" fill="#9ccbef" stroke="none" stroke-width="0" fill-opacity="0.8"/>
<circle cx="334.11" cy="748.14" r="2.52" fill="#9ccbef" stroke="none" stroke-width="0" fill-opacity="0.8"/>
<circle cx="332.91" cy="750.45" r="2.23" fill="#9ccbef" stroke="none" stroke-width="0" fill-opacity="0.8"/>
<circle cx="334.30" cy="745.79" r="2.50" fill="#9ccbef" stroke="none" stroke-width="0" fill-opacity="0.8"/>
<circle cx="333.19" cy="749.18" r="1.96" fill="#9ccbef" stroke="none" stroke-width="0" fill-opacity="0.8"/>
<circle cx="333.09" cy="749.23" r="2.56" fill="#9ccbef" stroke="none" stroke-width="0" fill-opacity="0.8"/>
<circle cx="333.58" cy="747.16" r="2.30" fill="#9ccbef" stroke="none" stroke-width="0" fill-opacity="0.8"/>
<circle cx="332.28" cy="750.40" r="2.14" fill="#9ccbef" stroke="none" stroke-width="0" fill-opacity="0.8"/>
<circle cx="332.21" cy="749.79" r="2.58" fill="#9ccbef" stroke="none" stroke-width="0" fill-opacity="0.8"/>
<circle cx="331.97" cy="749.98" r="2.25" fill="#9ccbef" stroke="none" stroke-width="0" fill-opacity="0.8"/>
<circle cx="331.96" cy="749.14" r="2.33" fill="#9ccbef" stroke="none" stroke-width="0" fill-opacity="0.8"/>
<circle cx="331.51" cy="749.66" r="2.12" fill="#9ccbef" stroke="none" stroke-width="0" fill-opacity="0.8"/>
<circle cx="332.27" cy="747.98" r="2.09" fill="#9ccbef" stroke="none" stroke-width="0" fill-opacity="0.8"/>
<circle cx="332.14" cy="747.56" r="1.83" fill="#9ccbef" stroke="none" stroke-width="0" fill-opacity="0.8"/>
<circle cx="332.47" cy="746.59" r="1.86" fill="#9ccbef" stroke="none" stroke-width="0" fill-opacity="0.8"/>
<circle cx="333.11" cy="745.49" r="1.80" fill="#9ccbef" stroke="none" stroke-width="0" fill-opacity="0.8"/>
<circle cx="333.26" cy="745.11" r="2.24" fill="#9ccbef" stroke="none" stroke-width="0" fill-opacity="0.8"/>
<circle cx="330.33" cy="749.22" r="2.12" fill="#9ccbef" stroke="none" stroke-width="0" fill-opacity="0.8"/>
<circle cx="330.33" cy="749.01" r="2.14" fill="#9ccbef" stroke="none" stroke-width="0" fill-opacity="0.8"/>
<circle cx="331.73" cy="746.04" r="2.17" fill="#9ccbef" stroke="none" stroke-width="0" fill-opacity="0.8"/>
<circle cx="331.53" cy="744.77" r="2.30" fill="#9ccbef" stroke="none" stroke-width="0" fill-opacity="0.8"/>
<circle cx="331.01" cy="745.50" r="2.03" fill="#9ccbef" stroke="none" stroke-width="0" fill-opacity="0.8"/>
<circle cx="331.37" cy="744.70" r="2.20" fill="#9ccbef" stroke="none" stroke-width="0" fill-opacity="0.8"/>
<circle cx="331.14" cy="744.60" r="2.11" fill="#9ccbef" stroke="none" stroke-width="0" fill-opacity="0.8"/>
<circle cx="329.84" cy="746.18" r="2.03" fill="#9ccbef" stroke="none" stroke-width="0" fill-opacity="0.8"/>
<circle cx="328.61" cy="748.06" r="2.18" fill="#9ccbef" stroke="none" stroke-width="0" fill-opacity="0.8"/>
<circle cx="328.15" cy="748.40" r="2.33" fill="#9ccbef" stroke="none" stroke-width="0" fill-opacity="0.8"/>
<circle cx="330.41" cy="744.78" r="1.86" fill="#9ccbef" stroke="none" stroke-width="0" fill-opacity="0.8"/>
<circle cx="330.56" cy="744.38" r="2.39" fill="#9ccbef" stroke="none" stroke-width="0" fill-opacity="0.8"/>
<circle cx="328.40" cy="747.50" r="2.03" fill="#9ccbef" stroke="none" stroke-width="0" fill-opacity="0.8"/>
<circle cx="329.32" cy="745.85" r="2.28" fill="#9ccbef" stroke="none" stroke-width="0" fill-opacity="0.8"/>
<circle cx="330.92" cy="743.34" r="2.35" fill="#9ccbef" stroke="none" stroke-width="0" fill-opacity="0.8"/>
<circle cx="329.66" cy="745.08" r="2.57" fill="#9ccbef" stroke="none" stroke-width="0" fill-opacity="0.8"/>
<circle cx="329.94" cy="744.32" r="2.37" fill="#9ccbef" stroke="none" stroke-width="0" fill-opacity="0.8"/>
<circle cx="329.60" cy="744.65" r="1.83" fill="#9ccbef" stroke="none" stroke-width="0" fill-opacity="0.8"/>
<circle cx="327.38" cy="747.86" r="2.45" fill="#9ccbef" stroke="none" stroke-width="0" fill-opacity="0.8"/>
<circle cx="328.88" cy="745.52" r="1.90" fill="#9ccbef" stroke="none" stroke-width="0" fill-opacity="0.8"/>
<circle cx="330.35" cy="742.83" r="2.23" fill="#9ccbef" stroke="none" stroke-width="0" fill-opacity="0.8"/>
<circle cx="327.39" cy="747.35" r="2.21" fill="#9ccbef" stroke="none" stroke-width="0" fill-opacity="0.8"/>
<circle cx="327.31" cy="747.43" r="2.04" fill="#9ccbef" stroke="none" stroke-width="0" fill-opacity="0.8"/>
<circle cx="328.69" cy="745.24" r="2.36" fill="#9ccbef" stroke="none" stroke-width="0" fill-opacity="0.8"/>
<circle cx="328.33" cy="745.73" r="1.92" fill="#9ccbef" stroke="none" stroke-width="0" fill-opacity="0.8"/>
<circle cx="327.02" cy="747.09" r="2.18" fill="#9ccbef" stroke="none" stroke-width="0" fill-opacity="0.8"/>
<circle cx="326.43" cy="747.63" r="2.41" fill="#9ccbef" stroke="none" stroke-width="0" fill-opacity="0.8"/>
<circle cx="328.91" cy="743.59" r="2.74" fill="#9ccbef" stroke="none" stroke-width="0" fill-opacity="0.8"/>
<circle cx="328.38" cy="744.23" r="2.20" fill="#9ccbef" stroke="none" stroke-width="0" fill-opacity="0.8"/>
<circle cx="326.88" cy="746.56" r="3.52" fill="#9ccbef" stroke="none" stroke-width="0" fill-opacity="0.8"/>
<circle cx="326.81" cy="746.62" r="3.50" fill="#9ccbef" stroke="none" stroke-width="0" fill-opacity="0.8"/>
<circle cx="326.92" cy="745.92" r="3.07" fill="#9ccbef" stroke="none" stroke-width="0" fill-opacity="0.8"/>
<circle cx="326.11" cy="747.11" r="2.25" fill="#9ccbef" stroke="none" stroke-width="0" fill-opacity="0.8"/>
<circle cx="327.24" cy="745.36" r="3.04" fill="#9ccbef" stroke="none" stroke-width="0" fill-opacity="0.8"/>
<circle cx="328.54" cy="743.27" r="2.72" fill="#9ccbef" stroke="none" stroke-width="0" fill-opacity="0.8"/>
<circle cx="328.14" cy="743.46" r="2.37" fill="#9ccbef" stroke="none" stroke-width="0" fill-opacity="0.8"/>
<circle cx="326.44" cy="745.80" r="2.29" fill="#9ccbef" stroke="none" stroke-width="0" fill-opacity="0.8"/>
<circle cx="328.61" cy="742.34" r="3.13" fill="#9ccbef" stroke="none" stroke-width="0" fill-opacity="0.8"/>
<circle cx="326.65" cy="745.39" r="2.45" fill="#9ccbef" stroke="none" stroke-width="0" fill-opacity="0.8"/>
<circle cx="325.93" cy="746.43" r="2.31" fill="#9ccbef" stroke="none" stroke-width="0" fill-opacity="0.8"/>
<circle cx="327.53" cy="743.39" r="3.40" fill="#9ccbef" stroke="none" stroke-width="0" fill-opacity="0.8"/>
<circle cx="327.13" cy="742.68" r="2.83" fill="#9ccbef" stroke="none" stroke-width="0" fill-opacity="0.8"/>
<circle cx="324.49" cy="745.91" r="2.29" fill="#9ccbef" stroke="none" stroke-width="0" fill-opacity="0.8"/>
<circle cx="324.04" cy="746.32" r="3.02" fill="#72a9dc" stroke="none" stroke-width="0" fill-opacity="0.8"/>
<circle cx="327.69" cy="741.39" r="2.39" fill="#9ccbef" stroke="none" stroke-width="0" fill-opacity="0.8"/>
<circle cx="326.20" cy="742.54" r="2.43" fill="#72a9dc" stroke="none" stroke-width="0" fill-opacity="0.8"/>
<circle cx="325.19" cy="742.62" r="3.38" fill="#72a9dc" stroke="none" stroke-width="0" fill-opacity="0.8"/>
<circle cx="324.42" cy="743.18" r="2.39" fill="#72a9dc" stroke="none" stroke-width="0" fill-opacity="0.8"/>
<circle cx="323.44" cy="743.76" r="3.58" fill="#72a9dc" stroke="none" stroke-width="0" fill-opacity="0.8"/>
<circle cx="326.04" cy="740.84" r="3.49" fill="#9ccbef" stroke="none" stroke-width="0" fill-opacity="0.8"/>
<circle cx="323.17" cy="743.69" r="2.67" fill="#72a9dc" stroke="none" stroke-width="0" fill-opacity="0.8"/>
<circle cx="324.79" cy="742.01" r="3.29" fill="#9ccbef" stroke="none" stroke-width="0" fill-opacity="0.8"/>
<circle cx="321.98" cy="744.63" r="3.21" fill="#9ccbef" stroke="none" stroke-width="0" fill-opacity="0.8"/>
<circle cx="326.58" cy="739.92" r="3.53" fill="#72a9dc" stroke="none" stroke-width="0" fill-opacity="0.8"/>
<circle cx="322.06" cy="743.78" r="2.60" fill="#9ccbef" stroke="none" stroke-width="0" fill-opacity="0.8"/>
<circle cx="325.32" cy="740.39" r="2.59" fill="#72a9dc" stroke="none" stroke-width="0" fill-opacity="0.8"/>
<circle cx="324.40" cy="740.96" r="2.21" fill="#9ccbef" stroke="none" stroke-width="0" fill-opacity="0.8"/>
<circle cx="326.60" cy="738.52" r="2.88" fill="#72a9dc" stroke="none" stroke-width="0" fill-opacity="0.8"/>
<circle cx="325.08" cy="739.65" r="2.45" fill="#72a9dc" stroke="none" stroke-width="0" fill-opacity="0.8"/>
<circle cx="320.93" cy="743.47" r="2.79" fill="#9ccbef" stroke="none" stroke-width="0" fill-opacity="0.8"/>
<circle cx="323.15" cy="741.17" r="3.15" fill="#72a9dc" stroke="none" stroke-width="0" fill-opacity="0.8"/>
<circle cx="322.55" cy="741.70" r="2.87" fill="#72a9dc" stroke="none" stroke-width="0" fill-opacity="0.8"/>
<circle cx="320.95" cy="743.28" r="3.04" fill="#9ccbef" stroke="none" stroke-width="0" fill-opacity="0.8"/>
<circle cx="322.89" cy="741.25" r="2.52" fill="#9ccbef" stroke="none" stroke-width="0" fill-opacity="0.8"/>
<circle cx="320.17" cy="743.90" r="2.92" fill="#72a9dc" stroke="none" stroke-width="0" fill-opacity="0.8"/>
<circle cx="326.36" cy="737.64" r="3.54" fill="#72a9dc" stroke="none" stroke-width="0" fill-opacity="0.8"/>
<circle cx="326.35" cy="737.45" r="3.26" fill="#72a9dc" stroke="none" stroke-width="0" fill-opacity="0.8"/>
<circle cx="322.99" cy="740.27" r="2.27" fill="#9ccbef" stroke="none" stroke-width="0" fill-opacity="0.8"/>
<circle cx="325.23" cy="737.68" r="2.41" fill="#9ccbef" stroke="none" stroke-width="0" fill-opacity="0.8"/>
<circle cx="320.03" cy="742.75" r="3.16" fill="#72a9dc" stroke="none" stroke-width="0" fill-opacity="0.8"/>
<circle cx="323.38" cy="739.15" r="2.54" fill="#9ccbef" stroke="none" stroke-width="0" fill-opacity="0.8"/>
<circle cx="324.71" cy="737.41" r="2.48" fill="#9ccbef" stroke="none" stroke-width="0" fill-opacity="0.8"/>
<circle cx="318.80" cy="743.13" r="2.75" fill="#9ccbef" stroke="none" stroke-width="0" fill-opacity="0.8"/>
<circle cx="319.29" cy="742.38" r="2.25" fill="#9ccbef" stroke="none" stroke-width="0" fill-opacity="0.8"/>
<circle cx="319.86" cy="740.56" r="2.77" fill="#9ccbef" stroke="none" stroke-width="0" fill-opacity="0.8"/>
<circle cx="320.03" cy="740.15" r="3.40" fill="#72a9dc" stroke="none" stroke-width="0" fill-opacity="0.8"/>
<circle cx="317.78" cy="742.22" r="2.84" fill="#72a9dc" stroke="none" stroke-width="0" fill-opacity="0.8"/>
<circle cx="317.80" cy="742.02" r="2.97" fill="#72a9dc" stroke="none" stroke-width="0" fill-opacity="0.8"/>
<circle cx="324.27" cy="735.36" r="2.76" fill="#9ccbef" stroke="none" stroke-width="0" fill-opacity="0.8"/>
<circle cx="323.76" cy="735.67" r="3.36" fill="#72a9dc" stroke="none" stroke-width="0" fill-opacity="0.8"/>
<circle cx="324.46" cy="734.80" r="2.38" fill="#72a9dc" stroke="none" stroke-width="0" fill-opacity="0.8"/>
<circle cx="319.46" cy="739.69" r="3.58" fill="#72a9dc" stroke="none" stroke-width="0" fill-opacity="0.8"/>
<circle cx="318.71" cy="740.35" r="2.24" fill="#72a9dc" stroke="none" stroke-width="0" fill-opacity="0.8"/>
<circle cx="322.74" cy="735.89" r="3.37" fill="#9ccbef" stroke="none" stroke-width="0" fill-opacity="0.8"/>
<circle cx="323.09" cy="735.39" r="3.15" fill="#9ccbef" stroke="none" stroke-width="0" fill-opacity="0.8"/>
<circle cx="320.43" cy="737.48" r="3.47" fill="#9ccbef" stroke="none" stroke-width="0" fill-opacity="0.8"/>
<circle cx="317.22" cy="740.51" r="2.81" fill="#72a9dc" stroke="none" stroke-width="0" fill-opacity="0.8"/>
<circle cx="318.08" cy="739.29" r="3.26" fill="#9ccbef" stroke="none" stroke-width="0" fill-opacity="0.8"/>
<circle cx="317.95" cy="738.89" r="3.29" fill="#72a9dc" stroke="none" stroke-width="0" fill-opacity="0.8"/>
<circle cx="320.41" cy="736.39" r="3.46" fill="#72a9dc" stroke="none" stroke-width="0" fill-opacity="0.8"/>
<circle cx="315.95" cy="739.28" r="2.59" fill="#9ccbef" stroke="none" stroke-width="0" fill-opacity="0.8"/>
<circle cx="316.28" cy="738.95" r="2.66" fill="#9ccbef" stroke="none" stroke-width="0" fill-opacity="0.8"/>
<circle cx="322.55" cy="732.71" r="3.05" fill="#72a9dc" stroke="none" stroke-width="0" fill-opacity="0.8"/>
<circle cx="320.05" cy="734.70" r="3.06" fill="#9ccbef" stroke="none" stroke-width="0" fill-opacity="0.8"/>
<circle cx="323.26" cy="731.93" r="3.39" fill="#72a9dc" stroke="none" stroke-width="0" fill-opacity="0.8"/>
<circle cx="318.31" cy="735.81" r="3.22" fill="#72a9dc" stroke="none" stroke-width="0" fill-opacity="0.8"/>
<circle cx="314.91" cy="738.05" r="2.67" fill="#72a9dc" stroke="none" stroke-width="0" fill-opacity="0.8"/>
<circle cx="317.29" cy="735.59" r="2.82" fill="#72a9dc" stroke="none" stroke-width="0" fill-opacity="0.8"/>
<circle cx="316.31" cy="735.86" r="3.24" fill="#72a9dc" stroke="none" stroke-width="0" fill-opacity="0.8"/>
<circle cx="316.45" cy="735.63" r="3.06" fill="#72a9dc" stroke="none" stroke-width="0" fill-opacity="0.8"/>
<circle cx="317.05" cy="735.09" r="3.48" fill="#72a9dc" stroke="none" stroke-width="0" fill-opacity="0.8"/>
<circle cx="314.79" cy="736.35" r="2.96" fill="#72a9dc" stroke="none" stroke-width="0" fill-opacity="0.8"/>
<circle cx="320.08" cy="732.26" r="3.05" fill="#9ccbef" stroke="none" stroke-width="0" fill-opacity="0.8"/>
<circle cx="317.30" cy="733.70" r="3.37" fill="#9ccbef" stroke="none" stroke-width="0" fill-opacity="0.8"/>
<circle cx="319.19" cy="732.18" r="2.76" fill="#72a9dc" stroke="none" stroke-width="0" fill-opacity="0.8"/>
<circle cx="312.67" cy="736.91" r="2.47" fill="#9ccbef" stroke="none" stroke-width="0" fill-opacity="0.8"/>
<circle cx="314.70" cy="734.88" r="2.87" fill="#5890c6" stroke="none" stroke-width="0" fill-opacity="0.8"/>
<circle cx="317.14" cy="732.31" r="2.73" fill="#5890c6" stroke="none" stroke-width="0" fill-opacity="0.8"/>
<circle cx="320.40" cy="729.63" r="3.49" fill="#72a9dc" stroke="none" stroke-width="0" fill-opacity="0.8"/>
<circle cx="316.61" cy="731.68" r="2.49" fill="#72a9dc" stroke="none" stroke-width="0" fill-opacity="0.8"/>
<circle cx="320.10" cy="729.10" r="2.26" fill="#72a9dc" stroke="none" stroke-width="0" fill-opacity="0.8"/>
<circle cx="313.69" cy="733.39" r="2.41" fill="#72a9dc" stroke="none" stroke-width="0" fill-opacity="0.8"/>
<circle cx="313.67" cy="733.19" r="2.32" fill="#72a9dc" stroke="none" stroke-width="0" fill-opacity="0.8"/>
<circle cx="312.98" cy="733.59" r="3.24" fill="#72a9dc" stroke="none" stroke-width="0" fill-opacity="0.8"/>
<circle cx="310.08" cy="735.67" r="2.74" fill="#72a9dc" stroke="none" stroke-width="0" fill-opacity="0.8"/>
<circle cx="319.99" cy="727.97" r="3.29" fill="#72a9dc" stroke="none" stroke-width="0" fill-opacity="0.8"/>
<circle cx="316.54" cy="730.43" r="3.31" fill="#72a9dc" stroke="none" stroke-width="0" fill-opacity="0.8"/>
<circle cx="309.68" cy="735.01" r="2.75" fill="#5890c6" stroke="none" stroke-width="0" fill-opacity="0.8"/>
<circle cx="319.11" cy="727.76" r="3.38" fill="#5890c6" stroke="none" stroke-width="0" fill-opacity="0.8"/>
<circle cx="319.67" cy="726.74" r="2.73" fill="#5890c6" stroke="none" stroke-width="0" fill-opacity="0.8"/>
<circle cx="319.42" cy="726.79" r="2.85" fill="#72a9dc" stroke="none" stroke-width="0" fill-opacity="0.8"/>
<circle cx="315.54" cy="729.42" r="3.00" fill="#5890c6" stroke="none" stroke-width="0" fill-opacity="0.8"/>
<circle cx="309.16" cy="733.93" r="3.10" fill="#5890c6" stroke="none" stroke-width="0" fill-opacity="0.8"/>
<circle cx="312.46" cy="731.49" r="2.33" fill="#72a9dc" stroke="none" stroke-width="0" fill-opacity="0.8"/>
<circle cx="308.13" cy="733.74" r="2.51" fill="#5890c6" stroke="none" stroke-width="0" fill-opacity="0.8"/>
<circle cx="312.28" cy="730.33" r="3.49" fill="#72a9dc" stroke="none" stroke-width="0" fill-opacity="0.8"/>
<circle cx="308.21" cy="732.99" r="2.64" fill="#72a9dc" stroke="none" stroke-width="0" fill-opacity="0.8"/>
<circle cx="311.28" cy="730.44" r="2.62" fill="#72a9dc" stroke="none" stroke-width="0" fill-opacity="0.8"/>
<circle cx="312.18" cy="729.78" r="2.53" fill="#72a9dc" stroke="none" stroke-width="0" fill-opacity="0.8"/>
<circle cx="313.00" cy="728.94" r="2.37" fill="#72a9dc" stroke="none" stroke-width="0" fill-opacity="0.8"/>
<circle cx="318.42" cy="724.84" r="2.98" fill="#5890c6" stroke="none" stroke-width="0" fill-opacity="0.8"/>
<circle cx="317.07" cy="725.76" r="2.71" fill="#72a9dc" stroke="none" stroke-width="0" fill-opacity="0.8"/>
<circle cx="318.46" cy="724.14" r="3.04" fill="#5890c6" stroke="none" stroke-width="0" fill-opacity="0.8"/>
<circle cx="307.19" cy="731.75" r="3.24" fill="#72a9dc" stroke="none" stroke-width="0" fill-opacity="0.8"/>
<circle cx="315.76" cy="725.66" r="2.39" fill="#72a9dc" stroke="none" stroke-width="0" fill-opacity="0.8"/>
<circle cx="318.81" cy="722.87" r="2.80" fill="#72a9dc" stroke="none" stroke-width="0" fill-opacity="0.8"/>
<circle cx="316.80" cy="724.17" r="2.39" fill="#72a9dc" stroke="none" stroke-width="0" fill-opacity="0.8"/>
<circle cx="310.25" cy="727.96" r="3.00" fill="#72a9dc" stroke="none" stroke-width="0" fill-opacity="0.8"/>
<circle cx="313.23" cy="725.58" r="3.12" fill="#72a9dc" stroke="none" stroke-width="0" fill-opacity="0.8"/>
<circle cx="304.68" cy="731.10" r="2.26" fill="#5890c6" stroke="none" stroke-width="0" fill-opacity="0.8"/>
<circle cx="309.53" cy="727.68" r="3.25" fill="#72a9dc" stroke="none" stroke-width="0" fill-opacity="0.8"/>
<circle cx="313.03" cy="725.32" r="2.46" fill="#72a9dc" stroke="none" stroke-width="0" fill-opacity="0.8"/>
<circle cx="306.93" cy="727.25" r="2.29" fill="#5890c6" stroke="none" stroke-width="0" fill-opacity="0.8"/>
<circle cx="310.39" cy="725.05" r="3.43" fill="#72a9dc" stroke="none" stroke-width="0" fill-opacity="0.8"/>
<circle cx="312.84" cy="722.95" r="2.79" fill="#5890c6" stroke="none" stroke-width="0" fill-opacity="0.8"/>
<circle cx="317.13" cy="720.21" r="3.35" fill="#72a9dc" stroke="none" stroke-width="0" fill-opacity="0.8"/>
<circle cx="313.94" cy="722.17" r="2.91" fill="#72a9dc" stroke="none" stroke-width="0" fill-opacity="0.8"/>
<circle cx="303.69" cy="728.54" r="3.56" fill="#72a9dc" stroke="none" stroke-width="0" fill-opacity="0.8"/>
<circle cx="306.97" cy="726.19" r="3.22" fill="#72a9dc" stroke="none" stroke-width="0" fill-opacity="0.8"/>
<circle cx="306.17" cy="726.68" r="2.21" fill="#72a9dc" stroke="none" stroke-width="0" fill-opacity="0.8"/>
<circle cx="305.00" cy="726.60" r="2.82" fill="#5890c6" stroke="none" stroke-width="0" fill-opacity="0.8"/>
<circle cx="311.72" cy="721.76" r="3.17" fill="#5890c6" stroke="none" stroke-width="0" fill-opacity="0.8"/>
<circle cx="305.89" cy="725.29" r="3.57" fill="#72a9dc" stroke="none" stroke-width="0" fill-opacity="0.8"/>
<circle cx="310.41" cy="722.40" r="3.54" fill="#5890c6" stroke="none" stroke-width="0" fill-opacity="0.8"/>
<circle cx="313.24" cy="720.48" r="2.82" fill="#5890c6" stroke="none" stroke-width="0" fill-opacity="0.8"/>
<circle cx="309.03" cy="722.68" r="3.51" fill="#72a9dc" stroke="none" stroke-width="0" fill-opacity="0.8"/>
<circle cx="312.92" cy="719.98" r="2.87" fill="#5890c6" stroke="none" stroke-width="0" fill-opacity="0.8"/>
<circle cx="308.31" cy="722.05" r="3.10" fill="#5890c6" stroke="none" stroke-width="0" fill-opacity="0.8"/>
<circle cx="306.42" cy="723.17" r="3.45" fill="#72a9dc" stroke="none" stroke-width="0" fill-opacity="0.8"/>
<circle cx="304.24" cy="724.08" r="3.53" fill="#72a9dc" stroke="none" stroke-width="0" fill-opacity="0.8"/>
<circle cx="311.57" cy="719.13" r="3.39" fill="#5890c6" stroke="none" stroke-width="0" fill-opacity="0.8"/>
<circle cx="307.03" cy="721.28" r="3.06" fill="#72a9dc" stroke="none" stroke-width="0" fill-opacity="0.8"/>
<circle cx="306.89" cy="721.36" r="2.85" fill="#72a9dc" stroke="none" stroke-width="0" fill-opacity="0.8"/>
<circle cx="313.38" cy="717.21" r="2.43" fill="#5890c6" stroke="none" stroke-width="0" fill-opacity="0.8"/>
<circle cx="304.29" cy="722.82" r="2.97" fill="#72a9dc" stroke="none" stroke-width="0" fill-opacity="0.8"/>
<circle cx="306.97" cy="721.00" r="2.61" fill="#5890c6" stroke="none" stroke-width="0" fill-opacity="0.8"/>
<circle cx="311.44" cy="717.99" r="3.31" fill="#5890c6" stroke="none" stroke-width="0" fill-opacity="0.8"/>
<circle cx="301.70" cy="723.90" r="3.44" fill="#72a9dc" stroke="none" stroke-width="0" fill-opacity="0.8"/>
<circle cx="311.69" cy="716.78" r="2.35" fill="#72a9dc" stroke="none" stroke-width="0" fill-opacity="0.8"/>
<circle cx="307.31" cy="719.44" r="3.47" fill="#72a9dc" stroke="none" stroke-width="0" fill-opacity="0.8"/>
<circle cx="306.89" cy="719.59" r="3.48" fill="#72a9dc" stroke="none" stroke-width="0" fill-opacity="0.8"/>
<circle cx="299.81" cy="723.59" r="2.23" fill="#5890c6" stroke="none" stroke-width="0" fill-opacity="0.8"/>
<circle cx="310.36" cy="716.81" r="2.56" fill="#72a9dc" stroke="none" stroke-width="0" fill-opacity="0.8"/>
<circle cx="299.84" cy="723.50" r="2.92" fill="#72a9dc" stroke="none" stroke-width="0" fill-opacity="0.8"/>
<circle cx="310.11" cy="715.89" r="3.36" fill="#72a9dc" stroke="none" stroke-width="0" fill-opacity="0.8"/>
<circle cx="310.92" cy="714.86" r="2.81" fill="#5890c6" stroke="none" stroke-width="0" fill-opacity="0.8"/>
<circle cx="307.33" cy="716.89" r="2.22" fill="#72a9dc" stroke="none" stroke-width="0" fill-opacity="0.8"/>
<circle cx="300.93" cy="720.78" r="2.39" fill="#72a9dc" stroke="none" stroke-width="0" fill-opacity="0.8"/>
<circle cx="304.19" cy="718.68" r="3.10" fill="#72a9dc" stroke="none" stroke-width="0" fill-opacity="0.8"/>
<circle cx="312.13" cy="713.44" r="3.47" fill="#5890c6" stroke="none" stroke-width="0" fill-opacity="0.8"/>
<circle cx="312.44" cy="713.03" r="2.72" fill="#72a9dc" stroke="none" stroke-width="0" fill-opacity="0.8"/>
<circle cx="299.20" cy="721.19" r="3.14" fill="#72a9dc" stroke="none" stroke-width="0" fill-opacity="0.8"/>
<circle cx="312.88" cy="712.69" r="3.22" fill="#5890c6" stroke="none" stroke-width="0" fill-opacity="0.8"/>
<circle cx="301.41" cy="719.24" r="2.90" fill="#72a9dc" stroke="none" stroke-width="0" fill-opacity="0.8"/>
<circle cx="307.95" cy="715.16" r="3.44" fill="#5890c6" stroke="none" stroke-width="0" fill-opacity="0.8"/>
<circle cx="310.25" cy="713.10" r="2.40" fill="#5890c6" stroke="none" stroke-width="0" fill-opacity="0.8"/>
<circle cx="306.61" cy="715.25" r="2.33" fill="#5890c6" stroke="none" stroke-width="0" fill-opacity="0.8"/>
<circle cx="298.95" cy="719.60" r="2.44" fill="#72a9dc" stroke="none" stroke-width="0" fill-opacity="0.8"/>
<circle cx="301.53" cy="717.79" r="3.14" fill="#5890c6" stroke="none" stroke-width="0" fill-opacity="0.8"/>
<circle cx="304.16" cy="715.56" r="3.52" fill="#72a9dc" stroke="none" stroke-width="0" fill-opacity="0.8"/>
<circle cx="299.61" cy="717.60" r="3.52" fill="#5890c6" stroke="none" stroke-width="0" fill-opacity="0.8"/>
<circle cx="301.76" cy="716.37" r="2.63" fill="#5890c6" stroke="none" stroke-width="0" fill-opacity="0.8"/>
<circle cx="304.67" cy="714.53" r="2.60" fill="#72a9dc" stroke="none" stroke-width="0" fill-opacity="0.8"/>
<circle cx="303.56" cy="714.85" r="2.34" fill="#5890c6" stroke="none" stroke-width="0" fill-opacity="0.8"/>
<circle cx="308.55" cy="712.06" r="2.47" fill="#72a9dc" stroke="none" stroke-width="0" fill-opacity="0.8"/>
<circle cx="310.02" cy="711.12" r="3.07" fill="#5890c6" stroke="none" stroke-width="0" fill-opacity="0.8"/>
<circle cx="304.01" cy="714.35" r="3.55" fill="#5890c6" stroke="none" stroke-width="0" fill-opacity="0.8"/>
<circle cx="303.03" cy="714.44" r="3.00" fill="#5890c6" stroke="none" stroke-width="0" fill-opacity="0.8"/>
<circle cx="309.37" cy="710.92" r="3.23" fill="#5890c6" stroke="none" stroke-width="0" fill-opacity="0.8"/>
<circle cx="299.18" cy="716.28" r="2.76" fill="#72a9dc" stroke="none" stroke-width="0" fill-opacity="0.8"/>
<circle cx="296.85" cy="717.34" r="2.46" fill="#72a9dc" stroke="none" stroke-width="0" fill-opacity="0.8"/>
<circle cx="309.40" cy="710.16" r="3.16" fill="#5890c6" stroke="none" stroke-width="0" fill-opacity="0.8"/>
<circle cx="296.46" cy="716.12" r="2.36" fill="#5890c6" stroke="none" stroke-width="0" fill-opacity="0.8"/>
<circle cx="294.94" cy="716.46" r="3.28" fill="#72a9dc" stroke="none" stroke-width="0" fill-opacity="0.8"/>
<circle cx="301.82" cy="712.24" r="3.51" fill="#5890c6" stroke="none" stroke-width="0" fill-opacity="0.8"/>
<circle cx="296.64" cy="714.68" r="2.61" fill="#5890c6" stroke="none" stroke-width="0" fill-opacity="0.8"/>
<circle cx="309.53" cy="707.55" r="3.53" fill="#5890c6" stroke="none" stroke-width="0" fill-opacity="0.8"/>
<circle cx="300.35" cy="712.29" r="3.44" fill="#72a9dc" stroke="none" stroke-width="0" fill-opacity="0.8"/>
<circle cx="300.85" cy="711.82" r="3.42" fill="#72a9dc" stroke="none" stroke-width="0" fill-opacity="0.8"/>
<circle cx="305.84" cy="708.73" r="2.44" fill="#5890c6" stroke="none" stroke-width="0" fill-opacity="0.8"/>
<circle cx="308.43" cy="706.55" r="2.63" fill="#72a9dc" stroke="none" stroke-width="0" fill-opacity="0.8"/>
<circle cx="295.27" cy="713.58" r="2.94" fill="#72a9dc" stroke="none" stroke-width="0" fill-opacity="0.8"/>
<circle cx="301.05" cy="710.37" r="2.59" fill="#72a9dc" stroke="none" stroke-width="0" fill-opacity="0.8"/>
<circle cx="301.56" cy="709.50" r="3.20" fill="#5890c6" stroke="none" stroke-width="0" fill-opacity="0.8"/>
<circle cx="301.24" cy="709.60" r="3.42" fill="#5890c6" stroke="none" stroke-width="0" fill-opacity="0.8"/>
<circle cx="307.77" cy="705.08" r="2.24" fill="#72a9dc" stroke="none" stroke-width="0" fill-opacity="0.8"/>
<circle cx="294.78" cy="711.71" r="3.26" fill="#72a9dc" stroke="none" stroke-width="0" fill-opacity="0.8"/>
<circle cx="302.27" cy="707.51" r="2.65" fill="#72a9dc" stroke="none" stroke-width="0" fill-opacity="0.8"/>
<circle cx="305.30" cy="705.34" r="3.40" fill="#72a9dc" stroke="none" stroke-width="0" fill-opacity="0.8"/>
<circle cx="305.98" cy="704.79" r="2.23" fill="#5890c6" stroke="none" stroke-width="0" fill-opacity="0.8"/>
<circle cx="300.74" cy="707.55" r="2.39" fill="#72a9dc" stroke="none" stroke-width="0" fill-opacity="0.8"/>
<circle cx="301.26" cy="707.04" r="3.45" fill="#5890c6" stroke="none" stroke-width="0" fill-opacity="0.8"/>
<circle cx="303.01" cy="705.95" r="3.54" fill="#5890c6" stroke="none" stroke-width="0" fill-opacity="0.8"/>
<circle cx="306.99" cy="703.47" r="3.52" fill="#72a9dc" stroke="none" stroke-width="0" fill-opacity="0.8"/>
<circle cx="303.73" cy="705.09" r="2.20" fill="#5890c6" stroke="none" stroke-width="0" fill-opacity="0.8"/>
<circle cx="303.38" cy="704.97" r="2.63" fill="#5890c6" stroke="none" stroke-width="0" fill-opacity="0.8"/>
<circle cx="301.16" cy="706.15" r="2.82" fill="#5890c6" stroke="none" stroke-width="0" fill-opacity="0.8"/>
<circle cx="292.03" cy="710.98" r="2.86" fill="#5890c6" stroke="none" stroke-width="0" fill-opacity="0.8"/>
<circle cx="297.13" cy="707.71" r="3.03" fill="#5890c6" stroke="none" stroke-width="0" fill-opacity="0.8"/>
<circle cx="293.36" cy="709.40" r="2.84" fill="#72a9dc" stroke="none" stroke-width="0" fill-opacity="0.8"/>
<circle cx="293.34" cy="709.03" r="2.95" fill="#72a9dc" stroke="none" stroke-width="0" fill-opacity="0.8"/>
<circle cx="302.49" cy="704.25" r="2.61" fill="#5890c6" stroke="none" stroke-width="0" fill-opacity="0.8"/>
<circle cx="301.37" cy="704.23" r="3.21" fill="#72a9dc" stroke="none" stroke-width="0" fill-opacity="0.8"/>
<circle cx="302.28" cy="703.76" r="3.13" fill="#5890c6" stroke="none" stroke-width="0" fill-opacity="0.8"/>
<circle cx="293.55" cy="707.97" r="2.93" fill="#5890c6" stroke="none" stroke-width="0" fill-opacity="0.8"/>
<circle cx="297.81" cy="705.50" r="3.01" fill="#5890c6" stroke="none" stroke-width="0" fill-opacity="0.8"/>
<circle cx="304.74" cy="701.90" r="2.71" fill="#5890c6" stroke="none" stroke-width="0" fill-opacity="0.8"/>
<circle cx="305.87" cy="701.24" r="3.52" fill="#72a9dc" stroke="none" stroke-width="0" fill-opacity="0.8"/>
<circle cx="294.19" cy="706.02" r="2.84" fill="#72a9dc" stroke="none" stroke-width="0" fill-opacity="0.8"/>
<circle cx="299.80" cy="703.47" r="2.61" fill="#72a9dc" stroke="none" stroke-width="0" fill-opacity="0.8"/>
<circle cx="304.83" cy="701.16" r="2.91" fill="#72a9dc" stroke="none" stroke-width="0" fill-opacity="0.8"/>
<circle cx="295.29" cy="705.24" r="2.41" fill="#72a9dc" stroke="none" stroke-width="0" fill-opacity="0.8"/>
<circle cx="302.84" cy="701.99" r="3.37" fill="#72a9dc" stroke="none" stroke-width="0" fill-opacity="0.8"/>
<circle cx="301.09" cy="702.64" r="2.24" fill="#5890c6" stroke="none" stroke-width="0" fill-opacity="0.8"/>
<circle cx="302.59" cy="701.70" r="3.07" fill="#5890c6" stroke="none" stroke-width="0" fill-opacity="0.8"/>
<circle cx="292.97" cy="705.54" r="2.89" fill="#72a9dc" stroke="none" stroke-width="0" fill-opacity="0.8"/>
<circle cx="297.73" cy="702.88" r="2.93" fill="#72a9dc" stroke="none" stroke-width="0" fill-opacity="0.8"/>
<circle cx="291.25" cy="704.55" r="2.52" fill="#5890c6" stroke="none" stroke-width="0" fill-opacity="0.8"/>
<circle cx="299.88" cy="700.97" r="2.72" fill="#72a9dc" stroke="none" stroke-width="0" fill-opacity="0.8"/>
<circle cx="303.98" cy="699.07" r="3.17" fill="#5890c6" stroke="none" stroke-width="0" fill-opacity="0.8"/>
<circle cx="302.14" cy="699.71" r="3.20" fill="#5890c6" stroke="none" stroke-width="0" fill-opacity="0.8"/>
<circle cx="299.80" cy="700.62" r="3.32" fill="#72a9dc" stroke="none" stroke-width="0" fill-opacity="0.8"/>
<circle cx="293.42" cy="702.53" r="2.61" fill="#5890c6" stroke="none" stroke-width="0" fill-opacity="0.8"/>
<circle cx="296.61" cy="700.89" r="2.79" fill="#72a9dc" stroke="none" stroke-width="0" fill-opacity="0.8"/>
<circle cx="293.25" cy="702.22" r="2.36" fill="#72a9dc" stroke="none" stroke-width="0" fill-opacity="0.8"/>
<circle cx="290.18" cy="703.41" r="2.95" fill="#72a9dc" stroke="none" stroke-width="0" fill-opacity="0.8"/>
<circle cx="290.89" cy="702.79" r="3.37" fill="#5890c6" stroke="none" stroke-width="0" fill-opacity="0.8"/>
<circle cx="302.54" cy="698.10" r="3.22" fill="#72a9dc" stroke="none" stroke-width="0" fill-opacity="0.8"/>
<circle cx="295.27" cy="700.90" r="2.25" fill="#5890c6" stroke="none" stroke-width="0" fill-opacity="0.8"/>
<circle cx="296.92" cy="700.21" r="2.25" fill="#72a9dc" stroke="none" stroke-width="0" fill-opacity="0.8"/>
<circle cx="294.51" cy="700.92" r="3.49" fill="#72a9dc" stroke="none" stroke-width="0" fill-opacity="0.8"/>
<circle cx="303.03" cy="697.24" r="2.87" fill="#5890c6" stroke="none" stroke-width="0" fill-opacity="0.8"/>
<circle cx="294.88" cy="700.12" r="2.33" fill="#5890c6" stroke="none" stroke-width="0" fill-opacity="0.8"/>
<circle cx="292.80" cy="700.77" r="3.10" fill="#5890c6" stroke="none" stroke-width="0" fill-opacity="0.8"/>
<circle cx="301.76" cy="697.10" r="3.16" fill="#5890c6" stroke="none" stroke-width="0" fill-opacity="0.8"/>
<circle cx="291.41" cy="701.16" r="3.26" fill="#72a9dc" stroke="none" stroke-width="0" fill-opacity="0.8"/>
<circle cx="292.10" cy="700.48" r="2.86" fill="#72a9dc" stroke="none" stroke-width="0" fill-opacity="0.8"/>
<circle cx="296.73" cy="698.57" r="2.27" fill="#72a9dc" stroke="none" stroke-width="0" fill-opacity="0.8"/>
<circle cx="298.00" cy="697.88" r="2.76" fill="#72a9dc" stroke="none" stroke-width="0" fill-opacity="0.8"/>
<circle cx="299.45" cy="697.18" r="3.22" fill="#5890c6" stroke="none" stroke-width="0" fill-opacity="0.8"/>
<circle cx="302.71" cy="695.26" r="2.38" fill="#5890c6" stroke="none" stroke-width="0" fill-opacity="0.8"/>
<circle cx="300.91" cy="694.53" r="3.31" fill="#72a9dc" stroke="none" stroke-width="0" fill-opacity="0.8"/>
<circle cx="290.07" cy="698.77" r="2.52" fill="#72a9dc" stroke="none" stroke-width="0" fill-opacity="0.8"/>
<circle cx="294.69" cy="696.42" r="3.46" fill="#72a9dc" stroke="none" stroke-width="0" fill-opacity="0.8"/>
<circle cx="295.19" cy="696.17" r="2.65" fill="#5890c6" stroke="none" stroke-width="0" fill-opacity="0.8"/>
<circle cx="290.89" cy="697.76" r="2.80" fill="#72a9dc" stroke="none" stroke-width="0" fill-opacity="0.8"/>
<circle cx="291.50" cy="696.81" r="2.23" fill="#5890c6" stroke="none" stroke-width="0" fill-opacity="0.8"/>
<circle cx="292.21" cy="696.09" r="3.08" fill="#5890c6" stroke="none" stroke-width="0" fill-opacity="0.8"/>
<circle cx="297.48" cy="693.74" r="2.30" fill="#5890c6" stroke="none" stroke-width="0" fill-opacity="0.8"/>
<circle cx="291.00" cy="696.05" r="3.09" fill="#5890c6" stroke="none" stroke-width="0" fill-opacity="0.8"/>
<circle cx="294.63" cy="694.42" r="3.51" fill="#72a9dc" stroke="none" stroke-width="0" fill-opacity="0.8"/>
<circle cx="289.83" cy="695.98" r="2.31" fill="#5890c6" stroke="none" stroke-width="0" fill-opacity="0.8"/>
<circle cx="289.42" cy="695.37" r="2.89" fill="#5890c6" stroke="none" stroke-width="0" fill-opacity="0.8"/>
<circle cx="297.01" cy="692.09" r="2.42" fill="#5890c6" stroke="none" stroke-width="0" fill-opacity="0.8"/>
<circle cx="298.27" cy="691.53" r="2.96" fill="#72a9dc" stroke="none" stroke-width="0" fill-opacity="0.8"/>
<circle cx="292.57" cy="693.87" r="3.49" fill="#72a9dc" stroke="none" stroke-width="0" fill-opacity="0.8"/>
<circle cx="292.41" cy="693.89" r="3.34" fill="#72a9dc" stroke="none" stroke-width="0" fill-opacity="0.8"/>
<circle cx="298.61" cy="691.12" r="2.24" fill="#72a9dc" stroke="none" stroke-width="0" fill-opacity="0.8"/>
<circle cx="297.56" cy="691.56" r="3.30" fill="#72a9dc" stroke="none" stroke-width="0" fill-opacity="0.8"/>
<circle cx="290.27" cy="694.62" r="3.03" fill="#5890c6" stroke="none" stroke-width="0" fill-opacity="0.8"/>
<circle cx="292.73" cy="693.31" r="3.51" fill="#5890c6" stroke="none" stroke-width="0" fill-opacity="0.8"/>
<circle cx="291.31" cy="693.76" r="3.18" fill="#5890c6" stroke="none" stroke-width="0" fill-opacity="0.8"/>
<circle cx="291.85" cy="693.20" r="2.33" fill="#72a9dc" stroke="none" stroke-width="0" fill-opacity="0.8"/>
<circle cx="298.06" cy="690.39" r="2.85" fill="#72a9dc" stroke="none" stroke-width="0" fill-opacity="0.8"/>
<circle cx="296.41" cy="690.94" r="2.54" fill="#72a9dc" stroke="none" stroke-width="0" fill-opacity="0.8"/>
<circle cx="294.03" cy="691.88" r="3.56" fill="#72a9dc" stroke="none" stroke-width="0" fill-opacity="0.8"/>
<circle cx="294.95" cy="691.18" r="2.80" fill="#5890c6" stroke="none" stroke-width="0" fill-opacity="0.8"/>
<circle cx="294.88" cy="690.99" r="3.46" fill="#72a9dc" stroke="none" stroke-width="0" fill-opacity="0.8"/>
<circle cx="289.79" cy="693.04" r="2.68" fill="#72a9dc" stroke="none" stroke-width="0" fill-opacity="0.8"/>
<circle cx="289.82" cy="692.98" r="2.68" fill="#5890c6" stroke="none" stroke-width="0" fill-opacity="0.8"/>
<circle cx="289.96" cy="692.14" r="3.28" fill="#72a9dc" stroke="none" stroke-width="0" fill-opacity="0.8"/>
<circle cx="293.33" cy="690.67" r="2.94" fill="#72a9dc" stroke="none" stroke-width="0" fill-opacity="0.8"/>
<circle cx="294.21" cy="690.27" r="3.55" fill="#72a9dc" stroke="none" stroke-width="0" fill-opacity="0.8"/>
<circle cx="291.64" cy="691.35" r="3.39" fill="#5890c6" stroke="none" stroke-width="0" fill-opacity="0.8"/>
<circle cx="293.87" cy="690.12" r="2.39" fill="#72a9dc" stroke="none" stroke-width="0" fill-opacity="0.8"/>
<circle cx="290.87" cy="691.03" r="3.00" fill="#72a9dc" stroke="none" stroke-width="0" fill-opacity="0.8"/>
<circle cx="296.01" cy="688.77" r="2.62" fill="#72a9dc" stroke="none" stroke-width="0" fill-opacity="0.8"/>
<circle cx="290.31" cy="690.84" r="2.91" fill="#72a9dc" stroke="none" stroke-width="0" fill-opacity="0.8"/>
<circle cx="296.52" cy="688.14" r="2.50" fill="#72a9dc" stroke="none" stroke-width="0" fill-opacity="0.8"/>
<circle cx="291.83" cy="690.13" r="3.55" fill="#5890c6" stroke="none" stroke-width="0" fill-opacity="0.8"/>
<circle cx="291.69" cy="690.10" r="2.64" fill="#72a9dc" stroke="none" stroke-width="0" fill-opacity="0.8"/>
<circle cx="292.26" cy="689.80" r="2.86" fill="#72a9dc" stroke="none" stroke-width="0" fill-opacity="0.8"/>
<circle cx="295.34" cy="688.48" r="2.53" fill="#5890c6" stroke="none" stroke-width="0" fill-opacity="0.8"/>
<circle cx="296.21" cy="687.78" r="3.18" fill="#72a9dc" stroke="none" stroke-width="0" fill-opacity="0.8"/>
<circle cx="292.70" cy="688.84" r="2.74" fill="#5890c6" stroke="none" stroke-width="0" fill-opacity="0.8"/>
<circle cx="292.64" cy="688.68" r="2.81" fill="#72a9dc" stroke="none" stroke-width="0" fill-opacity="0.8"/>
<circle cx="289.92" cy="689.14" r="2.27" fill="#5890c6" stroke="none" stroke-width="0" fill-opacity="0.8"/>
<circle cx="374.24" cy="749.09" r="1.92" fill="#9ccbef" stroke="none" stroke-width="0" fill-opacity="0.8"/>
<circle cx="374.99" cy="749.69" r="2.17" fill="#9ccbef" stroke="none" stroke-width="0" fill-opacity="0.8"/>
<circle cx="375.59" cy="748.45" r="1.90" fill="#9ccbef" stroke="none" stroke-width="0" fill-opacity="0.8"/>
<circle cx="375.84" cy="748.88" r="2.17" fill="#9ccbef" stroke="none" stroke-width="0" fill-opacity="0.8"/>
<circle cx="376.60" cy="750.22" r="2.04" fill="#9ccbef" stroke="none" stroke-width="0" fill-opacity="0.8"/>
<circle cx="376.72" cy="750.95" r="2.06" fill="#9ccbef" stroke="none" stroke-width="0" fill-opacity="0.8"/>
<circle cx="377.28" cy="750.69" r="2.18" fill="#9ccbef" stroke="none" stroke-width="0" fill-opacity="0.8"/>
<circle cx="377.41" cy="751.05" r="2.13" fill="#9ccbef" stroke="none" stroke-width="0" fill-opacity="0.8"/>
<circle cx="377.59" cy="749.19" r="1.93" fill="#9ccbef" stroke="none" stroke-width="0" fill-opacity="0.8"/>
<circle cx="377.87" cy="750.64" r="2.59" fill="#9ccbef" stroke="none" stroke-width="0" fill-opacity="0.8"/>
<circle cx="378.31" cy="751.83" r="1.87" fill="#9ccbef" stroke="none" stroke-width="0" fill-opacity="0.8"/>
<circle cx="378.51" cy="751.81" r="2.56" fill="#9ccbef" stroke="none" stroke-width="0" fill-opacity="0.8"/>
<circle cx="378.32" cy="748.58" r="2.39" fill="#9ccbef" stroke="none" stroke-width="0" fill-opacity="0.8"/>
<circle cx="378.68" cy="751.16" r="2.58" fill="#9ccbef" stroke="none" stroke-width="0" fill-opacity="0.8"/>
<circle cx="378.77" cy="748.69" r="1.89" fill="#9ccbef" stroke="none" stroke-width="0" fill-opacity="0.8"/>
<circle cx="379.31" cy="749.73" r="1.98" fill="#9ccbef" stroke="none" stroke-width="0" fill-opacity="0.8"/>
<circle cx="379.96" cy="750.09" r="2.44" fill="#9ccbef" stroke="none" stroke-width="0" fill-opacity="0.8"/>
<circle cx="379.94" cy="749.18" r="2.51" fill="#9ccbef" stroke="none" stroke-width="0" fill-opacity="0.8"/>
<circle cx="380.46" cy="751.39" r="2.14" fill="#9ccbef" stroke="none" stroke-width="0" fill-opacity="0.8"/>
<circle cx="380.32" cy="749.95" r="1.81" fill="#9ccbef" stroke="none" stroke-width="0" fill-opacity="0.8"/>
<circle cx="380.23" cy="748.04" r="2.53" fill="#9ccbef" stroke="none" stroke-width="0" fill-opacity="0.8"/>
<circle cx="381.46" cy="747.88" r="2.51" fill="#9ccbef" stroke="none" stroke-width="0" fill-opacity="0.8"/>
<circle cx="381.95" cy="750.11" r="2.10" fill="#9ccbef" stroke="none" stroke-width="0" fill-opacity="0.8"/>
<circle cx="382.12" cy="750.89" r="1.80" fill="#9ccbef" stroke="none" stroke-width="0" fill-opacity="0.8"/>
<circle cx="381.85" cy="747.77" r="2.57" fill="#9ccbef" stroke="none" stroke-width="0" fill-opacity="0.8"/>
<circle cx="382.06" cy="748.62" r="2.32" fill="#9ccbef" stroke="none" stroke-width="0" fill-opacity="0.8"/>
<circle cx="382.34" cy="748.66" r="2.21" fill="#9ccbef" stroke="none" stroke-width="0" fill-opacity="0.8"/>
<circle cx="382.70" cy="750.09" r="2.39" fill="#9ccbef" stroke="none" stroke-width="0" fill-opacity="0.8"/>
<circle cx="382.65" cy="748.53" r="2.43" fill="#9ccbef" stroke="none" stroke-width="0" fill-opacity="0.8"/>
<circle cx="383.53" cy="750.58" r="2.32" fill="#9ccbef" stroke="none" stroke-width="0" fill-opacity="0.8"/>
<circle cx="384.61" cy="749.82" r="1.84" fill="#9ccbef" stroke="none" stroke-width="0" fill-opacity="0.8"/>
<circle cx="384.76" cy="748.11" r="1.90" fill="#9ccbef" stroke="none" stroke-width="0" fill-opacity="0.8"/>
<circle cx="384.86" cy="746.87" r="2.57" fill="#9ccbef" stroke="none" stroke-width="0" fill-opacity="0.8"/>
<circle cx="384.96" cy="747.12" r="2.33" fill="#9ccbef" stroke="none" stroke-width="0" fill-opacity="0.8"/>
<circle cx="385.86" cy="749.21" r="2.28" fill="#9ccbef" stroke="none" stroke-width="0" fill-opacity="0.8"/>
<circle cx="386.55" cy="749.81" r="2.37" fill="#9ccbef" stroke="none" stroke-width="0" fill-opacity="0.8"/>
<circle cx="386.04" cy="748.41" r="1.86" fill="#9ccbef" stroke="none" stroke-width="0" fill-opacity="0.8"/>
<circle cx="386.40" cy="748.79" r="2.08" fill="#9ccbef" stroke="none" stroke-width="0" fill-opacity="0.8"/>
<circle cx="385.88" cy="746.99" r="2.28" fill="#9ccbef" stroke="none" stroke-width="0" fill-opacity="0.8"/>
<circle cx="386.51" cy="748.14" r="2.21" fill="#9ccbef" stroke="none" stroke-width="0" fill-opacity="0.8"/>
<circle cx="386.49" cy="748.03" r="1.81" fill="#9ccbef" stroke="none" stroke-width="0" fill-opacity="0.8"/>
<circle cx="386.03" cy="746.27" r="2.58" fill="#9ccbef" stroke="none" stroke-width="0" fill-opacity="0.8"/>
<circle cx="386.46" cy="747.11" r="2.49" fill="#9ccbef" stroke="none" stroke-width="0" fill-opacity="0.8"/>
<circle cx="388.25" cy="750.00" r="2.51" fill="#9ccbef" stroke="none" stroke-width="0" fill-opacity="0.8"/>
<circle cx="387.42" cy="747.78" r="2.36" fill="#9ccbef" stroke="none" stroke-width="0" fill-opacity="0.8"/>
<circle cx="386.99" cy="746.77" r="2.12" fill="#9ccbef" stroke="none" stroke-width="0" fill-opacity="0.8"/>
<circle cx="387.44" cy="747.20" r="2.25" fill="#9ccbef" stroke="none" stroke-width="0" fill-opacity="0.8"/>
<circle cx="388.56" cy="748.86" r="2.45" fill="#9ccbef" stroke="none" stroke-width="0" fill-opacity="0.8"/>
<circle cx="387.81" cy="747.10" r="2.41" fill="#9ccbef" stroke="none" stroke-width="0" fill-opacity="0.8"/>
<circle cx="388.78" cy="748.61" r="1.86" fill="#9ccbef" stroke="none" stroke-width="0" fill-opacity="0.8"/>
<circle cx="388.99" cy="748.67" r="1.95" fill="#9ccbef" stroke="none" stroke-width="0" fill-opacity="0.8"/>
<circle cx="389.11" cy="748.83" r="1.88" fill="#9ccbef" stroke="none" stroke-width="0" fill-opacity="0.8"/>
<circle cx="389.54" cy="749.53" r="2.37" fill="#9ccbef" stroke="none" stroke-width="0" fill-opacity="0.8"/>
<circle cx="389.30" cy="748.95" r="1.96" fill="#9ccbef" stroke="none" stroke-width="0" fill-opacity="0.8"/>
<circle cx="387.98" cy="745.67" r="1.82" fill="#9ccbef" stroke="none" stroke-width="0" fill-opacity="0.8"/>
<circle cx="389.22" cy="747.96" r="2.04" fill="#9ccbef" stroke="none" stroke-width="0" fill-opacity="0.8"/>
<circle cx="389.30" cy="748.12" r="2.38" fill="#9ccbef" stroke="none" stroke-width="0" fill-opacity="0.8"/>
<circle cx="388.38" cy="745.39" r="2.59" fill="#9ccbef" stroke="none" stroke-width="0" fill-opacity="0.8"/>
<circle cx="388.77" cy="744.90" r="2.58" fill="#9ccbef" stroke="none" stroke-width="0" fill-opacity="0.8"/>
<circle cx="389.62" cy="746.47" r="1.85" fill="#9ccbef" stroke="none" stroke-width="0" fill-opacity="0.8"/>
<circle cx="390.52" cy="747.33" r="2.28" fill="#9ccbef" stroke="none" stroke-width="0" fill-opacity="0.8"/>
<circle cx="390.65" cy="747.59" r="2.22" fill="#9ccbef" stroke="none" stroke-width="0" fill-opacity="0.8"/>
<circle cx="389.91" cy="745.81" r="1.98" fill="#9ccbef" stroke="none" stroke-width="0" fill-opacity="0.8"/>
<circle cx="390.61" cy="747.28" r="1.90" fill="#9ccbef" stroke="none" stroke-width="0" fill-opacity="0.8"/>
<circle cx="391.60" cy="748.55" r="2.26" fill="#9ccbef" stroke="none" stroke-width="0" fill-opacity="0.8"/>
<circle cx="389.89" cy="744.69" r="1.81" fill="#9ccbef" stroke="none" stroke-width="0" fill-opacity="0.8"/>
<circle cx="390.48" cy="744.93" r="2.38" fill="#9ccbef" stroke="none" stroke-width="0" fill-opacity="0.8"/>
<circle cx="391.04" cy="745.87" r="2.56" fill="#9ccbef" stroke="none" stroke-width="0" fill-opacity="0.8"/>
<circle cx="391.39" cy="745.93" r="2.52" fill="#9ccbef" stroke="none" stroke-width="0" fill-opacity="0.8"/>
<circle cx="392.31" cy="747.58" r="2.26" fill="#9ccbef" stroke="none" stroke-width="0" fill-opacity="0.8"/>
<circle cx="391.89" cy="746.48" r="2.32" fill="#9ccbef" stroke="none" stroke-width="0" fill-opacity="0.8"/>
<circle cx="391.49" cy="744.71" r="2.43" fill="#9ccbef" stroke="none" stroke-width="0" fill-opacity="0.8"/>
<circle cx="393.42" cy="747.81" r="2.02" fill="#9ccbef" stroke="none" stroke-width="0" fill-opacity="0.8"/>
<circle cx="391.38" cy="743.92" r="2.54" fill="#9ccbef" stroke="none" stroke-width="0" fill-opacity="0.8"/>
<circle cx="391.77" cy="743.86" r="1.93" fill="#9ccbef" stroke="none" stroke-width="0" fill-opacity="0.8"/>
<circle cx="394.44" cy="747.12" r="2.39" fill="#9ccbef" stroke="none" stroke-width="0" fill-opacity="0.8"/>
<circle cx="394.67" cy="746.61" r="2.05" fill="#9ccbef" stroke="none" stroke-width="0" fill-opacity="0.8"/>
<circle cx="394.88" cy="746.55" r="1.89" fill="#9ccbef" stroke="none" stroke-width="0" fill-opacity="0.8"/>
<circle cx="394.23" cy="745.82" r="2.12" fill="#9ccbef" stroke="none" stroke-width="0" fill-opacity="0.8"/>
<circle cx="391.74" cy="742.98" r="2.17" fill="#9ccbef" stroke="none" stroke-width="0" fill-opacity="0.8"/>
<circle cx="394.64" cy="745.06" r="2.36" fill="#9ccbef" stroke="none" stroke-width="0" fill-opacity="0.8"/>
<circle cx="396.28" cy="745.22" r="2.19" fill="#9ccbef" stroke="none" stroke-width="0" fill-opacity="0.8"/>
<circle cx="395.04" cy="743.56" r="2.29" fill="#9ccbef" stroke="none" stroke-width="0" fill-opacity="0.8"/>
<circle cx="396.28" cy="744.56" r="2.47" fill="#9ccbef" stroke="none" stroke-width="0" fill-opacity="0.8"/>
<circle cx="393.07" cy="741.38" r="2.22" fill="#9ccbef" stroke="none" stroke-width="0" fill-opacity="0.8"/>
<circle cx="393.75" cy="741.59" r="2.07" fill="#9ccbef" stroke="none" stroke-width="0" fill-opacity="0.8"/>
<circle cx="393.84" cy="741.48" r="2.57" fill="#9ccbef" stroke="none" stroke-width="0" fill-opacity="0.8"/>
<circle cx="396.74" cy="743.74" r="2.27" fill="#9ccbef" stroke="none" stroke-width="0" fill-opacity="0.8"/>
<circle cx="397.82" cy="743.93" r="1.92" fill="#9ccbef" stroke="none" stroke-width="0" fill-opacity="0.8"/>
<circle cx="397.30" cy="742.59" r="1.97" fill="#9ccbef" stroke="none" stroke-width="0" fill-opacity="0.8"/>
<circle cx="393.99" cy="739.70" r="1.82" fill="#9ccbef" stroke="none" stroke-width="0" fill-opacity="0.8"/>
<circle cx="395.52" cy="740.99" r="2.16" fill="#9ccbef" stroke="none" stroke-width="0" fill-opacity="0.8"/>
<circle cx="396.41" cy="741.45" r="1.86" fill="#9ccbef" stroke="none" stroke-width="0" fill-opacity="0.8"/>
<circle cx="396.36" cy="741.39" r="2.19" fill="#9ccbef" stroke="none" stroke-width="0" fill-opacity="0.8"/>
<circle cx="397.07" cy="741.99" r="2.23" fill="#9ccbef" stroke="none" stroke-width="0" fill-opacity="0.8"/>
<circle cx="395.94" cy="740.51" r="1.89" fill="#9ccbef" stroke="none" stroke-width="0" fill-opacity="0.8"/>
<circle cx="395.66" cy="740.03" r="1.82" fill="#9ccbef" stroke="none" stroke-width="0" fill-opacity="0.8"/>
<circle cx="396.70" cy="740.34" r="2.10" fill="#9ccbef" stroke="none" stroke-width="0" fill-opacity="0.8"/>
<circle cx="394.87" cy="738.20" r="2.27" fill="#9ccbef" stroke="none" stroke-width="0" fill-opacity="0.8"/>
<circle cx="396.89" cy="739.34" r="2.21" fill="#9ccbef" stroke="none" stroke-width="0" fill-opacity="0.8"/>
<circle cx="399.92" cy="741.56" r="2.15" fill="#9ccbef" stroke="none" stroke-width="0" fill-opacity="0.8"/>
<circle cx="400.36" cy="741.05" r="2.29" fill="#9ccbef" stroke="none" stroke-width="0" fill-opacity="0.8"/>
<circle cx="396.11" cy="737.53" r="2.11" fill="#9ccbef" stroke="none" stroke-width="0" fill-opacity="0.8"/>
<circle cx="397.09" cy="738.10" r="1.91" fill="#9ccbef" stroke="none" stroke-width="0" fill-opacity="0.8"/>
<circle cx="396.06" cy="737.32" r="2.04" fill="#9ccbef" stroke="none" stroke-width="0" fill-opacity="0.8"/>
<circle cx="397.23" cy="738.04" r="2.00" fill="#9ccbef" stroke="none" stroke-width="0" fill-opacity="0.8"/>
<circle cx="398.34" cy="738.68" r="2.59" fill="#9ccbef" stroke="none" stroke-width="0" fill-opacity="0.8"/>
<circle cx="401.62" cy="740.66" r="2.06" fill="#9ccbef" stroke="none" stroke-width="0" fill-opacity="0.8"/>
<circle cx="400.74" cy="739.87" r="1.99" fill="#9ccbef" stroke="none" stroke-width="0" fill-opacity="0.8"/>
<circle cx="400.15" cy="739.45" r="2.48" fill="#9ccbef" stroke="none" stroke-width="0" fill-opacity="0.8"/>
<circle cx="396.11" cy="736.52" r="2.12" fill="#9ccbef" stroke="none" stroke-width="0" fill-opacity="0.8"/>
<circle cx="401.49" cy="740.11" r="3.55" fill="#9ccbef" stroke="none" stroke-width="0" fill-opacity="0.8"/>
<circle cx="398.45" cy="737.79" r="3.23" fill="#9ccbef" stroke="none" stroke-width="0" fill-opacity="0.8"/>
<circle cx="399.10" cy="737.41" r="3.42" fill="#9ccbef" stroke="none" stroke-width="0" fill-opacity="0.8"/>
<circle cx="402.40" cy="739.34" r="2.65" fill="#9ccbef" stroke="none" stroke-width="0" fill-opacity="0.8"/>
<circle cx="397.72" cy="736.45" r="2.76" fill="#9ccbef" stroke="none" stroke-width="0" fill-opacity="0.8"/>
<circle cx="401.48" cy="738.22" r="3.52" fill="#9ccbef" stroke="none" stroke-width="0" fill-opacity="0.8"/>
<circle cx="402.48" cy="738.75" r="2.78" fill="#9ccbef" stroke="none" stroke-width="0" fill-opacity="0.8"/>
<circle cx="397.25" cy="735.68" r="2.55" fill="#9ccbef" stroke="none" stroke-width="0" fill-opacity="0.8"/>
<circle cx="402.98" cy="738.89" r="2.71" fill="#9ccbef" stroke="none" stroke-width="0" fill-opacity="0.8"/>
<circle cx="402.83" cy="738.65" r="2.26" fill="#9ccbef" stroke="none" stroke-width="0" fill-opacity="0.8"/>
<circle cx="403.20" cy="737.86" r="2.94" fill="#9ccbef" stroke="none" stroke-width="0" fill-opacity="0.8"/>
<circle cx="399.29" cy="735.54" r="3.25" fill="#9ccbef" stroke="none" stroke-width="0" fill-opacity="0.8"/>
<circle cx="398.74" cy="734.98" r="2.71" fill="#9ccbef" stroke="none" stroke-width="0" fill-opacity="0.8"/>
<circle cx="397.84" cy="734.39" r="3.42" fill="#9ccbef" stroke="none" stroke-width="0" fill-opacity="0.8"/>
<circle cx="403.89" cy="737.64" r="3.12" fill="#72a9dc" stroke="none" stroke-width="0" fill-opacity="0.8"/>
<circle cx="401.85" cy="736.44" r="2.71" fill="#72a9dc" stroke="none" stroke-width="0" fill-opacity="0.8"/>
<circle cx="402.25" cy="736.44" r="3.10" fill="#9ccbef" stroke="none" stroke-width="0" fill-opacity="0.8"/>
<circle cx="400.75" cy="735.38" r="2.28" fill="#72a9dc" stroke="none" stroke-width="0" fill-opacity="0.8"/>
<circle cx="403.34" cy="736.30" r="2.98" fill="#9ccbef" stroke="none" stroke-width="0" fill-opacity="0.8"/>
<circle cx="402.64" cy="735.84" r="2.83" fill="#72a9dc" stroke="none" stroke-width="0" fill-opacity="0.8"/>
<circle cx="402.62" cy="735.38" r="2.58" fill="#72a9dc" stroke="none" stroke-width="0" fill-opacity="0.8"/>
<circle cx="398.81" cy="733.08" r="2.52" fill="#72a9dc" stroke="none" stroke-width="0" fill-opacity="0.8"/>
<circle cx="403.36" cy="735.20" r="3.57" fill="#72a9dc" stroke="none" stroke-width="0" fill-opacity="0.8"/>
<circle cx="400.77" cy="733.76" r="2.59" fill="#72a9dc" stroke="none" stroke-width="0" fill-opacity="0.8"/>
<circle cx="398.67" cy="732.48" r="3.34" fill="#72a9dc" stroke="none" stroke-width="0" fill-opacity="0.8"/>
<circle cx="397.94" cy="731.94" r="2.42" fill="#72a9dc" stroke="none" stroke-width="0" fill-opacity="0.8"/>
<circle cx="399.79" cy="732.55" r="2.61" fill="#72a9dc" stroke="none" stroke-width="0" fill-opacity="0.8"/>
<circle cx="406.13" cy="734.39" r="2.25" fill="#9ccbef" stroke="none" stroke-width="0" fill-opacity="0.8"/>
<circle cx="406.32" cy="734.50" r="2.47" fill="#72a9dc" stroke="none" stroke-width="0" fill-opacity="0.8"/>
<circle cx="403.82" cy="733.08" r="2.73" fill="#72a9dc" stroke="none" stroke-width="0" fill-opacity="0.8"/>
<circle cx="400.08" cy="730.71" r="3.29" fill="#72a9dc" stroke="none" stroke-width="0" fill-opacity="0.8"/>
<circle cx="404.24" cy="732.98" r="2.99" fill="#9ccbef" stroke="none" stroke-width="0" fill-opacity="0.8"/>
<circle cx="400.73" cy="730.89" r="2.78" fill="#72a9dc" stroke="none" stroke-width="0" fill-opacity="0.8"/>
<circle cx="403.58" cy="731.72" r="3.03" fill="#72a9dc" stroke="none" stroke-width="0" fill-opacity="0.8"/>
<circle cx="404.92" cy="732.18" r="3.18" fill="#72a9dc" stroke="none" stroke-width="0" fill-opacity="0.8"/>
<circle cx="403.74" cy="731.16" r="2.98" fill="#9ccbef" stroke="none" stroke-width="0" fill-opacity="0.8"/>
<circle cx="399.37" cy="728.50" r="2.44" fill="#9ccbef" stroke="none" stroke-width="0" fill-opacity="0.8"/>
<circle cx="403.12" cy="730.56" r="3.16" fill="#9ccbef" stroke="none" stroke-width="0" fill-opacity="0.8"/>
<circle cx="403.07" cy="730.49" r="2.43" fill="#72a9dc" stroke="none" stroke-width="0" fill-opacity="0.8"/>
<circle cx="406.19" cy="732.12" r="2.62" fill="#9ccbef" stroke="none" stroke-width="0" fill-opacity="0.8"/>
<circle cx="400.23" cy="728.66" r="3.16" fill="#9ccbef" stroke="none" stroke-width="0" fill-opacity="0.8"/>
<circle cx="407.21" cy="732.18" r="2.81" fill="#72a9dc" stroke="none" stroke-width="0" fill-opacity="0.8"/>
<circle cx="403.47" cy="729.73" r="2.66" fill="#72a9dc" stroke="none" stroke-width="0" fill-opacity="0.8"/>
<circle cx="399.95" cy="727.67" r="2.76" fill="#72a9dc" stroke="none" stroke-width="0" fill-opacity="0.8"/>
<circle cx="407.70" cy="731.46" r="2.31" fill="#9ccbef" stroke="none" stroke-width="0" fill-opacity="0.8"/>
<circle cx="399.92" cy="726.63" r="2.45" fill="#72a9dc" stroke="none" stroke-width="0" fill-opacity="0.8"/>
<circle cx="405.58" cy="729.35" r="3.43" fill="#9ccbef" stroke="none" stroke-width="0" fill-opacity="0.8"/>
<circle cx="400.45" cy="726.51" r="2.68" fill="#9ccbef" stroke="none" stroke-width="0" fill-opacity="0.8"/>
<circle cx="404.42" cy="727.55" r="3.38" fill="#9ccbef" stroke="none" stroke-width="0" fill-opacity="0.8"/>
<circle cx="403.91" cy="726.98" r="3.28" fill="#9ccbef" stroke="none" stroke-width="0" fill-opacity="0.8"/>
<circle cx="401.86" cy="725.29" r="3.25" fill="#9ccbef" stroke="none" stroke-width="0" fill-opacity="0.8"/>
<circle cx="401.45" cy="724.83" r="2.53" fill="#72a9dc" stroke="none" stroke-width="0" fill-opacity="0.8"/>
<circle cx="408.92" cy="728.30" r="3.03" fill="#9ccbef" stroke="none" stroke-width="0" fill-opacity="0.8"/>
<circle cx="409.64" cy="728.39" r="2.40" fill="#72a9dc" stroke="none" stroke-width="0" fill-opacity="0.8"/>
<circle cx="402.59" cy="724.67" r="2.51" fill="#9ccbef" stroke="none" stroke-width="0" fill-opacity="0.8"/>
<circle cx="405.32" cy="726.05" r="2.53" fill="#72a9dc" stroke="none" stroke-width="0" fill-opacity="0.8"/>
<circle cx="402.32" cy="724.16" r="2.96" fill="#72a9dc" stroke="none" stroke-width="0" fill-opacity="0.8"/>
<circle cx="402.48" cy="724.11" r="2.55" fill="#9ccbef" stroke="none" stroke-width="0" fill-opacity="0.8"/>
<circle cx="409.16" cy="726.44" r="2.96" fill="#72a9dc" stroke="none" stroke-width="0" fill-opacity="0.8"/>
<circle cx="408.10" cy="725.28" r="3.04" fill="#72a9dc" stroke="none" stroke-width="0" fill-opacity="0.8"/>
<circle cx="407.41" cy="724.80" r="2.49" fill="#72a9dc" stroke="none" stroke-width="0" fill-opacity="0.8"/>
<circle cx="406.64" cy="722.24" r="3.49" fill="#72a9dc" stroke="none" stroke-width="0" fill-opacity="0.8"/>
<circle cx="404.48" cy="720.50" r="3.58" fill="#72a9dc" stroke="none" stroke-width="0" fill-opacity="0.8"/>
<circle cx="408.55" cy="722.15" r="3.40" fill="#72a9dc" stroke="none" stroke-width="0" fill-opacity="0.8"/>
<circle cx="413.19" cy="724.33" r="2.82" fill="#72a9dc" stroke="none" stroke-width="0" fill-opacity="0.8"/>
<circle cx="403.29" cy="718.91" r="2.81" fill="#9ccbef" stroke="none" stroke-width="0" fill-opacity="0.8"/>
<circle cx="405.53" cy="720.03" r="2.71" fill="#72a9dc" stroke="none" stroke-width="0" fill-opacity="0.8"/>
<circle cx="405.80" cy="720.03" r="2.30" fill="#9ccbef" stroke="none" stroke-width="0" fill-opacity="0.8"/>
<circle cx="413.67" cy="723.83" r="2.81" fill="#72a9dc" stroke="none" stroke-width="0" fill-opacity="0.8"/>
<circle cx="404.26" cy="718.66" r="2.91" fill="#72a9dc" stroke="none" stroke-width="0" fill-opacity="0.8"/>
<circle cx="406.23" cy="719.65" r="3.29" fill="#9ccbef" stroke="none" stroke-width="0" fill-opacity="0.8"/>
<circle cx="409.08" cy="720.85" r="3.28" fill="#72a9dc" stroke="none" stroke-width="0" fill-opacity="0.8"/>
<circle cx="404.13" cy="718.05" r="2.93" fill="#9ccbef" stroke="none" stroke-width="0" fill-opacity="0.8"/>
<circle cx="410.15" cy="721.10" r="3.57" fill="#72a9dc" stroke="none" stroke-width="0" fill-opacity="0.8"/>
<circle cx="410.33" cy="720.80" r="2.48" fill="#72a9dc" stroke="none" stroke-width="0" fill-opacity="0.8"/>
<circle cx="413.70" cy="722.33" r="2.39" fill="#72a9dc" stroke="none" stroke-width="0" fill-opacity="0.8"/>
<circle cx="403.36" cy="716.77" r="2.71" fill="#5890c6" stroke="none" stroke-width="0" fill-opacity="0.8"/>
<circle cx="410.62" cy="720.28" r="3.18" fill="#5890c6" stroke="none" stroke-width="0" fill-opacity="0.8"/>
<circle cx="406.52" cy="717.58" r="2.49" fill="#5890c6" stroke="none" stroke-width="0" fill-opacity="0.8"/>
<circle cx="409.82" cy="719.06" r="3.21" fill="#5890c6" stroke="none" stroke-width="0" fill-opacity="0.8"/>
<circle cx="405.40" cy="716.74" r="3.44" fill="#5890c6" stroke="none" stroke-width="0" fill-opacity="0.8"/>
<circle cx="405.92" cy="716.95" r="3.39" fill="#72a9dc" stroke="none" stroke-width="0" fill-opacity="0.8"/>
<circle cx="411.59" cy="719.77" r="2.99" fill="#72a9dc" stroke="none" stroke-width="0" fill-opacity="0.8"/>
<circle cx="408.79" cy="717.90" r="2.86" fill="#72a9dc" stroke="none" stroke-width="0" fill-opacity="0.8"/>
<circle cx="413.17" cy="719.85" r="2.68" fill="#72a9dc" stroke="none" stroke-width="0" fill-opacity="0.8"/>
<circle cx="411.97" cy="718.73" r="3.35" fill="#5890c6" stroke="none" stroke-width="0" fill-opacity="0.8"/>
<circle cx="408.94" cy="717.04" r="3.01" fill="#72a9dc" stroke="none" stroke-width="0" fill-opacity="0.8"/>
<circle cx="405.21" cy="714.64" r="3.29" fill="#5890c6" stroke="none" stroke-width="0" fill-opacity="0.8"/>
<circle cx="408.01" cy="715.85" r="3.38" fill="#72a9dc" stroke="none" stroke-width="0" fill-opacity="0.8"/>
<circle cx="414.54" cy="719.01" r="2.91" fill="#72a9dc" stroke="none" stroke-width="0" fill-opacity="0.8"/>
<circle cx="409.33" cy="716.32" r="2.38" fill="#72a9dc" stroke="none" stroke-width="0" fill-opacity="0.8"/>
<circle cx="408.88" cy="715.95" r="2.84" fill="#5890c6" stroke="none" stroke-width="0" fill-opacity="0.8"/>
<circle cx="408.95" cy="715.55" r="2.77" fill="#72a9dc" stroke="none" stroke-width="0" fill-opacity="0.8"/>
<circle cx="404.93" cy="712.76" r="2.47" fill="#5890c6" stroke="none" stroke-width="0" fill-opacity="0.8"/>
<circle cx="412.26" cy="716.27" r="2.85" fill="#72a9dc" stroke="none" stroke-width="0" fill-opacity="0.8"/>
<circle cx="410.63" cy="715.22" r="2.63" fill="#5890c6" stroke="none" stroke-width="0" fill-opacity="0.8"/>
<circle cx="409.53" cy="714.57" r="2.41" fill="#72a9dc" stroke="none" stroke-width="0" fill-opacity="0.8"/>
<circle cx="407.92" cy="713.64" r="3.30" fill="#72a9dc" stroke="none" stroke-width="0" fill-opacity="0.8"/>
<circle cx="408.15" cy="713.69" r="3.28" fill="#72a9dc" stroke="none" stroke-width="0" fill-opacity="0.8"/>
<circle cx="414.85" cy="716.46" r="2.97" fill="#72a9dc" stroke="none" stroke-width="0" fill-opacity="0.8"/>
<circle cx="415.42" cy="716.65" r="3.01" fill="#5890c6" stroke="none" stroke-width="0" fill-opacity="0.8"/>
<circle cx="418.25" cy="717.46" r="2.35" fill="#72a9dc" stroke="none" stroke-width="0" fill-opacity="0.8"/>
<circle cx="410.61" cy="713.13" r="3.25" fill="#72a9dc" stroke="none" stroke-width="0" fill-opacity="0.8"/>
<circle cx="416.91" cy="716.00" r="3.43" fill="#72a9dc" stroke="none" stroke-width="0" fill-opacity="0.8"/>
<circle cx="409.16" cy="711.99" r="2.68" fill="#5890c6" stroke="none" stroke-width="0" fill-opacity="0.8"/>
<circle cx="413.10" cy="713.84" r="3.13" fill="#72a9dc" stroke="none" stroke-width="0" fill-opacity="0.8"/>
<circle cx="409.09" cy="711.83" r="3.29" fill="#72a9dc" stroke="none" stroke-width="0" fill-opacity="0.8"/>
<circle cx="416.21" cy="715.15" r="3.40" fill="#72a9dc" stroke="none" stroke-width="0" fill-opacity="0.8"/>
<circle cx="412.38" cy="713.14" r="2.48" fill="#72a9dc" stroke="none" stroke-width="0" fill-opacity="0.8"/>
<circle cx="409.27" cy="711.48" r="3.26" fill="#72a9dc" stroke="none" stroke-width="0" fill-opacity="0.8"/>
<circle cx="408.87" cy="711.26" r="2.37" fill="#5890c6" stroke="none" stroke-width="0" fill-opacity="0.8"/>
<circle cx="409.93" cy="711.01" r="2.95" fill="#5890c6" stroke="none" stroke-width="0" fill-opacity="0.8"/>
<circle cx="413.46" cy="711.60" r="3.32" fill="#5890c6" stroke="none" stroke-width="0" fill-opacity="0.8"/>
<circle cx="410.65" cy="710.18" r="2.32" fill="#72a9dc" stroke="none" stroke-width="0" fill-opacity="0.8"/>
<circle cx="414.67" cy="711.49" r="2.28" fill="#5890c6" stroke="none" stroke-width="0" fill-opacity="0.8"/>
<circle cx="407.43" cy="707.84" r="3.49" fill="#5890c6" stroke="none" stroke-width="0" fill-opacity="0.8"/>
<circle cx="415.93" cy="712.02" r="2.64" fill="#72a9dc" stroke="none" stroke-width="0" fill-opacity="0.8"/>
<circle cx="415.80" cy="711.61" r="2.57" fill="#72a9dc" stroke="none" stroke-width="0" fill-opacity="0.8"/>
<circle cx="418.15" cy="712.52" r="2.34" fill="#72a9dc" stroke="none" stroke-width="0" fill-opacity="0.8"/>
<circle cx="412.89" cy="709.53" r="3.31" fill="#72a9dc" stroke="none" stroke-width="0" fill-opacity="0.8"/>
<circle cx="418.05" cy="712.02" r="2.66" fill="#72a9dc" stroke="none" stroke-width="0" fill-opacity="0.8"/>
<circle cx="420.37" cy="712.97" r="3.11" fill="#5890c6" stroke="none" stroke-width="0" fill-opacity="0.8"/>
<circle cx="410.22" cy="707.58" r="3.18" fill="#72a9dc" stroke="none" stroke-width="0" fill-opacity="0.8"/>
<circle cx="407.70" cy="705.82" r="2.57" fill="#72a9dc" stroke="none" stroke-width="0" fill-opacity="0.8"/>
<circle cx="414.19" cy="708.73" r="2.76" fill="#5890c6" stroke="none" stroke-width="0" fill-opacity="0.8"/>
<circle cx="420.16" cy="711.67" r="3.32" fill="#5890c6" stroke="none" stroke-width="0" fill-opacity="0.8"/>
<circle cx="409.36" cy="706.26" r="2.38" fill="#5890c6" stroke="none" stroke-width="0" fill-opacity="0.8"/>
<circle cx="411.87" cy="707.21" r="3.20" fill="#72a9dc" stroke="none" stroke-width="0" fill-opacity="0.8"/>
<circle cx="417.55" cy="709.99" r="2.82" fill="#72a9dc" stroke="none" stroke-width="0" fill-opacity="0.8"/>
<circle cx="416.26" cy="708.96" r="2.44" fill="#72a9dc" stroke="none" stroke-width="0" fill-opacity="0.8"/>
<circle cx="408.26" cy="704.72" r="2.85" fill="#5890c6" stroke="none" stroke-width="0" fill-opacity="0.8"/>
<circle cx="420.86" cy="710.38" r="3.13" fill="#5890c6" stroke="none" stroke-width="0" fill-opacity="0.8"/>
<circle cx="419.67" cy="709.72" r="2.51" fill="#72a9dc" stroke="none" stroke-width="0" fill-opacity="0.8"/>
<circle cx="419.18" cy="709.22" r="3.59" fill="#5890c6" stroke="none" stroke-width="0" fill-opacity="0.8"/>
<circle cx="411.63" cy="704.65" r="2.51" fill="#72a9dc" stroke="none" stroke-width="0" fill-opacity="0.8"/>
<circle cx="422.31" cy="709.71" r="2.86" fill="#5890c6" stroke="none" stroke-width="0" fill-opacity="0.8"/>
<circle cx="419.24" cy="708.11" r="3.51" fill="#72a9dc" stroke="none" stroke-width="0" fill-opacity="0.8"/>
<circle cx="419.57" cy="706.96" r="2.25" fill="#5890c6" stroke="none" stroke-width="0" fill-opacity="0.8"/>
<circle cx="416.48" cy="705.14" r="2.88" fill="#5890c6" stroke="none" stroke-width="0" fill-opacity="0.8"/>
<circle cx="416.01" cy="704.87" r="3.02" fill="#72a9dc" stroke="none" stroke-width="0" fill-opacity="0.8"/>
<circle cx="421.31" cy="707.31" r="3.18" fill="#72a9dc" stroke="none" stroke-width="0" fill-opacity="0.8"/>
<circle cx="419.97" cy="706.48" r="2.95" fill="#72a9dc" stroke="none" stroke-width="0" fill-opacity="0.8"/>
<circle cx="410.71" cy="701.43" r="2.91" fill="#5890c6" stroke="none" stroke-width="0" fill-opacity="0.8"/>
<circle cx="419.10" cy="705.43" r="3.50" fill="#5890c6" stroke="none" stroke-width="0" fill-opacity="0.8"/>
<circle cx="416.74" cy="704.14" r="3.46" fill="#5890c6" stroke="none" stroke-width="0" fill-opacity="0.8"/>
<circle cx="420.20" cy="705.38" r="2.65" fill="#72a9dc" stroke="none" stroke-width="0" fill-opacity="0.8"/>
<circle cx="413.46" cy="701.69" r="3.38" fill="#5890c6" stroke="none" stroke-width="0" fill-opacity="0.8"/>
<circle cx="411.49" cy="700.68" r="3.26" fill="#72a9dc" stroke="none" stroke-width="0" fill-opacity="0.8"/>
<circle cx="417.58" cy="703.60" r="3.14" fill="#5890c6" stroke="none" stroke-width="0" fill-opacity="0.8"/>
<circle cx="413.35" cy="701.44" r="2.87" fill="#72a9dc" stroke="none" stroke-width="0" fill-opacity="0.8"/>
<circle cx="422.26" cy="705.76" r="2.64" fill="#72a9dc" stroke="none" stroke-width="0" fill-opacity="0.8"/>
<circle cx="417.46" cy="702.83" r="2.84" fill="#5890c6" stroke="none" stroke-width="0" fill-opacity="0.8"/>
<circle cx="416.49" cy="702.06" r="2.57" fill="#5890c6" stroke="none" stroke-width="0" fill-opacity="0.8"/>
<circle cx="412.04" cy="699.48" r="2.20" fill="#72a9dc" stroke="none" stroke-width="0" fill-opacity="0.8"/>
<circle cx="418.49" cy="702.70" r="2.62" fill="#72a9dc" stroke="none" stroke-width="0" fill-opacity="0.8"/>
<circle cx="412.53" cy="699.65" r="2.49" fill="#72a9dc" stroke="none" stroke-width="0" fill-opacity="0.8"/>
<circle cx="423.35" cy="704.85" r="2.90" fill="#72a9dc" stroke="none" stroke-width="0" fill-opacity="0.8"/>
<circle cx="417.18" cy="701.35" r="2.75" fill="#5890c6" stroke="none" stroke-width="0" fill-opacity="0.8"/>
<circle cx="414.50" cy="699.49" r="2.88" fill="#72a9dc" stroke="none" stroke-width="0" fill-opacity="0.8"/>
<circle cx="416.58" cy="700.42" r="2.62" fill="#72a9dc" stroke="none" stroke-width="0" fill-opacity="0.8"/>
<circle cx="420.56" cy="702.25" r="3.18" fill="#72a9dc" stroke="none" stroke-width="0" fill-opacity="0.8"/>
<circle cx="416.21" cy="699.88" r="2.45" fill="#72a9dc" stroke="none" stroke-width="0" fill-opacity="0.8"/>
<circle cx="418.45" cy="700.97" r="2.22" fill="#5890c6" stroke="none" stroke-width="0" fill-opacity="0.8"/>
<circle cx="414.17" cy="698.38" r="2.82" fill="#72a9dc" stroke="none" stroke-width="0" fill-opacity="0.8"/>
<circle cx="423.78" cy="701.43" r="3.46" fill="#72a9dc" stroke="none" stroke-width="0" fill-opacity="0.8"/>
<circle cx="422.83" cy="700.74" r="3.30" fill="#72a9dc" stroke="none" stroke-width="0" fill-opacity="0.8"/>
<circle cx="419.72" cy="698.23" r="3.52" fill="#5890c6" stroke="none" stroke-width="0" fill-opacity="0.8"/>
<circle cx="421.53" cy="699.10" r="3.59" fill="#72a9dc" stroke="none" stroke-width="0" fill-opacity="0.8"/>
<circle cx="420.84" cy="698.30" r="3.45" fill="#72a9dc" stroke="none" stroke-width="0" fill-opacity="0.8"/>
<circle cx="421.00" cy="698.28" r="3.30" fill="#72a9dc" stroke="none" stroke-width="0" fill-opacity="0.8"/>
<circle cx="417.60" cy="696.29" r="3.26" fill="#72a9dc" stroke="none" stroke-width="0" fill-opacity="0.8"/>
<circle cx="417.56" cy="696.25" r="2.50" fill="#72a9dc" stroke="none" stroke-width="0" fill-opacity="0.8"/>
<circle cx="418.67" cy="696.58" r="2.81" fill="#5890c6" stroke="none" stroke-width="0" fill-opacity="0.8"/>
<circle cx="425.99" cy="699.90" r="2.66" fill="#72a9dc" stroke="none" stroke-width="0" fill-opacity="0.8"/>
<circle cx="418.62" cy="696.12" r="2.53" fill="#72a9dc" stroke="none" stroke-width="0" fill-opacity="0.8"/>
<circle cx="419.92" cy="696.07" r="3.45" fill="#72a9dc" stroke="none" stroke-width="0" fill-opacity="0.8"/>
<circle cx="418.17" cy="694.93" r="2.89" fill="#72a9dc" stroke="none" stroke-width="0" fill-opacity="0.8"/>
<circle cx="420.11" cy="695.65" r="3.19" fill="#72a9dc" stroke="none" stroke-width="0" fill-opacity="0.8"/>
<circle cx="421.71" cy="696.33" r="3.17" fill="#5890c6" stroke="none" stroke-width="0" fill-opacity="0.8"/>
<circle cx="422.42" cy="696.57" r="2.62" fill="#72a9dc" stroke="none" stroke-width="0" fill-opacity="0.8"/>
<circle cx="422.91" cy="696.48" r="2.89" fill="#5890c6" stroke="none" stroke-width="0" fill-opacity="0.8"/>
<circle cx="422.82" cy="696.41" r="3.51" fill="#72a9dc" stroke="none" stroke-width="0" fill-opacity="0.8"/>
<circle cx="423.04" cy="695.30" r="2.23" fill="#72a9dc" stroke="none" stroke-width="0" fill-opacity="0.8"/>
<circle cx="419.34" cy="693.02" r="3.16" fill="#5890c6" stroke="none" stroke-width="0" fill-opacity="0.8"/>
<circle cx="420.30" cy="693.13" r="3.06" fill="#72a9dc" stroke="none" stroke-width="0" fill-opacity="0.8"/>
<circle cx="424.80" cy="695.10" r="2.68" fill="#72a9dc" stroke="none" stroke-width="0" fill-opacity="0.8"/>
<circle cx="417.37" cy="691.12" r="3.01" fill="#72a9dc" stroke="none" stroke-width="0" fill-opacity="0.8"/>
<circle cx="418.02" cy="690.80" r="3.46" fill="#5890c6" stroke="none" stroke-width="0" fill-opacity="0.8"/>
<circle cx="421.08" cy="692.18" r="3.04" fill="#72a9dc" stroke="none" stroke-width="0" fill-opacity="0.8"/>
<circle cx="424.65" cy="694.08" r="2.52" fill="#5890c6" stroke="none" stroke-width="0" fill-opacity="0.8"/>
<circle cx="418.91" cy="690.94" r="3.37" fill="#72a9dc" stroke="none" stroke-width="0" fill-opacity="0.8"/>
<circle cx="421.06" cy="691.91" r="2.99" fill="#72a9dc" stroke="none" stroke-width="0" fill-opacity="0.8"/>
<circle cx="419.61" cy="691.03" r="2.78" fill="#72a9dc" stroke="none" stroke-width="0" fill-opacity="0.8"/>
<circle cx="420.27" cy="689.77" r="2.68" fill="#72a9dc" stroke="none" stroke-width="0" fill-opacity="0.8"/>
<circle cx="422.42" cy="690.91" r="2.46" fill="#5890c6" stroke="none" stroke-width="0" fill-opacity="0.8"/>
<circle cx="426.60" cy="692.51" r="3.36" fill="#72a9dc" stroke="none" stroke-width="0" fill-opacity="0.8"/>
<circle cx="421.62" cy="689.42" r="2.79" fill="#72a9dc" stroke="none" stroke-width="0" fill-opacity="0.8"/>
<circle cx="423.25" cy="690.24" r="3.01" fill="#72a9dc" stroke="none" stroke-width="0" fill-opacity="0.8"/>
<circle cx="419.99" cy="687.65" r="3.49" fill="#72a9dc" stroke="none" stroke-width="0" fill-opacity="0.8"/>
<circle cx="424.37" cy="689.56" r="2.53" fill="#72a9dc" stroke="none" stroke-width="0" fill-opacity="0.8"/>
<circle cx="421.05" cy="687.19" r="3.05" fill="#5890c6" stroke="none" stroke-width="0" fill-opacity="0.8"/>
<circle cx="427.82" cy="690.51" r="3.23" fill="#5890c6" stroke="none" stroke-width="0" fill-opacity="0.8"/>
<circle cx="426.19" cy="688.73" r="2.87" fill="#5890c6" stroke="none" stroke-width="0" fill-opacity="0.8"/>
<circle cx="428.52" cy="689.97" r="2.52" fill="#72a9dc" stroke="none" stroke-width="0" fill-opacity="0.8"/>
<circle cx="426.26" cy="687.74" r="2.37" fill="#5890c6" stroke="none" stroke-width="0" fill-opacity="0.8"/>
<circle cx="424.87" cy="686.45" r="2.38" fill="#5890c6" stroke="none" stroke-width="0" fill-opacity="0.8"/>
<circle cx="428.56" cy="688.27" r="3.38" fill="#5890c6" stroke="none" stroke-width="0" fill-opacity="0.8"/>
<circle cx="428.35" cy="687.58" r="2.29" fill="#72a9dc" stroke="none" stroke-width="0" fill-opacity="0.8"/>
<circle cx="426.45" cy="686.46" r="3.13" fill="#5890c6" stroke="none" stroke-width="0" fill-opacity="0.8"/>
<circle cx="425.77" cy="685.67" r="2.46" fill="#72a9dc" stroke="none" stroke-width="0" fill-opacity="0.8"/>
<circle cx="424.87" cy="684.83" r="3.45" fill="#72a9dc" stroke="none" stroke-width="0" fill-opacity="0.8"/>
<circle cx="423.03" cy="683.76" r="2.89" fill="#72a9dc" stroke="none" stroke-width="0" fill-opacity="0.8"/>
<circle cx="426.06" cy="684.87" r="2.41" fill="#5890c6" stroke="none" stroke-width="0" fill-opacity="0.8"/>
<circle cx="428.70" cy="686.02" r="2.80" fill="#72a9dc" stroke="none" stroke-width="0" fill-opacity="0.8"/>
<circle cx="428.74" cy="685.93" r="3.21" fill="#72a9dc" stroke="none" stroke-width="0" fill-opacity="0.8"/>
<circle cx="427.05" cy="684.88" r="3.25" fill="#5890c6" stroke="none" stroke-width="0" fill-opacity="0.8"/>
<circle cx="426.05" cy="684.35" r="3.05" fill="#72a9dc" stroke="none" stroke-width="0" fill-opacity="0.8"/>
<circle cx="430.48" cy="685.99" r="3.42" fill="#72a9dc" stroke="none" stroke-width="0" fill-opacity="0.8"/>
<circle cx="427.50" cy="684.32" r="2.75" fill="#5890c6" stroke="none" stroke-width="0" fill-opacity="0.8"/>
<circle cx="424.48" cy="682.79" r="2.67" fill="#5890c6" stroke="none" stroke-width="0" fill-opacity="0.8"/>
<circle cx="425.25" cy="683.11" r="2.55" fill="#72a9dc" stroke="none" stroke-width="0" fill-opacity="0.8"/>
<circle cx="428.12" cy="684.41" r="3.58" fill="#72a9dc" stroke="none" stroke-width="0" fill-opacity="0.8"/>
<circle cx="425.12" cy="682.62" r="2.64" fill="#72a9dc" stroke="none" stroke-width="0" fill-opacity="0.8"/>
<circle cx="430.29" cy="684.67" r="2.64" fill="#5890c6" stroke="none" stroke-width="0" fill-opacity="0.8"/>
<circle cx="431.20" cy="684.60" r="2.25" fill="#72a9dc" stroke="none" stroke-width="0" fill-opacity="0.8"/>
<circle cx="428.74" cy="682.96" r="3.56" fill="#72a9dc" stroke="none" stroke-width="0" fill-opacity="0.8"/>
<circle cx="430.67" cy="683.75" r="2.29" fill="#72a9dc" stroke="none" stroke-width="0" fill-opacity="0.8"/>
<circle cx="426.61" cy="681.75" r="2.99" fill="#72a9dc" stroke="none" stroke-width="0" fill-opacity="0.8"/>
<circle cx="428.62" cy="682.16" r="3.51" fill="#72a9dc" stroke="none" stroke-width="0" fill-opacity="0.8"/>
<circle cx="426.20" cy="680.24" r="3.07" fill="#72a9dc" stroke="none" stroke-width="0" fill-opacity="0.8"/>
<circle cx="427.83" cy="679.99" r="3.44" fill="#5890c6" stroke="none" stroke-width="0" fill-opacity="0.8"/>
<circle cx="428.59" cy="680.26" r="3.18" fill="#5890c6" stroke="none" stroke-width="0" fill-opacity="0.8"/>
<circle cx="431.52" cy="681.29" r="2.24" fill="#72a9dc" stroke="none" stroke-width="0" fill-opacity="0.8"/>
<circle cx="430.26" cy="679.63" r="3.10" fill="#5890c6" stroke="none" stroke-width="0" fill-opacity="0.8"/>
<circle cx="429.37" cy="678.88" r="3.24" fill="#5890c6" stroke="none" stroke-width="0" fill-opacity="0.8"/>
<circle cx="430.74" cy="679.08" r="3.43" fill="#5890c6" stroke="none" stroke-width="0" fill-opacity="0.8"/>
<circle cx="429.18" cy="678.41" r="2.91" fill="#5890c6" stroke="none" stroke-width="0" fill-opacity="0.8"/>
<circle cx="433.17" cy="679.63" r="3.17" fill="#72a9dc" stroke="none" stroke-width="0" fill-opacity="0.8"/>
<circle cx="430.81" cy="678.69" r="2.66" fill="#72a9dc" stroke="none" stroke-width="0" fill-opacity="0.8"/>
<circle cx="427.64" cy="677.38" r="3.22" fill="#5890c6" stroke="none" stroke-width="0" fill-opacity="0.8"/>
<circle cx="432.86" cy="679.07" r="3.36" fill="#5890c6" stroke="none" stroke-width="0" fill-opacity="0.8"/>
<circle cx="431.78" cy="678.30" r="3.46" fill="#72a9dc" stroke="none" stroke-width="0" fill-opacity="0.8"/>
<circle cx="430.04" cy="677.53" r="2.90" fill="#5890c6" stroke="none" stroke-width="0" fill-opacity="0.8"/>
<circle cx="433.12" cy="678.45" r="2.84" fill="#72a9dc" stroke="none" stroke-width="0" fill-opacity="0.8"/>
<circle cx="428.07" cy="675.68" r="2.47" fill="#5890c6" stroke="none" stroke-width="0" fill-opacity="0.8"/>
<circle cx="428.84" cy="675.68" r="2.63" fill="#72a9dc" stroke="none" stroke-width="0" fill-opacity="0.8"/>
<circle cx="433.74" cy="676.84" r="3.50" fill="#72a9dc" stroke="none" stroke-width="0" fill-opacity="0.8"/>
<circle cx="429.95" cy="674.66" r="2.26" fill="#72a9dc" stroke="none" stroke-width="0" fill-opacity="0.8"/>
<circle cx="432.63" cy="675.04" r="3.56" fill="#72a9dc" stroke="none" stroke-width="0" fill-opacity="0.8"/>
<circle cx="430.29" cy="674.09" r="3.13" fill="#5890c6" stroke="none" stroke-width="0" fill-opacity="0.8"/>
<circle cx="433.41" cy="675.27" r="2.21" fill="#5890c6" stroke="none" stroke-width="0" fill-opacity="0.8"/>
<circle cx="432.91" cy="674.58" r="3.08" fill="#72a9dc" stroke="none" stroke-width="0" fill-opacity="0.8"/>
<circle cx="431.28" cy="673.96" r="2.94" fill="#72a9dc" stroke="none" stroke-width="0" fill-opacity="0.8"/>
<circle cx="431.02" cy="673.72" r="3.17" fill="#5890c6" stroke="none" stroke-width="0" fill-opacity="0.8"/>
<circle cx="430.02" cy="673.19" r="3.06" fill="#5890c6" stroke="none" stroke-width="0" fill-opacity="0.8"/>
<circle cx="431.75" cy="673.33" r="2.38" fill="#5890c6" stroke="none" stroke-width="0" fill-opacity="0.8"/>
<circle cx="429.85" cy="672.55" r="2.85" fill="#72a9dc" stroke="none" stroke-width="0" fill-opacity="0.8"/>
<circle cx="430.33" cy="671.95" r="2.34" fill="#72a9dc" stroke="none" stroke-width="0" fill-opacity="0.8"/>
<circle cx="429.58" cy="671.61" r="2.47" fill="#5890c6" stroke="none" stroke-width="0" fill-opacity="0.8"/>
<circle cx="433.22" cy="672.63" r="2.57" fill="#5890c6" stroke="none" stroke-width="0" fill-opacity="0.8"/>
<circle cx="433.43" cy="672.57" r="2.80" fill="#72a9dc" stroke="none" stroke-width="0" fill-opacity="0.8"/>
<circle cx="429.99" cy="671.14" r="2.37" fill="#5890c6" stroke="none" stroke-width="0" fill-opacity="0.8"/>
<circle cx="430.94" cy="670.99" r="3.32" fill="#72a9dc" stroke="none" stroke-width="0" fill-opacity="0.8"/>
<circle cx="435.01" cy="672.36" r="3.13" fill="#72a9dc" stroke="none" stroke-width="0" fill-opacity="0.8"/>
<circle cx="431.97" cy="671.27" r="3.46" fill="#72a9dc" stroke="none" stroke-width="0" fill-opacity="0.8"/>
<circle cx="432.32" cy="670.48" r="2.20" fill="#72a9dc" stroke="none" stroke-width="0" fill-opacity="0.8"/>
<circle cx="435.26" cy="671.45" r="3.00" fill="#72a9dc" stroke="none" stroke-width="0" fill-opacity="0.8"/>
<circle cx="430.65" cy="669.90" r="2.31" fill="#5890c6" stroke="none" stroke-width="0" fill-opacity="0.8"/>
<circle cx="432.98" cy="669.88" r="3.30" fill="#72a9dc" stroke="none" stroke-width="0" fill-opacity="0.8"/>
<circle cx="431.90" cy="669.23" r="2.95" fill="#72a9dc" stroke="none" stroke-width="0" fill-opacity="0.8"/>
<circle cx="431.74" cy="669.15" r="3.07" fill="#72a9dc" stroke="none" stroke-width="0" fill-opacity="0.8"/>
<circle cx="433.68" cy="669.55" r="2.51" fill="#5890c6" stroke="none" stroke-width="0" fill-opacity="0.8"/>
<circle cx="431.22" cy="668.69" r="3.40" fill="#72a9dc" stroke="none" stroke-width="0" fill-opacity="0.8"/>
<circle cx="434.22" cy="669.50" r="3.33" fill="#72a9dc" stroke="none" stroke-width="0" fill-opacity="0.8"/>
<circle cx="434.36" cy="669.43" r="2.51" fill="#5890c6" stroke="none" stroke-width="0" fill-opacity="0.8"/>
<circle cx="434.28" cy="669.26" r="2.25" fill="#72a9dc" stroke="none" stroke-width="0" fill-opacity="0.8"/>
<circle cx="431.63" cy="668.47" r="2.53" fill="#72a9dc" stroke="none" stroke-width="0" fill-opacity="0.8"/>
<circle cx="435.58" cy="669.55" r="2.41" fill="#5890c6" stroke="none" stroke-width="0" fill-opacity="0.8"/>
<circle cx="433.87" cy="669.02" r="2.90" fill="#5890c6" stroke="none" stroke-width="0" fill-opacity="0.8"/>
<circle cx="435.91" cy="669.08" r="3.26" fill="#72a9dc" stroke="none" stroke-width="0" fill-opacity="0.8"/>
<circle cx="432.28" cy="667.82" r="2.32" fill="#5890c6" stroke="none" stroke-width="0" fill-opacity="0.8"/>
<circle cx="435.50" cy="667.94" r="2.56" fill="#72a9dc" stroke="none" stroke-width="0" fill-opacity="0.8"/>
<circle cx="431.94" cy="666.97" r="2.73" fill="#5890c6" stroke="none" stroke-width="0" fill-opacity="0.8"/>
<circle cx="434.55" cy="667.37" r="2.29" fill="#5890c6" stroke="none" stroke-width="0" fill-opacity="0.8"/>
<circle cx="435.61" cy="667.55" r="3.51" fill="#5890c6" stroke="none" stroke-width="0" fill-opacity="0.8"/>
<circle cx="433.71" cy="666.48" r="3.44" fill="#72a9dc" stroke="none" stroke-width="0" fill-opacity="0.8"/>
<circle cx="434.59" cy="666.50" r="3.03" fill="#5890c6" stroke="none" stroke-width="0" fill-opacity="0.8"/>
<circle cx="432.13" cy="665.28" r="2.35" fill="#5890c6" stroke="none" stroke-width="0" fill-opacity="0.8"/>
<circle cx="434.16" cy="665.66" r="2.45" fill="#5890c6" stroke="none" stroke-width="0" fill-opacity="0.8"/>
<circle cx="435.16" cy="665.73" r="2.73" fill="#5890c6" stroke="none" stroke-width="0" fill-opacity="0.8"/>
<circle cx="436.77" cy="666.07" r="3.45" fill="#72a9dc" stroke="none" stroke-width="0" fill-opacity="0.8"/>
<circle cx="431.53" cy="664.74" r="2.37" fill="#5890c6" stroke="none" stroke-width="0" fill-opacity="0.8"/>
<circle cx="434.47" cy="665.33" r="3.04" fill="#72a9dc" stroke="none" stroke-width="0" fill-opacity="0.8"/>
<circle cx="436.40" cy="664.76" r="2.88" fill="#5890c6" stroke="none" stroke-width="0" fill-opacity="0.8"/>
<circle cx="435.80" cy="664.07" r="2.34" fill="#72a9dc" stroke="none" stroke-width="0" fill-opacity="0.8"/>
<circle cx="435.60" cy="663.88" r="3.16" fill="#5890c6" stroke="none" stroke-width="0" fill-opacity="0.8"/>
<circle cx="434.38" cy="663.52" r="2.55" fill="#72a9dc" stroke="none" stroke-width="0" fill-opacity="0.8"/>
<circle cx="432.77" cy="663.04" r="3.35" fill="#5890c6" stroke="none" stroke-width="0" fill-opacity="0.8"/>
<circle cx="436.07" cy="663.63" r="2.61" fill="#5890c6" stroke="none" stroke-width="0" fill-opacity="0.8"/>
<circle cx="435.18" cy="663.34" r="2.41" fill="#72a9dc" stroke="none" stroke-width="0" fill-opacity="0.8"/>
<circle cx="433.82" cy="662.65" r="2.90" fill="#72a9dc" stroke="none" stroke-width="0" fill-opacity="0.8"/>
<circle cx="436.45" cy="662.92" r="2.39" fill="#5890c6" stroke="none" stroke-width="0" fill-opacity="0.8"/>
<circle cx="432.47" cy="661.82" r="3.37" fill="#72a9dc" stroke="none" stroke-width="0" fill-opacity="0.8"/>
<circle cx="434.12" cy="661.99" r="3.37" fill="#5890c6" stroke="none" stroke-width="0" fill-opacity="0.8"/>
<circle cx="433.41" cy="661.60" r="2.41" fill="#72a9dc" stroke="none" stroke-width="0" fill-opacity="0.8"/>
<circle cx="433.37" cy="660.80" r="2.51" fill="#72a9dc" stroke="none" stroke-width="0" fill-opacity="0.8"/>
<circle cx="435.96" cy="660.80" r="3.39" fill="#5890c6" stroke="none" stroke-width="0" fill-opacity="0.8"/>
<circle cx="434.87" cy="660.40" r="3.00" fill="#72a9dc" stroke="none" stroke-width="0" fill-opacity="0.8"/>
<circle cx="434.78" cy="659.31" r="2.41" fill="#72a9dc" stroke="none" stroke-width="0" fill-opacity="0.8"/>
<circle cx="433.28" cy="658.81" r="3.37" fill="#5890c6" stroke="none" stroke-width="0" fill-opacity="0.8"/>
<circle cx="436.75" cy="659.62" r="3.23" fill="#5890c6" stroke="none" stroke-width="0" fill-opacity="0.8"/>
<circle cx="437.09" cy="659.69" r="3.20" fill="#72a9dc" stroke="none" stroke-width="0" fill-opacity="0.8"/>
<circle cx="434.86" cy="658.79" r="3.20" fill="#5890c6" stroke="none" stroke-width="0" fill-opacity="0.8"/>
<circle cx="437.32" cy="659.19" r="2.91" fill="#5890c6" stroke="none" stroke-width="0" fill-opacity="0.8"/>
<circle cx="435.45" cy="658.42" r="2.54" fill="#5890c6" stroke="none" stroke-width="0" fill-opacity="0.8"/>
<circle cx="438.13" cy="659.03" r="2.26" fill="#72a9dc" stroke="none" stroke-width="0" fill-opacity="0.8"/>
<circle cx="434.64" cy="658.07" r="2.48" fill="#72a9dc" stroke="none" stroke-width="0" fill-opacity="0.8"/>
<circle cx="436.41" cy="658.39" r="3.45" fill="#5890c6" stroke="none" stroke-width="0" fill-opacity="0.8"/>
<circle cx="437.42" cy="658.45" r="2.84" fill="#72a9dc" stroke="none" stroke-width="0" fill-opacity="0.8"/>
</g>
<circle cx="352.70" cy="750.50" r="3.60" fill="#5890c6" stroke="none" stroke-width="1" />
<circle cx="374.40" cy="750.50" r="3.60" fill="#5890c6" stroke="none" stroke-width="1" />
<circle cx="432.80" cy="653.90" r="6.00" fill="#4a82bb" stroke="none" stroke-width="0" fill-opacity="0.95"/>
<circle cx="434.20" cy="660.50" r="5.00" fill="#4a82bb" stroke="none" stroke-width="0" fill-opacity="0.95"/>
<circle cx="433.50" cy="662.20" r="4.50" fill="#4a82bb" stroke="none" stroke-width="0" fill-opacity="0.95"/>
<circle cx="424.00" cy="676.80" r="5.20" fill="#4a82bb" stroke="none" stroke-width="0" fill-opacity="0.95"/>
<circle cx="414.50" cy="696.50" r="5.20" fill="#4a82bb" stroke="none" stroke-width="0" fill-opacity="0.95"/>
<circle cx="423.30" cy="703.80" r="5.20" fill="#4a82bb" stroke="none" stroke-width="0" fill-opacity="0.95"/>
<circle cx="411.60" cy="712.60" r="5.00" fill="#4a82bb" stroke="none" stroke-width="0" fill-opacity="0.95"/>
<circle cx="415.00" cy="716.00" r="4.00" fill="#4a82bb" stroke="none" stroke-width="0" fill-opacity="0.95"/>
<circle cx="431.00" cy="677.00" r="2.80" fill="#72a9dc" stroke="none" stroke-width="1" />
<circle cx="434.00" cy="681.00" r="2.60" fill="#72a9dc" stroke="none" stroke-width="1" />
<circle cx="436.00" cy="686.00" r="2.60" fill="#72a9dc" stroke="none" stroke-width="1" />
<circle cx="432.00" cy="690.00" r="2.60" fill="#72a9dc" stroke="none" stroke-width="1" />
<circle cx="437.00" cy="690.00" r="2.50" fill="#72a9dc" stroke="none" stroke-width="1" />
<circle cx="314.70" cy="708.20" r="5.20" fill="#5890c6" stroke="none" stroke-width="0" fill-opacity="0.9"/>
<circle cx="319.80" cy="726.40" r="5.20" fill="#5890c6" stroke="none" stroke-width="0" fill-opacity="0.9"/>
<circle cx="293.50" cy="690.00" r="3.20" fill="#72a9dc" stroke="none" stroke-width="0" fill-opacity="0.9"/>
<circle cx="296.90" cy="635.00" r="3.30" fill="#72a9dc" stroke="none" stroke-width="0" fill-opacity="0.9"/>
<circle cx="297.30" cy="644.70" r="3.30" fill="#72a9dc" stroke="none" stroke-width="0" fill-opacity="0.9"/>
<circle cx="283.30" cy="656.70" r="3.30" fill="#72a9dc" stroke="none" stroke-width="0" fill-opacity="0.9"/>
<circle cx="306.60" cy="664.00" r="3.30" fill="#72a9dc" stroke="none" stroke-width="0" fill-opacity="0.9"/>
<circle cx="306.70" cy="663.60" r="3.00" fill="#72a9dc" stroke="none" stroke-width="0" fill-opacity="0.9"/>
<circle cx="290.50" cy="581.20" r="3.20" fill="#f9c170" stroke="none" stroke-width="0" fill-opacity="0.9"/>
<circle cx="281.70" cy="620.60" r="3.20" fill="#f9c170" stroke="none" stroke-width="0" fill-opacity="0.9"/>
<circle cx="294.20" cy="649.50" r="3.20" fill="#f9c170" stroke="none" stroke-width="0" fill-opacity="0.9"/>
<circle cx="298.20" cy="652.40" r="3.20" fill="#f9c170" stroke="none" stroke-width="0" fill-opacity="0.9"/>
<circle cx="305.00" cy="658.80" r="3.20" fill="#f5a623" stroke="none" stroke-width="0" fill-opacity="0.9"/>
<circle cx="290.60" cy="671.00" r="3.00" fill="#f9c170" stroke="none" stroke-width="0" fill-opacity="0.9"/>
<circle cx="304.00" cy="676.00" r="3.00" fill="#f9c170" stroke="none" stroke-width="0" fill-opacity="0.9"/>
<circle cx="302.00" cy="680.00" r="3.00" fill="#f9c170" stroke="none" stroke-width="0" fill-opacity="0.9"/>
<circle cx="306.00" cy="684.00" r="2.80" fill="#f9c170" stroke="none" stroke-width="0" fill-opacity="0.9"/>
<circle cx="299.00" cy="686.00" r="3.00" fill="#f9c170" stroke="none" stroke-width="0" fill-opacity="0.9"/>
<circle cx="307.00" cy="688.00" r="3.00" fill="#f9c170" stroke="none" stroke-width="0" fill-opacity="0.9"/>
<circle cx="296.00" cy="693.00" r="3.00" fill="#f9c170" stroke="none" stroke-width="0" fill-opacity="0.9"/>
<circle cx="309.00" cy="695.00" r="3.00" fill="#f9c170" stroke="none" stroke-width="0" fill-opacity="0.9"/>
<circle cx="307.40" cy="699.40" r="3.00" fill="#f5a623" stroke="none" stroke-width="0" fill-opacity="0.9"/>
<circle cx="323.50" cy="746.10" r="3.00" fill="#f5a623" stroke="none" stroke-width="0" fill-opacity="0.9"/>
<circle cx="329.30" cy="750.50" r="2.80" fill="#f5a623" stroke="none" stroke-width="0" fill-opacity="0.9"/>
<circle cx="342.50" cy="745.40" r="3.00" fill="#f9c170" stroke="none" stroke-width="0" fill-opacity="0.9"/>
<circle cx="326.00" cy="748.00" r="2.60" fill="#f5a623" stroke="none" stroke-width="0" fill-opacity="0.9"/>
<circle cx="445.60" cy="606.20" r="3.00" fill="#f9c170" stroke="none" stroke-width="0" fill-opacity="0.9"/>
<circle cx="445.60" cy="613.00" r="3.00" fill="#f9c170" stroke="none" stroke-width="0" fill-opacity="0.9"/>
<circle cx="426.20" cy="659.00" r="3.00" fill="#f9c170" stroke="none" stroke-width="0" fill-opacity="0.9"/>
<circle cx="431.30" cy="666.60" r="3.00" fill="#f9c170" stroke="none" stroke-width="0" fill-opacity="0.9"/>
<circle cx="430.00" cy="649.00" r="3.00" fill="#f9c170" stroke="none" stroke-width="0" fill-opacity="0.9"/>
<circle cx="432.80" cy="581.40" r="3.00" fill="#f9c170" stroke="none" stroke-width="0" fill-opacity="0.9"/>
<circle cx="437.90" cy="581.40" r="5.50" fill="#f5a623" stroke="none" stroke-width="1" />
<circle cx="446.00" cy="581.40" r="5.50" fill="#f5a623" stroke="none" stroke-width="1" />
<circle cx="452.00" cy="581.40" r="5.50" fill="#f5a623" stroke="none" stroke-width="1" />
<circle cx="457.60" cy="581.70" r="5.50" fill="#f5a623" stroke="none" stroke-width="1" />
<circle cx="439.80" cy="644.70" r="5.30" fill="#f5a623" stroke="none" stroke-width="1" />
<circle cx="410.90" cy="719.10" r="5.80" fill="#f5a623" stroke="none" stroke-width="1" />
<circle cx="298.70" cy="672.40" r="5.50" fill="#f5a623" stroke="none" stroke-width="1" />
<circle cx="291.40" cy="677.50" r="5.80" fill="#f5a623" stroke="none" stroke-width="1" />
<circle cx="303.00" cy="691.40" r="6.00" fill="#f5a623" stroke="none" stroke-width="1" />
<circle cx="289.20" cy="698.70" r="5.80" fill="#f5a623" stroke="none" stroke-width="1" />
<rect x="269.30" y="573.20" width="196.30" height="180.80" fill="none" stroke="#333" stroke-width="1" />
<line x1="328.50" y1="573.20" x2="328.50" y2="754.00" stroke="#222" stroke-width="1" stroke-dasharray="3,2.2"/>
<line x1="397.70" y1="573.20" x2="397.70" y2="754.00" stroke="#222" stroke-width="1" stroke-dasharray="3,2.2"/>
<line x1="269.30" y1="728.37" x2="465.60" y2="728.37" stroke="#222" stroke-width="1" stroke-dasharray="3,2.2"/>
<line x1="266.80" y1="750.30" x2="269.30" y2="750.30" stroke="#333" stroke-width="0.9" />
<text x="265.80" y="754.90" font-size="9.8" fill="#111" font-weight="normal" text-anchor="end" >0</text>
<line x1="266.80" y1="716.56" x2="269.30" y2="716.56" stroke="#333" stroke-width="0.9" />
<text x="265.80" y="721.16" font-size="9.8" fill="#111" font-weight="normal" text-anchor="end" >2</text>
<line x1="266.80" y1="682.82" x2="269.30" y2="682.82" stroke="#333" stroke-width="0.9" />
<text x="265.80" y="687.42" font-size="9.8" fill="#111" font-weight="normal" text-anchor="end" >4</text>
<line x1="266.80" y1="649.08" x2="269.30" y2="649.08" stroke="#333" stroke-width="0.9" />
<text x="265.80" y="653.68" font-size="9.8" fill="#111" font-weight="normal" text-anchor="end" >6</text>
<line x1="266.80" y1="615.34" x2="269.30" y2="615.34" stroke="#333" stroke-width="0.9" />
<text x="265.80" y="619.94" font-size="9.8" fill="#111" font-weight="normal" text-anchor="end" >8</text>
<line x1="266.80" y1="581.60" x2="269.30" y2="581.60" stroke="#333" stroke-width="0.9" />
<text x="265.80" y="586.20" font-size="9.8" fill="#111" font-weight="normal" text-anchor="end" >10</text>
<line x1="287.50" y1="754.00" x2="287.50" y2="756.50" stroke="#333" stroke-width="0.9" />
<text x="286.00" y="766.30" font-size="9.8" fill="#111" font-weight="normal" text-anchor="middle" >-2</text>
<line x1="328.50" y1="754.00" x2="328.50" y2="756.50" stroke="#333" stroke-width="0.9" />
<text x="327.00" y="766.30" font-size="9.8" fill="#111" font-weight="normal" text-anchor="middle" >-1</text>
<line x1="363.10" y1="754.00" x2="363.10" y2="756.50" stroke="#333" stroke-width="0.9" />
<text x="363.10" y="766.30" font-size="9.8" fill="#111" font-weight="normal" text-anchor="middle" >0</text>
<line x1="397.70" y1="754.00" x2="397.70" y2="756.50" stroke="#333" stroke-width="0.9" />
<text x="397.70" y="766.30" font-size="9.8" fill="#111" font-weight="normal" text-anchor="middle" >1</text>
<line x1="438.70" y1="754.00" x2="438.70" y2="756.50" stroke="#333" stroke-width="0.9" />
<text x="438.70" y="766.30" font-size="9.8" fill="#111" font-weight="normal" text-anchor="middle" >2</text>
<text x="370.70" y="776.40" font-size="10.15" fill="#111" font-weight="normal" text-anchor="middle" >Normalized Enrichment Score</text>
<text x="0.00" y="0.00" font-size="9.8" fill="#111" font-weight="normal" text-anchor="middle" transform="translate(249,662) rotate(-90)">-log<tspan font-size="6.5" dy="1.5">10</tspan><tspan dy="-1.5">pvalue</tspan></text>
<text x="437.90" y="584.70" font-size="9.3" fill="#b22a1e" font-weight="bold" text-anchor="middle" >4</text>
<text x="449.60" y="582.30" font-size="9.3" fill="#8e44ad" font-weight="bold" text-anchor="middle" >6</text>
<text x="457.60" y="585.00" font-size="9.3" fill="#b22a1e" font-weight="bold" text-anchor="middle" >1</text>
<text x="443.70" y="592.00" font-size="9.3" fill="#8e44ad" font-weight="bold" text-anchor="middle" >8</text>
<text x="448.10" y="597.40" font-size="9.3" fill="#8e44ad" font-weight="bold" text-anchor="middle" >7</text>
<text x="450.70" y="605.10" font-size="9.3" fill="#b22a1e" font-weight="bold" text-anchor="middle" >2</text>
<text x="439.80" y="648.00" font-size="9.3" fill="#b22a1e" font-weight="bold" text-anchor="middle" >3</text>
<text x="431.80" y="648.50" font-size="9.3" fill="#8e44ad" font-weight="bold" text-anchor="middle" >8</text>
<text x="430.60" y="659.40" font-size="9.3" fill="#8e44ad" font-weight="bold" text-anchor="middle" >7</text>
<text x="434.20" y="675.00" font-size="9.3" fill="#8e44ad" font-weight="bold" text-anchor="middle" >6</text>
<text x="424.00" y="680.10" font-size="9.3" fill="#b22a1e" font-weight="bold" text-anchor="middle" >2</text>
<text x="414.50" y="699.80" font-size="9.3" fill="#b22a1e" font-weight="bold" text-anchor="middle" >4</text>
<text x="411.20" y="707.10" font-size="9.3" fill="#b22a1e" font-weight="bold" text-anchor="middle" >5</text>
<text x="423.30" y="707.10" font-size="9.3" fill="#b22a1e" font-weight="bold" text-anchor="middle" >3</text>
<text x="416.70" y="722.40" font-size="9.3" fill="#b22a1e" font-weight="bold" text-anchor="middle" >1</text>
<text x="405.80" y="727.50" font-size="9.3" fill="#b22a1e" font-weight="bold" text-anchor="middle" >5</text>
<text x="298.70" y="675.70" font-size="9.3" fill="#666" font-weight="bold" text-anchor="middle" >10</text>
<text x="291.40" y="680.80" font-size="9.3" fill="#666" font-weight="bold" text-anchor="middle" >9</text>
<text x="303.00" y="694.70" font-size="9.3" fill="#3f9a16" font-weight="bold" text-anchor="middle" >12</text>
<text x="289.20" y="702.00" font-size="9.3" fill="#3f9a16" font-weight="bold" text-anchor="middle" >13</text>
<text x="315.40" y="702.00" font-size="9.3" fill="#555" font-weight="normal" text-anchor="middle" >11</text>
<text x="322.70" y="708.60" font-size="9.3" fill="#3f9a16" font-weight="bold" text-anchor="middle" >13</text>
<text x="323.50" y="715.10" font-size="9.3" fill="#555" font-weight="normal" text-anchor="middle" >10</text>
<text x="324.20" y="721.70" font-size="9.3" fill="#3f9a16" font-weight="bold" text-anchor="middle" >12</text>
<text x="292.80" y="727.50" font-size="9.3" fill="#555" font-weight="normal" text-anchor="middle" >9</text>
<text x="302.30" y="740.70" font-size="9.3" fill="#555" font-weight="normal" text-anchor="middle" >11</text>
<line x1="297.00" y1="723.50" x2="312.00" y2="723.00" stroke="#aaa" stroke-width="0.6" />
<line x1="305.00" y1="733.00" x2="318.00" y2="727.00" stroke="#aaa" stroke-width="0.6" />
<line x1="447.50" y1="584.00" x2="447.50" y2="600.00" stroke="#bbb" stroke-width="0.5" />
<line x1="449.50" y1="584.00" x2="449.50" y2="606.00" stroke="#bbb" stroke-width="0.5" />
<line x1="303.00" y1="698.00" x2="309.00" y2="698.00" stroke="#aaa" stroke-width="0.5" />
<text x="344.30" y="617.00" font-size="10.3" fill="#111" font-weight="normal" text-anchor="start" >Group</text>
<circle cx="335.80" cy="627.30" r="3.90" fill="#f9c170" stroke="none" stroke-width="1" />
<text x="343.20" y="630.70" font-size="8.8" fill="#111" font-weight="normal" text-anchor="start" >VPA vs. CTL</text>
<circle cx="335.80" cy="640.30" r="3.90" fill="#9fc3e6" stroke="none" stroke-width="1" />
<text x="343.50" y="643.70" font-size="8.8" fill="#111" font-weight="normal" text-anchor="start" ><tspan font-style="italic">Fmr1</tspan><tspan font-size="5.5" dy="-3" font-style="italic">-/y</tspan><tspan dy="3"> vs. WT</tspan></text>
<text x="314.60" y="655.30" font-size="8.8" fill="#111" font-weight="normal" text-anchor="start" >(Das Sharma, S., <tspan font-style="italic">et al</tspan>, 2019)</text>
<text x="487.90" y="582.50" font-size="10.3" fill="#111" font-weight="normal" text-anchor="start" >Category</text>
<text x="488.00" y="595.60" font-size="8.8" fill="#b5352a" font-weight="bold" text-anchor="start" >Mitochondria</text>
<text x="485.00" y="605.60" font-size="8.8" fill="#b5352a" font-weight="bold" text-anchor="end" >1</text>
<text x="488.00" y="605.60" font-size="8.8" fill="#b5352a" font-weight="normal" text-anchor="start" >inner mitochondrial membrane protein complex</text>
<text x="485.00" y="615.77" font-size="8.8" fill="#b5352a" font-weight="bold" text-anchor="end" >2</text>
<text x="488.00" y="615.77" font-size="8.8" fill="#b5352a" font-weight="normal" text-anchor="start" >mitochondrial protein-containing complex</text>
<text x="485.00" y="625.94" font-size="8.8" fill="#b5352a" font-weight="bold" text-anchor="end" >3</text>
<text x="488.00" y="625.94" font-size="8.8" fill="#b5352a" font-weight="normal" text-anchor="start" >oxidoreductase complex</text>
<text x="485.00" y="636.11" font-size="8.8" fill="#b5352a" font-weight="bold" text-anchor="end" >4</text>
<text x="488.00" y="636.11" font-size="8.8" fill="#b5352a" font-weight="normal" text-anchor="start" >mitochondrial inner membrane</text>
<text x="485.00" y="646.28" font-size="8.8" fill="#b5352a" font-weight="bold" text-anchor="end" >5</text>
<text x="488.00" y="646.28" font-size="8.8" fill="#b5352a" font-weight="normal" text-anchor="start" >mitochondrion organization</text>
<text x="488.00" y="662.30" font-size="8.8" fill="#8e44a8" font-weight="bold" text-anchor="start" >Ribosome</text>
<text x="485.00" y="672.30" font-size="8.8" fill="#8e44a8" font-weight="bold" text-anchor="end" >6</text>
<text x="488.00" y="672.30" font-size="8.8" fill="#9b59b6" font-weight="normal" text-anchor="start" >structural constituent of ribosome</text>
<text x="485.00" y="682.47" font-size="8.8" fill="#8e44a8" font-weight="bold" text-anchor="end" >7</text>
<text x="488.00" y="682.47" font-size="8.8" fill="#9b59b6" font-weight="normal" text-anchor="start" >ribosomal subunit</text>
<text x="485.00" y="692.64" font-size="8.8" fill="#8e44a8" font-weight="bold" text-anchor="end" >8</text>
<text x="488.00" y="692.64" font-size="8.8" fill="#9b59b6" font-weight="normal" text-anchor="start" >ribosome</text>
<text x="488.00" y="708.00" font-size="8.8" fill="#777777" font-weight="bold" text-anchor="start" >Synapse</text>
<text x="485.00" y="718.00" font-size="8.8" fill="#666666" font-weight="bold" text-anchor="end" >9</text>
<text x="488.00" y="718.00" font-size="8.8" fill="#4cb2e3" font-weight="normal" text-anchor="start" >GABA-ergic synapse</text>
<text x="485.00" y="728.17" font-size="8.8" fill="#666666" font-weight="bold" text-anchor="end" >10</text>
<text x="488.00" y="728.17" font-size="8.8" fill="#4cb2e3" font-weight="normal" text-anchor="start" >synaptic vesicle cycle</text>
<text x="485.00" y="738.34" font-size="8.8" fill="#666666" font-weight="bold" text-anchor="end" >11</text>
<text x="488.00" y="738.34" font-size="8.8" fill="#4cb2e3" font-weight="normal" text-anchor="start" >neuron to neuron synapse</text>
<text x="488.00" y="755.30" font-size="8.8" fill="#3d8c1e" font-weight="bold" text-anchor="start" >SFARI ASD risk gene</text>
<text x="485.00" y="765.30" font-size="8.8" fill="#3d8c1e" font-weight="bold" text-anchor="end" >12</text>
<text x="488.00" y="765.30" font-size="8.8" fill="#3d8c1e" font-weight="normal" text-anchor="start" >syndrome Association</text>
<text x="485.00" y="775.47" font-size="8.8" fill="#3d8c1e" font-weight="bold" text-anchor="end" >13</text>
<text x="488.00" y="775.47" font-size="8.8" fill="#3d8c1e" font-weight="normal" text-anchor="start" >at least 10 reports</text>
</svg></body></html>
